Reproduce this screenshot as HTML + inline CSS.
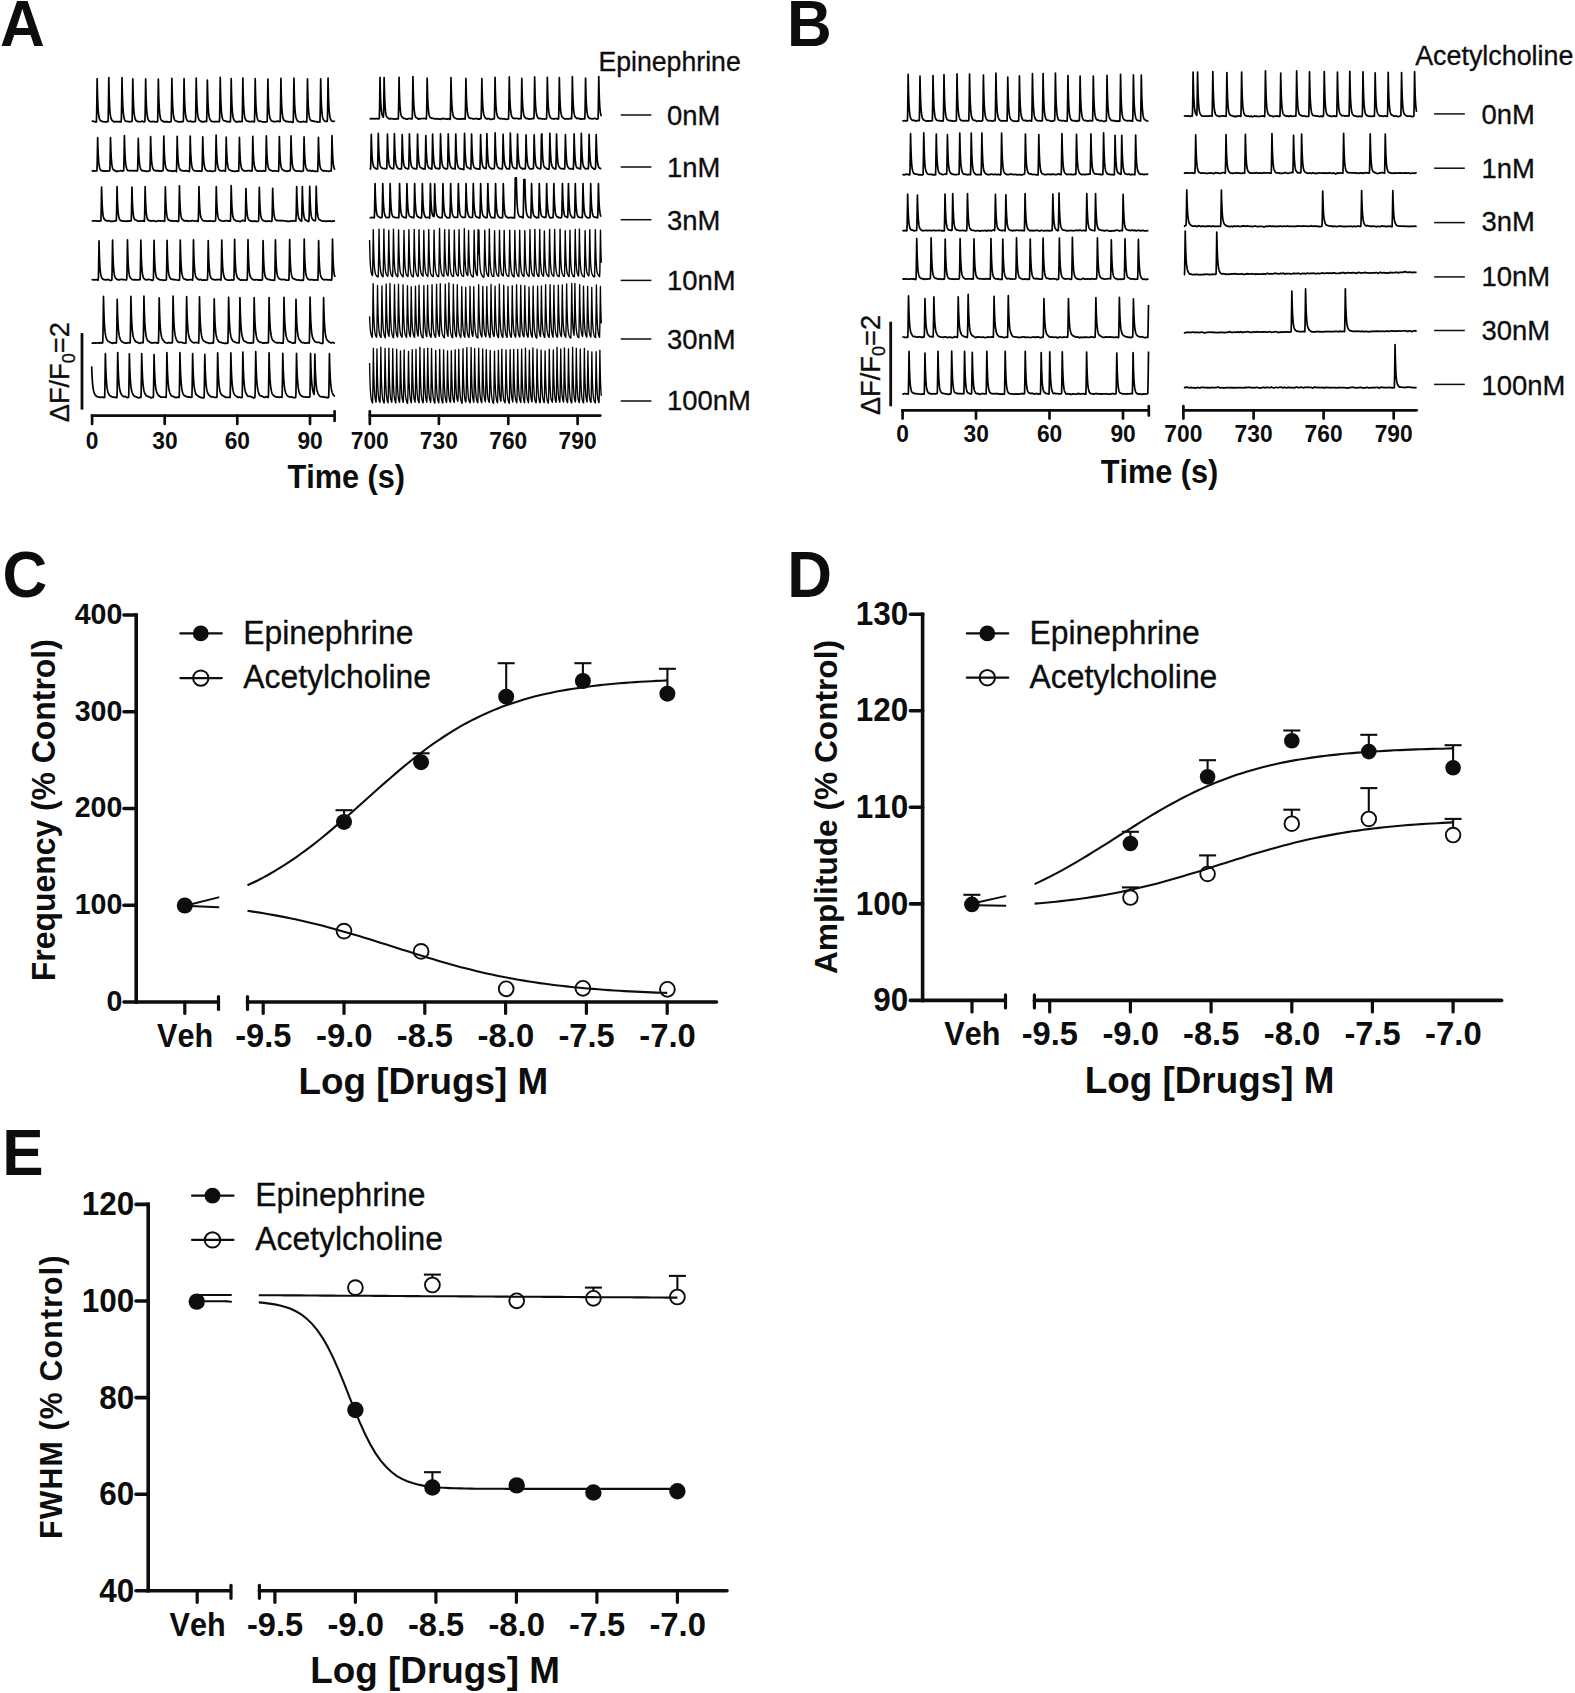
<!DOCTYPE html>
<html lang="en">
<head>
<meta charset="utf-8">
<title>Figure: Epinephrine and acetylcholine effects</title>
<style>
html,body{margin:0;padding:0;background:#fff;}
body{width:1575px;height:1693px;overflow:hidden;}
svg{display:block;}
text{white-space:pre;}
</style>
</head>
<body>
<svg width="1575" height="1693" viewBox="0 0 1575 1693">
<rect width="1575" height="1693" fill="#fff"/>
<g fill="none" stroke="#000" stroke-linejoin="round">
<polyline points="91.66,121.5 91.91,121.3 92.16,121.3 92.41,121.2 92.66,121.2 92.91,121.2 93.16,121.2 93.41,121.3 93.66,121.4 93.91,121.4 94.16,121.5 94.41,121.7 94.66,121.8 94.91,121.8 95.16,121.8 95.41,121.8 95.66,121.8 95.91,121.8 96.16,121.8 96.41,121.9 96.66,112.3 96.91,96.2 97.14,78.7 97.16,79.4 97.41,91.1 97.66,99.4 97.91,105.3 98.16,109.5 98.41,112.5 98.66,114.8 98.91,116.5 99.16,117.8 99.41,118.6 99.66,119.4 99.91,119.9 100.16,120.1 100.41,120.4 100.66,120.6 100.91,120.8 101.16,121.0 101.41,121.1 101.66,121.2 101.91,121.3 102.16,121.4 102.41,121.5 102.66,121.5 102.91,121.5 103.16,121.6 103.41,121.7 103.66,121.8 103.91,121.8 104.16,121.9 104.41,122.0 104.66,121.9 104.91,121.9 105.16,121.9 105.41,121.9 105.66,121.8 105.91,121.8 106.16,121.6 106.41,121.8 106.66,121.8 106.91,121.6 107.16,121.6 107.41,121.6 107.66,121.5 107.91,121.7 108.16,120.0 108.41,106.4 108.66,88.6 108.80,77.5 108.91,83.4 109.16,93.9 109.41,101.3 109.66,106.7 109.91,110.5 110.16,113.3 110.41,115.3 110.66,116.7 110.91,117.8 111.16,118.7 111.41,119.3 111.66,119.7 111.91,120.0 112.16,120.5 112.41,120.7 112.66,120.7 112.91,121.0 113.16,121.1 113.41,121.5 113.66,121.6 113.91,121.6 114.16,121.5 114.41,121.8 114.66,121.9 114.91,121.8 115.16,121.6 115.41,121.7 115.66,121.7 115.91,121.8 116.16,121.7 116.41,121.5 116.66,121.6 116.91,121.7 117.16,121.7 117.41,121.8 117.66,121.8 117.91,121.7 118.16,121.6 118.41,121.5 118.66,121.5 118.91,121.5 119.16,121.5 119.41,121.6 119.66,121.9 119.91,122.1 120.16,122.0 120.41,122.0 120.66,121.9 120.91,121.8 121.16,121.6 121.41,117.6 121.66,103.1 121.91,84.8 122.00,77.6 122.16,85.9 122.41,95.6 122.66,102.6 122.91,107.6 123.16,111.1 123.41,113.7 123.66,115.5 123.91,117.1 124.16,118.3 124.41,119.2 124.66,119.9 124.91,120.2 125.16,120.7 125.41,121.1 125.66,121.2 125.91,121.3 126.16,121.4 126.41,121.3 126.66,121.3 126.91,121.4 127.16,121.3 127.41,121.4 127.66,121.3 127.91,121.4 128.16,121.5 128.41,121.6 128.66,121.7 128.91,121.8 129.16,121.7 129.41,121.8 129.66,121.7 129.91,121.7 130.16,121.6 130.41,121.7 130.66,121.6 130.91,121.7 131.16,121.6 131.41,121.6 131.66,121.6 131.91,121.5 132.16,119.8 132.41,106.9 132.66,89.7 132.80,78.9 132.91,84.6 133.16,94.8 133.41,102.0 133.66,107.1 133.91,110.8 134.16,113.5 134.41,115.4 134.66,116.8 134.91,117.9 135.16,118.7 135.41,119.3 135.66,120.0 135.91,120.2 136.16,120.6 136.41,120.9 136.66,121.1 136.91,121.3 137.16,121.4 137.41,121.5 137.66,121.5 137.91,121.6 138.16,121.5 138.41,121.4 138.66,121.5 138.91,121.6 139.16,121.7 139.41,121.7 139.66,121.8 139.91,121.8 140.16,121.9 140.41,121.8 140.66,121.5 140.91,121.5 141.16,121.4 141.41,121.3 141.66,121.2 141.91,121.1 142.16,121.1 142.41,121.3 142.66,121.4 142.91,121.5 143.16,121.7 143.41,121.8 143.66,121.7 143.91,121.8 144.16,121.8 144.41,121.6 144.66,121.6 144.91,121.6 145.16,113.1 145.41,97.3 145.66,78.9 145.91,90.7 146.16,99.1 146.41,105.1 146.66,109.4 146.91,112.4 147.16,114.8 147.41,116.5 147.66,117.8 147.91,118.8 148.16,119.4 148.41,119.9 148.66,120.5 148.91,120.8 149.16,121.0 149.41,121.2 149.66,121.4 149.91,121.5 150.16,121.5 150.41,121.6 150.66,121.5 150.91,121.6 151.16,121.6 151.41,121.5 151.66,121.6 151.91,121.7 152.16,121.5 152.41,121.6 152.66,121.6 152.91,121.4 153.16,121.5 153.41,121.4 153.66,121.4 153.91,121.6 154.16,121.5 154.41,121.6 154.66,121.7 154.91,121.9 155.16,121.9 155.41,121.9 155.66,121.9 155.91,121.8 156.16,121.7 156.41,121.9 156.66,121.8 156.91,121.8 157.16,121.8 157.41,121.7 157.66,121.4 157.91,109.5 158.16,92.9 158.34,79.2 158.41,82.5 158.66,93.3 158.91,100.9 159.16,106.4 159.41,110.2 159.66,113.0 159.91,115.1 160.16,116.5 160.41,117.9 160.66,118.7 160.91,119.4 161.16,119.9 161.41,120.3 161.66,120.6 161.91,120.7 162.16,120.6 162.41,120.9 162.66,121.1 162.91,121.2 163.16,121.2 163.41,121.7 163.66,121.8 163.91,121.7 164.16,121.7 164.41,121.6 164.66,121.8 164.91,121.8 165.16,121.5 165.41,121.6 165.66,121.9 165.91,122.0 166.16,121.8 166.41,121.7 166.66,121.6 166.91,121.8 167.16,121.7 167.41,121.7 167.66,121.6 167.91,122.0 168.16,122.0 168.41,122.0 168.66,122.0 168.91,122.1 169.16,122.0 169.41,121.9 169.66,122.0 169.91,122.0 170.16,122.0 170.41,121.9 170.66,121.7 170.91,121.6 171.16,121.4 171.41,111.7 171.66,95.4 171.89,78.3 171.91,79.4 172.16,91.1 172.41,99.4 172.66,105.3 172.91,109.5 173.16,112.5 173.41,114.8 173.66,116.5 173.91,117.8 174.16,118.6 174.41,119.3 174.66,119.9 174.91,120.3 175.16,120.5 175.41,120.6 175.66,120.7 175.91,120.9 176.16,121.2 176.41,121.2 176.66,121.3 176.91,121.3 177.16,121.4 177.41,121.5 177.66,121.6 177.91,121.7 178.16,121.8 178.41,121.7 178.66,121.6 178.91,121.8 179.16,121.8 179.41,121.9 179.66,121.9 179.91,121.8 180.16,121.8 180.41,121.8 180.66,121.7 180.91,121.8 181.16,121.6 181.41,121.5 181.66,121.6 181.91,121.7 182.16,121.5 182.41,121.6 182.66,121.5 182.91,121.6 183.16,121.6 183.41,120.2 183.66,107.2 183.91,90.0 184.06,78.7 184.16,83.9 184.41,94.3 184.66,101.7 184.91,106.9 185.16,110.7 185.41,113.4 185.66,115.3 185.91,116.8 186.16,117.9 186.41,118.7 186.66,119.4 186.91,120.0 187.16,120.5 187.41,120.8 187.66,121.0 187.91,121.2 188.16,121.3 188.41,121.4 188.66,121.4 188.91,121.3 189.16,121.3 189.41,121.3 189.66,121.3 189.91,121.3 190.16,121.2 190.41,121.2 190.66,121.3 190.91,121.2 191.16,121.4 191.41,121.6 191.66,121.5 191.91,121.8 192.16,121.7 192.41,121.7 192.66,121.8 192.91,121.7 193.16,121.6 193.41,121.8 193.66,121.5 193.91,121.6 194.16,121.5 194.41,121.5 194.66,121.7 194.91,121.4 195.16,121.4 195.41,121.4 195.66,116.7 195.91,101.9 196.16,83.5 196.23,78.0 196.41,87.1 196.66,96.5 196.91,103.2 197.16,108.0 197.41,111.5 197.66,114.0 197.91,115.9 198.16,117.3 198.41,118.2 198.66,119.0 198.91,119.5 199.16,120.0 199.41,120.3 199.66,120.6 199.91,120.8 200.16,120.9 200.41,121.1 200.66,121.4 200.91,121.3 201.16,121.3 201.41,121.4 201.66,121.4 201.91,121.7 202.16,121.8 202.41,121.7 202.66,121.8 202.91,121.8 203.16,121.6 203.41,121.8 203.66,121.8 203.91,121.6 204.16,121.7 204.41,121.6 204.66,121.4 204.91,121.5 205.16,121.5 205.41,121.4 205.66,121.4 205.91,121.4 206.16,121.4 206.41,121.6 206.66,121.6 206.91,111.4 207.16,95.6 207.37,80.1 207.41,82.0 207.66,92.9 207.91,100.7 208.16,106.2 208.41,110.2 208.66,113.1 208.91,115.1 209.16,116.6 209.41,117.7 209.66,118.5 209.91,119.2 210.16,119.6 210.41,120.0 210.66,120.5 210.91,120.8 211.16,121.1 211.41,121.2 211.66,121.3 211.91,121.5 212.16,121.5 212.41,121.6 212.66,121.5 212.91,121.6 213.16,121.6 213.41,121.6 213.66,121.5 213.91,121.5 214.16,121.6 214.41,121.8 214.66,121.8 214.91,121.7 215.16,121.7 215.41,121.7 215.66,121.6 215.91,121.6 216.16,121.6 216.41,121.5 216.66,121.7 216.91,121.6 217.16,121.6 217.41,121.6 217.66,121.6 217.91,121.6 218.16,121.6 218.41,121.7 218.66,121.6 218.91,121.7 219.16,121.8 219.41,121.6 219.66,116.6 219.91,101.6 220.16,82.9 220.23,77.3 220.41,86.6 220.66,96.2 220.91,103.0 221.16,107.8 221.41,111.4 221.66,114.0 221.91,115.8 222.16,117.1 222.41,118.2 222.66,118.9 222.91,119.6 223.16,120.0 223.41,120.3 223.66,120.5 223.91,120.7 224.16,120.9 224.41,120.9 224.66,120.9 224.91,120.9 225.16,120.8 225.41,121.0 225.66,121.0 225.91,121.1 226.16,121.3 226.41,121.4 226.66,121.7 226.91,121.8 227.16,121.7 227.41,121.8 227.66,121.7 227.91,121.6 228.16,121.6 228.41,121.6 228.66,121.6 228.91,121.5 229.16,121.6 229.41,121.8 229.66,121.7 229.91,121.9 230.16,121.6 230.41,121.6 230.66,115.4 230.91,100.2 231.16,81.8 231.20,78.6 231.41,88.9 231.66,97.8 231.91,104.1 232.16,108.7 232.41,111.9 232.66,114.3 232.91,116.2 233.16,117.6 233.41,118.4 233.66,119.2 233.91,119.7 234.16,120.0 234.41,120.5 234.66,120.9 234.91,120.9 235.16,121.3 235.41,121.4 235.66,121.4 235.91,121.8 236.16,121.7 236.41,121.7 236.66,121.9 236.91,121.9 237.16,122.0 237.41,121.9 237.66,121.7 237.91,121.8 238.16,121.7 238.41,121.6 238.66,121.4 238.91,121.3 239.16,121.4 239.41,121.6 239.66,121.5 239.91,121.5 240.16,121.5 240.41,121.7 240.66,121.6 240.91,121.7 241.16,121.5 241.41,121.7 241.66,121.7 241.91,121.7 242.16,121.6 242.41,110.1 242.66,93.3 242.86,78.1 242.91,80.9 243.16,92.1 243.41,100.1 243.66,105.8 243.91,109.9 244.16,112.8 244.41,115.1 244.66,116.6 244.91,117.7 245.16,118.5 245.41,119.0 245.66,119.7 245.91,120.1 246.16,120.4 246.41,120.7 246.66,120.9 246.91,120.9 247.16,121.2 247.41,121.1 247.66,121.0 247.91,121.1 248.16,121.0 248.41,121.4 248.66,121.7 248.91,121.6 249.16,121.5 249.41,121.7 249.66,121.5 249.91,121.7 250.16,121.6 250.41,121.5 250.66,121.6 250.91,121.7 251.16,121.5 251.41,121.6 251.66,121.4 251.91,121.5 252.16,121.4 252.41,121.4 252.66,121.4 252.91,121.6 253.16,121.6 253.41,121.6 253.66,121.8 253.91,121.9 254.16,121.9 254.41,121.9 254.66,115.4 254.91,100.3 255.16,81.9 255.20,78.7 255.41,88.9 255.66,97.8 255.91,104.1 256.16,108.7 256.41,112.0 256.66,114.5 256.91,116.2 257.16,117.5 257.41,118.6 257.66,119.3 257.91,119.9 258.16,120.4 258.41,120.7 258.66,120.9 258.91,121.2 259.16,121.1 259.41,121.1 259.66,121.3 259.91,121.2 260.16,121.2 260.41,121.3 260.66,121.2 260.91,121.4 261.16,121.4 261.41,121.4 261.66,121.6 261.91,121.6 262.16,121.8 262.41,122.0 262.66,121.9 262.91,121.8 263.16,121.9 263.41,121.8 263.66,121.9 263.91,121.8 264.16,121.8 264.41,122.0 264.66,122.0 264.91,122.1 265.16,122.0 265.41,121.9 265.66,121.9 265.91,121.9 266.16,121.9 266.41,121.8 266.66,121.7 266.91,121.7 267.16,121.7 267.41,112.0 267.66,95.9 267.89,79.0 267.91,80.1 268.16,91.6 268.41,99.7 268.66,105.5 268.91,109.6 269.16,112.6 269.41,114.8 269.66,116.3 269.91,117.5 270.16,118.5 270.41,119.2 270.66,119.7 270.91,120.0 271.16,120.4 271.41,120.7 271.66,120.8 271.91,121.0 272.16,121.1 272.41,121.1 272.66,121.3 272.91,121.4 273.16,121.5 273.41,121.6 273.66,121.4 273.91,121.5 274.16,121.7 274.41,121.5 274.66,121.6 274.91,121.5 275.16,121.5 275.41,121.7 275.66,121.7 275.91,121.7 276.16,121.7 276.41,121.5 276.66,121.4 276.91,121.4 277.16,121.3 277.41,121.1 277.66,121.1 277.91,121.1 278.16,121.0 278.41,121.4 278.66,121.4 278.91,121.4 279.16,121.6 279.41,121.7 279.66,121.7 279.91,121.7 280.16,121.4 280.41,113.4 280.66,97.6 280.91,78.6 280.92,78.4 281.16,90.0 281.41,98.6 281.66,104.7 281.91,109.0 282.16,112.2 282.41,114.6 282.66,116.4 282.91,117.6 283.16,118.6 283.41,119.2 283.66,119.9 283.91,120.1 284.16,120.2 284.41,120.3 284.66,120.5 284.91,120.6 285.16,121.0 285.41,121.1 285.66,121.2 285.91,121.4 286.16,121.5 286.41,121.7 286.66,121.6 286.91,121.3 287.16,121.3 287.41,121.6 287.66,121.6 287.91,121.6 288.16,121.6 288.41,121.7 288.66,122.0 288.91,122.0 289.16,121.8 289.41,121.8 289.66,121.8 289.91,121.6 290.16,121.6 290.41,121.6 290.66,121.7 290.91,121.7 291.16,121.8 291.41,122.0 291.66,122.2 291.91,122.2 292.16,122.3 292.41,122.3 292.66,122.2 292.91,122.3 293.16,122.2 293.41,115.2 293.66,99.4 293.91,80.6 293.94,78.2 294.16,88.6 294.41,97.6 294.66,104.0 294.91,108.5 295.16,111.8 295.41,114.1 295.66,115.8 295.91,117.0 296.16,118.0 296.41,118.7 296.66,119.3 296.91,119.9 297.16,120.4 297.41,120.8 297.66,121.0 297.91,121.1 298.16,121.4 298.41,121.6 298.66,121.6 298.91,121.6 299.16,121.5 299.41,121.6 299.66,121.6 299.91,121.8 300.16,121.7 300.41,121.8 300.66,121.8 300.91,121.8 301.16,121.9 301.41,121.9 301.66,121.9 301.91,121.8 302.16,121.8 302.41,121.7 302.66,121.6 302.91,121.5 303.16,121.4 303.41,121.3 303.66,121.6 303.91,121.6 304.16,121.7 304.41,121.8 304.66,121.8 304.91,121.8 305.16,121.7 305.41,121.6 305.66,121.6 305.91,121.8 306.16,121.6 306.41,121.8 306.66,122.1 306.91,117.6 307.16,102.7 307.41,84.7 307.49,78.8 307.66,87.3 307.91,96.7 308.16,103.4 308.41,108.1 308.66,111.6 308.91,114.0 309.16,115.8 309.41,117.1 309.66,118.2 309.91,119.0 310.16,119.6 310.41,119.9 310.66,120.3 310.91,120.4 311.16,120.7 311.41,120.8 311.66,120.8 311.91,120.7 312.16,121.0 312.41,121.1 312.66,121.1 312.91,120.9 313.16,121.0 313.41,121.1 313.66,121.2 313.91,121.2 314.16,121.2 314.41,121.4 314.66,121.7 314.91,121.7 315.16,121.7 315.41,121.7 315.66,121.7 315.91,121.7 316.16,121.6 316.41,121.5 316.66,121.7 316.91,121.8 317.16,121.9 317.41,122.1 317.66,122.1 317.91,122.0 318.16,122.0 318.41,121.9 318.66,121.8 318.91,121.7 319.16,121.7 319.41,121.7 319.66,122.0 319.91,122.1 320.16,114.8 320.41,99.3 320.66,80.8 320.69,78.8 320.91,89.5 321.16,98.2 321.41,104.4 321.66,108.9 321.91,112.2 322.16,114.5 322.41,116.2 322.66,117.4 322.91,118.3 323.16,119.0 323.41,119.3 323.66,119.9 323.91,120.1 324.16,120.5 324.41,120.8 324.66,121.0 324.91,121.3 325.16,121.4 325.41,121.4 325.66,121.4 325.91,121.5 326.16,121.4 326.41,121.4 326.66,121.2 326.91,121.3 327.16,121.3 327.41,120.1 327.66,107.1 327.91,89.6 328.06,78.0 328.16,83.4 328.41,93.9 328.66,101.4 328.91,106.7 329.16,110.4 329.41,113.1 329.66,115.1 329.91,116.6 330.16,117.7 330.41,118.6 330.66,119.4 330.91,119.8 331.16,120.3 331.41,120.6 331.66,120.8 331.91,121.0 332.16,121.2 332.41,121.1 332.66,121.3 332.91,121.3 333.16,121.3 333.41,121.2 333.66,121.3 333.91,121.4 334.16,121.4 334.41,121.4 334.66,121.4 334.91,121.6" stroke-width="1.7"/>
<polyline points="91.66,171.1 91.91,171.0 92.16,171.0 92.41,171.1 92.66,171.0 92.91,170.7 93.16,170.8 93.41,170.9 93.66,171.0 93.91,171.0 94.16,170.9 94.41,170.9 94.66,171.1 94.91,171.1 95.16,171.0 95.41,171.0 95.66,171.0 95.91,170.9 96.16,170.9 96.41,170.8 96.66,170.9 96.91,170.9 97.16,164.3 97.41,152.0 97.66,137.7 97.91,146.9 98.16,153.4 98.41,158.1 98.66,161.4 98.91,163.7 99.16,165.5 99.41,166.8 99.66,167.8 99.91,168.6 100.16,169.1 100.41,169.7 100.66,170.2 100.91,170.4 101.16,170.6 101.41,170.7 101.66,170.7 101.91,170.7 102.16,170.9 102.41,170.7 102.66,170.7 102.91,170.8 103.16,170.9 103.41,171.2 103.66,171.2 103.91,171.2 104.16,171.2 104.41,171.3 104.66,171.2 104.91,171.1 105.16,170.9 105.41,170.8 105.66,170.8 105.91,170.8 106.16,170.9 106.41,171.0 106.66,171.2 106.91,171.1 107.16,171.1 107.41,171.1 107.66,171.1 107.91,171.0 108.16,170.9 108.41,170.9 108.66,171.0 108.91,171.0 109.16,171.0 109.41,170.9 109.66,170.9 109.91,168.4 110.16,157.5 110.41,143.7 110.51,137.6 110.66,143.1 110.91,150.8 111.16,156.2 111.41,160.0 111.66,162.8 111.91,164.8 112.16,166.2 112.41,167.4 112.66,168.3 112.91,168.9 113.16,169.4 113.41,169.6 113.66,169.9 113.91,170.2 114.16,170.3 114.41,170.5 114.66,170.3 114.91,170.3 115.16,170.5 115.41,170.7 115.66,170.8 115.91,170.9 116.16,171.1 116.41,171.5 116.66,171.6 116.91,171.5 117.16,171.4 117.41,171.5 117.66,171.2 117.91,171.2 118.16,171.1 118.41,171.0 118.66,171.1 118.91,171.0 119.16,171.0 119.41,171.0 119.66,171.0 119.91,170.8 120.16,170.8 120.41,170.7 120.66,170.7 120.91,170.7 121.16,170.7 121.41,170.7 121.66,170.8 121.91,171.0 122.16,171.0 122.41,171.1 122.66,171.0 122.91,170.9 123.16,171.0 123.41,170.9 123.66,170.8 123.91,163.6 124.16,150.5 124.40,135.7 124.41,136.1 124.66,145.8 124.91,152.6 125.16,157.5 125.41,160.9 125.66,163.4 125.91,165.2 126.16,166.5 126.41,167.8 126.66,168.6 126.91,169.2 127.16,169.6 127.41,170.1 127.66,170.4 127.91,170.7 128.16,170.7 128.41,170.7 128.66,170.6 128.91,170.6 129.16,170.6 129.41,170.6 129.66,170.5 129.91,170.6 130.16,170.6 130.41,170.8 130.66,170.9 130.91,170.7 131.16,170.8 131.41,170.7 131.66,170.7 131.91,170.7 132.16,170.7 132.41,170.6 132.66,170.6 132.91,170.6 133.16,170.6 133.41,170.8 133.66,170.8 133.91,170.8 134.16,170.9 134.41,170.9 134.66,170.7 134.91,170.8 135.16,170.6 135.41,170.5 135.66,170.5 135.91,170.5 136.16,170.6 136.41,170.8 136.66,170.9 136.91,170.9 137.16,170.9 137.41,171.0 137.66,169.3 137.91,159.0 138.16,145.7 138.29,138.4 138.41,143.1 138.66,150.8 138.91,156.2 139.16,160.0 139.41,162.7 139.66,164.7 139.91,166.2 140.16,167.2 140.41,168.0 140.66,168.8 140.91,169.4 141.16,169.8 141.41,170.0 141.66,170.3 141.91,170.7 142.16,170.8 142.41,170.7 142.66,170.7 142.91,170.8 143.16,170.8 143.41,170.7 143.66,170.7 143.91,170.8 144.16,170.9 144.41,170.9 144.66,170.9 144.91,171.1 145.16,171.0 145.41,171.0 145.66,171.2 145.91,171.3 146.16,171.2 146.41,171.2 146.66,171.3 146.91,171.5 147.16,171.5 147.41,171.5 147.66,171.2 147.91,171.3 148.16,171.2 148.41,171.1 148.66,171.0 148.91,170.9 149.16,170.7 149.41,170.7 149.66,170.6 149.91,170.7 150.16,162.8 150.41,149.9 150.63,136.7 150.66,138.1 150.91,147.2 151.16,153.6 151.41,158.2 151.66,161.5 151.91,163.8 152.16,165.4 152.41,166.6 152.66,167.7 152.91,168.4 153.16,168.9 153.41,169.4 153.66,169.9 153.91,170.1 154.16,170.3 154.41,170.3 154.66,170.4 154.91,170.5 155.16,170.7 155.41,170.5 155.66,170.6 155.91,170.8 156.16,170.9 156.41,170.9 156.66,170.9 156.91,170.6 157.16,170.7 157.41,170.8 157.66,170.6 157.91,170.5 158.16,170.6 158.41,170.7 158.66,171.0 158.91,171.1 159.16,170.9 159.41,171.0 159.66,171.0 159.91,171.1 160.16,171.1 160.41,171.1 160.66,171.1 160.91,171.1 161.16,171.1 161.41,171.2 161.66,170.9 161.91,170.9 162.16,170.8 162.41,170.6 162.66,170.7 162.91,170.7 163.16,170.2 163.41,160.3 163.66,146.5 163.83,136.0 163.91,139.5 164.16,148.2 164.41,154.3 164.66,158.7 164.91,161.8 165.16,164.1 165.41,165.6 165.66,166.8 165.91,167.6 166.16,168.3 166.41,168.8 166.66,169.2 166.91,169.4 167.16,169.9 167.41,170.1 167.66,170.4 167.91,170.6 168.16,170.7 168.41,170.5 168.66,170.7 168.91,170.8 169.16,170.9 169.41,170.8 169.66,170.7 169.91,170.8 170.16,171.0 170.41,170.9 170.66,170.7 170.91,170.8 171.16,170.8 171.41,170.9 171.66,170.9 171.91,170.9 172.16,171.2 172.41,171.2 172.66,171.1 172.91,171.3 173.16,171.1 173.41,171.0 173.66,171.2 173.91,171.1 174.16,171.0 174.41,170.9 174.66,170.7 174.91,170.8 175.16,170.9 175.41,170.9 175.66,171.0 175.91,171.2 176.16,171.4 176.41,171.6 176.66,166.1 176.91,153.8 177.16,139.0 177.20,136.4 177.41,144.7 177.66,151.8 177.91,156.9 178.16,160.5 178.41,163.0 178.66,164.8 178.91,166.2 179.16,167.2 179.41,168.1 179.66,168.7 179.91,169.2 180.16,169.6 180.41,170.0 180.66,170.2 180.91,170.3 181.16,170.5 181.41,170.6 181.66,170.6 181.91,170.6 182.16,170.6 182.41,170.7 182.66,170.7 182.91,170.8 183.16,170.8 183.41,170.9 183.66,170.9 183.91,171.0 184.16,171.0 184.41,170.8 184.66,170.8 184.91,171.0 185.16,170.8 185.41,170.7 185.66,170.6 185.91,170.6 186.16,170.7 186.41,170.7 186.66,170.7 186.91,170.8 187.16,171.1 187.41,171.2 187.66,171.3 187.91,171.2 188.16,171.2 188.41,171.1 188.66,171.3 188.91,171.4 189.16,171.3 189.41,171.5 189.66,167.4 189.91,155.2 190.16,140.5 190.23,136.1 190.41,143.4 190.66,150.9 190.91,156.3 191.16,160.1 191.41,162.8 191.66,164.8 191.91,166.2 192.16,167.3 192.41,168.3 192.66,168.8 192.91,169.4 193.16,169.7 193.41,170.0 193.66,170.3 193.91,170.4 194.16,170.6 194.41,170.8 194.66,170.9 194.91,170.9 195.16,170.9 195.41,170.8 195.66,170.9 195.91,170.8 196.16,170.9 196.41,171.0 196.66,170.9 196.91,171.0 197.16,171.2 197.41,171.2 197.66,171.2 197.91,171.0 198.16,171.1 198.41,171.1 198.66,171.2 198.91,171.0 199.16,170.9 199.41,170.9 199.66,171.0 199.91,171.1 200.16,171.2 200.41,171.1 200.66,171.2 200.91,171.0 201.16,171.1 201.41,171.1 201.66,171.0 201.91,170.9 202.16,167.7 202.41,156.2 202.66,141.8 202.74,136.8 202.91,143.3 203.16,150.9 203.41,156.2 203.66,160.1 203.91,162.7 204.16,164.6 204.41,166.1 204.66,167.1 204.91,168.0 205.16,168.7 205.41,169.2 205.66,169.6 205.91,169.9 206.16,170.0 206.41,170.3 206.66,170.5 206.91,170.6 207.16,170.7 207.41,171.0 207.66,171.0 207.91,171.1 208.16,171.1 208.41,171.0 208.66,171.0 208.91,171.0 209.16,170.8 209.41,170.8 209.66,170.7 209.91,170.8 210.16,170.9 210.41,171.0 210.66,171.1 210.91,171.2 211.16,171.2 211.41,171.2 211.66,171.3 211.91,171.4 212.16,171.4 212.41,171.4 212.66,171.4 212.91,171.4 213.16,171.3 213.41,171.1 213.66,171.1 213.91,171.0 214.16,171.0 214.41,170.9 214.66,170.9 214.91,170.9 215.16,170.8 215.41,170.7 215.66,161.7 215.91,148.1 216.12,135.2 216.16,137.1 216.41,146.4 216.66,153.1 216.91,157.8 217.16,161.1 217.41,163.5 217.66,165.3 217.91,166.6 218.16,167.6 218.41,168.3 218.66,168.9 218.91,169.4 219.16,169.9 219.41,170.1 219.66,170.3 219.91,170.5 220.16,170.6 220.41,170.6 220.66,170.7 220.91,170.7 221.16,170.8 221.41,170.8 221.66,170.8 221.91,170.8 222.16,170.9 222.41,170.7 222.66,170.7 222.91,170.6 223.16,170.6 223.41,170.6 223.66,170.7 223.91,170.6 224.16,170.8 224.41,170.8 224.66,170.9 224.91,170.9 225.16,171.0 225.41,171.1 225.66,167.3 225.91,155.7 226.16,141.4 226.23,137.2 226.41,144.2 226.66,151.5 226.91,156.7 227.16,160.4 227.41,163.1 227.66,165.0 227.91,166.4 228.16,167.4 228.41,168.3 228.66,168.9 228.91,169.3 229.16,169.6 229.41,169.7 229.66,169.9 229.91,170.1 230.16,170.2 230.41,170.3 230.66,170.5 230.91,170.5 231.16,170.7 231.41,170.9 231.66,170.9 231.91,170.9 232.16,170.9 232.41,170.9 232.66,171.0 232.91,171.1 233.16,171.0 233.41,171.1 233.66,171.1 233.91,171.2 234.16,171.4 234.41,171.4 234.66,171.3 234.91,171.4 235.16,171.4 235.41,171.3 235.66,171.4 235.91,171.2 236.16,171.0 236.41,171.1 236.66,171.1 236.91,171.0 237.16,171.0 237.41,170.9 237.66,171.1 237.91,171.2 238.16,171.1 238.41,171.0 238.66,171.1 238.91,165.3 239.16,153.1 239.41,138.6 239.43,137.4 239.66,146.1 239.91,152.8 240.16,157.6 240.41,161.0 240.66,163.5 240.91,165.3 241.16,166.5 241.41,167.7 241.66,168.5 241.91,169.0 242.16,169.3 242.41,169.6 242.66,170.0 242.91,170.2 243.16,170.2 243.41,170.4 243.66,170.6 243.91,170.9 244.16,170.9 244.41,170.8 244.66,170.9 244.91,170.9 245.16,171.0 245.41,170.9 245.66,170.9 245.91,170.9 246.16,170.8 246.41,170.9 246.66,170.8 246.91,170.9 247.16,170.8 247.41,170.6 247.66,170.6 247.91,170.8 248.16,170.7 248.41,170.7 248.66,170.5 248.91,170.5 249.16,170.7 249.41,170.8 249.66,170.6 249.91,170.7 250.16,170.6 250.41,170.8 250.66,170.8 250.91,170.9 251.16,171.0 251.41,171.0 251.66,171.1 251.91,171.1 252.16,169.8 252.41,159.0 252.66,145.1 252.80,136.4 252.91,140.9 253.16,149.2 253.41,155.0 253.66,159.2 253.91,162.1 254.16,164.3 254.41,166.0 254.66,167.1 254.91,167.9 255.16,168.5 255.41,169.1 255.66,169.6 255.91,169.9 256.16,170.1 256.41,170.3 256.66,170.7 256.91,170.9 257.16,170.9 257.41,171.0 257.66,171.1 257.91,171.1 258.16,171.1 258.41,171.0 258.66,170.8 258.91,170.8 259.16,170.8 259.41,170.8 259.66,170.8 259.91,170.8 260.16,170.9 260.41,170.9 260.66,171.0 260.91,171.2 261.16,171.2 261.41,171.2 261.66,171.2 261.91,171.1 262.16,171.2 262.41,171.0 262.66,170.7 262.91,170.9 263.16,170.7 263.41,170.8 263.66,170.9 263.91,170.8 264.16,170.9 264.41,170.9 264.66,170.8 264.91,171.1 265.16,171.0 265.41,171.0 265.66,170.8 265.91,160.9 266.16,147.2 266.34,135.9 266.41,138.5 266.66,147.5 266.91,153.8 267.16,158.3 267.41,161.5 267.66,163.8 267.91,165.6 268.16,166.7 268.41,167.7 268.66,168.4 268.91,169.0 269.16,169.3 269.41,169.5 269.66,169.6 269.91,170.0 270.16,170.1 270.41,170.2 270.66,170.3 270.91,170.4 271.16,170.5 271.41,170.6 271.66,170.7 271.91,170.8 272.16,170.8 272.41,170.8 272.66,171.0 272.91,171.2 273.16,171.1 273.41,171.1 273.66,171.0 273.91,170.9 274.16,171.0 274.41,170.9 274.66,170.8 274.91,170.9 275.16,171.0 275.41,170.9 275.66,171.0 275.91,171.0 276.16,171.0 276.41,170.8 276.66,171.0 276.91,171.0 277.16,171.2 277.41,171.1 277.66,171.0 277.91,171.2 278.16,171.4 278.41,171.2 278.66,171.1 278.91,162.5 279.16,149.5 279.37,136.7 279.41,138.2 279.66,147.3 279.91,153.7 280.16,158.2 280.41,161.5 280.66,163.8 280.91,165.6 281.16,166.7 281.41,167.7 281.66,168.4 281.91,169.0 282.16,169.3 282.41,169.5 282.66,169.6 282.91,169.8 283.16,169.8 283.41,170.1 283.66,170.2 283.91,170.4 284.16,170.8 284.41,171.0 284.66,171.0 284.91,171.0 285.16,170.8 285.41,170.9 285.66,171.0 285.91,171.0 286.16,171.0 286.41,171.1 286.66,171.3 286.91,171.4 287.16,171.3 287.41,171.3 287.66,171.0 287.91,170.9 288.16,170.8 288.41,170.8 288.66,170.8 288.91,170.7 289.16,170.7 289.41,170.9 289.66,170.8 289.91,170.8 290.16,170.7 290.41,168.6 290.66,157.8 290.91,143.5 291.03,135.9 291.16,141.3 291.41,149.5 291.66,155.2 291.91,159.3 292.16,162.3 292.41,164.4 292.66,166.0 292.91,167.2 293.16,168.0 293.41,168.8 293.66,169.3 293.91,169.6 294.16,169.9 294.41,170.2 294.66,170.4 294.91,170.5 295.16,170.6 295.41,170.8 295.66,170.9 295.91,171.0 296.16,171.1 296.41,171.1 296.66,171.2 296.91,171.2 297.16,171.2 297.41,171.2 297.66,171.1 297.91,171.0 298.16,171.0 298.41,171.0 298.66,171.0 298.91,170.9 299.16,170.8 299.41,170.9 299.66,171.0 299.91,171.0 300.16,171.2 300.41,171.2 300.66,171.3 300.91,171.4 301.16,171.5 301.41,171.5 301.66,171.3 301.91,171.1 302.16,171.1 302.41,171.2 302.66,171.0 302.91,171.0 303.16,171.0 303.41,170.0 303.66,159.6 303.91,145.9 304.06,136.9 304.16,141.1 304.41,149.3 304.66,155.1 304.91,159.3 305.16,162.3 305.41,164.4 305.66,166.0 305.91,167.2 306.16,167.9 306.41,168.5 306.66,169.0 306.91,169.5 307.16,169.9 307.41,170.3 307.66,170.4 307.91,170.6 308.16,170.9 308.41,170.8 308.66,170.7 308.91,170.7 309.16,170.5 309.41,170.3 309.66,170.3 309.91,170.3 310.16,170.6 310.41,170.9 310.66,171.0 310.91,171.0 311.16,171.0 311.41,171.1 311.66,171.2 311.91,171.0 312.16,170.7 312.41,170.6 312.66,170.7 312.91,170.9 313.16,170.9 313.41,170.9 313.66,171.1 313.91,171.2 314.16,171.4 314.41,171.3 314.66,171.2 314.91,171.2 315.16,171.3 315.41,171.3 315.66,171.3 315.91,171.1 316.16,171.3 316.41,171.3 316.66,171.3 316.91,171.2 317.16,171.2 317.41,171.3 317.66,171.4 317.91,166.5 318.16,154.6 318.41,140.2 318.46,137.3 318.66,145.0 318.91,152.1 319.16,157.1 319.41,160.7 319.66,163.4 319.91,165.4 320.16,166.8 320.41,167.7 320.66,168.4 320.91,169.0 321.16,169.4 321.41,169.6 321.66,170.0 321.91,170.2 322.16,170.3 322.41,170.5 322.66,170.6 322.91,170.7 323.16,171.0 323.41,170.8 323.66,170.6 323.91,170.7 324.16,170.7 324.41,170.8 324.66,170.8 324.91,170.7 325.16,170.8 325.41,171.0 325.66,171.0 325.91,171.0 326.16,170.9 326.41,171.1 326.66,171.0 326.91,171.0 327.16,171.0 327.41,171.0 327.66,171.0 327.91,171.2 328.16,171.2 328.41,171.3 328.66,171.2 328.91,171.3 329.16,171.3 329.41,171.2 329.66,171.2 329.91,171.1 330.16,171.0 330.41,170.9 330.66,171.0 330.91,171.0 331.16,170.9 331.41,167.7 331.66,156.2 331.91,141.5 332.00,135.7 332.16,142.2 332.41,150.1 332.66,155.7 332.91,159.7 333.16,162.6 333.41,164.7 333.66,166.3 333.91,167.3 334.16,168.2 334.41,168.8 334.66,169.2 334.91,169.6" stroke-width="1.7"/>
<polyline points="91.66,221.1 91.91,221.0 92.16,221.0 92.41,221.0 92.66,221.0 92.91,220.9 93.16,220.9 93.41,220.9 93.66,221.0 93.91,220.9 94.16,220.9 94.41,220.9 94.66,220.9 94.91,220.9 95.16,221.0 95.41,220.9 95.66,220.9 95.91,220.8 96.16,220.9 96.41,220.8 96.66,220.8 96.91,220.9 97.16,220.9 97.41,221.1 97.66,221.1 97.91,221.0 98.16,221.1 98.41,221.2 98.66,221.2 98.91,221.0 99.16,220.9 99.41,220.9 99.66,221.0 99.91,221.1 100.16,220.9 100.41,220.9 100.66,221.0 100.91,220.8 101.16,211.6 101.41,198.5 101.60,187.0 101.66,189.5 101.91,198.2 102.16,204.3 102.41,208.7 102.66,211.8 102.91,214.1 103.16,215.8 103.41,217.0 103.66,217.9 103.91,218.5 104.16,219.0 104.41,219.3 104.66,219.5 104.91,219.8 105.16,220.1 105.41,220.4 105.66,220.4 105.91,220.5 106.16,220.7 106.41,220.8 106.66,220.8 106.91,220.8 107.16,220.7 107.41,221.0 107.66,220.9 107.91,220.8 108.16,220.8 108.41,220.7 108.66,220.7 108.91,220.9 109.16,220.8 109.41,220.9 109.66,220.9 109.91,221.0 110.16,221.1 110.41,221.3 110.66,221.3 110.91,221.3 111.16,221.5 111.41,221.4 111.66,221.3 111.91,221.3 112.16,221.2 112.41,221.3 112.66,221.3 112.91,221.2 113.16,221.3 113.41,221.3 113.66,221.2 113.91,221.2 114.16,221.1 114.41,221.0 114.66,220.9 114.91,220.9 115.16,220.9 115.41,220.9 115.66,220.8 115.91,220.7 116.16,220.8 116.41,218.7 116.66,207.9 116.91,193.8 117.03,186.5 117.16,191.8 117.41,199.8 117.66,205.5 117.91,209.5 118.16,212.4 118.41,214.6 118.66,216.1 118.91,217.3 119.16,218.1 119.41,218.8 119.66,219.4 119.91,219.7 120.16,220.0 120.41,220.4 120.66,220.5 120.91,220.7 121.16,220.9 121.41,220.8 121.66,220.9 121.91,221.0 122.16,220.8 122.41,220.8 122.66,220.9 122.91,220.9 123.16,221.0 123.41,221.1 123.66,221.1 123.91,221.2 124.16,221.2 124.41,221.2 124.66,221.2 124.91,221.0 125.16,221.0 125.41,221.3 125.66,221.1 125.91,221.2 126.16,221.1 126.41,221.0 126.66,221.3 126.91,221.4 127.16,221.1 127.41,221.1 127.66,220.9 127.91,221.1 128.16,221.0 128.41,220.9 128.66,220.8 128.91,220.9 129.16,221.0 129.41,221.2 129.66,221.0 129.91,221.1 130.16,220.9 130.41,221.0 130.66,220.9 130.91,220.8 131.16,220.8 131.41,215.7 131.66,203.6 131.91,189.0 131.94,187.1 132.16,195.3 132.41,202.3 132.66,207.3 132.91,210.8 133.16,213.3 133.41,215.2 133.66,216.7 133.91,217.6 134.16,218.4 134.41,219.0 134.66,219.4 134.91,219.7 135.16,219.9 135.41,220.0 135.66,220.0 135.91,220.0 136.16,220.0 136.41,220.3 136.66,220.4 136.91,220.5 137.16,220.5 137.41,220.8 137.66,221.1 137.91,221.0 138.16,221.1 138.41,221.0 138.66,221.0 138.91,221.2 139.16,221.0 139.41,221.0 139.66,221.0 139.91,220.9 140.16,220.9 140.41,221.0 140.66,221.0 140.91,221.1 141.16,221.1 141.41,221.2 141.66,221.2 141.91,221.0 142.16,220.9 142.41,220.8 142.66,220.8 142.91,220.6 143.16,220.6 143.41,220.7 143.66,221.1 143.91,221.2 144.16,221.2 144.41,221.3 144.66,213.6 144.91,200.6 145.14,186.7 145.16,187.3 145.41,196.6 145.66,203.2 145.91,207.9 146.16,211.3 146.41,213.8 146.66,215.6 146.91,217.0 147.16,218.1 147.41,218.8 147.66,219.6 147.91,219.9 148.16,220.0 148.41,220.2 148.66,220.4 148.91,220.5 149.16,220.7 149.41,220.6 149.66,220.7 149.91,220.8 150.16,220.8 150.41,220.7 150.66,220.9 150.91,220.9 151.16,221.1 151.41,221.0 151.66,220.9 151.91,220.9 152.16,220.8 152.41,220.7 152.66,220.8 152.91,220.6 153.16,220.7 153.41,220.7 153.66,220.8 153.91,220.8 154.16,220.9 154.41,220.9 154.66,221.0 154.91,221.0 155.16,221.2 155.41,221.4 155.66,221.5 155.91,221.4 156.16,221.4 156.41,221.3 156.66,221.3 156.91,221.3 157.16,221.0 157.41,221.0 157.66,220.9 157.91,220.7 158.16,220.9 158.41,220.9 158.66,220.6 158.91,220.6 159.16,220.8 159.41,220.9 159.66,221.0 159.91,220.9 160.16,221.0 160.41,221.1 160.66,221.0 160.91,220.9 161.16,220.9 161.41,221.0 161.66,220.9 161.91,220.9 162.16,220.9 162.41,220.9 162.66,221.0 162.91,220.9 163.16,220.9 163.41,221.0 163.66,221.0 163.91,221.1 164.16,221.4 164.41,221.3 164.66,221.2 164.91,212.6 165.16,199.6 165.37,186.9 165.41,188.4 165.66,197.4 165.91,203.8 166.16,208.3 166.41,211.5 166.66,213.8 166.91,215.4 167.16,216.7 167.41,217.7 167.66,218.4 167.91,218.9 168.16,219.5 168.41,220.0 168.66,220.2 168.91,220.2 169.16,220.2 169.41,220.4 169.66,220.5 169.91,220.6 170.16,220.6 170.41,220.6 170.66,220.8 170.91,220.8 171.16,220.8 171.41,220.8 171.66,220.6 171.91,220.7 172.16,220.7 172.41,220.9 172.66,220.9 172.91,220.9 173.16,221.0 173.41,221.2 173.66,221.1 173.91,221.1 174.16,221.0 174.41,221.1 174.66,221.1 174.91,221.1 175.16,220.9 175.41,220.9 175.66,221.0 175.91,220.9 176.16,221.0 176.41,220.9 176.66,221.1 176.91,221.3 177.16,221.2 177.41,221.1 177.66,221.4 177.91,221.4 178.16,221.5 178.41,221.3 178.66,221.2 178.91,215.1 179.16,202.3 179.41,187.0 179.43,185.8 179.66,194.9 179.91,202.0 180.16,207.0 180.41,210.6 180.66,213.3 180.91,215.2 181.16,216.5 181.41,217.5 181.66,218.3 181.91,218.7 182.16,219.2 182.41,219.3 182.66,219.6 182.91,219.8 183.16,220.1 183.41,220.3 183.66,220.4 183.91,220.6 184.16,221.0 184.41,221.0 184.66,220.9 184.91,220.9 185.16,220.8 185.41,220.9 185.66,220.6 185.91,220.6 186.16,220.7 186.41,220.6 186.66,220.8 186.91,220.8 187.16,220.9 187.41,221.1 187.66,221.0 187.91,221.2 188.16,221.3 188.41,221.2 188.66,221.1 188.91,220.9 189.16,221.0 189.41,221.0 189.66,221.0 189.91,221.0 190.16,221.0 190.41,221.2 190.66,221.2 190.91,221.1 191.16,221.1 191.41,220.7 191.66,220.6 191.91,220.6 192.16,220.5 192.41,220.6 192.66,220.5 192.91,220.5 193.16,220.8 193.41,220.9 193.66,220.8 193.91,221.0 194.16,221.0 194.41,221.1 194.66,221.2 194.91,221.0 195.16,221.0 195.41,221.0 195.66,220.8 195.91,220.8 196.16,220.8 196.41,220.7 196.66,220.9 196.91,220.8 197.16,221.1 197.41,221.3 197.66,221.4 197.91,221.4 198.16,221.4 198.41,217.0 198.66,204.9 198.91,190.3 198.97,186.5 199.16,193.9 199.41,201.3 199.66,206.5 199.91,210.3 200.16,213.0 200.41,214.9 200.66,216.3 200.91,217.3 201.16,217.9 201.41,218.4 201.66,218.8 201.91,219.1 202.16,219.5 202.41,219.8 202.66,220.2 202.91,220.5 203.16,220.7 203.41,220.8 203.66,220.8 203.91,221.0 204.16,220.9 204.41,220.8 204.66,220.9 204.91,220.9 205.16,221.0 205.41,221.0 205.66,220.9 205.91,221.0 206.16,221.2 206.41,221.1 206.66,221.0 206.91,221.1 207.16,221.1 207.41,221.1 207.66,221.1 207.91,221.0 208.16,221.1 208.41,221.2 208.66,221.2 208.91,221.1 209.16,220.9 209.41,220.8 209.66,220.9 209.91,220.9 210.16,221.0 210.41,220.9 210.66,221.0 210.91,221.0 211.16,221.2 211.41,221.0 211.66,221.1 211.91,221.1 212.16,221.1 212.41,221.1 212.66,221.2 212.91,221.1 213.16,221.3 213.41,221.3 213.66,221.2 213.91,221.2 214.16,221.3 214.41,221.2 214.66,221.2 214.91,221.0 215.16,220.6 215.41,220.8 215.66,218.9 215.91,208.3 216.16,194.3 216.29,186.6 216.41,191.6 216.66,199.6 216.91,205.4 217.16,209.4 217.41,212.4 217.66,214.6 217.91,216.2 218.16,217.2 218.41,218.0 218.66,218.6 218.91,219.1 219.16,219.5 219.41,219.8 219.66,220.0 219.91,220.1 220.16,220.4 220.41,220.4 220.66,220.5 220.91,220.6 221.16,220.7 221.41,220.8 221.66,221.0 221.91,221.0 222.16,221.0 222.41,221.0 222.66,221.1 222.91,221.1 223.16,221.0 223.41,221.0 223.66,221.0 223.91,221.2 224.16,221.2 224.41,220.9 224.66,220.9 224.91,220.8 225.16,220.8 225.41,220.8 225.66,220.5 225.91,220.5 226.16,220.5 226.41,220.6 226.66,220.6 226.91,220.8 227.16,220.9 227.41,220.9 227.66,220.9 227.91,221.0 228.16,221.1 228.41,221.0 228.66,220.9 228.91,221.0 229.16,221.1 229.41,221.1 229.66,221.1 229.91,220.9 230.16,221.2 230.41,221.2 230.66,215.8 230.91,203.3 231.16,188.1 231.20,185.5 231.41,193.9 231.66,201.3 231.91,206.5 232.16,210.2 232.41,212.9 232.66,214.8 232.91,216.3 233.16,217.4 233.41,218.2 233.66,218.8 233.91,219.3 234.16,219.5 234.41,219.6 234.66,219.8 234.91,220.1 235.16,220.3 235.41,220.4 235.66,220.6 235.91,220.9 236.16,221.0 236.41,221.1 236.66,221.0 236.91,221.0 237.16,221.1 237.41,221.0 237.66,221.1 237.91,221.2 238.16,221.1 238.41,221.2 238.66,221.1 238.91,221.2 239.16,221.5 239.41,221.4 239.66,221.3 239.91,221.5 240.16,221.6 240.41,221.6 240.66,221.5 240.91,221.2 241.16,221.0 241.41,220.9 241.66,220.8 241.91,220.8 242.16,220.6 242.41,220.4 242.66,220.5 242.91,220.4 243.16,220.6 243.41,220.6 243.66,220.3 243.91,220.6 244.16,220.7 244.41,220.8 244.66,221.1 244.91,221.1 245.16,221.0 245.41,216.1 245.66,204.3 245.91,190.3 245.94,188.5 246.16,196.3 246.41,203.0 246.66,207.8 246.91,211.2 247.16,213.7 247.41,215.5 247.66,216.9 247.91,217.9 248.16,218.6 248.41,219.1 248.66,219.7 248.91,220.0 249.16,220.2 249.41,220.4 249.66,220.5 249.91,220.9 250.16,220.9 250.41,220.9 250.66,220.9 250.91,221.0 251.16,221.1 251.41,221.2 251.66,221.0 251.91,221.2 252.16,221.2 252.41,221.3 252.66,221.3 252.91,221.2 253.16,221.3 253.41,221.3 253.66,221.1 253.91,221.0 254.16,221.1 254.41,221.1 254.66,221.2 254.91,221.2 255.16,221.2 255.41,221.2 255.66,221.4 255.91,221.2 256.16,221.3 256.41,221.5 256.66,221.4 256.91,221.5 257.16,221.3 257.41,221.3 257.66,221.3 257.91,221.4 258.16,221.1 258.41,221.0 258.66,220.1 258.91,210.0 259.16,196.6 259.32,187.4 259.41,191.1 259.66,199.3 259.91,205.1 260.16,209.3 260.41,212.3 260.66,214.4 260.91,216.0 261.16,217.1 261.41,218.1 261.66,218.7 261.91,219.2 262.16,219.5 262.41,219.9 262.66,220.1 262.91,220.4 263.16,220.5 263.41,220.6 263.66,220.7 263.91,220.8 264.16,220.9 264.41,221.0 264.66,221.1 264.91,221.0 265.16,221.1 265.41,221.3 265.66,221.2 265.91,221.1 266.16,221.1 266.41,221.2 266.66,221.3 266.91,221.3 267.16,221.2 267.41,221.3 267.66,221.2 267.91,221.2 268.16,221.1 268.41,221.0 268.66,221.0 268.91,220.9 269.16,221.0 269.41,221.0 269.66,221.1 269.91,221.2 270.16,221.3 270.41,221.3 270.66,221.3 270.91,221.3 271.16,221.3 271.41,221.4 271.66,221.2 271.91,221.2 272.16,215.7 272.41,203.9 272.66,189.8 272.69,188.3 272.91,196.4 273.16,203.1 273.41,207.8 273.66,211.2 273.91,213.7 274.16,215.5 274.41,216.7 274.66,217.6 274.91,218.4 275.16,219.1 275.41,219.5 275.66,219.9 275.91,220.1 276.16,220.2 276.41,220.3 276.66,220.5 276.91,220.3 277.16,220.3 277.41,220.3 277.66,220.3 277.91,220.3 278.16,220.6 278.41,220.5 278.66,220.5 278.91,220.6 279.16,220.7 279.41,220.6 279.66,220.7 279.91,220.7 280.16,220.5 280.41,220.7 280.66,220.7 280.91,220.6 281.16,220.9 281.41,220.8 281.66,220.6 281.91,220.7 282.16,220.5 282.41,220.6 282.66,220.6 282.91,220.5 283.16,220.5 283.41,220.7 283.66,220.7 283.91,220.8 284.16,220.8 284.41,220.8 284.66,221.0 284.91,220.9 285.16,221.0 285.41,221.0 285.66,221.0 285.91,221.1 286.16,221.2 286.41,221.2 286.66,221.2 286.91,221.4 287.16,221.5 287.41,221.4 287.66,221.2 287.91,221.4 288.16,221.4 288.41,221.5 288.66,221.3 288.91,221.4 289.16,221.4 289.41,221.5 289.66,221.3 289.91,221.3 290.16,221.3 290.41,221.1 290.66,221.0 290.91,220.9 291.16,220.9 291.41,221.0 291.66,220.9 291.91,220.9 292.16,221.1 292.41,221.1 292.66,221.2 292.91,221.1 293.16,221.0 293.41,220.8 293.66,220.6 293.91,220.7 294.16,220.7 294.41,220.7 294.66,220.8 294.91,220.8 295.16,221.1 295.41,221.2 295.66,221.0 295.91,220.9 296.16,215.4 296.41,203.1 296.66,188.2 296.69,186.6 296.91,195.2 297.16,202.2 297.41,207.2 297.66,210.7 297.91,213.3 298.16,215.1 298.41,216.4 298.66,217.5 298.91,218.2 299.16,218.8 299.41,219.4 299.66,219.7 299.91,219.9 300.16,220.2 300.41,220.5 300.66,220.7 300.91,220.9 301.16,221.0 301.41,220.9 301.66,221.1 301.91,211.2 302.16,197.6 302.34,186.5 302.41,189.1 302.66,197.9 302.91,204.1 303.16,208.5 303.41,211.8 303.66,214.1 303.91,215.8 304.16,217.0 304.41,217.9 304.66,218.6 304.91,219.1 305.16,219.5 305.41,220.0 305.66,220.0 305.91,220.2 306.16,220.4 306.41,220.4 306.66,220.4 306.91,220.6 307.16,220.8 307.41,221.1 307.66,221.2 307.91,221.1 308.16,221.3 308.41,221.5 308.66,221.3 308.91,221.1 309.16,216.5 309.41,204.4 309.66,189.6 309.72,186.3 309.91,193.9 310.16,201.3 310.41,206.5 310.66,210.3 310.91,213.0 311.16,214.9 311.41,216.4 311.66,217.4 311.91,218.2 312.16,218.7 312.41,219.1 312.66,219.5 312.91,219.9 313.16,219.9 313.41,220.2 313.66,220.3 313.91,220.5 314.16,220.6 314.41,220.7 314.66,220.7 314.91,220.7 315.16,220.7 315.41,220.8 315.66,217.0 315.91,205.3 316.16,190.7 316.23,186.3 316.41,193.6 316.66,201.0 316.91,206.4 317.16,210.2 317.41,213.0 317.66,215.0 317.91,216.5 318.16,217.6 318.41,218.3 318.66,218.8 318.91,219.2 319.16,219.3 319.41,219.5 319.66,219.7 319.91,219.8 320.16,220.0 320.41,220.3 320.66,220.4 320.91,220.5 321.16,220.6 321.41,220.6 321.66,220.8 321.91,220.9 322.16,221.0 322.41,221.0 322.66,221.1 322.91,221.1 323.16,221.1 323.41,221.1 323.66,221.1 323.91,221.1 324.16,221.1 324.41,221.1 324.66,221.1 324.91,221.1 325.16,221.1 325.41,221.2 325.66,221.2 325.91,221.2 326.16,221.4 326.41,221.5 326.66,221.4 326.91,221.2 327.16,221.2 327.41,221.1 327.66,221.1 327.91,220.9 328.16,220.9 328.41,221.1 328.66,221.1 328.91,221.1 329.16,221.1 329.41,221.0 329.66,221.1 329.91,220.9 330.16,220.9 330.41,221.2 330.66,221.3 330.91,221.4 331.16,221.4 331.41,221.3 331.66,221.4 331.91,221.4 332.16,221.2 332.41,221.0 332.66,220.9 332.91,221.2 333.16,221.2 333.41,221.1 333.66,221.1 333.91,221.2 334.16,221.1 334.41,221.1 334.66,220.9 334.91,220.9" stroke-width="1.7"/>
<polyline points="91.66,279.9 91.91,279.8 92.16,279.8 92.41,279.8 92.66,279.8 92.91,279.7 93.16,279.6 93.41,279.7 93.66,279.8 93.91,279.8 94.16,279.7 94.41,279.8 94.66,279.9 94.91,279.8 95.16,279.8 95.41,279.7 95.66,279.7 95.91,279.8 96.16,279.7 96.41,279.7 96.66,279.7 96.91,279.8 97.16,279.9 97.41,279.9 97.66,280.1 97.91,280.1 98.16,280.1 98.41,277.7 98.66,265.1 98.91,249.2 99.03,240.9 99.16,246.9 99.41,255.7 99.66,262.1 99.91,266.6 100.16,269.8 100.41,272.1 100.66,273.9 100.91,275.2 101.16,276.1 101.41,277.0 101.66,277.7 101.91,278.1 102.16,278.4 102.41,278.6 102.66,278.9 102.91,279.2 103.16,279.4 103.41,279.4 103.66,279.5 103.91,279.7 104.16,279.8 104.41,279.8 104.66,279.7 104.91,279.6 105.16,279.7 105.41,279.8 105.66,279.8 105.91,279.8 106.16,279.9 106.41,279.9 106.66,279.7 106.91,279.8 107.16,279.7 107.41,279.6 107.66,279.5 107.91,279.4 108.16,279.5 108.41,279.7 108.66,279.6 108.91,279.8 109.16,279.9 109.41,279.9 109.66,280.1 109.91,280.3 110.16,280.3 110.41,280.5 110.66,280.4 110.91,280.5 111.16,280.4 111.41,280.2 111.66,280.2 111.91,279.2 112.16,267.3 112.41,251.5 112.57,240.0 112.66,244.2 112.91,253.9 113.16,260.7 113.41,265.6 113.66,269.2 113.91,271.8 114.16,273.7 114.41,275.1 114.66,276.1 114.91,276.8 115.16,277.4 115.41,277.8 115.66,278.2 115.91,278.5 116.16,278.7 116.41,278.9 116.66,279.2 116.91,279.3 117.16,279.5 117.41,279.6 117.66,279.6 117.91,279.6 118.16,279.6 118.41,279.6 118.66,279.8 118.91,279.7 119.16,279.6 119.41,279.8 119.66,279.8 119.91,279.6 120.16,279.7 120.41,279.5 120.66,279.5 120.91,279.4 121.16,279.3 121.41,279.3 121.66,279.5 121.91,279.4 122.16,279.5 122.41,279.4 122.66,279.6 122.91,279.6 123.16,279.5 123.41,279.6 123.66,279.6 123.91,279.7 124.16,279.7 124.41,279.7 124.66,279.7 124.91,279.8 125.16,279.8 125.41,279.9 125.66,279.9 125.91,280.0 126.16,279.9 126.41,279.9 126.66,279.7 126.91,275.4 127.16,262.1 127.41,245.2 127.49,239.9 127.66,247.7 127.91,256.3 128.16,262.4 128.41,266.8 128.66,270.1 128.91,272.5 129.16,274.2 129.41,275.4 129.66,276.3 129.91,277.0 130.16,277.4 130.41,277.8 130.66,278.1 130.91,278.3 131.16,278.6 131.41,278.8 131.66,279.0 131.91,279.4 132.16,279.5 132.41,279.6 132.66,279.6 132.91,279.8 133.16,279.9 133.41,279.8 133.66,279.7 133.91,279.6 134.16,279.7 134.41,279.8 134.66,279.6 134.91,279.5 135.16,279.8 135.41,279.7 135.66,279.9 135.91,279.9 136.16,279.8 136.41,279.8 136.66,279.9 136.91,279.8 137.16,279.8 137.41,279.8 137.66,279.8 137.91,279.9 138.16,279.8 138.41,279.8 138.66,279.7 138.91,279.7 139.16,279.4 139.41,279.4 139.66,279.4 139.91,279.8 140.16,279.6 140.41,269.3 140.66,254.0 140.86,240.2 140.91,242.7 141.16,252.8 141.41,259.9 141.66,265.0 141.91,268.7 142.16,271.4 142.41,273.4 142.66,275.0 142.91,276.1 143.16,277.0 143.41,277.6 143.66,278.2 143.91,278.5 144.16,278.8 144.41,279.0 144.66,279.2 144.91,279.4 145.16,279.6 145.41,279.5 145.66,279.5 145.91,279.6 146.16,279.8 146.41,279.8 146.66,279.8 146.91,279.8 147.16,279.7 147.41,279.7 147.66,279.5 147.91,279.4 148.16,279.3 148.41,279.4 148.66,279.5 148.91,279.7 149.16,279.7 149.41,279.7 149.66,279.7 149.91,279.7 150.16,279.5 150.41,279.6 150.66,279.6 150.91,279.8 151.16,279.9 151.41,280.0 151.66,280.1 151.91,280.3 152.16,280.3 152.41,280.3 152.66,280.4 152.91,280.2 153.16,280.2 153.41,278.5 153.66,266.6 153.91,250.7 154.06,240.4 154.16,245.1 154.41,254.5 154.66,261.2 154.91,265.9 155.16,269.3 155.41,271.8 155.66,273.7 155.91,275.1 156.16,276.0 156.41,276.8 156.66,277.4 156.91,277.8 157.16,278.1 157.41,278.5 157.66,278.7 157.91,278.9 158.16,278.8 158.41,278.9 158.66,279.2 158.91,279.3 159.16,279.4 159.41,279.5 159.66,279.6 159.91,279.9 160.16,279.9 160.41,279.9 160.66,279.9 160.91,279.8 161.16,279.8 161.41,279.8 161.66,279.9 161.91,279.9 162.16,280.0 162.41,280.0 162.66,280.0 162.91,280.1 163.16,280.3 163.41,280.2 163.66,280.3 163.91,280.2 164.16,280.2 164.41,280.2 164.66,280.3 164.91,280.2 165.16,280.1 165.41,280.1 165.66,280.1 165.91,280.0 166.16,280.0 166.41,279.4 166.66,268.2 166.91,252.7 167.09,240.4 167.16,243.8 167.41,253.6 167.66,260.5 167.91,265.4 168.16,268.9 168.41,271.5 168.66,273.4 168.91,274.6 169.16,275.6 169.41,276.4 169.66,277.1 169.91,277.5 170.16,277.9 170.41,278.4 170.66,278.8 170.91,279.0 171.16,279.1 171.41,279.1 171.66,279.2 171.91,279.3 172.16,279.2 172.41,279.3 172.66,279.4 172.91,279.5 173.16,279.4 173.41,279.6 173.66,279.7 173.91,279.8 174.16,279.7 174.41,279.7 174.66,279.5 174.91,279.7 175.16,279.6 175.41,279.7 175.66,279.8 175.91,279.8 176.16,279.9 176.41,280.0 176.66,280.0 176.91,280.0 177.16,280.0 177.41,280.0 177.66,280.0 177.91,280.2 178.16,280.1 178.41,280.2 178.66,280.3 178.91,280.2 179.16,280.2 179.41,280.2 179.66,277.9 179.91,265.2 180.16,248.9 180.29,240.0 180.41,245.7 180.66,254.9 180.91,261.4 181.16,266.1 181.41,269.4 181.66,271.8 181.91,273.6 182.16,274.9 182.41,275.7 182.66,276.5 182.91,277.3 183.16,277.9 183.41,278.2 183.66,278.6 183.91,278.8 184.16,279.0 184.41,279.0 184.66,279.0 184.91,279.1 185.16,279.3 185.41,279.2 185.66,279.2 185.91,279.6 186.16,279.7 186.41,279.8 186.66,279.8 186.91,279.7 187.16,279.8 187.41,280.0 187.66,279.8 187.91,279.8 188.16,279.9 188.41,279.9 188.66,280.0 188.91,279.9 189.16,279.7 189.41,279.7 189.66,279.6 189.91,279.6 190.16,279.5 190.41,279.5 190.66,279.5 190.91,279.7 191.16,279.7 191.41,279.6 191.66,279.7 191.91,279.9 192.16,280.0 192.41,280.2 192.66,280.2 192.91,276.0 193.16,262.1 193.41,245.2 193.49,239.8 193.66,247.6 193.91,256.3 194.16,262.4 194.41,266.8 194.66,269.9 194.91,272.2 195.16,274.0 195.41,275.2 195.66,276.0 195.91,276.9 196.16,277.5 196.41,277.8 196.66,278.1 196.91,278.2 197.16,278.4 197.41,278.9 197.66,279.0 197.91,279.1 198.16,279.3 198.41,279.4 198.66,279.6 198.91,279.8 199.16,279.6 199.41,279.6 199.66,279.6 199.91,279.5 200.16,279.5 200.41,279.5 200.66,279.4 200.91,279.5 201.16,279.6 201.41,279.8 201.66,280.1 201.91,280.1 202.16,280.0 202.41,280.1 202.66,280.2 202.91,280.2 203.16,280.1 203.41,279.9 203.66,279.9 203.91,279.9 204.16,280.0 204.41,280.1 204.66,280.0 204.91,280.0 205.16,280.1 205.41,280.1 205.66,280.1 205.91,279.8 206.16,279.8 206.41,279.8 206.66,279.9 206.91,279.8 207.16,280.0 207.41,280.0 207.66,275.7 207.91,262.1 208.16,245.7 208.23,240.7 208.41,248.8 208.66,257.1 208.91,263.0 209.16,267.2 209.41,270.2 209.66,272.5 209.91,274.2 210.16,275.5 210.41,276.4 210.66,277.1 210.91,277.6 211.16,278.1 211.41,278.5 211.66,278.7 211.91,278.8 212.16,279.0 212.41,279.1 212.66,279.4 212.91,279.4 213.16,279.4 213.41,279.5 213.66,279.6 213.91,279.6 214.16,279.7 214.41,279.6 214.66,279.8 214.91,279.9 215.16,279.8 215.41,279.8 215.66,279.7 215.91,279.8 216.16,279.9 216.41,279.7 216.66,279.7 216.91,279.7 217.16,279.7 217.41,279.6 217.66,279.6 217.91,279.5 218.16,279.6 218.41,279.5 218.66,279.6 218.91,279.5 219.16,279.5 219.41,279.4 219.66,279.5 219.91,279.7 220.16,279.9 220.41,279.9 220.66,280.0 220.91,280.2 221.16,277.5 221.41,264.4 221.66,248.0 221.77,240.1 221.91,246.4 222.16,255.4 222.41,261.8 222.66,266.4 222.91,269.6 223.16,271.9 223.41,273.6 223.66,275.0 223.91,276.1 224.16,276.9 224.41,277.5 224.66,278.0 224.91,278.5 225.16,279.0 225.41,279.1 225.66,279.3 225.91,279.5 226.16,279.5 226.41,279.7 226.66,279.7 226.91,279.7 227.16,279.8 227.41,280.0 227.66,280.1 227.91,280.2 228.16,280.1 228.41,280.1 228.66,280.1 228.91,280.0 229.16,280.1 229.41,280.0 229.66,280.2 229.91,280.1 230.16,280.1 230.41,280.1 230.66,280.1 230.91,279.9 231.16,279.9 231.41,279.7 231.66,279.9 231.91,279.9 232.16,279.9 232.41,279.9 232.66,280.0 232.91,280.1 233.16,280.0 233.41,280.0 233.66,279.8 233.91,279.8 234.16,270.3 234.41,255.0 234.63,239.3 234.66,240.8 234.91,251.5 235.16,259.0 235.41,264.3 235.66,268.1 235.91,270.9 236.16,272.9 236.41,274.3 236.66,275.4 236.91,276.2 237.16,277.0 237.41,277.5 237.66,277.9 237.91,278.2 238.16,278.5 238.41,278.6 238.66,278.7 238.91,278.8 239.16,279.1 239.41,279.4 239.66,279.6 239.91,279.8 240.16,280.0 240.41,280.2 240.66,280.2 240.91,280.1 241.16,279.9 241.41,279.9 241.66,279.7 241.91,279.7 242.16,279.9 242.41,279.9 242.66,280.1 242.91,280.2 243.16,280.2 243.41,280.2 243.66,280.0 243.91,280.0 244.16,280.0 244.41,279.8 244.66,279.8 244.91,279.8 245.16,280.0 245.41,280.2 245.66,280.1 245.91,280.1 246.16,280.2 246.41,280.0 246.66,279.9 246.91,279.9 247.16,279.9 247.41,276.3 247.66,263.0 247.91,246.3 248.00,239.7 248.16,247.0 248.41,255.8 248.66,262.1 248.91,266.6 249.16,269.8 249.41,272.2 249.66,273.9 249.91,275.1 250.16,276.1 250.41,276.7 250.66,277.3 250.91,277.7 251.16,277.9 251.41,278.3 251.66,278.6 251.91,278.7 252.16,278.9 252.41,279.1 252.66,279.4 252.91,279.5 253.16,279.7 253.41,279.7 253.66,279.9 253.91,280.0 254.16,280.0 254.41,279.9 254.66,280.0 254.91,280.0 255.16,279.9 255.41,279.8 255.66,279.7 255.91,279.9 256.16,279.8 256.41,279.7 256.66,279.7 256.91,279.7 257.16,279.8 257.41,279.8 257.66,279.8 257.91,279.7 258.16,279.8 258.41,279.9 258.66,280.1 258.91,280.1 259.16,279.9 259.41,280.0 259.66,280.3 259.91,280.3 260.16,280.2 260.41,280.0 260.66,279.9 260.91,280.2 261.16,280.1 261.41,280.1 261.66,279.9 261.91,279.9 262.16,280.0 262.41,279.5 262.66,268.3 262.91,252.9 263.09,240.7 263.16,244.1 263.41,253.8 263.66,260.6 263.91,265.5 264.16,269.1 264.41,271.7 264.66,273.6 264.91,275.1 265.16,276.1 265.41,276.8 265.66,277.4 265.91,277.7 266.16,278.1 266.41,278.4 266.66,278.6 266.91,278.8 267.16,279.0 267.41,279.0 267.66,279.2 267.91,279.3 268.16,279.4 268.41,279.5 268.66,279.6 268.91,279.5 269.16,279.7 269.41,279.7 269.66,279.7 269.91,279.6 270.16,279.6 270.41,279.7 270.66,279.9 270.91,280.0 271.16,280.0 271.41,280.0 271.66,280.2 271.91,280.1 272.16,280.2 272.41,280.0 272.66,280.0 272.91,280.1 273.16,280.3 273.41,280.2 273.66,280.1 273.91,280.2 274.16,280.2 274.41,280.3 274.66,280.3 274.91,273.2 275.16,258.6 275.41,241.2 275.43,239.8 275.66,250.0 275.91,257.9 276.16,263.6 276.41,267.7 276.66,270.7 276.91,272.8 277.16,274.3 277.41,275.4 277.66,276.2 277.91,276.9 278.16,277.3 278.41,277.7 278.66,278.1 278.91,278.3 279.16,278.6 279.41,278.7 279.66,279.0 279.91,279.2 280.16,279.2 280.41,279.3 280.66,279.4 280.91,279.5 281.16,279.6 281.41,279.6 281.66,279.6 281.91,279.6 282.16,279.6 282.41,279.6 282.66,279.5 282.91,279.5 283.16,279.5 283.41,279.4 283.66,279.5 283.91,279.7 284.16,279.5 284.41,279.5 284.66,279.5 284.91,279.6 285.16,279.8 285.41,279.9 285.66,280.0 285.91,280.1 286.16,280.2 286.41,280.2 286.66,280.1 286.91,280.1 287.16,280.1 287.41,280.0 287.66,280.1 287.91,280.1 288.16,280.2 288.41,280.2 288.66,280.1 288.91,280.0 289.16,271.9 289.41,257.1 289.66,239.6 289.91,250.6 290.16,258.4 290.41,263.9 290.66,267.9 290.91,270.7 291.16,272.7 291.41,274.2 291.66,275.3 291.91,276.2 292.16,276.9 292.41,277.6 292.66,278.0 292.91,278.5 293.16,278.5 293.41,278.7 293.66,278.8 293.91,278.8 294.16,278.9 294.41,278.9 294.66,279.0 294.91,279.3 295.16,279.4 295.41,279.4 295.66,279.4 295.91,279.6 296.16,279.8 296.41,279.7 296.66,279.8 296.91,279.9 297.16,280.0 297.41,280.1 297.66,280.0 297.91,280.0 298.16,280.0 298.41,279.8 298.66,279.8 298.91,279.9 299.16,279.9 299.41,280.1 299.66,280.1 299.91,280.1 300.16,280.3 300.41,280.5 300.66,280.4 300.91,280.3 301.16,280.2 301.41,280.1 301.66,280.3 301.91,280.1 302.16,280.0 302.41,280.0 302.66,280.1 302.91,280.3 303.16,280.3 303.41,280.3 303.66,275.7 303.91,261.4 304.16,244.2 304.23,239.0 304.41,247.4 304.66,256.1 304.91,262.3 305.16,266.7 305.41,269.9 305.66,272.2 305.91,273.8 306.16,275.1 306.41,276.0 306.66,276.8 306.91,277.4 307.16,277.9 307.41,278.3 307.66,278.7 307.91,279.0 308.16,279.1 308.41,279.3 308.66,279.4 308.91,279.6 309.16,279.7 309.41,279.7 309.66,279.8 309.91,279.9 310.16,280.0 310.41,279.9 310.66,279.7 310.91,279.6 311.16,279.7 311.41,279.7 311.66,279.6 311.91,279.3 312.16,279.5 312.41,279.7 312.66,279.9 312.91,279.8 313.16,279.9 313.41,279.9 313.66,280.0 313.91,280.1 314.16,280.0 314.41,279.9 314.66,279.9 314.91,279.9 315.16,280.0 315.41,280.1 315.66,280.0 315.91,280.0 316.16,280.0 316.41,279.9 316.66,279.9 316.91,279.9 317.16,279.8 317.41,279.9 317.66,280.0 317.91,280.1 318.16,270.8 318.41,255.9 318.63,240.7 318.66,242.2 318.91,252.4 319.16,259.7 319.41,264.9 319.66,268.6 319.91,271.3 320.16,273.2 320.41,274.7 320.66,275.7 320.91,276.5 321.16,277.0 321.41,277.6 321.66,277.9 321.91,278.4 322.16,278.6 322.41,278.9 322.66,279.2 322.91,279.3 323.16,279.5 323.41,279.6 323.66,279.6 323.91,279.7 324.16,279.8 324.41,279.6 324.66,279.6 324.91,279.5 325.16,279.6 325.41,279.6 325.66,279.6 325.91,279.5 326.16,279.6 326.41,279.6 326.66,279.7 326.91,279.7 327.16,279.8 327.41,279.7 327.66,279.9 327.91,279.8 328.16,280.0 328.41,279.9 328.66,279.9 328.91,279.8 329.16,279.7 329.41,279.6 329.66,279.8 329.91,279.7 330.16,279.8 330.41,279.8 330.66,279.9 330.91,280.0 331.16,280.1 331.41,279.9 331.66,280.0 331.91,276.9 332.16,263.7 332.41,246.9 332.52,239.2 332.66,245.9 332.91,255.1 333.16,261.5 333.41,266.2 333.66,269.5 333.91,271.9 334.16,273.8 334.41,275.1 334.66,276.1 334.91,276.9" stroke-width="1.7"/>
<polyline points="91.66,343.0 91.91,343.1 92.16,343.1 92.41,343.2 92.66,343.2 92.91,343.1 93.16,343.0 93.41,343.1 93.66,342.8 93.91,343.0 94.16,342.8 94.41,342.8 94.66,342.8 94.91,343.0 95.16,342.9 95.41,343.1 95.66,343.0 95.91,343.0 96.16,343.1 96.41,343.0 96.66,343.0 96.91,343.0 97.16,342.9 97.41,342.8 97.66,342.8 97.91,342.6 98.16,342.8 98.41,342.9 98.66,342.8 98.91,342.8 99.16,343.1 99.41,343.1 99.66,343.2 99.91,342.9 100.16,342.7 100.41,342.9 100.66,342.9 100.91,342.7 101.16,342.7 101.41,342.7 101.66,342.9 101.91,342.9 102.16,342.8 102.41,342.9 102.66,343.0 102.91,338.0 103.16,322.3 103.41,302.7 103.49,296.4 103.66,304.0 103.91,312.7 104.16,319.1 104.41,324.0 104.66,327.7 104.91,330.5 105.16,332.7 105.41,334.3 105.66,335.7 105.91,336.9 106.16,337.7 106.41,338.5 106.66,339.1 106.91,339.7 107.16,340.1 107.41,340.5 107.66,340.8 107.91,341.1 108.16,341.2 108.41,341.4 108.66,341.5 108.91,341.7 109.16,341.8 109.41,342.0 109.66,342.0 109.91,342.1 110.16,342.2 110.41,342.5 110.66,342.6 110.91,342.7 111.16,342.8 111.41,342.9 111.66,343.0 111.91,343.3 112.16,343.2 112.41,343.3 112.66,343.3 112.91,343.0 113.16,343.0 113.41,343.1 113.66,342.7 113.91,342.8 114.16,342.8 114.41,342.8 114.66,342.9 114.91,342.9 115.16,342.8 115.41,342.9 115.66,342.9 115.91,342.8 116.16,342.9 116.41,343.0 116.66,336.7 116.91,321.2 117.16,302.6 117.20,299.3 117.41,307.9 117.66,315.7 117.91,321.5 118.16,325.8 118.41,329.1 118.66,331.7 118.91,333.6 119.16,335.2 119.41,336.5 119.66,337.6 119.91,338.4 120.16,339.0 120.41,339.6 120.66,340.1 120.91,340.6 121.16,340.9 121.41,341.1 121.66,341.3 121.91,341.7 122.16,341.8 122.41,341.9 122.66,342.0 122.91,342.2 123.16,342.5 123.41,342.6 123.66,342.6 123.91,342.8 124.16,342.9 124.41,343.0 124.66,342.9 124.91,342.8 125.16,343.0 125.41,343.1 125.66,342.9 125.91,343.0 126.16,343.0 126.41,343.2 126.66,343.1 126.91,343.1 127.16,342.9 127.41,342.9 127.66,342.7 127.91,342.7 128.16,342.7 128.41,342.7 128.66,342.8 128.91,342.8 129.16,342.9 129.41,343.0 129.66,343.0 129.91,342.9 130.16,342.8 130.41,333.8 130.66,316.8 130.91,296.3 131.16,306.5 131.41,314.6 131.66,320.5 131.91,325.0 132.16,328.5 132.41,331.1 132.66,333.1 132.91,334.7 133.16,336.1 133.41,337.2 133.66,338.0 133.91,338.6 134.16,339.2 134.41,339.7 134.66,340.2 134.91,340.6 135.16,340.7 135.41,341.3 135.66,341.7 135.91,341.7 136.16,342.0 136.41,342.1 136.66,342.2 136.91,342.2 137.16,342.1 137.41,342.2 137.66,342.4 137.91,342.5 138.16,342.6 138.41,342.8 138.66,343.0 138.91,343.1 139.16,343.2 139.41,343.3 139.66,343.4 139.91,343.3 140.16,343.0 140.41,342.8 140.66,342.8 140.91,342.6 141.16,342.6 141.41,342.6 141.66,342.5 141.91,342.5 142.16,342.7 142.41,342.8 142.66,342.8 142.91,342.8 143.16,342.6 143.41,335.6 143.66,319.0 143.91,298.8 143.94,296.2 144.16,305.5 144.41,313.8 144.66,320.0 144.91,324.6 145.16,328.1 145.41,330.9 145.66,333.0 145.91,334.8 146.16,336.1 146.41,337.2 146.66,338.1 146.91,338.8 147.16,339.5 147.41,340.1 147.66,340.4 147.91,340.8 148.16,341.0 148.41,341.3 148.66,341.3 148.91,341.5 149.16,341.5 149.41,341.7 149.66,341.9 149.91,342.2 150.16,342.4 150.41,342.7 150.66,342.7 150.91,342.7 151.16,342.9 151.41,343.0 151.66,342.9 151.91,342.7 152.16,342.8 152.41,342.7 152.66,342.8 152.91,342.8 153.16,342.8 153.41,342.9 153.66,343.0 153.91,342.9 154.16,342.9 154.41,342.8 154.66,342.7 154.91,342.7 155.16,342.6 155.41,342.5 155.66,342.6 155.91,342.6 156.16,342.7 156.41,342.8 156.66,342.8 156.91,342.9 157.16,343.1 157.41,343.0 157.66,343.1 157.91,343.1 158.16,343.0 158.41,343.0 158.66,336.4 158.91,320.5 159.16,301.2 159.20,297.9 159.41,306.7 159.66,314.8 159.91,320.7 160.16,325.2 160.41,328.6 160.66,331.2 160.91,333.2 161.16,334.8 161.41,336.0 161.66,337.2 161.91,338.0 162.16,338.6 162.41,339.1 162.66,339.4 162.91,339.9 163.16,340.3 163.41,340.4 163.66,340.8 163.91,341.1 164.16,341.4 164.41,341.8 164.66,342.1 164.91,342.1 165.16,342.4 165.41,342.5 165.66,342.7 165.91,342.8 166.16,342.8 166.41,342.8 166.66,343.0 166.91,343.0 167.16,343.0 167.41,343.1 167.66,342.9 167.91,343.0 168.16,342.9 168.41,342.7 168.66,342.5 168.91,342.7 169.16,342.7 169.41,342.8 169.66,343.0 169.91,343.0 170.16,342.9 170.41,342.9 170.66,342.9 170.91,342.9 171.16,342.8 171.41,342.6 171.66,342.7 171.91,342.7 172.16,342.8 172.41,342.2 172.66,329.1 172.91,310.8 173.09,296.2 173.16,299.6 173.41,309.4 173.66,316.7 173.91,322.1 174.16,326.2 174.41,329.4 174.66,331.8 174.91,333.7 175.16,335.2 175.41,336.3 175.66,337.2 175.91,338.1 176.16,338.8 176.41,339.6 176.66,340.1 176.91,340.5 177.16,341.0 177.41,341.3 177.66,341.5 177.91,341.8 178.16,341.9 178.41,342.2 178.66,342.4 178.91,342.4 179.16,342.5 179.41,342.5 179.66,342.3 179.91,342.4 180.16,342.3 180.41,342.3 180.66,342.2 180.91,342.1 181.16,342.2 181.41,342.3 181.66,342.5 181.91,342.5 182.16,342.5 182.41,342.6 182.66,342.8 182.91,342.7 183.16,342.8 183.41,342.9 183.66,343.0 183.91,342.9 184.16,343.0 184.41,343.1 184.66,343.0 184.91,343.0 185.16,343.0 185.41,342.9 185.66,343.1 185.91,343.3 186.16,332.1 186.41,314.6 186.63,296.7 186.66,298.2 186.91,308.4 187.16,316.0 187.41,321.6 187.66,325.9 187.91,329.1 188.16,331.7 188.41,333.7 188.66,335.1 188.91,336.3 189.16,337.2 189.41,337.9 189.66,338.7 189.91,339.2 190.16,339.6 190.41,340.0 190.66,340.4 190.91,340.8 191.16,341.1 191.41,341.3 191.66,341.6 191.91,341.8 192.16,342.0 192.41,342.2 192.66,342.4 192.91,342.5 193.16,342.5 193.41,342.7 193.66,342.7 193.91,342.9 194.16,342.9 194.41,342.8 194.66,342.8 194.91,342.7 195.16,342.5 195.41,342.5 195.66,342.4 195.91,342.5 196.16,342.5 196.41,342.6 196.66,342.6 196.91,342.6 197.16,342.6 197.41,342.7 197.66,342.7 197.91,342.7 198.16,342.8 198.41,343.0 198.66,343.1 198.91,338.3 199.16,322.5 199.41,303.1 199.49,296.8 199.66,304.4 199.91,313.0 200.16,319.4 200.41,324.2 200.66,327.8 200.91,330.7 201.16,332.9 201.41,334.5 201.66,336.0 201.91,337.2 202.16,338.0 202.41,338.8 202.66,339.3 202.91,339.8 203.16,340.3 203.41,340.5 203.66,340.8 203.91,341.0 204.16,341.1 204.41,341.2 204.66,341.4 204.91,341.5 205.16,341.8 205.41,342.0 205.66,342.2 205.91,342.4 206.16,342.4 206.41,342.5 206.66,342.5 206.91,342.6 207.16,342.6 207.41,342.5 207.66,342.6 207.91,342.9 208.16,342.9 208.41,342.9 208.66,343.0 208.91,343.1 209.16,343.3 209.41,343.3 209.66,343.3 209.91,343.3 210.16,343.4 210.41,343.3 210.66,343.2 210.91,343.1 211.16,343.0 211.41,343.0 211.66,342.9 211.91,342.9 212.16,342.7 212.41,342.7 212.66,342.9 212.91,343.1 213.16,343.0 213.41,342.9 213.66,338.0 213.91,323.0 214.16,304.5 214.23,298.9 214.41,306.5 214.66,314.6 214.91,320.6 215.16,325.2 215.41,328.6 215.66,331.3 215.91,333.4 216.16,335.0 216.41,336.3 216.66,337.3 216.91,338.2 217.16,338.9 217.41,339.5 217.66,339.9 217.91,340.3 218.16,340.7 218.41,341.1 218.66,341.4 218.91,341.7 219.16,341.8 219.41,342.0 219.66,342.1 219.91,342.0 220.16,342.1 220.41,342.3 220.66,342.3 220.91,342.3 221.16,342.4 221.41,342.4 221.66,342.7 221.91,342.8 222.16,342.8 222.41,343.0 222.66,342.9 222.91,342.9 223.16,343.0 223.41,343.0 223.66,343.1 223.91,343.1 224.16,343.0 224.41,343.4 224.66,343.4 224.91,343.3 225.16,343.3 225.41,343.1 225.66,343.2 225.91,343.3 226.16,343.2 226.41,343.3 226.66,343.4 226.91,343.2 227.16,343.3 227.41,343.2 227.66,343.1 227.91,343.0 228.16,332.2 228.41,315.0 228.63,297.4 228.66,298.8 228.91,308.9 229.16,316.4 229.41,321.9 229.66,326.1 229.91,329.3 230.16,331.7 230.41,333.6 230.66,335.1 230.91,336.4 231.16,337.5 231.41,338.2 231.66,338.8 231.91,339.5 232.16,339.9 232.41,340.2 232.66,340.7 232.91,340.9 233.16,341.1 233.41,341.4 233.66,341.5 233.91,341.8 234.16,341.8 234.41,341.7 234.66,341.9 234.91,342.0 235.16,342.1 235.41,342.2 235.66,342.3 235.91,342.5 236.16,342.7 236.41,342.7 236.66,342.8 236.91,342.8 237.16,342.8 237.41,342.8 237.66,342.8 237.91,342.7 238.16,342.7 238.41,342.7 238.66,342.8 238.91,343.0 239.16,343.0 239.41,336.0 239.66,319.7 239.91,300.0 239.94,297.5 240.16,306.4 240.41,314.5 240.66,320.5 240.91,325.1 241.16,328.5 241.41,331.2 241.66,333.2 241.91,334.8 242.16,336.1 242.41,337.3 242.66,338.1 242.91,338.9 243.16,339.5 243.41,340.0 243.66,340.4 243.91,340.9 244.16,341.1 244.41,341.3 244.66,341.4 244.91,341.4 245.16,341.5 245.41,341.5 245.66,341.6 245.91,341.9 246.16,342.0 246.41,342.3 246.66,342.4 246.91,342.6 247.16,342.7 247.41,342.7 247.66,342.8 247.91,342.9 248.16,342.8 248.41,342.8 248.66,342.8 248.91,343.0 249.16,343.0 249.41,343.0 249.66,342.9 249.91,343.0 250.16,343.0 250.41,343.2 250.66,343.0 250.91,343.1 251.16,343.0 251.41,343.0 251.66,342.9 251.91,342.8 252.16,342.8 252.41,342.7 252.66,342.7 252.91,342.8 253.16,342.9 253.41,342.9 253.66,334.6 253.91,318.2 254.16,298.4 254.17,297.5 254.41,307.4 254.66,315.2 254.91,321.1 255.16,325.4 255.41,328.8 255.66,331.4 255.91,333.5 256.16,335.1 256.41,336.4 256.66,337.5 256.91,338.3 257.16,339.1 257.41,339.8 257.66,340.2 257.91,340.5 258.16,340.9 258.41,341.2 258.66,341.4 258.91,341.6 259.16,341.7 259.41,341.9 259.66,342.1 259.91,342.1 260.16,342.3 260.41,342.2 260.66,342.5 260.91,342.4 261.16,342.4 261.41,342.4 261.66,342.5 261.91,342.5 262.16,342.9 262.41,342.8 262.66,342.8 262.91,343.0 263.16,343.1 263.41,342.9 263.66,343.1 263.91,343.0 264.16,343.1 264.41,343.1 264.66,342.9 264.91,342.9 265.16,343.0 265.41,342.8 265.66,342.7 265.91,342.6 266.16,342.7 266.41,342.9 266.66,342.8 266.91,342.8 267.16,342.9 267.41,342.8 267.66,342.8 267.91,342.9 268.16,342.8 268.41,342.4 268.66,329.5 268.91,311.7 269.09,297.5 269.16,300.7 269.41,310.3 269.66,317.4 269.91,322.7 270.16,326.7 270.41,329.7 270.66,332.1 270.91,334.0 271.16,335.5 271.41,336.8 271.66,337.7 271.91,338.5 272.16,339.2 272.41,339.7 272.66,340.1 272.91,340.4 273.16,340.6 273.41,340.9 273.66,341.1 273.91,341.3 274.16,341.5 274.41,341.6 274.66,341.9 274.91,342.0 275.16,342.3 275.41,342.3 275.66,342.5 275.91,342.5 276.16,342.8 276.41,342.8 276.66,342.7 276.91,342.7 277.16,342.7 277.41,342.9 277.66,342.9 277.91,342.7 278.16,342.7 278.41,342.9 278.66,342.7 278.91,342.8 279.16,342.8 279.41,342.7 279.66,342.7 279.91,342.8 280.16,342.8 280.41,342.9 280.66,343.0 280.91,343.0 281.16,343.2 281.41,343.1 281.66,342.9 281.91,343.0 282.16,343.0 282.41,343.1 282.66,343.0 282.91,342.8 283.16,343.1 283.41,339.2 283.66,323.8 283.91,304.8 284.00,297.3 284.16,304.3 284.41,312.9 284.66,319.3 284.91,324.2 285.16,327.8 285.41,330.6 285.66,332.8 285.91,334.5 286.16,335.9 286.41,337.0 286.66,337.8 286.91,338.6 287.16,339.1 287.41,339.6 287.66,340.1 287.91,340.5 288.16,341.0 288.41,341.3 288.66,341.3 288.91,341.5 289.16,341.8 289.41,341.9 289.66,341.9 289.91,341.7 290.16,341.9 290.41,342.2 290.66,342.3 290.91,342.4 291.16,342.5 291.41,342.6 291.66,342.7 291.91,342.8 292.16,342.8 292.41,343.0 292.66,343.1 292.91,343.0 293.16,342.9 293.41,343.0 293.66,343.1 293.91,342.9 294.16,342.6 294.41,342.7 294.66,342.8 294.91,342.8 295.16,342.9 295.41,339.0 295.66,324.7 295.91,306.6 296.00,299.4 296.16,306.0 296.41,314.3 296.66,320.4 296.91,325.0 297.16,328.5 297.41,331.1 297.66,333.3 297.91,334.9 298.16,336.3 298.41,337.5 298.66,338.2 298.91,338.9 299.16,339.5 299.41,339.7 299.66,340.1 299.91,340.4 300.16,340.7 300.41,341.1 300.66,341.5 300.91,341.7 301.16,342.1 301.41,342.3 301.66,342.4 301.91,342.5 302.16,342.7 302.41,342.6 302.66,342.7 302.91,342.8 303.16,342.7 303.41,342.7 303.66,342.7 303.91,342.6 304.16,342.8 304.41,342.8 304.66,342.9 304.91,343.1 305.16,343.2 305.41,343.3 305.66,343.2 305.91,343.2 306.16,343.2 306.41,343.1 306.66,342.9 306.91,342.9 307.16,342.7 307.41,342.8 307.66,342.8 307.91,342.7 308.16,342.7 308.41,342.7 308.66,342.7 308.91,343.1 309.16,343.2 309.41,341.7 309.66,327.7 309.91,309.4 310.06,297.2 310.16,301.8 310.41,311.1 310.66,318.0 310.91,323.1 311.16,327.0 311.41,330.0 311.66,332.4 311.91,334.3 312.16,335.6 312.41,336.8 312.66,337.7 312.91,338.3 313.16,338.9 313.41,339.2 313.66,339.6 313.91,340.2 314.16,340.5 314.41,340.9 314.66,341.2 314.91,341.4 315.16,341.7 315.41,341.9 315.66,342.0 315.91,342.1 316.16,342.1 316.41,342.2 316.66,342.3 316.91,342.5 317.16,342.4 317.41,342.3 317.66,342.5 317.91,342.5 318.16,342.3 318.41,342.3 318.66,342.3 318.91,342.3 319.16,342.4 319.41,342.4 319.66,342.7 319.91,342.8 320.16,343.0 320.41,343.1 320.66,343.2 320.91,343.3 321.16,343.4 321.41,343.4 321.66,343.5 321.91,343.4 322.16,343.4 322.41,343.4 322.66,343.4 322.91,343.2 323.16,330.6 323.41,313.0 323.60,297.7 323.66,300.3 323.91,310.0 324.16,317.2 324.41,322.5 324.66,326.6 324.91,329.7 325.16,332.1 325.41,334.1 325.66,335.6 325.91,336.7 326.16,337.7 326.41,338.5 326.66,339.2 326.91,339.6 327.16,340.0 327.41,340.3 327.66,340.6 327.91,340.8 328.16,341.1 328.41,341.4 328.66,341.6 328.91,341.7 329.16,342.0 329.41,342.2 329.66,342.4 329.91,342.5 330.16,342.5 330.41,342.6 330.66,342.8 330.91,342.9 331.16,342.8 331.41,342.8 331.66,342.6 331.91,342.6 332.16,342.6 332.41,342.5 332.66,342.5 332.91,342.4 333.16,342.5 333.41,342.6 333.66,342.8 333.91,342.8 334.16,343.0 334.41,343.0 334.66,343.1 334.91,343.2" stroke-width="1.7"/>
<polyline points="91.66,366.4 91.91,373.0 92.16,377.9 92.41,381.6 92.66,384.5 92.91,386.8 93.16,388.6 93.41,390.0 93.66,391.1 93.91,392.0 94.16,392.7 94.41,393.4 94.66,393.8 94.91,394.4 95.16,394.8 95.41,395.1 95.66,395.5 95.91,395.6 96.16,395.8 96.41,396.2 96.66,396.3 96.91,396.5 97.16,396.7 97.41,396.7 97.66,396.8 97.91,396.9 98.16,396.8 98.41,396.8 98.66,396.8 98.91,396.9 99.16,397.0 99.41,397.0 99.66,397.3 99.91,397.3 100.16,397.5 100.41,397.4 100.66,397.3 100.91,397.4 101.16,397.4 101.41,397.1 101.66,397.1 101.91,397.0 102.16,397.0 102.41,397.1 102.66,397.1 102.91,397.2 103.16,397.3 103.41,397.4 103.66,397.6 103.91,397.6 104.16,397.5 104.41,397.3 104.66,397.4 104.91,386.5 105.16,369.9 105.37,353.7 105.41,355.3 105.66,364.7 105.91,371.7 106.16,377.0 106.41,380.9 106.66,384.0 106.91,386.4 107.16,388.2 107.41,389.7 107.66,390.9 107.91,391.9 108.16,392.7 108.41,393.1 108.66,393.7 108.91,394.3 109.16,394.7 109.41,394.9 109.66,395.3 109.91,395.6 110.16,395.8 110.41,396.0 110.66,396.0 110.91,396.1 111.16,396.4 111.41,396.5 111.66,396.7 111.91,396.8 112.16,396.9 112.41,396.9 112.66,397.1 112.91,397.0 113.16,397.1 113.41,397.1 113.66,397.2 113.91,397.2 114.16,397.3 114.41,397.3 114.66,397.3 114.91,397.2 115.16,397.4 115.41,397.4 115.66,397.5 115.91,397.3 116.16,397.4 116.41,397.6 116.66,397.7 116.91,397.5 117.16,391.7 117.41,375.8 117.66,356.6 117.71,352.5 117.91,360.3 118.16,368.4 118.41,374.4 118.66,379.0 118.91,382.4 119.16,385.1 119.41,387.2 119.66,388.9 119.91,390.1 120.16,391.1 120.41,392.0 120.66,392.9 120.91,393.5 121.16,394.0 121.41,394.4 121.66,394.8 121.91,395.1 122.16,395.4 122.41,395.6 122.66,395.8 122.91,396.0 123.16,396.3 123.41,396.5 123.66,396.7 123.91,396.7 124.16,396.6 124.41,396.7 124.66,396.7 124.91,396.7 125.16,396.6 125.41,396.4 125.66,396.6 125.91,396.8 126.16,396.8 126.41,397.0 126.66,397.1 126.91,397.1 127.16,397.5 127.41,397.6 127.66,397.5 127.91,397.5 128.16,397.4 128.41,397.4 128.66,397.3 128.91,386.5 129.16,370.0 129.37,353.8 129.41,355.4 129.66,364.8 129.91,371.8 130.16,377.0 130.41,381.0 130.66,384.0 130.91,386.3 131.16,388.1 131.41,389.5 131.66,390.8 131.91,391.7 132.16,392.5 132.41,393.1 132.66,393.7 132.91,394.3 133.16,394.7 133.41,395.0 133.66,395.3 133.91,395.6 134.16,396.0 134.41,396.1 134.66,396.4 134.91,396.5 135.16,396.5 135.41,396.6 135.66,396.7 135.91,396.8 136.16,396.9 136.41,396.9 136.66,397.0 136.91,397.2 137.16,397.3 137.41,397.5 137.66,397.5 137.91,397.6 138.16,397.7 138.41,397.8 138.66,397.8 138.91,397.8 139.16,397.7 139.41,397.6 139.66,397.6 139.91,397.3 140.16,397.2 140.41,397.1 140.66,397.3 140.91,397.4 141.16,391.7 141.41,376.3 141.66,357.5 141.71,353.5 141.91,361.2 142.16,369.0 142.41,374.9 142.66,379.4 142.91,382.8 143.16,385.4 143.41,387.5 143.66,389.1 143.91,390.4 144.16,391.4 144.41,392.2 144.66,392.9 144.91,393.6 145.16,394.1 145.41,394.4 145.66,394.8 145.91,395.3 146.16,395.6 146.41,395.7 146.66,395.8 146.91,396.0 147.16,396.2 147.41,396.4 147.66,396.3 147.91,396.4 148.16,396.5 148.41,396.6 148.66,396.6 148.91,396.7 149.16,396.8 149.41,397.0 149.66,397.2 149.91,397.4 150.16,397.4 150.41,397.5 150.66,397.8 150.91,397.8 151.16,397.8 151.41,397.6 151.66,397.6 151.91,397.6 152.16,397.6 152.41,397.3 152.66,397.3 152.91,397.4 153.16,397.4 153.41,396.1 153.66,382.9 153.91,365.7 154.06,354.5 154.16,358.7 154.41,367.3 154.66,373.6 154.91,378.4 155.16,382.1 155.41,384.9 155.66,387.1 155.91,388.8 156.16,390.2 156.41,391.1 156.66,391.9 156.91,392.7 157.16,393.2 157.41,393.7 157.66,394.1 157.91,394.5 158.16,395.0 158.41,395.3 158.66,395.5 158.91,395.9 159.16,396.2 159.41,396.3 159.66,396.1 159.91,396.5 160.16,396.7 160.41,396.8 160.66,397.1 160.91,397.0 161.16,397.0 161.41,397.2 161.66,397.1 161.91,397.0 162.16,397.1 162.41,397.0 162.66,397.2 162.91,397.3 163.16,397.2 163.41,397.2 163.66,397.2 163.91,397.1 164.16,397.1 164.41,397.2 164.66,397.2 164.91,397.2 165.16,397.2 165.41,397.2 165.66,397.4 165.91,397.4 166.16,397.4 166.41,388.7 166.66,372.2 166.91,352.5 167.16,362.1 167.41,369.7 167.66,375.4 167.91,379.7 168.16,383.0 168.41,385.4 168.66,387.4 168.91,389.0 169.16,390.3 169.41,391.3 169.66,392.2 169.91,393.0 170.16,393.7 170.41,394.2 170.66,394.7 170.91,395.2 171.16,395.6 171.41,395.7 171.66,396.0 171.91,396.2 172.16,396.1 172.41,396.2 172.66,396.3 172.91,396.3 173.16,396.4 173.41,396.5 173.66,396.6 173.91,396.8 174.16,396.8 174.41,396.9 174.66,397.0 174.91,397.2 175.16,397.5 175.41,397.5 175.66,397.6 175.91,397.7 176.16,397.6 176.41,397.5 176.66,397.6 176.91,397.2 177.16,397.1 177.41,397.2 177.66,397.2 177.91,397.3 178.16,397.4 178.41,397.3 178.66,397.4 178.91,397.5 179.16,397.3 179.41,390.4 179.66,374.4 179.91,355.2 179.94,352.7 180.16,361.4 180.41,369.2 180.66,375.0 180.91,379.4 181.16,382.8 181.41,385.4 181.66,387.5 181.91,389.2 182.16,390.6 182.41,391.7 182.66,392.5 182.91,393.3 183.16,394.0 183.41,394.5 183.66,394.8 183.91,395.1 184.16,395.4 184.41,395.8 184.66,395.7 184.91,395.7 185.16,395.9 185.41,396.0 185.66,396.1 185.91,396.2 186.16,396.3 186.41,396.6 186.66,396.7 186.91,396.8 187.16,396.9 187.41,396.8 187.66,396.7 187.91,396.9 188.16,397.0 188.41,397.1 188.66,396.9 188.91,396.9 189.16,397.0 189.41,397.2 189.66,397.0 189.91,397.0 190.16,397.0 190.41,397.3 190.66,397.4 190.91,397.4 191.16,397.2 191.41,397.1 191.66,397.0 191.91,397.1 192.16,386.9 192.41,370.5 192.63,353.6 192.66,355.0 192.91,364.5 193.16,371.5 193.41,376.8 193.66,380.8 193.91,383.9 194.16,386.3 194.41,388.1 194.66,389.5 194.91,390.7 195.16,391.8 195.41,392.6 195.66,393.4 195.91,394.1 196.16,394.4 196.41,394.9 196.66,395.2 196.91,395.2 197.16,395.3 197.41,395.4 197.66,395.6 197.91,395.9 198.16,396.0 198.41,396.2 198.66,396.7 198.91,396.8 199.16,396.7 199.41,396.9 199.66,397.0 199.91,397.2 200.16,397.1 200.41,397.1 200.66,397.3 200.91,397.6 201.16,397.6 201.41,397.6 201.66,397.6 201.91,397.7 202.16,397.7 202.41,397.7 202.66,397.7 202.91,397.8 203.16,398.0 203.41,398.0 203.66,397.8 203.91,397.8 204.16,396.1 204.41,382.5 204.66,365.2 204.80,354.4 204.91,359.0 205.16,367.5 205.41,373.8 205.66,378.5 205.91,382.1 206.16,384.9 206.41,387.1 206.66,388.9 206.91,390.2 207.16,391.3 207.41,392.1 207.66,392.9 207.91,393.5 208.16,394.0 208.41,394.3 208.66,394.6 208.91,394.9 209.16,395.3 209.41,395.5 209.66,395.8 209.91,396.0 210.16,396.2 210.41,396.4 210.66,396.5 210.91,396.7 211.16,396.8 211.41,396.8 211.66,396.8 211.91,396.8 212.16,396.7 212.41,396.8 212.66,396.8 212.91,396.8 213.16,396.9 213.41,397.0 213.66,397.0 213.91,397.3 214.16,397.3 214.41,397.4 214.66,397.3 214.91,397.3 215.16,397.4 215.41,397.5 215.66,397.3 215.91,397.3 216.16,397.2 216.41,397.5 216.66,397.4 216.91,397.3 217.16,388.4 217.41,372.1 217.66,352.9 217.91,362.9 218.16,370.3 218.41,375.9 218.66,380.1 218.91,383.3 219.16,385.8 219.41,387.8 219.66,389.4 219.91,390.6 220.16,391.7 220.41,392.5 220.66,393.2 220.91,393.8 221.16,394.2 221.41,394.4 221.66,394.9 221.91,395.1 222.16,395.4 222.41,395.4 222.66,395.5 222.91,395.7 223.16,395.9 223.41,396.0 223.66,396.1 223.91,396.1 224.16,396.4 224.41,396.4 224.66,396.7 224.91,396.8 225.16,397.1 225.41,397.3 225.66,397.3 225.91,397.2 226.16,397.5 226.41,397.5 226.66,397.5 226.91,397.4 227.16,397.4 227.41,397.5 227.66,397.4 227.91,397.4 228.16,397.3 228.41,397.2 228.66,397.3 228.91,397.4 229.16,397.4 229.41,397.5 229.66,397.4 229.91,397.5 230.16,397.5 230.41,385.5 230.66,368.4 230.86,352.9 230.91,355.1 231.16,364.6 231.41,371.6 231.66,376.8 231.91,380.8 232.16,383.9 232.41,386.3 232.66,388.2 232.91,389.7 233.16,390.9 233.41,392.0 233.66,392.8 233.91,393.5 234.16,393.9 234.41,394.4 234.66,394.8 234.91,395.1 235.16,395.4 235.41,395.6 235.66,395.8 235.91,396.0 236.16,396.1 236.41,396.3 236.66,396.5 236.91,396.8 237.16,396.9 237.41,397.1 237.66,397.3 237.91,397.4 238.16,397.4 238.41,397.1 238.66,397.0 238.91,397.0 239.16,397.0 239.41,397.0 239.66,397.1 239.91,397.2 240.16,397.5 240.41,397.4 240.66,397.5 240.91,397.5 241.16,397.7 241.41,397.6 241.66,397.5 241.91,397.5 242.16,397.5 242.41,385.4 242.66,367.9 242.86,352.1 242.91,354.4 243.16,364.0 243.41,371.2 243.66,376.5 243.91,380.5 244.16,383.6 244.41,386.0 244.66,387.9 244.91,389.4 245.16,390.6 245.41,391.7 245.66,392.4 245.91,393.0 246.16,393.5 246.41,393.9 246.66,394.4 246.91,394.9 247.16,395.2 247.41,395.6 247.66,395.9 247.91,396.1 248.16,396.3 248.41,396.2 248.66,396.4 248.91,396.4 249.16,396.3 249.41,396.3 249.66,396.3 249.91,396.4 250.16,396.5 250.41,396.4 250.66,396.6 250.91,396.6 251.16,396.7 251.41,396.9 251.66,397.0 251.91,397.1 252.16,397.1 252.41,397.1 252.66,397.4 252.91,397.6 253.16,397.8 253.41,397.7 253.66,397.8 253.91,397.9 254.16,397.7 254.41,397.7 254.66,397.7 254.91,397.3 255.16,391.5 255.41,375.5 255.66,356.1 255.72,351.7 255.91,359.8 256.16,368.0 256.41,374.1 256.66,378.7 256.91,382.2 257.16,385.0 257.41,387.1 257.66,388.8 257.91,390.1 258.16,391.2 258.41,392.1 258.66,392.9 258.91,393.7 259.16,394.3 259.41,394.7 259.66,395.1 259.91,395.3 260.16,395.6 260.41,395.7 260.66,395.8 260.91,395.8 261.16,395.9 261.41,396.1 261.66,396.3 261.91,396.3 262.16,396.5 262.41,396.4 262.66,396.5 262.91,396.7 263.16,396.8 263.41,396.9 263.66,397.1 263.91,397.1 264.16,397.3 264.41,397.3 264.66,397.3 264.91,397.4 265.16,397.1 265.41,397.1 265.66,396.9 265.91,396.8 266.16,396.7 266.41,396.7 266.66,396.6 266.91,396.8 267.16,397.0 267.41,397.1 267.66,397.1 267.91,397.3 268.16,397.3 268.41,396.8 268.66,384.2 268.91,366.8 269.09,352.9 269.16,356.1 269.41,365.3 269.66,372.1 269.91,377.2 270.16,381.1 270.41,384.0 270.66,386.3 270.91,388.1 271.16,389.6 271.41,390.9 271.66,391.9 271.91,392.7 272.16,393.5 272.41,394.1 272.66,394.6 272.91,394.8 273.16,395.0 273.41,395.3 273.66,395.6 273.91,395.7 274.16,395.8 274.41,396.0 274.66,396.3 274.91,396.5 275.16,396.6 275.41,396.7 275.66,396.8 275.91,397.0 276.16,396.9 276.41,396.8 276.66,397.0 276.91,397.2 277.16,397.2 277.41,397.1 277.66,396.9 277.91,397.0 278.16,397.1 278.41,397.1 278.66,397.1 278.91,397.1 279.16,397.2 279.41,397.3 279.66,397.3 279.91,397.3 280.16,397.2 280.41,397.1 280.66,397.1 280.91,397.2 281.16,397.2 281.41,397.3 281.66,397.2 281.91,397.4 282.16,395.6 282.41,382.1 282.66,364.4 282.80,353.3 282.91,357.9 283.16,366.6 283.41,373.1 283.66,378.0 283.91,381.7 284.16,384.5 284.41,386.7 284.66,388.4 284.91,389.9 285.16,390.8 285.41,391.8 285.66,392.5 285.91,393.1 286.16,393.6 286.41,394.2 286.66,394.6 286.91,395.1 287.16,395.5 287.41,395.7 287.66,395.9 287.91,396.1 288.16,396.4 288.41,396.4 288.66,396.6 288.91,396.7 289.16,396.8 289.41,396.9 289.66,397.0 289.91,397.0 290.16,397.1 290.41,397.0 290.66,397.0 290.91,396.9 291.16,396.9 291.41,396.9 291.66,396.9 291.91,396.8 292.16,397.1 292.41,397.2 292.66,397.5 292.91,397.5 293.16,397.5 293.41,397.5 293.66,397.6 293.91,397.6 294.16,397.5 294.41,397.5 294.66,397.6 294.91,397.6 295.16,397.6 295.41,397.4 295.66,397.4 295.91,394.0 296.16,379.7 296.41,361.6 296.52,353.4 296.66,359.3 296.91,367.7 297.16,373.9 297.41,378.6 297.66,382.2 297.91,384.9 298.16,387.0 298.41,388.7 298.66,390.0 298.91,391.2 299.16,392.2 299.41,393.0 299.66,393.5 299.91,394.1 300.16,394.5 300.41,394.9 300.66,395.3 300.91,395.4 301.16,395.6 301.41,395.8 301.66,396.1 301.91,396.1 302.16,396.2 302.41,396.3 302.66,396.6 302.91,396.7 303.16,396.7 303.41,396.8 303.66,397.0 303.91,397.0 304.16,396.9 304.41,397.0 304.66,397.0 304.91,397.0 305.16,397.0 305.41,396.8 305.66,397.1 305.91,397.2 306.16,397.0 306.41,397.1 306.66,397.0 306.91,397.1 307.16,397.2 307.41,397.0 307.66,397.0 307.91,397.1 308.16,397.2 308.41,397.2 308.66,397.2 308.91,397.0 309.16,397.2 309.41,397.1 309.66,397.1 309.91,396.1 310.16,383.4 310.41,366.1 310.57,353.4 310.66,357.0 310.91,366.0 311.16,372.7 311.41,377.7 311.66,381.4 311.91,384.4 312.16,386.7 312.41,388.5 312.66,389.9 312.91,391.0 313.16,392.0 313.41,392.8 313.66,393.4 313.91,393.9 314.16,394.4 314.41,385.9 314.66,369.3 314.86,354.2 314.91,356.3 315.16,365.5 315.41,372.3 315.66,377.4 315.91,381.3 316.16,384.3 316.41,386.6 316.66,388.4 316.91,389.9 317.16,391.0 317.41,391.9 317.66,392.5 317.91,393.3 318.16,393.9 318.41,394.2 318.66,394.6 318.91,395.0 319.16,395.3 319.41,395.7 319.66,396.0 319.91,396.2 320.16,396.4 320.41,396.6 320.66,396.5 320.91,396.6 321.16,396.8 321.41,396.9 321.66,396.8 321.91,396.9 322.16,396.7 322.41,396.8 322.66,396.8 322.91,396.8 323.16,396.7 323.41,396.9 323.66,396.9 323.91,397.0 324.16,397.1 324.41,397.2 324.66,397.2 324.91,397.4 325.16,397.2 325.41,397.4 325.66,397.3 325.91,397.3 326.16,397.4 326.41,397.4 326.66,397.3 326.91,397.6 327.16,397.4 327.41,397.7 327.66,397.8 327.91,397.7 328.16,397.7 328.41,397.6 328.66,397.5 328.91,390.0 329.16,374.2 329.41,355.3 329.43,353.7 329.66,362.9 329.91,370.3 330.16,375.9 330.41,380.1 330.66,383.3 330.91,385.8 331.16,387.7 331.41,389.3 331.66,390.5 331.91,391.4 332.16,392.3 332.41,393.1 332.66,393.7 332.91,394.2 333.16,394.6 333.41,394.9 333.66,395.4 333.91,395.7 334.16,395.9 334.41,396.1 334.66,396.3 334.91,396.5" stroke-width="1.7"/>
<polyline points="369.57,118.8 369.82,118.8 370.07,118.7 370.32,118.6 370.57,118.7 370.82,118.7 371.07,118.9 371.32,118.8 371.57,118.7 371.82,118.7 372.07,118.8 372.32,118.6 372.57,118.5 372.82,118.5 373.07,118.5 373.32,118.6 373.57,118.6 373.82,118.7 374.07,118.9 374.32,119.0 374.57,118.9 374.82,118.8 375.07,118.8 375.32,118.7 375.57,118.7 375.82,118.6 376.07,118.4 376.32,118.4 376.57,118.6 376.82,118.7 377.07,118.8 377.32,118.8 377.57,118.8 377.82,118.9 378.07,118.9 378.32,118.7 378.57,118.7 378.82,118.7 379.07,118.6 379.32,118.6 379.57,108.4 379.82,92.6 380.03,77.4 380.07,79.5 380.32,90.4 380.57,98.0 380.82,103.5 381.07,107.4 381.32,110.3 381.57,112.2 381.82,113.7 382.07,114.6 382.32,115.4 382.57,116.1 382.82,116.5 383.07,116.8 383.32,117.2 383.57,114.0 383.82,100.3 384.07,82.9 384.14,77.6 384.32,85.9 384.57,94.9 384.82,101.2 385.07,105.8 385.32,109.2 385.57,111.7 385.82,113.6 386.07,114.9 386.32,115.8 386.57,116.4 386.82,116.8 387.07,117.2 387.32,117.4 387.57,117.4 387.82,117.8 388.07,118.1 388.32,118.5 388.57,118.5 388.82,118.6 389.07,118.6 389.32,118.8 389.57,118.8 389.82,118.8 390.07,118.6 390.32,118.8 390.57,118.6 390.82,118.7 391.07,118.6 391.32,118.6 391.57,118.5 391.82,118.6 392.07,118.6 392.32,118.7 392.57,118.8 392.82,119.0 393.07,118.9 393.32,118.8 393.57,118.8 393.82,118.9 394.07,118.9 394.32,118.9 394.57,119.0 394.82,119.1 395.07,119.2 395.32,119.2 395.57,119.1 395.82,118.9 396.07,118.9 396.32,118.7 396.57,118.8 396.82,118.8 397.07,118.9 397.32,118.9 397.57,119.0 397.82,118.9 398.07,119.0 398.32,118.9 398.57,110.0 398.82,94.5 399.06,77.3 399.07,77.8 399.32,89.2 399.57,97.2 399.82,102.9 400.07,107.0 400.32,110.0 400.57,112.2 400.82,113.7 401.07,115.0 401.32,115.8 401.57,116.3 401.82,116.5 402.07,117.0 402.32,117.4 402.57,117.7 402.82,117.7 403.07,117.8 403.32,118.0 403.57,118.3 403.82,118.4 404.07,118.4 404.32,118.3 404.57,118.5 404.82,118.6 405.07,118.7 405.32,118.8 405.57,118.8 405.82,118.7 406.07,119.0 406.32,119.1 406.57,119.2 406.82,119.1 407.07,119.0 407.32,119.0 407.57,119.1 407.82,118.8 408.07,118.7 408.32,118.7 408.57,118.7 408.82,118.7 409.07,118.7 409.32,118.5 409.57,118.6 409.82,118.6 410.07,118.6 410.32,118.6 410.57,118.7 410.82,118.6 411.07,118.8 411.32,118.7 411.57,118.9 411.82,118.9 412.07,118.9 412.32,116.3 412.57,103.0 412.82,85.7 412.94,76.5 413.07,82.7 413.32,92.6 413.57,99.6 413.82,104.6 414.07,108.2 414.32,110.9 414.57,112.8 414.82,114.2 415.07,115.3 415.32,116.2 415.57,116.8 415.82,117.3 416.07,117.5 416.32,117.7 416.57,117.8 416.82,117.8 417.07,118.0 417.32,118.2 417.57,118.3 417.82,118.6 418.07,118.8 418.32,118.8 418.57,119.1 418.82,118.8 419.07,118.7 419.32,118.7 419.57,118.7 419.82,118.6 420.07,118.9 420.32,118.7 420.57,118.8 420.82,118.8 421.07,118.8 421.32,118.7 421.57,118.5 421.82,118.5 422.07,118.5 422.32,118.5 422.57,118.5 422.82,118.5 423.07,118.5 423.32,118.6 423.57,118.4 423.82,118.5 424.07,118.4 424.32,118.3 424.57,118.5 424.82,118.5 425.07,118.5 425.32,118.7 425.57,118.9 425.82,118.9 426.07,119.0 426.32,118.9 426.57,115.7 426.82,102.4 427.07,85.6 427.17,78.2 427.32,85.3 427.57,94.4 427.82,100.9 428.07,105.6 428.32,108.9 428.57,111.3 428.82,113.1 429.07,114.5 429.32,115.4 429.57,116.3 429.82,116.8 430.07,117.3 430.32,117.6 430.57,117.7 430.82,117.9 431.07,118.0 431.32,118.1 431.57,118.1 431.82,118.2 432.07,118.4 432.32,118.4 432.57,118.2 432.82,118.4 433.07,118.4 433.32,118.5 433.57,118.6 433.82,118.5 434.07,118.5 434.32,118.7 434.57,118.7 434.82,118.9 435.07,119.0 435.32,118.7 435.57,118.7 435.82,118.9 436.07,118.8 436.32,118.8 436.57,118.8 436.82,118.8 437.07,118.9 437.32,118.8 437.57,118.7 437.82,118.9 438.07,118.9 438.32,118.9 438.57,118.9 438.82,119.0 439.07,119.1 439.32,119.2 439.57,119.1 439.82,119.2 440.07,119.2 440.32,119.3 440.57,119.1 440.82,119.1 441.07,118.8 441.32,118.8 441.57,118.6 441.82,118.5 442.07,118.4 442.32,118.6 442.57,118.7 442.82,118.9 443.07,118.8 443.32,118.6 443.57,118.7 443.82,118.7 444.07,118.8 444.32,118.6 444.57,118.6 444.82,118.7 445.07,118.8 445.32,118.9 445.57,118.8 445.82,118.8 446.07,118.9 446.32,119.0 446.57,119.1 446.82,119.2 447.07,119.2 447.32,119.1 447.57,119.0 447.82,118.7 448.07,118.8 448.32,118.8 448.57,118.7 448.82,118.7 449.07,118.9 449.32,118.9 449.57,119.2 449.82,119.4 450.07,119.4 450.32,119.0 450.57,106.9 450.82,90.8 451.00,77.6 451.07,81.1 451.32,91.5 451.57,98.8 451.82,104.1 452.07,107.8 452.32,110.6 452.57,112.5 452.82,114.1 453.07,115.3 453.32,116.0 453.57,116.5 453.82,117.0 454.07,117.3 454.32,117.7 454.57,117.8 454.82,117.8 455.07,118.0 455.32,118.3 455.57,118.3 455.82,118.5 456.07,118.5 456.32,118.5 456.57,118.8 456.82,118.7 457.07,118.8 457.32,118.7 457.57,118.8 457.82,118.8 458.07,118.9 458.32,118.9 458.57,119.0 458.82,119.1 459.07,119.1 459.32,119.1 459.57,119.1 459.82,119.2 460.07,119.1 460.32,119.1 460.57,118.9 460.82,118.8 461.07,118.8 461.32,118.8 461.57,118.8 461.82,118.8 462.07,118.7 462.32,118.9 462.57,119.0 462.82,119.1 463.07,119.0 463.32,118.8 463.57,118.7 463.82,118.7 464.07,118.7 464.32,118.7 464.57,118.8 464.82,119.0 465.07,119.2 465.32,115.6 465.57,101.9 465.82,85.1 465.91,78.4 466.07,85.5 466.32,94.6 466.57,101.1 466.82,105.7 467.07,108.9 467.32,111.2 467.57,113.1 467.82,114.4 468.07,115.5 468.32,116.1 468.57,116.7 468.82,117.3 469.07,117.6 469.32,117.8 469.57,118.1 469.82,118.1 470.07,118.3 470.32,118.4 470.57,118.3 470.82,118.4 471.07,118.4 471.32,118.4 471.57,118.5 471.82,118.4 472.07,118.5 472.32,118.7 472.57,118.7 472.82,118.9 473.07,119.0 473.32,119.0 473.57,119.0 473.82,118.9 474.07,118.9 474.32,118.9 474.57,118.9 474.82,118.9 475.07,118.7 475.32,118.7 475.57,118.7 475.82,118.6 476.07,118.5 476.32,118.5 476.57,118.3 476.82,118.5 477.07,118.6 477.32,118.8 477.57,118.7 477.82,119.1 478.07,118.9 478.32,119.1 478.57,119.2 478.82,119.1 479.07,118.9 479.32,119.1 479.57,119.1 479.82,119.0 480.07,118.7 480.32,118.5 480.57,118.4 480.82,118.6 481.07,118.5 481.32,112.6 481.57,98.5 481.82,81.2 481.86,78.5 482.07,88.2 482.32,96.5 482.57,102.4 482.82,106.6 483.07,109.5 483.32,111.6 483.57,113.2 483.82,114.5 484.07,115.4 484.32,116.0 484.57,116.5 484.82,117.1 485.07,117.5 485.32,118.0 485.57,118.0 485.82,118.3 486.07,118.6 486.32,118.7 486.57,118.8 486.82,118.8 487.07,118.6 487.32,118.7 487.57,118.9 487.82,118.7 488.07,118.6 488.32,118.5 488.57,118.6 488.82,118.7 489.07,118.7 489.32,118.8 489.57,118.9 489.82,119.1 490.07,119.3 490.32,119.3 490.57,119.3 490.82,119.3 491.07,119.3 491.32,119.4 491.57,119.2 491.82,119.2 492.07,119.2 492.32,119.2 492.57,119.1 492.82,119.1 493.07,119.0 493.32,118.9 493.57,118.7 493.82,118.6 494.07,118.5 494.32,118.7 494.57,109.9 494.82,94.6 495.06,77.4 495.07,77.9 495.32,89.2 495.57,97.2 495.82,102.9 496.07,107.0 496.32,110.0 496.57,112.2 496.82,114.0 497.07,115.0 497.32,115.9 497.57,116.4 497.82,117.0 498.07,117.2 498.32,117.6 498.57,117.7 498.82,117.9 499.07,118.1 499.32,118.4 499.57,118.4 499.82,118.6 500.07,118.6 500.32,118.7 500.57,118.8 500.82,118.8 501.07,118.7 501.32,118.7 501.57,118.5 501.82,118.5 502.07,118.6 502.32,118.8 502.57,118.8 502.82,118.8 503.07,118.7 503.32,118.8 503.57,118.8 503.82,118.9 504.07,118.6 504.32,118.7 504.57,118.9 504.82,118.9 505.07,119.1 505.32,119.2 505.57,119.1 505.82,119.2 506.07,119.3 506.32,119.2 506.57,119.3 506.82,119.3 507.07,119.2 507.32,119.0 507.57,119.1 507.82,119.1 508.07,119.0 508.32,119.0 508.57,118.8 508.82,108.7 509.07,92.8 509.29,76.9 509.32,78.5 509.57,89.6 509.82,97.5 510.07,103.1 510.32,107.1 510.57,109.9 510.82,112.0 511.07,113.5 511.32,114.7 511.57,115.7 511.82,116.4 512.07,116.8 512.32,117.3 512.57,117.8 512.82,118.0 513.07,118.0 513.32,118.2 513.57,118.2 513.82,118.3 514.07,118.4 514.32,118.4 514.57,118.4 514.82,118.7 515.07,118.6 515.32,118.4 515.57,118.5 515.82,118.4 516.07,118.5 516.32,118.5 516.57,118.3 516.82,118.3 517.07,118.3 517.32,118.4 517.57,118.5 517.82,118.5 518.07,118.6 518.32,118.8 518.57,118.8 518.82,119.0 519.07,118.9 519.32,118.8 519.57,118.6 519.82,118.6 520.07,118.6 520.32,118.7 520.57,118.4 520.82,118.5 521.07,118.6 521.32,109.9 521.57,94.7 521.80,78.4 521.82,79.3 522.07,90.2 522.32,98.0 522.57,103.5 522.82,107.4 523.07,110.2 523.32,112.3 523.57,113.7 523.82,115.0 524.07,115.9 524.32,116.5 524.57,117.0 524.82,117.3 525.07,117.5 525.32,117.9 525.57,118.1 525.82,118.2 526.07,118.4 526.32,118.4 526.57,118.6 526.82,118.6 527.07,118.5 527.32,118.4 527.57,118.6 527.82,118.7 528.07,118.8 528.32,118.8 528.57,118.9 528.82,119.0 529.07,119.1 529.32,119.0 529.57,118.8 529.82,118.8 530.07,118.9 530.32,118.9 530.57,118.9 530.82,118.9 531.07,118.9 531.32,119.0 531.57,118.8 531.82,118.7 532.07,118.6 532.32,118.7 532.57,118.6 532.82,118.5 533.07,118.4 533.32,118.5 533.57,118.5 533.82,118.7 534.07,114.8 534.32,101.0 534.57,83.5 534.66,76.9 534.82,84.8 535.07,94.1 535.32,100.7 535.57,105.4 535.82,108.7 536.07,111.2 536.32,112.9 536.57,114.3 536.82,115.2 537.07,116.0 537.32,116.5 537.57,117.1 537.82,117.5 538.07,118.0 538.32,118.2 538.57,118.5 538.82,118.5 539.07,118.7 539.32,118.6 539.57,118.5 539.82,118.4 540.07,118.4 540.32,118.5 540.57,118.6 540.82,118.6 541.07,118.7 541.32,118.8 541.57,118.9 541.82,119.0 542.07,118.9 542.32,119.0 542.57,119.0 542.82,119.0 543.07,119.0 543.32,119.0 543.57,119.0 543.82,118.9 544.07,118.9 544.32,119.0 544.57,119.1 544.82,119.0 545.07,119.0 545.32,119.0 545.57,119.0 545.82,118.8 546.07,118.7 546.32,118.7 546.57,118.8 546.82,111.7 547.07,96.9 547.32,78.9 547.34,77.3 547.57,87.6 547.82,96.1 548.07,102.1 548.32,106.4 548.57,109.5 548.82,111.7 549.07,113.4 549.32,114.7 549.57,115.7 549.82,116.3 550.07,116.9 550.32,117.5 550.57,117.8 550.82,118.0 551.07,118.2 551.32,118.4 551.57,118.6 551.82,118.7 552.07,118.6 552.32,118.7 552.57,118.7 552.82,118.8 553.07,118.8 553.32,118.9 553.57,118.9 553.82,118.9 554.07,119.0 554.32,119.0 554.57,118.8 554.82,118.7 555.07,118.6 555.32,118.6 555.57,118.7 555.82,118.6 556.07,118.6 556.32,118.6 556.57,118.7 556.82,118.6 557.07,118.7 557.32,118.7 557.57,119.0 557.82,118.8 558.07,118.7 558.32,118.7 558.57,118.9 558.82,111.8 559.07,97.0 559.32,79.0 559.34,77.5 559.57,87.8 559.82,96.2 560.07,102.2 560.32,106.5 560.57,109.6 560.82,111.9 561.07,113.4 561.32,114.6 561.57,115.6 561.82,116.4 562.07,116.8 562.32,117.1 562.57,117.3 562.82,117.6 563.07,117.8 563.32,118.0 563.57,118.3 563.82,118.5 564.07,118.7 564.32,118.6 564.57,118.7 564.82,118.9 565.07,118.9 565.32,118.9 565.57,118.8 565.82,118.8 566.07,118.9 566.32,118.8 566.57,118.7 566.82,118.9 567.07,118.7 567.32,118.9 567.57,118.9 567.82,118.9 568.07,118.9 568.32,118.9 568.57,118.9 568.82,119.0 569.07,118.8 569.32,118.8 569.57,118.7 569.82,118.7 570.07,118.7 570.32,118.5 570.57,118.4 570.82,118.6 571.07,118.6 571.32,118.7 571.57,118.8 571.82,113.2 572.07,98.5 572.32,80.6 572.37,76.7 572.57,86.1 572.82,95.0 573.07,101.3 573.32,105.8 573.57,109.1 573.82,111.3 574.07,113.1 574.32,114.4 574.57,115.3 574.82,116.0 575.07,116.7 575.32,117.1 575.57,117.4 575.82,117.6 576.07,117.8 576.32,118.1 576.57,118.3 576.82,118.1 577.07,118.2 577.32,118.4 577.57,118.5 577.82,118.6 578.07,118.4 578.32,118.4 578.57,118.5 578.82,118.5 579.07,118.6 579.32,118.6 579.57,118.5 579.82,118.6 580.07,118.9 580.32,118.9 580.57,119.1 580.82,119.0 581.07,119.1 581.32,119.1 581.57,119.1 581.82,118.9 582.07,118.9 582.32,119.0 582.57,119.0 582.82,118.8 583.07,118.8 583.32,118.7 583.57,118.9 583.82,118.9 584.07,118.8 584.32,118.8 584.57,119.0 584.82,119.0 585.07,111.0 585.32,96.0 585.57,78.2 585.82,89.2 586.07,97.2 586.32,102.9 586.57,107.0 586.82,109.9 587.07,112.0 587.32,113.7 587.57,114.9 587.82,115.9 588.07,116.7 588.32,117.2 588.57,117.6 588.82,117.9 589.07,118.0 589.32,118.2 589.57,118.4 589.82,118.5 590.07,118.5 590.32,118.6 590.57,118.7 590.82,118.6 591.07,118.6 591.32,118.6 591.57,118.7 591.82,118.8 592.07,118.8 592.32,118.8 592.57,118.8 592.82,118.7 593.07,118.7 593.32,118.7 593.57,118.7 593.82,118.7 594.07,118.5 594.32,118.4 594.57,118.4 594.82,118.4 595.07,118.5 595.32,118.5 595.57,118.6 595.82,118.7 596.07,118.9 596.32,118.9 596.57,119.1 596.82,119.0 597.07,118.8 597.32,118.8 597.57,118.9 597.82,118.8 598.07,118.8 598.32,107.8 598.57,91.6 598.77,76.5 598.82,78.9 599.07,89.9 599.32,97.7 599.57,103.2 599.82,107.2 600.07,110.1 600.32,112.1 600.57,113.6 600.82,114.8 601.07,115.6 601.32,116.3" stroke-width="1.7"/>
<polyline points="369.57,169.0 369.82,168.9 370.07,168.9 370.32,168.8 370.57,169.0 370.82,161.3 371.07,148.2 371.30,134.3 371.32,135.2 371.57,144.5 371.82,151.2 372.07,155.9 372.32,159.2 372.57,161.5 372.82,163.3 373.07,164.6 373.32,165.6 373.57,166.4 373.82,166.9 374.07,167.3 374.32,167.6 374.57,167.8 374.82,167.9 375.07,168.1 375.32,168.2 375.57,168.4 375.82,168.6 376.07,168.8 376.32,168.7 376.57,168.8 376.82,169.0 377.07,169.0 377.32,168.8 377.57,168.9 377.82,161.1 378.07,147.8 378.30,133.4 378.32,134.1 378.57,143.8 378.82,150.6 379.07,155.5 379.32,159.0 379.57,161.5 379.82,163.3 380.07,164.7 380.32,165.6 380.57,166.3 380.82,166.9 381.07,167.3 381.32,167.6 381.57,167.7 381.82,167.9 382.07,168.0 382.32,168.2 382.57,168.3 382.82,168.3 383.07,168.5 383.32,168.5 383.57,168.5 383.82,168.5 384.07,168.5 384.32,168.5 384.57,168.6 384.82,168.7 385.07,168.8 385.32,168.7 385.57,168.7 385.82,168.8 386.07,168.7 386.32,168.6 386.57,168.6 386.82,167.8 387.07,157.8 387.32,144.1 387.48,134.2 387.57,138.1 387.82,146.6 388.07,152.6 388.32,156.9 388.57,159.9 388.82,162.1 389.07,163.7 389.32,164.9 389.57,165.8 389.82,166.5 390.07,166.9 390.32,167.4 390.57,167.6 390.82,167.9 391.07,168.0 391.32,168.2 391.57,168.4 391.82,168.5 392.07,168.6 392.32,168.7 392.57,168.5 392.82,168.6 393.07,168.7 393.32,168.7 393.57,168.8 393.82,165.3 394.07,153.5 394.32,138.8 394.40,133.6 394.57,140.6 394.82,148.4 395.07,153.9 395.32,157.8 395.57,160.7 395.82,162.7 396.07,164.1 396.32,165.1 396.57,165.9 396.82,166.7 397.07,167.2 397.32,167.5 397.57,167.7 397.82,168.2 398.07,168.4 398.32,168.6 398.57,168.7 398.82,168.8 399.07,168.9 399.32,168.9 399.57,168.8 399.82,168.9 400.07,168.9 400.32,168.8 400.57,168.7 400.82,168.7 401.07,168.9 401.32,169.0 401.57,167.8 401.82,157.5 402.07,143.8 402.22,134.6 402.32,138.9 402.57,147.1 402.82,153.0 403.07,157.2 403.32,160.3 403.57,162.4 403.82,164.0 404.07,165.2 404.32,166.1 404.57,166.7 404.82,167.1 405.07,167.5 405.32,167.7 405.57,168.0 405.82,168.1 406.07,168.2 406.32,168.3 406.57,168.3 406.82,168.5 407.07,168.8 407.32,168.9 407.57,168.9 407.82,168.7 408.07,168.8 408.32,168.8 408.57,168.7 408.82,165.9 409.07,154.7 409.32,140.3 409.42,133.9 409.57,139.9 409.82,147.9 410.07,153.5 410.32,157.6 410.57,160.6 410.82,162.8 411.07,164.3 411.32,165.4 411.57,166.2 411.82,166.6 412.07,167.2 412.32,167.5 412.57,167.7 412.82,167.9 413.07,168.1 413.32,168.4 413.57,168.6 413.82,168.6 414.07,168.5 414.32,168.5 414.57,168.6 414.82,168.6 415.07,168.6 415.32,168.6 415.57,168.7 415.82,168.9 416.07,168.8 416.32,168.9 416.57,168.9 416.82,168.9 417.07,161.5 417.32,148.5 417.56,134.0 417.57,134.4 417.82,144.0 418.07,150.8 418.32,155.6 418.57,159.1 418.82,161.6 419.07,163.5 419.32,164.9 419.57,165.7 419.82,166.6 420.07,167.0 420.32,167.3 420.57,167.5 420.82,167.7 421.07,167.7 421.32,168.0 421.57,167.9 421.82,168.3 422.07,168.4 422.32,168.6 422.57,168.5 422.82,168.6 423.07,168.7 423.32,168.9 423.57,168.7 423.82,168.7 424.07,168.7 424.32,168.9 424.57,169.0 424.82,168.9 425.07,169.0 425.32,162.6 425.57,150.2 425.82,135.5 426.07,144.6 426.32,151.2 426.57,155.9 426.82,159.3 427.07,161.7 427.32,163.4 427.57,164.7 427.82,165.7 428.07,166.4 428.32,167.0 428.57,167.4 428.82,167.8 429.07,168.0 429.32,168.2 429.57,168.3 429.82,168.3 430.07,168.2 430.32,168.5 430.57,168.6 430.82,168.7 431.07,168.9 431.32,168.8 431.57,169.0 431.82,169.2 432.07,164.5 432.32,152.2 432.57,137.4 432.62,134.2 432.82,142.0 433.07,149.4 433.32,154.6 433.57,158.3 433.82,161.0 434.07,163.0 434.32,164.5 434.57,165.6 434.82,166.5 435.07,167.0 435.32,167.8 435.57,168.0 435.82,168.4 436.07,168.5 436.32,168.4 436.57,168.3 436.82,168.3 437.07,168.2 437.32,168.3 437.57,168.3 437.82,168.4 438.07,168.7 438.32,168.8 438.57,169.0 438.82,168.9 439.07,168.9 439.32,168.7 439.57,168.6 439.82,168.5 440.07,161.2 440.32,148.2 440.56,133.9 440.57,134.3 440.82,143.9 441.07,150.7 441.32,155.6 441.57,159.0 441.82,161.5 442.07,163.4 442.32,164.5 442.57,165.5 442.82,166.3 443.07,166.8 443.32,167.5 443.57,167.8 443.82,167.9 444.07,168.1 444.32,168.2 444.57,168.4 444.82,168.6 445.07,168.3 445.32,168.6 445.57,168.7 445.82,168.7 446.07,168.9 446.32,168.9 446.57,168.8 446.82,168.8 447.07,168.6 447.32,168.6 447.57,168.6 447.82,159.0 448.07,145.4 448.26,133.8 448.32,136.4 448.57,145.4 448.82,151.8 449.07,156.3 449.32,159.5 449.57,161.9 449.82,163.6 450.07,164.9 450.32,165.7 450.57,166.4 450.82,167.0 451.07,167.5 451.32,167.7 451.57,168.1 451.82,168.2 452.07,168.6 452.32,168.6 452.57,168.5 452.82,168.5 453.07,168.6 453.32,168.5 453.57,168.7 453.82,168.6 454.07,168.7 454.32,168.6 454.57,168.7 454.82,168.9 455.07,169.0 455.32,160.3 455.57,147.0 455.78,134.0 455.82,135.4 456.07,144.7 456.32,151.3 456.57,155.9 456.82,159.3 457.07,161.7 457.32,163.6 457.57,165.0 457.82,165.9 458.07,166.5 458.32,167.3 458.57,167.7 458.82,168.0 459.07,168.2 459.32,168.3 459.57,168.5 459.82,168.8 460.07,168.5 460.32,168.6 460.57,168.8 460.82,168.9 461.07,168.9 461.32,168.9 461.57,168.8 461.82,169.1 462.07,169.0 462.32,169.0 462.57,169.0 462.82,169.2 463.07,169.2 463.32,169.2 463.57,169.3 463.82,169.6 464.07,161.3 464.32,147.8 464.55,133.4 464.57,134.0 464.82,143.7 465.07,150.5 465.32,155.4 465.57,158.9 465.82,161.5 466.07,163.4 466.32,164.8 466.57,166.0 466.82,166.7 467.07,167.0 467.32,167.4 467.57,167.5 467.82,167.6 468.07,167.8 468.32,167.8 468.57,168.0 468.82,168.2 469.07,168.2 469.32,168.4 469.57,168.5 469.82,168.6 470.07,168.8 470.32,168.8 470.57,168.9 470.82,169.1 471.07,163.0 471.32,150.4 471.57,135.3 471.59,134.1 471.82,143.1 472.07,150.1 472.32,155.1 472.57,158.7 472.82,161.4 473.07,163.4 473.32,164.8 473.57,165.8 473.82,166.6 474.07,167.1 474.32,167.5 474.57,167.8 474.82,167.8 475.07,168.1 475.32,168.2 475.57,168.3 475.82,168.4 476.07,168.7 476.32,168.7 476.57,168.7 476.82,168.9 477.07,169.0 477.32,168.9 477.57,169.0 477.82,168.8 478.07,168.9 478.32,169.0 478.57,169.0 478.82,168.9 479.07,169.0 479.32,169.1 479.57,169.1 479.82,169.2 480.07,164.6 480.32,152.4 480.57,137.8 480.62,134.7 480.82,142.3 481.07,149.6 481.32,154.7 481.57,158.4 481.82,161.1 482.07,163.1 482.32,164.4 482.57,165.4 482.82,166.3 483.07,166.7 483.32,167.2 483.57,167.6 483.82,167.8 484.07,168.1 484.32,168.2 484.57,168.2 484.82,168.4 485.07,168.3 485.32,168.3 485.57,168.4 485.82,168.5 486.07,168.6 486.32,165.5 486.57,153.7 486.82,138.9 486.90,133.7 487.07,140.3 487.32,148.2 487.57,153.7 487.82,157.7 488.07,160.6 488.32,162.7 488.57,164.2 488.82,165.3 489.07,166.2 489.32,166.9 489.57,167.2 489.82,167.7 490.07,167.7 490.32,167.9 490.57,168.2 490.82,168.2 491.07,168.4 491.32,168.7 491.57,168.6 491.82,168.6 492.07,168.8 492.32,168.7 492.57,168.8 492.82,168.7 493.07,168.8 493.32,168.8 493.57,168.7 493.82,168.6 494.07,168.5 494.32,168.5 494.57,164.9 494.82,152.8 495.07,137.7 495.15,132.9 495.32,140.0 495.57,148.0 495.82,153.6 496.07,157.6 496.32,160.5 496.57,162.7 496.82,164.3 497.07,165.2 497.32,166.0 497.57,166.6 497.82,167.1 498.07,167.5 498.32,167.6 498.57,167.8 498.82,168.2 499.07,168.4 499.32,168.6 499.57,168.6 499.82,168.7 500.07,168.8 500.32,168.7 500.57,168.5 500.82,168.6 501.07,168.7 501.32,168.8 501.57,168.7 501.82,168.8 502.07,168.9 502.32,168.9 502.57,164.2 502.82,152.1 503.07,137.3 503.12,134.3 503.32,142.2 503.57,149.5 503.82,154.7 504.07,158.4 504.32,161.1 504.57,163.0 504.82,164.2 505.07,165.3 505.32,166.0 505.57,166.5 505.82,167.0 506.07,167.5 506.32,168.0 506.57,168.4 506.82,168.5 507.07,168.6 507.32,168.9 507.57,169.0 507.82,168.9 508.07,168.7 508.32,168.6 508.57,168.7 508.82,168.7 509.07,168.7 509.32,168.8 509.57,169.0 509.82,163.6 510.07,150.9 510.32,135.5 510.36,133.2 510.57,141.7 510.82,149.1 511.07,154.4 511.32,158.2 511.57,160.9 511.82,162.9 512.07,164.2 512.32,165.4 512.57,166.2 512.82,166.9 513.07,167.3 513.32,167.5 513.57,167.6 513.82,167.8 514.07,168.0 514.32,168.1 514.57,168.2 514.82,168.3 515.07,168.4 515.32,168.5 515.57,168.6 515.82,168.5 516.07,168.5 516.32,168.4 516.57,168.5 516.82,168.6 517.07,160.7 517.32,147.7 517.54,134.2 517.57,135.4 517.82,144.7 518.07,151.3 518.32,156.0 518.57,159.3 518.82,161.8 519.07,163.4 519.32,164.7 519.57,165.6 519.82,166.3 520.07,166.8 520.32,167.3 520.57,167.4 520.82,167.8 521.07,168.1 521.32,168.2 521.57,168.2 521.82,168.5 522.07,168.7 522.32,168.8 522.57,168.6 522.82,168.4 523.07,168.6 523.32,168.9 523.57,168.9 523.82,168.6 524.07,168.7 524.32,168.8 524.57,168.9 524.82,168.7 525.07,168.5 525.32,168.6 525.57,162.5 525.82,150.3 526.07,135.5 526.08,134.9 526.32,144.1 526.57,150.8 526.82,155.7 527.07,159.1 527.32,161.6 527.57,163.4 527.82,164.7 528.07,165.6 528.32,166.3 528.57,167.0 528.82,167.5 529.07,167.9 529.32,168.1 529.57,168.4 529.82,168.5 530.07,168.8 530.32,168.8 530.57,168.7 530.82,168.9 531.07,168.8 531.32,168.9 531.57,168.8 531.82,168.9 532.07,168.8 532.32,168.7 532.57,168.5 532.82,168.5 533.07,168.5 533.32,168.6 533.57,166.0 533.82,155.2 534.07,141.1 534.18,134.8 534.32,140.5 534.57,148.3 534.82,153.8 535.07,157.8 535.32,160.6 535.57,162.7 535.82,164.2 536.07,165.2 536.32,166.1 536.57,166.7 536.82,167.1 537.07,167.4 537.32,167.6 537.57,167.9 537.82,168.2 538.07,168.2 538.32,168.3 538.57,168.4 538.82,168.5 539.07,168.6 539.32,168.7 539.57,168.6 539.82,168.8 540.07,168.8 540.32,168.9 540.57,168.8 540.82,167.8 541.07,157.6 541.32,143.9 541.47,134.7 541.57,138.7 541.82,136.2 541.86,133.9 542.07,142.3 542.32,149.5 542.57,154.7 542.82,158.4 543.07,161.1 543.32,163.2 543.57,164.7 543.82,165.8 544.07,166.3 544.32,167.0 544.57,167.4 544.82,167.6 545.07,167.7 545.32,167.6 545.57,167.7 545.82,168.1 546.07,168.2 546.32,168.4 546.57,168.7 546.82,168.8 547.07,168.9 547.32,169.1 547.57,169.1 547.82,169.0 548.07,169.0 548.32,168.9 548.57,169.1 548.82,169.0 549.07,168.8 549.32,164.1 549.57,151.7 549.82,136.6 549.87,133.3 550.07,141.4 550.32,148.9 550.57,154.3 550.82,158.1 551.07,160.9 551.32,162.9 551.57,164.3 551.82,165.4 552.07,166.1 552.32,166.7 552.57,167.3 552.82,167.7 553.07,167.9 553.32,168.0 553.57,168.2 553.82,168.5 554.07,168.6 554.32,168.7 554.57,168.6 554.82,168.7 555.07,169.0 555.32,169.0 555.57,169.0 555.82,168.8 556.07,161.2 556.32,148.2 556.55,134.0 556.57,134.8 556.82,144.2 557.07,150.9 557.32,155.7 557.57,159.2 557.82,161.7 558.07,163.5 558.32,164.7 558.57,165.7 558.82,166.2 559.07,166.7 559.32,167.0 559.57,167.4 559.82,167.7 560.07,168.1 560.32,168.3 560.57,168.4 560.82,168.4 561.07,168.6 561.32,168.6 561.57,168.7 561.82,168.7 562.07,168.7 562.32,168.6 562.57,168.8 562.82,168.9 563.07,168.9 563.32,168.8 563.57,168.7 563.82,168.8 564.07,169.0 564.32,168.9 564.57,168.9 564.82,166.7 565.07,155.6 565.32,141.5 565.43,134.6 565.57,140.0 565.82,147.9 566.07,153.6 566.32,157.6 566.57,160.5 566.82,162.7 567.07,164.3 567.32,165.5 567.57,166.2 567.82,166.8 568.07,167.1 568.32,167.5 568.57,167.9 568.82,168.2 569.07,168.5 569.32,168.7 569.57,168.8 569.82,169.0 570.07,169.0 570.32,168.9 570.57,168.9 570.82,168.7 571.07,168.7 571.32,168.7 571.57,168.7 571.82,168.6 572.07,168.8 572.32,168.8 572.57,168.9 572.82,169.0 573.07,169.1 573.32,169.2 573.57,164.9 573.82,152.5 574.07,137.7 574.13,133.9 574.32,141.6 574.57,149.1 574.82,154.4 575.07,158.2 575.32,161.1 575.57,163.1 575.82,164.6 576.07,165.7 576.32,166.6 576.57,167.1 576.82,167.3 577.07,167.7 577.32,168.0 577.57,168.1 577.82,168.2 578.07,168.2 578.32,168.3 578.57,168.4 578.82,168.4 579.07,168.4 579.32,168.4 579.57,168.6 579.82,168.8 580.07,168.9 580.32,169.0 580.57,168.9 580.82,162.0 581.07,148.9 581.32,133.3 581.57,143.0 581.82,150.0 582.07,155.1 582.32,158.6 582.57,161.2 582.82,163.2 583.07,164.6 583.32,165.6 583.57,166.5 583.82,167.0 584.07,167.3 584.32,167.7 584.57,168.0 584.82,168.1 585.07,168.4 585.32,168.5 585.57,168.6 585.82,168.8 586.07,168.8 586.32,168.8 586.57,168.7 586.82,168.6 587.07,168.5 587.32,168.5 587.57,168.5 587.82,168.7 588.07,168.6 588.32,168.8 588.57,163.8 588.82,151.7 589.07,136.9 589.11,134.3 589.32,142.3 589.57,149.6 589.82,154.7 590.07,158.4 590.32,161.2 590.57,163.1 590.82,164.5 591.07,165.5 591.32,166.3 591.57,166.8 591.82,167.1 592.07,167.5 592.32,167.7 592.57,167.8 592.82,168.1 593.07,168.3 593.32,168.6 593.57,168.7 593.82,168.8 594.07,169.0 594.32,169.1 594.57,169.1 594.82,169.0 595.07,169.0 595.32,169.0 595.57,167.1 595.82,156.0 596.07,142.0 596.19,134.6 596.32,139.8 596.57,147.8 596.82,153.5 597.07,157.5 597.32,160.4 597.57,162.6 597.82,164.1 598.07,165.3 598.32,166.1 598.57,166.9 598.82,167.2 599.07,167.7 599.32,167.9 599.57,168.2 599.82,168.3 600.07,168.4 600.32,168.4 600.57,168.5 600.82,168.6 601.07,168.6 601.32,168.6" stroke-width="1.7"/>
<polyline points="369.57,217.8 369.82,217.8 370.07,217.7 370.32,217.7 370.57,217.5 370.82,217.5 371.07,217.5 371.32,217.6 371.57,217.4 371.82,217.6 372.07,217.6 372.32,217.7 372.57,217.5 372.82,217.6 373.07,217.4 373.32,217.6 373.57,217.6 373.82,217.5 374.07,217.6 374.32,217.8 374.57,210.5 374.82,197.7 375.06,183.6 375.07,184.1 375.32,193.5 375.57,200.1 375.82,204.9 376.07,208.3 376.32,210.8 376.57,212.6 376.82,213.9 377.07,214.7 377.32,215.3 377.57,215.8 377.82,216.1 378.07,216.3 378.32,216.5 378.57,216.7 378.82,216.8 379.07,217.0 379.32,217.0 379.57,217.2 379.82,217.4 380.07,217.6 380.32,217.7 380.57,217.9 380.82,217.8 381.07,217.7 381.32,217.6 381.57,217.5 381.82,217.4 382.07,217.3 382.32,208.7 382.57,195.7 382.77,183.6 382.82,185.6 383.07,194.6 383.32,200.9 383.57,205.4 383.82,208.7 384.07,210.9 384.32,212.7 384.57,214.1 384.82,214.9 385.07,215.6 385.32,216.1 385.57,216.7 385.82,217.2 386.07,217.4 386.32,217.4 386.57,217.6 386.82,217.7 387.07,217.6 387.32,217.5 387.57,217.5 387.82,217.5 388.07,217.4 388.32,217.5 388.57,217.5 388.82,217.6 389.07,217.5 389.32,217.5 389.57,213.9 389.82,202.4 390.07,188.1 390.14,183.7 390.32,190.6 390.57,198.1 390.82,203.4 391.07,207.3 391.32,210.1 391.57,212.2 391.82,213.6 392.07,214.6 392.32,215.4 392.57,215.9 392.82,216.4 393.07,216.8 393.32,217.0 393.57,217.1 393.82,217.2 394.07,217.2 394.32,217.3 394.57,217.2 394.82,217.3 395.07,217.4 395.32,217.4 395.57,217.6 395.82,217.7 396.07,217.7 396.32,217.7 396.57,217.7 396.82,217.7 397.07,217.5 397.32,217.6 397.57,217.5 397.82,217.5 398.07,217.7 398.32,217.8 398.57,217.8 398.82,217.8 399.07,211.0 399.32,198.5 399.57,183.6 399.82,193.0 400.07,199.8 400.32,204.6 400.57,208.1 400.82,210.7 401.07,212.6 401.32,213.8 401.57,214.8 401.82,215.4 402.07,216.0 402.32,216.4 402.57,216.5 402.82,216.7 403.07,217.0 403.32,217.2 403.57,217.2 403.82,217.3 404.07,217.4 404.32,217.5 404.57,217.6 404.82,217.7 405.07,217.7 405.32,217.7 405.57,217.7 405.82,217.8 406.07,217.8 406.32,215.9 406.57,205.0 406.82,191.1 406.94,183.7 407.07,188.8 407.32,196.8 407.57,202.5 407.82,206.5 408.07,209.5 408.32,211.7 408.57,213.3 408.82,214.3 409.07,215.1 409.32,215.6 409.57,216.0 409.82,216.3 410.07,216.5 410.32,216.6 410.57,216.7 410.82,216.8 411.07,216.9 411.32,217.2 411.57,217.2 411.82,217.4 412.07,217.2 412.32,217.4 412.57,217.4 412.82,217.6 413.07,217.5 413.32,217.5 413.57,217.5 413.82,217.8 414.07,214.6 414.32,203.2 414.57,188.9 414.66,183.6 414.82,190.1 415.07,197.7 415.32,203.2 415.57,207.0 415.82,209.9 416.07,211.9 416.32,213.4 416.57,214.4 416.82,215.1 417.07,215.8 417.32,216.3 417.57,216.5 417.82,216.7 418.07,217.0 418.32,217.2 418.57,217.4 418.82,217.2 419.07,217.5 419.32,217.4 419.57,217.6 419.82,217.6 420.07,217.5 420.32,217.7 420.57,218.0 420.82,217.9 421.07,218.0 421.32,217.9 421.57,217.8 421.82,213.3 422.07,201.3 422.32,186.8 422.37,183.6 422.57,191.4 422.82,198.6 423.07,203.8 423.32,207.5 423.57,210.2 423.82,212.1 424.07,213.6 424.32,214.5 424.57,215.4 424.82,216.0 425.07,216.5 425.32,217.0 425.57,217.4 425.82,217.5 426.07,217.6 426.32,217.6 426.57,217.6 426.82,217.4 427.07,217.4 427.32,217.4 427.57,217.3 427.82,217.2 428.07,217.5 428.32,217.5 428.57,217.7 428.82,217.8 429.07,217.8 429.32,218.0 429.57,218.1 429.82,215.6 430.07,204.3 430.32,190.3 430.43,183.5 430.57,189.3 430.82,197.2 431.07,202.8 431.32,206.7 431.57,209.5 431.82,211.6 432.07,213.1 432.32,214.1 432.57,215.0 432.82,215.5 433.07,215.9 433.32,216.4 433.57,216.5 433.82,216.7 434.07,216.2 434.32,206.1 434.57,192.4 434.71,183.8 434.82,187.9 435.07,196.2 435.32,202.1 435.57,206.2 435.82,209.2 436.07,211.4 436.32,212.9 436.57,214.1 436.82,214.8 437.07,215.3 437.32,215.9 437.57,216.3 437.82,216.5 438.07,216.8 438.32,216.9 438.57,217.2 438.82,217.4 439.07,217.4 439.32,217.4 439.57,217.5 439.82,217.4 440.07,217.6 440.32,217.7 440.57,217.6 440.82,217.7 441.07,217.7 441.32,217.5 441.57,217.6 441.82,217.5 442.07,217.6 442.32,215.6 442.57,205.0 442.82,191.1 442.94,183.7 443.07,188.8 443.32,196.8 443.57,202.5 443.82,206.5 444.07,209.4 444.32,211.5 444.57,213.1 444.82,214.1 445.07,215.1 445.32,215.5 445.57,216.1 445.82,216.3 446.07,216.5 446.32,216.8 446.57,217.1 446.82,217.3 447.07,217.7 447.32,217.7 447.57,217.8 447.82,217.7 448.07,217.8 448.32,217.8 448.57,217.7 448.82,217.6 449.07,217.6 449.32,217.7 449.57,217.8 449.82,217.6 450.07,214.4 450.32,203.2 450.57,189.0 450.66,183.6 450.82,190.1 451.07,197.7 451.32,203.2 451.57,207.0 451.82,209.8 452.07,211.9 452.32,213.5 452.57,214.5 452.82,215.2 453.07,215.9 453.32,216.3 453.57,216.7 453.82,216.9 454.07,217.1 454.32,217.3 454.57,217.3 454.82,217.3 455.07,217.4 455.32,217.3 455.57,217.4 455.82,217.5 456.07,217.4 456.32,217.3 456.57,217.5 456.82,217.5 457.07,217.4 457.32,217.5 457.57,217.4 457.82,213.0 458.07,201.3 458.32,186.8 458.37,183.6 458.57,191.3 458.82,198.6 459.07,203.8 459.32,207.5 459.57,210.2 459.82,212.2 460.07,213.7 460.32,214.7 460.57,215.4 460.82,215.8 461.07,216.2 461.32,216.5 461.57,216.8 461.82,217.0 462.07,217.0 462.32,217.2 462.57,217.3 462.82,217.4 463.07,217.6 463.32,217.5 463.57,217.4 463.82,217.5 464.07,217.3 464.32,217.4 464.57,217.4 464.82,217.2 465.07,217.3 465.32,217.3 465.57,211.6 465.82,199.3 466.07,184.5 466.09,183.7 466.32,192.5 466.57,199.5 466.82,204.4 467.07,207.9 467.32,210.3 467.57,212.0 467.82,213.3 468.07,214.3 468.32,215.0 468.57,215.7 468.82,216.1 469.07,216.6 469.32,216.9 469.57,217.0 469.82,217.3 470.07,217.3 470.32,217.4 470.57,217.4 470.82,217.5 471.07,217.4 471.32,217.6 471.57,217.5 471.82,217.5 472.07,217.3 472.32,217.5 472.57,217.5 472.82,209.5 473.07,196.6 473.29,183.7 473.32,185.0 473.57,194.1 473.82,200.6 474.07,205.2 474.32,208.4 474.57,210.8 474.82,212.5 475.07,213.9 475.32,214.9 475.57,215.7 475.82,216.2 476.07,216.5 476.32,216.8 476.57,217.0 476.82,217.2 477.07,217.3 477.32,217.2 477.57,217.4 477.82,217.4 478.07,217.5 478.32,217.7 478.57,217.7 478.82,217.8 479.07,217.8 479.32,218.0 479.57,217.9 479.82,218.0 480.07,214.7 480.32,203.2 480.57,189.0 480.66,183.6 480.82,190.1 481.07,197.7 481.32,203.1 481.57,207.0 481.82,209.7 482.07,211.7 482.32,212.9 482.57,214.0 482.82,214.8 483.07,215.5 483.32,216.0 483.57,216.4 483.82,216.7 484.07,216.9 484.32,217.0 484.57,217.1 484.82,217.2 485.07,217.3 485.32,217.3 485.57,217.3 485.82,217.6 486.07,217.6 486.32,217.8 486.57,217.7 486.82,217.6 487.07,217.6 487.32,212.6 487.57,200.5 487.82,185.9 487.86,183.6 488.07,191.8 488.32,199.0 488.57,204.0 488.82,207.6 489.07,210.2 489.32,212.0 489.57,213.3 489.82,214.2 490.07,215.1 490.32,215.8 490.57,216.3 490.82,216.8 491.07,217.0 491.32,217.3 491.57,217.6 491.82,217.5 492.07,217.5 492.32,217.5 492.57,217.5 492.82,217.7 493.07,217.7 493.32,217.5 493.57,217.6 493.82,217.7 494.07,217.8 494.32,217.8 494.57,217.7 494.82,217.8 495.07,211.1 495.32,198.6 495.57,183.6 495.82,193.0 496.07,199.8 496.32,204.6 496.57,208.1 496.82,210.6 497.07,212.4 497.32,213.7 497.57,214.7 497.82,215.4 498.07,215.9 498.32,216.4 498.57,216.7 498.82,216.9 499.07,217.1 499.32,217.2 499.57,217.5 499.82,217.6 500.07,217.5 500.32,217.6 500.57,217.6 500.82,217.8 501.07,217.8 501.32,217.6 501.57,217.6 501.82,217.7 502.07,217.7 502.32,217.7 502.57,217.5 502.82,209.4 503.07,196.6 503.29,183.7 503.32,185.0 503.57,194.1 503.82,200.6 504.07,205.2 504.32,208.5 504.57,211.0 504.82,212.9 505.07,214.2 505.32,215.0 505.57,215.7 505.82,216.3 506.07,216.7 506.32,217.0 506.57,216.9 506.82,217.0 507.07,217.2 507.32,217.4 507.57,217.4 507.82,217.7 508.07,217.5 508.32,217.7 508.57,217.8 508.82,217.9 509.07,217.9 509.32,217.9 509.57,217.7 509.82,217.7 510.07,217.5 510.32,217.5 510.57,217.4 510.82,217.3 511.07,217.4 511.32,217.4 511.57,217.7 511.82,217.8 512.07,217.8 512.32,217.9 512.57,217.7 512.82,217.5 513.07,217.5 513.32,217.5 513.57,217.7 513.82,217.7 514.07,217.8 514.32,217.9 514.57,218.1 514.82,208.2 515.07,193.0 515.29,177.9 515.32,179.4 515.57,190.1 515.80,177.8 515.82,178.7 516.07,189.6 516.32,177.9 516.57,189.1 516.82,196.9 517.07,202.5 517.32,206.5 517.57,209.4 517.82,211.4 518.07,213.0 518.32,214.0 518.57,214.8 518.82,215.4 519.07,215.9 519.32,216.3 519.57,216.5 519.82,216.6 520.07,216.8 520.32,216.7 520.57,216.8 520.82,216.9 521.07,216.8 521.32,216.9 521.57,216.9 521.82,217.0 522.07,217.3 522.32,217.6 522.57,217.5 522.82,217.7 523.07,217.9 523.32,212.1 523.57,198.5 523.82,182.1 523.86,179.5 524.07,188.7 524.32,183.1 524.37,179.6 524.57,188.2 524.82,184.1 524.89,179.6 525.07,187.6 525.32,195.9 525.57,201.8 525.82,206.0 526.07,209.0 526.32,211.2 526.57,212.8 526.82,214.0 527.07,214.7 527.32,215.4 527.57,216.0 527.82,216.3 528.07,216.6 528.32,217.0 528.57,217.0 528.82,217.4 529.07,217.4 529.32,217.5 529.57,217.5 529.82,217.5 530.07,217.5 530.32,217.8 530.57,217.7 530.82,217.8 531.07,211.2 531.32,198.6 531.57,183.7 531.82,193.0 532.07,199.8 532.32,204.6 532.57,208.1 532.82,210.6 533.07,212.3 533.32,213.8 533.57,214.8 533.82,215.4 534.07,215.8 534.32,216.3 534.57,216.5 534.82,216.6 535.07,216.7 535.32,216.8 535.57,217.0 535.82,217.4 536.07,217.5 536.32,217.5 536.57,217.7 536.82,217.9 537.07,217.7 537.32,217.6 537.57,217.4 537.82,217.4 538.07,217.6 538.32,217.5 538.57,217.6 538.82,209.5 539.07,196.6 539.29,183.6 539.32,185.0 539.57,194.1 539.82,200.6 540.07,205.2 540.32,208.6 540.57,211.1 540.82,212.9 541.07,214.2 541.32,215.2 541.57,215.7 541.82,216.0 542.07,216.3 542.32,216.5 542.57,216.8 542.82,216.9 543.07,216.9 543.32,217.1 543.57,217.2 543.82,217.2 544.07,217.4 544.32,217.3 544.57,217.3 544.82,217.2 545.07,217.4 545.32,217.5 545.57,217.4 545.82,217.4 546.07,214.2 546.32,203.2 546.57,189.0 546.66,183.6 546.82,190.1 547.07,197.7 547.32,203.1 547.57,207.0 547.82,209.8 548.07,211.8 548.32,213.3 548.57,214.4 548.82,215.3 549.07,215.9 549.32,216.5 549.57,217.0 549.82,217.4 550.07,217.7 550.32,217.8 550.57,217.9 550.82,217.9 551.07,218.0 551.32,217.9 551.57,217.7 551.82,217.6 552.07,217.7 552.32,217.6 552.57,217.5 552.82,217.3 553.07,217.5 553.32,212.6 553.57,200.5 553.82,185.9 553.86,183.6 554.07,191.8 554.32,199.0 554.57,204.0 554.82,207.7 555.07,210.3 555.32,212.3 555.57,213.6 555.82,214.7 556.07,215.4 556.32,215.8 556.57,216.1 556.82,216.5 557.07,216.7 557.32,217.0 557.57,217.2 557.82,217.3 558.07,217.2 558.32,217.5 558.57,217.3 558.82,217.4 559.07,217.5 559.32,217.5 559.57,217.5 559.82,217.9 560.07,217.8 560.32,217.8 560.57,217.8 560.82,217.6 561.07,217.6 561.32,217.5 561.57,217.3 561.82,214.9 562.07,204.3 562.32,190.3 562.43,183.5 562.57,189.3 562.82,197.2 563.07,202.7 563.32,206.7 563.57,209.6 563.82,211.8 564.07,213.3 564.32,214.4 564.57,215.3 564.82,216.0 565.07,216.3 565.32,216.5 565.57,216.6 565.82,216.7 566.07,216.7 566.32,216.9 566.57,217.0 566.82,217.1 567.07,217.3 567.32,217.5 567.57,217.7 567.82,215.5 568.07,204.3 568.32,190.3 568.43,183.5 568.57,189.3 568.82,197.2 569.07,202.7 569.32,206.7 569.57,209.5 569.82,211.4 570.07,212.9 570.32,214.0 570.57,214.8 570.82,215.4 571.07,215.8 571.32,216.3 571.57,216.7 571.82,217.0 572.07,217.1 572.32,217.5 572.57,217.5 572.82,217.6 573.07,217.5 573.32,217.5 573.57,217.5 573.82,217.6 574.07,217.5 574.32,217.6 574.57,217.6 574.82,209.5 575.07,196.6 575.29,183.6 575.32,185.0 575.57,194.1 575.82,200.6 576.07,205.2 576.32,208.5 576.57,210.8 576.82,212.7 577.07,213.9 577.32,214.9 577.57,215.6 577.82,216.1 578.07,216.6 578.32,216.9 578.57,217.1 578.82,217.3 579.07,217.4 579.32,217.4 579.57,217.5 579.82,217.5 580.07,217.5 580.32,217.5 580.57,217.5 580.82,217.5 581.07,217.4 581.32,217.5 581.57,217.6 581.82,217.7 582.07,217.8 582.32,217.5 582.57,207.9 582.82,194.5 583.00,183.6 583.07,186.5 583.32,195.2 583.57,201.3 583.82,205.7 584.07,208.9 584.32,211.3 584.57,213.0 584.82,214.0 585.07,214.8 585.32,215.5 585.57,216.0 585.82,216.4 586.07,216.5 586.32,216.8 586.57,217.1 586.82,217.3 587.07,217.5 587.32,217.6 587.57,217.7 587.82,217.7 588.07,217.8 588.32,217.8 588.57,217.8 588.82,217.8 589.07,217.8 589.32,217.6 589.57,217.5 589.82,217.5 590.07,216.1 590.32,206.1 590.57,192.4 590.72,183.7 590.82,187.9 591.07,196.2 591.32,202.1 591.57,206.2 591.82,209.2 592.07,211.3 592.32,212.9 592.57,214.1 592.82,214.9 593.07,215.6 593.32,216.2 593.57,216.6 593.82,216.7 594.07,216.9 594.32,217.0 594.57,217.1 594.82,217.1 595.07,217.1 595.32,217.1 595.57,217.3 595.82,217.4 596.07,217.4 596.32,217.5 596.57,217.6 596.82,217.6 597.07,217.7 597.32,217.8 597.57,217.7 597.82,215.4 598.07,204.3 598.32,190.3 598.43,183.5 598.57,189.3 598.82,197.1 599.07,202.7 599.32,206.7 599.57,209.6 599.82,211.6 600.07,213.2 600.32,214.4 600.57,215.3 600.82,215.9 601.07,216.3 601.32,216.6" stroke-width="1.7"/>
<polyline points="369.57,240.0 369.82,251.3 370.07,258.8 370.32,263.8 370.57,267.2 370.82,269.7 371.07,271.4 371.32,272.7 371.57,273.7 371.82,274.4 372.07,275.2 372.32,275.6 372.57,274.9 372.82,262.3 373.07,246.0 373.30,229.6 373.32,231.1 373.57,245.5 373.82,254.9 374.07,261.2 374.32,265.6 374.57,268.5 374.82,270.6 375.07,272.1 375.32,273.3 375.57,274.0 375.82,274.6 376.07,275.1 376.32,275.5 376.57,275.9 376.82,276.1 377.07,276.2 377.32,276.6 377.57,276.7 377.82,276.8 378.07,277.0 378.32,274.1 378.57,260.8 378.82,244.2 379.02,229.3 379.07,232.5 379.32,246.4 379.57,255.5 379.82,261.6 380.07,265.7 380.32,268.6 380.57,270.6 380.82,272.1 381.07,273.3 381.32,274.2 381.57,274.8 381.82,275.4 382.07,275.9 382.32,276.1 382.57,276.5 382.82,276.6 383.07,276.7 383.32,267.7 383.57,252.4 383.82,234.5 383.89,229.1 384.07,240.1 384.32,251.3 384.57,258.8 384.82,263.8 385.07,267.2 385.32,269.7 385.57,271.4 385.82,272.8 386.07,273.7 386.32,274.5 386.57,275.0 386.82,275.5 387.07,275.7 387.32,275.8 387.57,275.9 387.82,276.2 388.07,274.1 388.32,261.4 388.57,245.3 388.78,230.2 388.82,233.0 389.07,246.7 389.32,255.8 389.57,261.8 389.82,266.0 390.07,268.8 390.32,270.9 390.57,272.3 390.82,273.5 391.07,274.4 391.32,275.2 391.57,275.6 391.82,276.0 392.07,276.2 392.32,276.4 392.57,276.6 392.82,271.9 393.07,257.7 393.32,240.5 393.47,229.2 393.57,235.5 393.82,248.3 394.07,256.8 394.32,262.5 394.57,266.4 394.82,269.1 395.07,271.1 395.32,272.6 395.57,273.6 395.82,274.3 396.07,274.9 396.32,275.3 396.57,275.6 396.82,275.9 397.07,276.1 397.32,276.4 397.57,276.7 397.82,276.5 398.07,265.1 398.32,249.5 398.57,231.5 398.59,230.0 398.82,243.8 399.07,253.8 399.32,260.5 399.57,265.0 399.82,268.1 400.07,270.4 400.32,271.9 400.57,273.0 400.82,273.7 401.07,274.2 401.32,274.6 401.57,274.9 401.82,275.4 402.07,275.7 402.32,276.0 402.57,276.2 402.82,276.4 403.07,276.9 403.32,273.6 403.57,260.6 403.82,244.3 404.01,230.5 404.07,234.6 404.32,247.8 404.57,256.5 404.82,262.3 405.07,266.2 405.32,269.0 405.57,270.9 405.82,272.4 406.07,273.4 406.32,274.2 406.57,274.9 406.82,275.4 407.07,275.8 407.32,276.0 407.57,276.3 407.82,276.3 408.07,276.3 408.32,268.8 408.57,254.2 408.82,236.6 408.91,229.8 409.07,239.4 409.32,250.9 409.57,258.5 409.82,263.7 410.07,267.1 410.32,269.6 410.57,271.3 410.82,272.6 411.07,273.7 411.32,274.6 411.57,275.1 411.82,275.6 412.07,276.0 412.32,276.4 412.57,276.5 412.82,276.6 413.07,276.7 413.32,276.8 413.57,272.3 413.82,258.3 414.07,241.4 414.23,229.4 414.32,235.4 414.57,248.3 414.82,256.8 415.07,262.5 415.32,266.3 415.57,269.0 415.82,271.0 416.07,272.4 416.32,273.3 416.57,274.2 416.82,274.9 417.07,275.3 417.32,275.8 417.57,276.1 417.82,276.5 418.07,276.6 418.32,274.5 418.57,261.4 418.82,245.0 419.03,229.6 419.07,232.5 419.32,246.4 419.57,255.5 419.82,261.6 420.07,265.7 420.32,268.6 420.57,270.6 420.82,272.0 421.07,273.1 421.32,273.9 421.57,274.4 421.82,274.9 422.07,275.1 422.32,275.4 422.57,275.8 422.82,276.1 423.07,276.2 423.32,264.7 423.57,249.1 423.82,231.1 423.83,230.4 424.07,244.2 424.32,254.1 424.57,260.7 424.82,265.1 425.07,268.2 425.32,270.3 425.57,271.9 425.82,273.2 426.07,274.0 426.32,274.6 426.57,274.9 426.82,275.3 427.07,275.8 427.32,276.0 427.57,276.2 427.82,276.5 428.07,272.8 428.32,259.1 428.57,242.3 428.74,229.6 428.82,234.8 429.07,247.9 429.32,256.5 429.57,262.3 429.82,266.3 430.07,269.1 430.32,271.2 430.57,272.7 430.82,273.7 431.07,274.6 431.32,275.0 431.57,275.5 431.82,275.8 432.07,275.9 432.32,276.1 432.57,276.4 432.82,276.5 433.07,276.5 433.32,276.0 433.57,264.2 433.82,248.5 434.07,230.4 434.08,230.1 434.32,244.4 434.57,254.2 434.82,260.7 435.07,265.1 435.32,268.2 435.57,270.3 435.82,271.9 436.07,273.1 436.32,274.0 436.57,274.6 436.82,275.2 437.07,275.6 437.32,276.0 437.57,276.2 437.82,276.4 438.07,276.5 438.32,276.7 438.57,276.8 438.82,274.3 439.07,261.0 439.32,244.3 439.53,228.4 439.57,231.2 439.82,245.5 440.07,254.9 440.32,261.2 440.57,265.5 440.82,268.4 441.07,270.5 441.32,272.0 441.57,273.1 441.82,274.0 442.07,274.5 442.32,275.1 442.57,275.6 442.82,275.8 443.07,276.0 443.32,276.2 443.57,276.2 443.82,276.3 444.07,268.2 444.32,253.4 444.57,235.8 444.65,229.7 444.82,240.2 445.07,251.4 445.32,258.9 445.57,263.9 445.82,267.4 446.07,269.9 446.32,271.7 446.57,272.9 446.82,273.8 447.07,274.5 447.32,275.0 447.57,275.4 447.82,275.6 448.07,275.8 448.32,272.3 448.57,258.7 448.82,241.9 448.99,229.8 449.07,235.3 449.32,248.2 449.57,256.7 449.82,262.5 450.07,266.4 450.32,269.1 450.57,271.0 450.82,272.3 451.07,273.4 451.32,274.2 451.57,274.9 451.82,275.4 452.07,275.7 452.32,276.0 452.57,276.3 452.82,276.2 453.07,276.3 453.32,276.4 453.57,276.2 453.82,265.0 454.07,249.5 454.32,231.5 454.34,230.1 454.57,243.9 454.82,253.9 455.07,260.5 455.32,265.1 455.57,268.2 455.82,270.4 456.07,272.1 456.32,273.0 456.57,273.9 456.82,274.6 457.07,275.1 457.32,275.4 457.57,275.7 457.82,275.8 458.07,276.1 458.32,275.1 458.57,262.8 458.82,246.7 459.05,229.7 459.07,230.6 459.32,245.1 459.57,254.7 459.82,261.1 460.07,265.4 460.32,268.4 460.57,270.5 460.82,272.1 461.07,273.2 461.32,274.1 461.57,274.8 461.82,275.2 462.07,275.5 462.32,275.7 462.57,275.9 462.82,276.2 463.07,276.3 463.32,276.3 463.57,276.2 463.82,264.7 464.07,248.7 464.32,230.3 464.34,228.8 464.57,243.0 464.82,253.2 465.07,260.1 465.32,264.7 465.57,267.8 465.82,270.1 466.07,271.7 466.32,272.8 466.57,273.7 466.82,274.4 467.07,274.9 467.32,275.2 467.57,275.5 467.82,275.4 468.07,264.2 468.32,248.7 468.57,230.7 468.58,230.4 468.82,244.5 469.07,254.3 469.32,260.8 469.57,265.3 469.82,268.3 470.07,270.4 470.32,272.0 470.57,273.2 470.82,274.0 471.07,274.7 471.32,275.3 471.57,275.6 471.82,276.0 472.07,276.1 472.32,276.2 472.57,276.6 472.82,276.7 473.07,276.7 473.32,276.8 473.57,269.5 473.82,255.0 474.07,237.7 474.17,230.3 474.32,239.3 474.57,250.9 474.82,258.5 475.07,263.6 475.32,267.2 475.57,269.8 475.82,271.6 476.07,272.9 476.32,273.9 476.57,274.6 476.82,275.0 477.07,275.3 477.32,275.5 477.57,264.6 477.82,249.0 478.07,230.8 478.09,229.8 478.32,243.7 478.57,253.7 478.82,237.0 478.90,231.1 478.94,230.3 479.07,238.3 479.32,250.2 479.57,258.1 479.82,263.4 480.07,266.9 480.32,269.4 480.57,271.2 480.82,272.4 481.07,273.2 481.32,274.1 481.57,274.6 481.82,275.2 482.07,275.6 482.32,276.0 482.57,276.4 482.82,276.7 483.07,276.8 483.32,276.9 483.57,277.1 483.82,277.1 484.07,274.3 484.32,261.2 484.57,244.9 484.77,230.2 484.82,233.0 485.07,246.7 485.32,255.7 485.57,261.8 485.82,265.9 486.07,268.7 486.32,270.8 486.57,272.2 486.82,273.3 487.07,274.2 487.32,274.7 487.57,275.2 487.82,275.7 488.07,276.0 488.32,276.2 488.57,276.2 488.82,264.3 489.07,248.3 489.32,229.9 489.33,229.1 489.57,243.3 489.82,253.5 490.07,260.2 490.32,264.8 490.57,267.9 490.82,270.0 491.07,271.7 491.32,273.0 491.57,274.0 491.82,274.8 492.07,275.5 492.32,275.9 492.57,276.3 492.82,276.2 493.07,276.3 493.32,276.4 493.57,276.3 493.82,275.8 494.07,264.7 494.32,249.4 494.57,231.5 494.58,230.8 494.82,244.4 495.07,254.2 495.32,260.8 495.57,265.0 495.82,268.1 496.07,270.2 496.32,271.9 496.57,273.1 496.82,274.0 497.07,274.8 497.32,275.2 497.57,275.6 497.82,276.0 498.07,276.1 498.32,276.2 498.57,276.2 498.82,273.1 499.07,260.1 499.32,243.7 499.51,230.3 499.57,234.4 499.82,247.6 500.07,256.3 500.32,262.2 500.57,266.3 500.82,269.1 501.07,271.1 501.32,272.5 501.57,273.6 501.82,274.4 502.07,274.9 502.32,275.4 502.57,275.5 502.82,275.7 503.07,275.8 503.32,275.9 503.57,269.8 503.82,255.9 504.07,238.9 504.19,230.4 504.32,238.8 504.57,250.5 504.82,258.3 505.07,263.5 505.32,267.1 505.57,269.7 505.82,271.6 506.07,272.9 506.32,273.8 506.57,274.5 506.82,274.9 507.07,275.4 507.32,275.6 507.57,275.8 507.82,275.9 508.07,276.0 508.32,276.3 508.57,276.4 508.82,276.3 509.07,271.6 509.32,258.0 509.57,241.2 509.72,230.1 509.82,236.5 510.07,249.0 510.32,257.3 510.57,262.8 510.82,266.7 511.07,269.3 511.32,271.2 511.57,272.6 511.82,273.7 512.07,274.4 512.32,274.8 512.57,275.5 512.82,275.8 513.07,276.1 513.32,276.4 513.57,276.5 513.82,276.7 514.07,276.9 514.32,267.0 514.57,251.8 514.82,234.2 514.87,230.5 515.07,242.3 515.32,252.8 515.57,259.8 515.82,264.6 516.07,267.8 516.32,269.9 516.57,271.7 516.82,272.9 517.07,273.8 517.32,274.5 517.57,275.1 517.82,275.7 518.07,276.0 518.32,276.2 518.57,276.4 518.82,276.5 519.07,270.1 519.32,255.7 519.57,238.6 519.69,230.3 519.82,238.7 520.07,250.5 520.32,258.2 520.57,263.5 520.82,267.1 521.07,269.5 521.32,271.3 521.57,272.5 521.82,273.4 522.07,274.1 522.32,274.6 522.57,275.1 522.82,275.6 523.07,276.0 523.32,276.2 523.57,276.4 523.82,276.5 524.07,275.2 524.32,263.0 524.57,247.2 524.80,230.6 524.82,231.7 525.07,245.9 525.32,255.2 525.57,261.4 525.82,265.6 526.07,268.5 526.32,270.6 526.57,272.0 526.82,273.1 527.07,273.8 527.32,274.4 527.57,275.0 527.82,275.3 528.07,275.6 528.32,275.8 528.57,275.9 528.82,276.2 529.07,276.5 529.32,272.0 529.57,258.3 529.82,241.5 529.98,229.8 530.07,235.9 530.32,248.6 530.57,257.0 530.82,262.6 531.07,266.5 531.32,269.1 531.57,271.0 531.82,272.4 532.07,273.5 532.32,274.3 532.57,274.9 532.82,275.3 533.07,275.6 533.32,275.7 533.57,275.9 533.82,276.1 534.07,276.3 534.32,266.6 534.57,251.2 534.82,233.3 534.87,229.4 535.07,241.6 535.32,252.3 535.57,259.5 535.82,264.3 536.07,267.6 536.32,270.0 536.57,271.6 536.82,272.9 537.07,274.0 537.32,274.6 537.57,275.2 537.82,275.7 538.07,276.0 538.32,276.3 538.57,276.5 538.82,276.6 539.07,272.3 539.32,258.1 539.57,241.1 539.73,229.5 539.82,235.7 540.07,248.4 540.32,256.9 540.57,262.6 540.82,266.5 541.07,269.2 541.32,271.1 541.57,272.5 541.82,273.5 542.07,274.4 542.32,274.8 542.57,275.3 542.82,275.6 543.07,275.9 543.32,276.0 543.57,276.3 543.82,266.8 544.07,252.0 544.32,234.6 544.37,230.9 544.57,242.8 544.82,253.2 545.07,260.1 545.32,264.7 545.57,267.9 545.82,270.1 546.07,271.6 546.32,272.9 546.57,273.8 546.82,274.4 547.07,274.8 547.32,275.3 547.57,275.5 547.82,275.9 548.07,276.0 548.32,276.3 548.57,276.4 548.82,276.6 549.07,265.6 549.32,249.9 549.57,231.7 549.60,229.4 549.82,242.4 550.07,252.8 550.32,259.8 550.57,264.6 550.82,267.9 551.07,270.2 551.32,271.9 551.57,273.0 551.82,273.9 552.07,274.6 552.32,275.0 552.57,275.2 552.82,275.6 553.07,275.8 553.32,276.0 553.57,276.1 553.82,276.3 554.07,268.6 554.32,253.8 554.57,236.2 554.66,229.4 554.82,239.7 555.07,251.1 555.32,258.7 555.57,263.7 555.82,267.2 556.07,269.7 556.32,271.4 556.57,272.7 556.82,273.7 557.07,274.5 557.32,275.1 557.57,275.6 557.82,275.9 558.07,276.1 558.32,276.3 558.57,276.5 558.82,276.5 559.07,276.4 559.32,275.7 559.57,264.3 559.82,248.5 560.07,230.1 560.08,229.3 560.32,243.6 560.57,253.6 560.82,260.3 561.07,264.9 561.32,268.1 561.57,270.3 561.82,271.8 562.07,273.0 562.32,273.8 562.57,274.5 562.82,274.9 563.07,275.3 563.32,275.8 563.57,276.2 563.82,276.2 564.07,276.4 564.32,276.4 564.57,273.8 564.82,260.8 565.07,244.5 565.27,230.6 565.32,234.0 565.57,247.4 565.82,256.2 566.07,262.1 566.32,266.1 566.57,268.7 566.82,270.7 567.07,272.1 567.32,273.3 567.57,274.2 567.82,274.8 568.07,275.2 568.32,275.7 568.57,276.0 568.82,276.3 569.07,276.6 569.32,271.3 569.57,257.3 569.82,240.5 569.96,230.1 570.07,237.4 570.32,249.6 570.57,257.7 570.82,263.1 571.07,266.8 571.32,269.5 571.57,271.3 571.82,272.6 572.07,273.6 572.32,274.5 572.57,275.1 572.82,275.7 573.07,275.9 573.32,276.3 573.57,276.6 573.82,276.6 574.07,276.6 574.32,276.7 574.57,272.7 574.82,259.0 575.07,242.2 575.24,229.5 575.32,234.8 575.57,247.9 575.82,256.5 576.07,262.3 576.32,266.2 576.57,268.9 576.82,270.9 577.07,272.3 577.32,273.3 577.57,274.0 577.82,274.7 578.07,275.3 578.32,275.7 578.57,276.1 578.82,268.3 579.07,253.1 579.32,235.3 579.40,229.1 579.57,239.5 579.82,251.0 580.07,258.6 580.32,263.7 580.57,267.2 580.82,269.5 581.07,271.2 581.32,272.5 581.57,273.5 581.82,274.3 582.07,274.9 582.32,275.3 582.57,275.7 582.82,276.0 583.07,276.2 583.32,276.2 583.57,276.4 583.82,276.6 584.07,276.7 584.32,276.9 584.57,267.0 584.82,251.9 585.07,234.3 585.12,230.6 585.32,242.3 585.57,252.9 585.82,259.8 586.07,264.6 586.32,267.9 586.57,270.1 586.82,271.7 587.07,272.8 587.32,273.7 587.57,274.3 587.82,274.7 588.07,275.1 588.32,275.5 588.57,275.8 588.82,275.9 589.07,274.0 589.32,261.5 589.57,245.2 589.78,229.7 589.82,232.4 590.07,246.3 590.32,255.5 590.57,261.6 590.82,265.7 591.07,268.6 591.32,270.6 591.57,272.1 591.82,273.1 592.07,273.9 592.32,274.5 592.57,275.2 592.82,275.6 593.07,276.0 593.32,276.3 593.57,276.4 593.82,276.6 594.07,276.8 594.32,276.6 594.57,276.7 594.82,265.9 595.07,250.5 595.32,232.5 595.36,229.6 595.57,242.5 595.82,252.9 596.07,259.9 596.32,264.6 596.57,267.9 596.82,270.2 597.07,271.8 597.32,273.0 597.57,273.7 597.82,274.4 598.07,274.8 598.32,275.3 598.57,275.5 598.82,275.7 599.07,276.0 599.32,276.3 599.57,276.6 599.82,271.9 600.07,258.2 600.32,241.4 600.47,230.3 600.57,236.4 600.82,248.9 601.07,257.2 601.32,262.8" stroke-width="1.4"/>
<polyline points="369.57,316.4 369.82,322.4 370.07,326.6 370.32,329.5 370.57,331.8 370.82,333.3 371.07,334.4 371.32,335.3 371.57,335.9 371.82,336.6 372.07,337.2 372.32,337.2 372.57,326.4 372.82,309.8 373.07,290.3 373.16,283.6 373.32,295.1 373.57,308.0 373.82,316.6 374.07,322.5 374.32,326.6 374.57,329.5 374.82,331.7 375.07,333.3 375.32,334.6 375.57,335.5 375.82,336.0 376.07,336.5 376.32,337.0 376.57,337.3 376.82,333.5 377.07,319.2 377.32,301.6 377.53,285.4 377.57,288.5 377.82,303.7 378.07,313.8 378.32,320.6 378.57,325.4 378.82,328.8 379.07,331.2 379.32,333.1 379.57,334.4 379.82,335.4 380.07,336.0 380.32,336.6 380.57,337.0 380.82,337.4 381.07,337.4 381.32,329.3 381.57,314.0 381.82,295.8 381.95,285.9 382.07,294.4 382.32,307.6 382.57,316.4 382.82,322.4 383.07,326.6 383.32,329.5 383.57,331.6 383.82,333.2 384.07,334.5 384.32,335.7 384.57,336.3 384.82,336.8 385.07,337.6 385.32,337.9 385.57,329.6 385.82,313.5 386.07,294.7 386.20,284.1 386.32,292.5 386.57,306.3 386.82,315.5 387.07,321.8 387.32,326.2 387.57,329.3 387.82,331.5 388.07,333.2 388.32,334.3 388.57,335.2 388.82,335.9 389.07,336.5 389.32,329.9 389.57,314.0 389.82,295.1 389.97,283.4 390.07,291.0 390.32,305.2 390.57,314.7 390.82,321.2 391.07,325.7 391.32,328.9 391.57,331.2 391.82,332.9 392.07,334.3 392.32,335.4 392.57,336.2 392.82,336.8 393.07,337.2 393.32,337.5 393.57,337.8 393.82,331.3 394.07,316.0 394.32,297.7 394.49,284.6 394.57,290.7 394.82,305.1 395.07,314.7 395.32,321.2 395.57,325.7 395.82,329.0 396.07,331.4 396.32,333.1 396.57,334.3 396.82,335.3 397.07,336.1 397.32,336.7 397.57,337.0 397.82,330.5 398.07,314.9 398.32,296.3 398.47,284.1 398.57,291.1 398.82,305.3 399.07,314.8 399.32,321.3 399.57,325.8 399.82,329.1 400.07,331.3 400.32,333.0 400.57,334.3 400.82,335.2 401.07,335.7 401.32,336.1 401.57,336.5 401.82,336.9 402.07,337.3 402.32,333.9 402.57,320.0 402.82,302.3 403.04,284.8 403.07,286.4 403.32,302.3 403.57,312.8 403.82,319.9 404.07,324.9 404.32,328.3 404.57,330.8 404.82,332.5 405.07,334.0 405.32,334.9 405.57,335.6 405.82,336.2 406.07,336.6 406.32,337.0 406.57,337.5 406.82,329.9 407.07,314.5 407.32,296.3 407.46,285.7 407.57,293.6 407.82,307.1 408.07,316.0 408.32,322.2 408.57,326.5 408.82,329.6 409.07,331.8 409.32,333.6 409.57,334.8 409.82,335.6 410.07,336.1 410.32,336.7 410.57,332.2 410.82,317.7 411.07,300.3 411.25,286.8 411.32,291.9 411.57,305.9 411.82,315.3 412.07,321.7 412.32,326.1 412.57,329.2 412.82,331.5 413.07,333.0 413.32,334.2 413.57,335.2 413.82,336.0 414.07,336.7 414.32,337.1 414.57,337.4 414.82,330.6 415.07,315.5 415.32,297.6 415.47,286.1 415.57,293.3 415.82,306.8 416.07,315.9 416.32,322.1 416.57,326.3 416.82,329.4 417.07,331.6 417.32,333.2 417.57,334.4 417.82,335.5 418.07,336.2 418.32,333.4 418.57,319.1 418.82,301.5 419.03,285.1 419.07,288.2 419.32,303.5 419.57,313.6 419.82,320.5 420.07,325.3 420.32,328.7 420.57,331.2 420.82,333.0 421.07,334.2 421.32,335.1 421.57,335.8 421.82,336.5 422.07,336.9 422.32,337.2 422.57,337.4 422.82,337.8 423.07,337.8 423.32,325.3 423.57,308.7 423.82,289.7 423.88,285.6 424.07,298.5 424.32,310.3 424.57,318.2 424.82,323.6 425.07,327.4 425.32,330.0 425.57,332.1 425.82,333.4 426.07,334.6 426.32,335.5 426.57,336.2 426.82,336.7 427.07,324.8 427.32,308.3 427.57,289.2 427.62,285.3 427.82,298.8 428.07,310.5 428.32,318.4 428.57,323.8 428.82,327.5 429.07,330.2 429.32,332.3 429.57,333.6 429.82,334.8 430.07,335.5 430.32,336.2 430.57,336.8 430.82,337.1 431.07,337.3 431.32,334.4 431.57,320.5 431.82,303.0 432.05,284.7 432.07,285.7 432.32,301.8 432.57,312.5 432.82,319.7 433.07,324.7 433.32,328.2 433.57,330.7 433.82,332.4 434.07,333.8 434.32,334.8 434.57,335.5 434.82,336.2 435.07,336.7 435.32,337.1 435.57,337.4 435.82,334.7 436.07,320.9 436.32,303.4 436.56,284.3 436.57,285.1 436.82,301.4 437.07,312.2 437.32,319.5 437.57,324.6 437.82,328.1 438.07,330.7 438.32,332.5 438.57,333.8 438.82,334.8 439.07,335.7 439.32,336.4 439.57,332.7 439.82,317.7 440.07,299.4 440.27,283.6 440.32,287.5 440.57,303.0 440.82,313.2 441.07,320.2 441.32,325.0 441.57,328.3 441.82,330.7 442.07,332.5 442.32,333.9 442.57,334.9 442.82,335.5 443.07,336.0 443.32,336.5 443.57,337.0 443.82,337.3 444.07,337.6 444.32,337.8 444.57,333.3 444.82,318.8 445.07,300.9 445.28,284.2 445.32,287.3 445.57,302.8 445.82,313.2 446.07,320.2 446.32,325.0 446.57,328.4 446.82,330.8 447.07,332.7 447.32,334.0 447.57,335.1 447.82,335.9 448.07,336.4 448.32,325.8 448.57,308.8 448.82,289.1 448.90,283.0 449.07,295.3 449.32,308.1 449.57,316.7 449.82,322.6 450.07,326.7 450.32,329.7 450.57,331.8 450.82,333.3 451.07,334.5 451.32,335.3 451.57,336.0 451.82,336.7 452.07,337.0 452.32,337.5 452.57,337.7 452.82,324.8 453.07,307.9 453.32,288.4 453.37,284.3 453.57,297.6 453.82,309.6 454.07,317.8 454.32,323.4 454.57,327.3 454.82,330.0 455.07,332.1 455.32,333.6 455.57,334.9 455.82,335.7 456.07,336.3 456.32,336.9 456.57,335.2 456.82,321.1 457.07,303.6 457.31,284.6 457.32,285.2 457.57,301.5 457.82,312.3 458.07,319.6 458.32,324.6 458.57,328.2 458.82,330.7 459.07,332.6 459.32,333.9 459.57,334.8 459.82,335.6 460.07,336.1 460.32,336.6 460.57,337.1 460.82,337.5 461.07,333.3 461.32,319.2 461.57,302.0 461.77,286.6 461.82,290.2 462.07,304.8 462.32,314.6 462.57,321.2 462.82,325.8 463.07,329.0 463.32,331.4 463.57,332.9 463.82,334.4 464.07,335.5 464.32,336.3 464.57,336.8 464.82,337.3 465.07,330.9 465.32,316.1 465.57,298.7 465.72,287.4 465.82,294.4 466.07,307.6 466.32,316.5 466.57,322.5 466.82,326.8 467.07,329.8 467.32,332.0 467.57,333.6 467.82,334.7 468.07,335.6 468.32,336.4 468.57,336.8 468.82,337.1 469.07,337.3 469.32,333.8 469.57,319.8 469.82,302.6 470.03,286.3 470.07,288.8 470.32,303.9 470.57,313.9 470.82,320.7 471.07,325.4 471.32,328.8 471.57,331.2 471.82,333.0 472.07,334.3 472.32,335.2 472.57,336.0 472.82,336.5 473.07,333.5 473.32,319.6 473.57,302.4 473.78,286.6 473.82,289.6 474.07,304.4 474.32,314.3 474.57,321.0 474.82,325.6 475.07,328.8 475.32,331.0 475.57,332.8 475.82,334.1 476.07,335.1 476.32,335.9 476.57,336.5 476.82,336.9 477.07,337.3 477.32,337.7 477.57,337.8 477.82,337.9 478.07,326.9 478.32,310.6 478.57,291.6 478.66,284.7 478.82,296.0 479.07,308.6 479.32,317.1 479.57,322.8 479.82,326.8 480.07,329.6 480.32,331.8 480.57,333.4 480.82,334.6 481.07,335.3 481.32,336.0 481.57,336.6 481.82,337.1 482.07,335.0 482.32,321.5 482.57,304.6 482.81,286.4 482.82,287.2 483.07,302.9 483.32,313.2 483.57,320.3 483.82,325.1 484.07,328.5 484.32,330.9 484.57,332.8 484.82,334.1 485.07,335.2 485.32,335.9 485.57,336.4 485.82,336.7 486.07,334.7 486.32,321.2 486.57,304.2 486.81,286.5 486.82,287.3 487.07,302.9 487.32,313.3 487.57,320.3 487.82,325.1 488.07,328.5 488.32,330.9 488.57,332.8 488.82,334.0 489.07,334.9 489.32,335.9 489.57,336.7 489.82,337.2 490.07,337.6 490.32,333.2 490.57,318.3 490.82,300.4 491.02,284.4 491.07,288.1 491.32,303.4 491.57,313.5 491.82,320.4 492.07,325.2 492.32,328.6 492.57,330.9 492.82,332.8 493.07,334.0 493.32,334.9 493.57,335.7 493.82,336.2 494.07,336.6 494.32,335.1 494.57,322.0 494.82,305.2 495.07,286.2 495.32,302.2 495.57,312.8 495.82,320.0 496.07,324.8 496.32,328.2 496.57,330.6 496.82,332.6 497.07,334.1 497.32,335.2 497.57,336.1 497.82,336.7 498.07,337.3 498.32,337.7 498.57,336.6 498.82,323.3 499.07,306.1 499.32,286.5 499.35,284.2 499.57,299.1 499.82,310.7 500.07,318.5 500.32,323.7 500.57,327.5 500.82,330.2 501.07,332.1 501.32,333.7 501.57,334.8 501.82,335.6 502.07,336.3 502.32,336.8 502.57,337.1 502.82,337.5 503.07,332.3 503.32,317.6 503.57,299.7 503.76,285.3 503.82,289.9 504.07,304.5 504.32,314.3 504.57,321.0 504.82,325.5 505.07,328.7 505.32,331.1 505.57,332.9 505.82,334.2 506.07,335.3 506.32,336.0 506.57,336.5 506.82,336.9 507.07,337.4 507.32,331.0 507.57,316.2 507.82,298.4 507.98,286.4 508.07,292.9 508.32,306.6 508.57,315.8 508.82,322.0 509.07,326.3 509.32,329.5 509.57,331.6 509.82,333.3 510.07,334.6 510.32,335.6 510.57,336.3 510.82,336.8 511.07,337.0 511.32,337.3 511.57,333.2 511.82,319.0 512.07,301.4 512.27,285.8 512.32,289.2 512.57,304.1 512.82,314.1 513.07,320.8 513.32,325.4 513.57,328.5 513.82,330.9 514.07,332.7 514.32,334.0 514.57,335.0 514.82,335.8 515.07,336.5 515.32,336.9 515.57,337.3 515.82,335.1 516.07,321.5 516.32,304.1 516.57,284.8 516.82,301.2 517.07,312.1 517.32,319.5 517.57,324.5 517.82,328.0 518.07,330.5 518.32,332.4 518.57,333.9 518.82,334.9 519.07,335.6 519.32,336.3 519.57,336.9 519.82,337.0 520.07,331.6 520.32,316.7 520.57,298.6 520.74,285.1 520.82,290.8 521.07,305.2 521.32,314.8 521.57,321.3 521.82,325.9 522.07,329.1 522.32,331.3 522.57,332.9 522.82,334.3 523.07,335.2 523.32,335.8 523.57,336.4 523.82,336.8 524.07,335.8 524.32,322.5 524.57,305.7 524.82,286.4 524.83,285.6 525.07,301.3 525.32,312.2 525.57,319.5 525.82,324.5 526.07,328.1 526.32,330.7 526.57,332.5 526.82,334.0 527.07,335.2 527.32,335.9 527.57,336.5 527.82,336.9 528.07,337.3 528.32,333.7 528.57,319.4 528.82,302.2 529.02,286.9 529.07,289.9 529.32,304.6 529.57,314.4 529.82,321.1 530.07,325.6 530.32,328.8 530.57,331.1 530.82,332.8 531.07,334.2 531.32,335.2 531.57,336.0 531.82,336.5 532.07,337.0 532.32,337.2 532.57,325.1 532.82,308.9 533.07,290.1 533.12,286.1 533.32,299.3 533.57,310.8 533.82,318.6 534.07,324.0 534.32,327.8 534.57,330.6 534.82,332.5 535.07,334.0 535.32,335.2 535.57,336.3 535.82,337.0 536.07,337.4 536.32,337.7 536.57,338.0 536.82,337.9 537.07,325.3 537.32,308.9 537.57,290.1 537.62,286.1 537.82,299.1 538.07,310.7 538.32,318.5 538.57,323.9 538.82,327.6 539.07,330.3 539.32,332.2 539.57,333.6 539.82,334.7 540.07,335.4 540.32,336.1 540.57,336.6 540.82,328.4 541.07,312.8 541.32,294.5 541.43,286.0 541.57,295.8 541.82,308.5 542.07,317.0 542.32,322.9 542.57,326.9 542.82,329.9 543.07,332.0 543.32,333.5 543.57,334.7 543.82,335.6 544.07,336.2 544.32,336.9 544.57,337.1 544.82,337.5 545.07,324.9 545.32,308.1 545.57,288.8 545.62,284.7 545.82,297.8 546.07,309.8 546.32,317.9 546.57,323.4 546.82,327.3 547.07,330.1 547.32,332.0 547.57,333.4 547.82,334.6 548.07,335.4 548.32,336.1 548.57,336.6 548.82,337.0 549.07,337.4 549.32,335.3 549.57,321.2 549.82,303.7 550.06,284.7 550.07,284.9 550.32,301.3 550.57,312.1 550.82,319.5 551.07,324.5 551.32,328.1 551.57,330.6 551.82,332.5 552.07,334.0 552.32,335.0 552.57,336.0 552.82,336.7 553.07,337.3 553.32,327.4 553.57,311.2 553.82,292.6 553.91,285.5 554.07,296.6 554.32,309.1 554.57,317.4 554.82,323.1 555.07,327.1 555.32,329.9 555.57,331.9 555.82,333.5 556.07,334.6 556.32,335.5 556.57,336.1 556.82,336.5 557.07,336.9 557.32,337.3 557.57,336.3 557.82,323.2 558.07,306.3 558.32,286.9 558.34,285.2 558.57,299.9 558.82,311.2 559.07,318.9 559.32,324.2 559.57,327.9 559.82,330.6 560.07,332.4 560.32,333.7 560.57,334.8 560.82,335.5 561.07,336.1 561.32,336.7 561.57,334.7 561.82,320.9 562.07,303.5 562.31,285.0 562.32,285.8 562.57,301.9 562.82,312.5 563.07,319.8 563.32,324.7 563.57,328.2 563.82,330.7 564.07,332.4 564.32,333.8 564.57,334.8 564.82,335.6 565.07,336.3 565.32,336.8 565.57,337.0 565.82,337.4 566.07,326.2 566.32,309.7 566.57,290.4 566.65,283.9 566.82,295.9 567.07,308.5 567.32,317.0 567.57,322.8 567.82,326.8 568.07,329.7 568.32,331.7 568.57,333.3 568.82,334.6 569.07,335.4 569.32,336.0 569.57,336.6 569.82,337.0 570.07,337.5 570.32,337.7 570.57,337.9 570.82,338.1 571.07,331.8 571.32,316.4 571.57,297.8 571.75,283.4 571.82,288.9 572.07,303.8 572.32,313.8 572.57,320.6 572.82,325.3 573.07,328.7 573.32,331.1 573.57,332.9 573.82,334.3 574.07,335.2 574.32,326.5 574.57,309.7 574.82,290.2 574.91,283.5 575.07,295.0 575.32,307.9 575.57,316.6 575.82,322.5 576.07,326.7 576.32,329.6 576.57,331.9 576.82,333.5 577.07,334.7 577.32,335.6 577.57,336.4 577.82,336.9 578.07,337.1 578.32,337.2 578.57,337.4 578.82,337.6 579.07,326.4 579.32,310.2 579.57,291.2 579.65,284.7 579.82,296.5 580.07,309.0 580.32,317.3 580.57,323.0 580.82,326.9 581.07,329.8 581.32,331.7 581.57,333.2 581.82,334.4 582.07,335.2 582.32,336.0 582.57,336.5 582.82,333.8 583.07,319.7 583.32,302.4 583.53,286.1 583.57,288.4 583.82,303.6 584.07,313.7 584.32,320.6 584.57,325.4 584.82,328.7 585.07,331.1 585.32,332.8 585.57,334.1 585.82,334.9 586.07,335.8 586.32,336.4 586.57,336.9 586.82,337.1 587.07,325.8 587.32,309.7 587.57,291.2 587.63,286.5 587.82,299.2 588.07,310.8 588.32,318.6 588.57,323.9 588.82,327.7 589.07,330.3 589.32,332.2 589.57,333.4 589.82,334.5 590.07,335.5 590.32,336.0 590.57,336.5 590.82,337.1 591.07,333.2 591.32,319.2 591.57,302.2 591.77,287.5 591.82,291.2 592.07,305.5 592.32,315.0 592.57,321.5 592.82,326.0 593.07,329.0 593.32,331.2 593.57,332.9 593.82,334.1 594.07,335.2 594.32,336.0 594.57,336.4 594.82,336.9 595.07,337.2 595.32,337.5 595.57,337.6 595.82,326.6 596.07,310.4 596.32,291.5 596.40,285.0 596.57,296.4 596.82,308.9 597.07,317.3 597.32,323.0 597.57,327.0 597.82,329.7 598.07,331.7 598.32,333.3 598.57,334.5 598.82,335.4 599.07,336.2 599.32,336.7 599.57,337.3 599.82,327.5 600.07,311.7 600.32,293.3 600.41,286.4 600.57,297.3 600.82,309.5 601.07,317.7 601.32,323.4" stroke-width="1.35"/>
<polyline points="369.57,363.1 369.82,375.4 370.07,383.6 370.32,389.2 370.57,393.1 370.82,396.0 371.07,398.0 371.32,399.5 371.57,400.6 371.82,401.4 372.07,402.1 372.32,402.7 372.57,403.0 372.82,390.5 373.07,373.2 373.32,353.3 373.38,348.3 373.57,362.0 373.82,374.6 374.07,383.1 374.32,388.9 374.57,392.9 374.82,395.8 375.07,397.9 375.32,399.5 375.57,400.7 375.82,401.5 376.07,402.2 376.32,396.1 376.57,380.1 376.82,361.3 376.97,349.0 377.07,356.5 377.32,371.0 377.57,380.7 377.82,387.2 378.07,391.7 378.32,394.8 378.57,397.2 378.82,398.9 379.07,400.2 379.32,401.2 379.57,401.8 379.82,402.3 380.07,401.9 380.32,387.9 380.57,369.9 380.82,349.2 380.85,347.1 381.07,362.9 381.32,375.2 381.57,383.4 381.82,389.1 382.07,393.1 382.32,395.9 382.57,397.9 382.82,399.4 383.07,400.5 383.32,401.4 383.57,402.0 383.82,402.7 384.07,403.0 384.32,401.0 384.57,386.7 384.82,368.8 385.07,348.4 385.32,365.6 385.57,377.0 385.82,384.7 386.07,390.0 386.32,393.7 386.57,396.3 386.82,398.2 387.07,399.7 387.32,400.9 387.57,401.8 387.82,402.3 388.07,402.8 388.32,391.1 388.57,373.9 388.82,354.0 388.89,348.1 389.07,361.2 389.32,374.1 389.57,382.7 389.82,388.6 390.07,392.8 390.32,395.8 390.57,397.9 390.82,399.3 391.07,400.4 391.32,401.2 391.57,401.8 391.82,402.2 392.07,397.8 392.32,382.8 392.57,364.3 392.76,348.6 392.82,353.3 393.07,368.8 393.32,379.2 393.57,386.2 393.82,391.1 394.07,394.4 394.32,396.8 394.57,398.5 394.82,399.8 395.07,400.8 395.32,401.7 395.57,402.2 395.82,402.9 396.07,393.9 396.32,377.5 396.57,358.4 396.68,349.3 396.82,359.5 397.07,372.9 397.32,382.0 397.57,388.1 397.82,392.3 398.07,395.4 398.32,397.5 398.57,399.1 398.82,400.3 399.07,401.3 399.32,402.0 399.57,402.4 399.82,396.5 400.07,381.6 400.32,363.6 400.48,350.9 400.57,357.7 400.82,371.8 401.07,381.2 401.32,387.7 401.57,392.2 401.82,395.3 402.07,397.6 402.32,399.2 402.57,400.3 402.82,401.3 403.07,402.0 403.32,402.4 403.57,389.4 403.82,372.4 404.07,352.8 404.11,349.9 404.32,364.4 404.57,376.3 404.82,384.2 405.07,389.7 405.32,393.4 405.57,396.1 405.82,398.0 406.07,399.5 406.32,400.6 406.57,401.4 406.82,402.0 407.07,402.8 407.32,403.2 407.57,403.3 407.82,397.6 408.07,382.7 408.32,364.9 408.50,351.4 408.57,356.6 408.82,371.1 409.07,380.8 409.32,387.3 409.57,391.8 409.82,395.0 410.07,397.2 410.32,398.9 410.57,400.2 410.82,401.2 411.07,401.9 411.32,402.7 411.57,397.8 411.82,382.5 412.07,364.2 412.25,349.6 412.32,354.5 412.57,369.6 412.82,379.7 413.07,386.6 413.32,391.3 413.57,394.6 413.82,397.0 414.07,398.8 414.32,400.0 414.57,400.9 414.82,401.5 415.07,402.2 415.32,397.1 415.57,381.8 415.82,363.3 415.99,349.5 416.07,355.4 416.32,370.2 416.57,380.1 416.82,386.9 417.07,391.5 417.32,394.7 417.57,397.0 417.82,398.9 418.07,400.2 418.32,401.0 418.57,401.7 418.82,402.3 419.07,402.8 419.32,394.0 419.57,377.3 419.82,357.6 419.94,347.3 420.07,357.1 420.32,371.3 420.57,380.8 420.82,387.3 421.07,391.7 421.32,394.9 421.57,397.3 421.82,398.9 422.07,400.1 422.32,401.1 422.57,401.8 422.82,402.4 423.07,402.7 423.32,401.1 423.57,387.5 423.82,369.7 424.07,349.5 424.08,348.7 424.32,365.0 424.57,376.6 424.82,384.5 425.07,389.9 425.32,393.7 425.57,396.3 425.82,398.1 426.07,399.6 426.32,400.7 426.57,401.5 426.82,402.2 427.07,396.3 427.32,380.3 427.57,361.3 427.73,348.1 427.82,355.2 428.07,370.1 428.32,380.0 428.57,386.8 428.82,391.4 429.07,394.6 429.32,397.0 429.57,398.6 429.82,399.8 430.07,400.7 430.32,401.7 430.57,402.4 430.82,400.4 431.07,385.7 431.32,367.6 431.56,348.5 431.57,349.4 431.82,366.2 432.07,377.4 432.32,385.0 432.57,390.2 432.82,393.8 433.07,396.3 433.32,398.2 433.57,399.6 433.82,400.7 434.07,401.5 434.32,402.1 434.57,402.8 434.82,403.2 435.07,396.4 435.32,380.9 435.57,362.6 435.73,350.5 435.82,357.3 436.07,371.5 436.32,381.0 436.57,387.5 436.82,391.8 437.07,394.8 437.32,397.1 437.57,398.9 437.82,400.1 438.07,401.1 438.32,401.9 438.57,402.3 438.82,402.8 439.07,395.5 439.32,379.7 439.57,360.9 439.71,349.5 439.82,357.4 440.07,371.6 440.32,381.1 440.57,387.5 440.82,392.0 441.07,395.2 441.32,397.5 441.57,399.3 441.82,400.5 442.07,401.4 442.32,402.2 442.57,402.8 442.82,403.1 443.07,391.2 443.32,374.3 443.57,355.0 443.63,350.0 443.82,362.8 444.07,375.2 444.32,383.5 444.57,389.2 444.82,393.2 445.07,395.9 445.32,398.0 445.57,399.4 445.82,400.4 446.07,401.2 446.32,401.9 446.57,402.4 446.82,399.1 447.07,384.6 447.32,367.0 447.53,350.9 447.57,354.0 447.82,369.4 448.07,379.6 448.32,386.5 448.57,391.3 448.82,394.6 449.07,397.1 449.32,398.8 449.57,400.0 449.82,401.0 450.07,401.8 450.32,402.2 450.57,401.9 450.82,388.7 451.07,371.7 451.32,352.2 451.34,350.6 451.57,365.6 451.82,377.1 452.07,384.8 452.32,390.2 452.57,393.9 452.82,396.6 453.07,398.5 453.32,399.8 453.57,400.7 453.82,401.5 454.07,401.9 454.32,402.5 454.57,393.1 454.82,376.8 455.07,357.8 455.17,349.8 455.32,360.7 455.57,373.8 455.82,382.6 456.07,388.5 456.32,392.7 456.57,395.6 456.82,397.7 457.07,399.2 457.32,400.3 457.57,400.9 457.82,401.5 458.07,398.6 458.32,384.4 458.57,366.3 458.78,349.3 458.82,352.3 459.07,368.2 459.32,378.8 459.57,385.9 459.82,390.8 460.07,394.2 460.32,396.6 460.57,398.3 460.82,399.7 461.07,400.8 461.32,401.6 461.57,402.5 461.82,402.9 462.07,403.3 462.32,397.1 462.57,381.4 462.82,362.7 462.99,348.6 463.07,354.7 463.32,369.8 463.57,379.8 463.82,386.6 464.07,391.4 464.32,394.8 464.57,397.2 464.82,399.0 465.07,400.2 465.32,401.1 465.57,401.8 465.82,402.1 466.07,400.7 466.32,386.4 466.57,368.2 466.82,347.6 467.07,365.0 467.32,376.6 467.57,384.4 467.82,389.8 468.07,393.6 468.32,396.3 468.57,398.3 468.82,399.8 469.07,400.7 469.32,401.5 469.57,402.0 469.82,402.4 470.07,402.7 470.32,402.4 470.57,389.1 470.82,371.4 471.07,351.0 471.11,347.5 471.32,362.1 471.57,374.6 471.82,383.1 472.07,388.9 472.32,393.0 472.57,396.0 472.82,398.1 473.07,399.6 473.32,400.8 473.57,401.6 473.82,402.3 474.07,392.0 474.32,375.0 474.57,355.3 474.65,348.6 474.82,360.4 475.07,373.5 475.32,382.3 475.57,388.4 475.82,392.6 476.07,395.7 476.32,397.8 476.57,399.2 476.82,400.3 477.07,401.2 477.32,401.9 477.57,402.4 477.82,402.8 478.07,394.8 478.32,378.5 478.57,359.1 478.70,348.2 478.82,356.8 479.07,371.1 479.32,380.7 479.57,387.2 479.82,391.7 480.07,394.8 480.32,397.2 480.57,398.9 480.82,400.1 481.07,401.2 481.32,401.8 481.57,402.3 481.82,402.8 482.07,394.3 482.32,378.1 482.57,358.9 482.69,348.9 482.82,358.1 483.07,372.0 483.32,381.3 483.57,387.6 483.82,392.0 484.07,395.0 484.32,397.2 484.57,398.8 484.82,400.0 485.07,401.1 485.32,401.9 485.57,398.6 485.82,383.9 486.07,365.8 486.27,349.7 486.32,353.3 486.57,368.9 486.82,379.2 487.07,386.3 487.32,391.2 487.57,394.6 487.82,397.0 488.07,398.7 488.32,399.8 488.57,400.7 488.82,401.4 489.07,402.1 489.32,402.4 489.57,393.3 489.82,377.3 490.07,358.5 490.17,350.4 490.32,360.7 490.57,373.8 490.82,382.6 491.07,388.5 491.32,392.7 491.57,395.7 491.82,397.7 492.07,399.2 492.32,400.4 492.57,401.4 492.82,402.1 493.07,402.6 493.32,403.0 493.57,403.3 493.82,397.6 494.07,382.8 494.32,365.0 494.50,351.1 494.57,356.4 494.82,370.9 495.07,380.7 495.32,387.2 495.57,391.7 495.82,394.9 496.07,397.2 496.32,398.9 496.57,400.1 496.82,401.2 497.07,401.9 497.32,402.4 497.57,402.8 497.82,391.9 498.07,375.3 498.32,356.2 498.40,350.3 498.57,362.4 498.82,374.9 499.07,383.3 499.32,389.1 499.57,393.1 499.82,395.9 500.07,398.0 500.32,399.4 500.57,400.5 500.82,401.3 501.07,400.5 501.32,386.3 501.57,368.5 501.81,349.2 501.82,349.9 502.07,366.6 502.32,377.7 502.57,385.2 502.82,390.4 503.07,393.9 503.32,396.6 503.57,398.4 503.82,399.9 504.07,400.8 504.32,401.4 504.57,402.0 504.82,402.5 505.07,402.8 505.32,398.3 505.57,383.7 505.82,365.7 506.02,350.0 506.07,354.0 506.32,369.3 506.57,379.5 506.82,386.5 507.07,391.2 507.32,394.5 507.57,396.9 507.82,398.6 508.07,400.0 508.32,401.0 508.57,401.8 508.82,402.4 509.07,402.9 509.32,403.2 509.57,391.6 509.82,374.8 510.07,355.4 510.14,349.6 510.32,362.0 510.57,374.6 510.82,383.1 511.07,388.9 511.32,393.0 511.57,395.7 511.82,397.8 512.07,399.3 512.32,400.4 512.57,401.4 512.82,402.1 513.07,393.9 513.32,377.6 513.57,358.5 513.68,349.4 513.82,359.3 514.07,372.8 514.32,381.9 514.57,388.1 514.82,392.4 515.07,395.5 515.32,397.5 515.57,399.1 515.82,400.2 516.07,401.1 516.32,401.9 516.57,402.3 516.82,402.8 517.07,396.9 517.32,381.2 517.57,362.7 517.74,349.5 517.82,355.7 518.07,370.4 518.32,380.3 518.57,386.9 518.82,391.5 519.07,394.6 519.32,396.8 519.57,398.5 519.82,399.7 520.07,400.6 520.32,401.4 520.57,401.9 520.82,402.5 521.07,392.0 521.32,375.3 521.57,355.8 521.65,349.1 521.82,361.0 522.07,374.0 522.32,382.7 522.57,388.6 522.82,392.6 523.07,395.6 523.32,397.7 523.57,399.2 523.82,400.5 524.07,401.6 524.32,402.1 524.57,402.7 524.82,396.5 525.07,380.6 525.32,361.6 525.48,348.2 525.57,354.9 525.82,369.9 526.07,379.9 526.32,386.7 526.57,391.5 526.82,394.8 527.07,397.2 527.32,399.0 527.57,400.2 527.82,401.0 528.07,401.6 528.32,402.3 528.57,402.7 528.82,389.8 529.07,372.8 529.32,353.4 529.36,350.1 529.57,364.4 529.82,376.2 530.07,384.2 530.32,389.7 530.57,393.5 530.82,396.1 531.07,398.1 531.32,399.6 531.57,400.7 531.82,401.5 532.07,402.0 532.32,391.7 532.57,374.6 532.82,354.8 532.90,348.0 533.07,360.3 533.32,373.5 533.57,382.3 533.82,388.3 534.07,392.4 534.32,395.4 534.57,397.6 534.82,399.2 535.07,400.3 535.32,401.2 535.57,401.8 535.82,402.4 536.07,402.7 536.32,401.0 536.57,386.9 536.82,369.2 537.07,349.1 537.32,366.0 537.57,377.3 537.82,384.9 538.07,390.1 538.32,393.8 538.57,396.5 538.82,398.3 539.07,399.7 539.32,400.9 539.57,401.7 539.82,402.3 540.07,402.6 540.32,402.4 540.57,389.7 540.82,372.8 541.07,353.4 541.11,350.1 541.32,364.4 541.57,376.3 541.82,384.2 542.07,389.7 542.32,393.5 542.57,396.3 542.82,398.0 543.07,399.5 543.32,400.4 543.57,401.3 543.82,402.1 544.07,402.5 544.32,402.6 544.57,390.1 544.82,373.4 545.07,354.2 545.11,351.0 545.32,364.7 545.57,376.5 545.82,384.4 546.07,389.8 546.32,393.6 546.57,396.3 546.82,398.2 547.07,399.6 547.32,400.9 547.57,401.7 547.82,402.2 548.07,402.6 548.32,403.1 548.57,399.7 548.82,385.1 549.07,367.1 549.29,349.3 549.32,351.5 549.57,367.7 549.82,378.4 550.07,385.7 550.32,390.7 550.57,394.2 550.82,396.9 551.07,398.6 551.32,399.8 551.57,400.7 551.82,401.3 552.07,401.8 552.32,402.3 552.57,400.5 552.82,386.9 553.07,369.4 553.32,350.0 553.57,366.7 553.82,377.8 554.07,385.3 554.32,390.3 554.57,393.9 554.82,396.5 555.07,398.5 555.32,399.9 555.57,401.0 555.82,401.7 556.07,402.4 556.32,399.5 556.57,384.3 556.82,365.7 557.04,347.3 557.07,349.8 557.32,366.5 557.57,377.6 557.82,385.1 558.07,390.3 558.32,394.0 558.57,396.6 558.82,398.6 559.07,399.9 559.32,400.9 559.57,401.7 559.82,402.3 560.07,397.2 560.32,381.6 560.57,362.9 560.74,348.9 560.82,354.4 561.07,369.6 561.32,379.7 561.57,386.5 561.82,391.3 562.07,394.6 562.32,396.9 562.57,398.7 562.82,399.9 563.07,400.8 563.32,401.6 563.57,402.1 563.82,393.5 564.07,376.8 564.32,357.2 564.43,347.9 564.57,358.1 564.82,372.0 565.07,381.3 565.32,387.7 565.57,392.1 565.82,395.2 566.07,397.4 566.32,399.1 566.57,400.2 566.82,401.1 567.07,401.6 567.32,402.2 567.57,402.7 567.82,397.1 568.07,381.7 568.32,363.1 568.50,349.0 568.57,354.5 568.82,369.7 569.07,379.7 569.32,386.6 569.57,391.2 569.82,394.5 570.07,397.0 570.32,398.8 570.57,400.1 570.82,401.0 571.07,401.8 571.32,402.4 571.57,402.7 571.82,402.7 572.07,389.6 572.32,372.0 572.57,351.6 572.62,347.3 572.82,361.9 573.07,374.5 573.32,383.0 573.57,388.8 573.82,392.9 574.07,395.8 574.32,397.9 574.57,399.5 574.82,400.6 575.07,401.4 575.32,402.0 575.57,400.8 575.82,386.6 576.07,368.7 576.32,348.3 576.57,365.5 576.82,376.9 577.07,384.6 577.32,389.9 577.57,393.7 577.82,396.2 578.07,398.3 578.32,399.7 578.57,400.8 578.82,401.7 579.07,402.3 579.32,402.5 579.57,399.6 579.82,385.2 580.07,367.2 580.30,349.1 580.32,350.7 580.57,367.2 580.82,378.1 581.07,385.4 581.32,390.5 581.57,394.1 581.82,396.7 582.07,398.7 582.32,400.0 582.57,401.0 582.82,401.7 583.07,402.2 583.32,402.6 583.57,402.9 583.82,390.4 584.07,373.2 584.32,353.3 584.38,348.4 584.57,362.1 584.82,374.7 585.07,383.1 585.32,388.9 585.57,392.8 585.82,395.5 586.07,397.6 586.32,399.2 586.57,400.3 586.82,401.4 587.07,402.0 587.32,393.1 587.57,376.9 587.82,358.2 587.91,350.9 588.07,362.0 588.32,374.7 588.57,383.2 588.82,388.9 589.07,392.9 589.32,395.6 589.57,397.7 589.82,399.2 590.07,400.4 590.32,401.3 590.57,401.9 590.82,402.2 591.07,402.1 591.32,389.9 591.57,373.5 591.82,354.6 591.86,351.9 592.07,365.9 592.32,377.3 592.57,384.9 592.82,390.1 593.07,393.7 593.32,396.3 593.57,398.1 593.82,399.4 594.07,400.4 594.32,401.4 594.57,401.8 594.82,402.3 595.07,402.6 595.32,403.0 595.57,391.8 595.82,375.9 596.07,357.3 596.14,351.7 596.32,363.7 596.57,375.9 596.82,384.0 597.07,389.6 597.32,393.6 597.57,396.4 597.82,398.4 598.07,399.8 598.32,400.8 598.57,401.7 598.82,402.3 599.07,402.6 599.32,391.6 599.57,375.0 599.82,355.8 599.89,350.1 600.07,362.6 600.32,375.1 600.57,383.4 600.82,389.1 601.07,393.1 601.32,395.9" stroke-width="1.35"/>
<polyline points="902.34,121.1 902.59,121.0 902.84,121.0 903.09,120.9 903.34,120.9 903.59,120.9 903.84,120.8 904.09,120.7 904.34,120.6 904.59,120.7 904.84,120.8 905.09,120.8 905.34,120.8 905.59,121.0 905.84,120.9 906.09,121.0 906.34,120.9 906.59,120.8 906.84,120.7 907.09,120.8 907.34,120.7 907.59,116.1 907.84,100.6 908.09,81.2 908.17,74.3 908.34,83.4 908.59,93.7 908.84,100.9 909.09,106.1 909.34,109.8 909.59,112.6 909.84,114.6 910.09,116.0 910.34,117.1 910.59,118.0 910.84,118.7 911.09,119.1 911.34,119.4 911.59,119.7 911.84,119.9 912.09,119.9 912.34,120.2 912.59,120.3 912.84,120.4 913.09,120.5 913.34,120.4 913.59,120.4 913.84,120.5 914.09,120.3 914.34,120.4 914.59,120.5 914.84,120.6 915.09,120.8 915.34,121.0 915.59,121.1 915.84,121.0 916.09,121.0 916.34,120.8 916.59,120.8 916.84,120.8 917.09,120.7 917.34,120.5 917.59,120.7 917.84,120.6 918.09,120.6 918.34,120.7 918.59,120.6 918.84,120.6 919.09,120.8 919.34,119.7 919.59,106.6 919.84,88.9 920.00,76.0 920.09,81.0 920.34,92.0 920.59,99.7 920.84,105.3 921.09,109.2 921.34,112.1 921.59,114.2 921.84,115.8 922.09,116.9 922.34,117.8 922.59,118.7 922.84,119.2 923.09,119.4 923.34,119.8 923.59,120.0 923.84,120.1 924.09,120.2 924.34,120.3 924.59,120.3 924.84,120.4 925.09,120.5 925.34,120.7 925.59,120.9 925.84,120.8 926.09,120.8 926.34,121.0 926.59,121.2 926.84,121.2 927.09,120.9 927.34,120.9 927.59,120.9 927.84,120.9 928.09,120.9 928.34,120.8 928.59,120.8 928.84,121.0 929.09,120.8 929.34,120.8 929.59,120.8 929.84,120.8 930.09,120.9 930.34,120.9 930.59,120.9 930.84,120.9 931.09,120.9 931.34,120.8 931.59,120.8 931.84,120.9 932.09,120.9 932.34,120.7 932.59,108.3 932.84,90.7 933.03,75.5 933.09,78.9 933.34,90.5 933.59,98.7 933.84,104.5 934.09,108.7 934.34,111.7 934.59,114.0 934.84,115.6 935.09,116.9 935.34,117.8 935.59,118.5 935.84,119.0 936.09,119.5 936.34,119.7 936.59,120.0 936.84,120.1 937.09,120.3 937.34,120.5 937.59,120.5 937.84,120.5 938.09,120.6 938.34,120.6 938.59,120.6 938.84,120.6 939.09,120.6 939.34,120.6 939.59,120.7 939.84,120.7 940.09,120.8 940.34,121.0 940.59,121.0 940.84,120.9 941.09,121.0 941.34,121.0 941.59,121.1 941.84,121.0 942.09,120.9 942.34,120.9 942.59,121.1 942.84,121.0 943.09,121.0 943.34,119.7 943.59,106.2 943.84,87.8 944.00,74.6 944.09,79.7 944.34,91.0 944.59,99.0 944.84,104.8 945.09,108.8 945.34,111.8 945.59,114.0 945.84,115.6 946.09,116.9 946.34,117.7 946.59,118.3 946.84,118.8 947.09,119.4 947.34,119.5 947.59,119.9 947.84,120.1 948.09,120.3 948.34,120.4 948.59,120.4 948.84,120.4 949.09,120.5 949.34,120.5 949.59,120.6 949.84,120.5 950.09,120.6 950.34,120.7 950.59,120.7 950.84,120.9 951.09,120.8 951.34,120.6 951.59,120.7 951.84,120.9 952.09,120.9 952.34,120.9 952.59,121.0 952.84,121.2 953.09,121.3 953.34,121.2 953.59,121.1 953.84,121.0 954.09,121.1 954.34,121.1 954.59,120.9 954.84,120.9 955.09,120.9 955.34,121.0 955.59,121.0 955.84,120.9 956.09,120.9 956.34,120.7 956.59,107.8 956.84,89.6 957.03,73.8 957.09,77.4 957.34,89.4 957.59,97.9 957.84,103.9 958.09,108.2 958.34,111.3 958.59,113.4 958.84,115.1 959.09,116.4 959.34,117.3 959.59,118.0 959.84,118.6 960.09,119.1 960.34,119.5 960.59,120.0 960.84,120.2 961.09,120.3 961.34,120.5 961.59,120.6 961.84,120.7 962.09,120.7 962.34,120.7 962.59,120.6 962.84,120.7 963.09,120.7 963.34,120.7 963.59,120.9 963.84,121.0 964.09,120.9 964.34,120.8 964.59,120.8 964.84,120.9 965.09,120.7 965.34,120.5 965.59,120.5 965.84,120.5 966.09,120.6 966.34,120.6 966.59,120.6 966.84,120.8 967.09,120.8 967.34,120.7 967.59,120.9 967.84,120.9 968.09,120.8 968.34,120.8 968.59,120.7 968.84,120.7 969.09,108.7 969.34,90.8 969.54,74.1 969.59,76.6 969.84,88.8 970.09,97.5 970.34,103.6 970.59,108.0 970.84,111.2 971.09,113.5 971.34,115.3 971.59,116.6 971.84,117.6 972.09,118.2 972.34,118.8 972.59,119.2 972.84,119.6 973.09,119.8 973.34,120.1 973.59,120.0 973.84,120.1 974.09,120.2 974.34,120.3 974.59,120.3 974.84,120.3 975.09,120.4 975.34,120.7 975.59,120.7 975.84,120.8 976.09,120.8 976.34,121.1 976.59,121.3 976.84,121.1 977.09,121.1 977.34,121.3 977.59,121.2 977.84,121.2 978.09,121.0 978.34,120.9 978.59,120.9 978.84,120.9 979.09,120.9 979.34,120.8 979.59,120.9 979.84,120.8 980.09,121.0 980.34,121.2 980.59,121.2 980.84,121.2 981.09,121.2 981.34,121.1 981.59,121.0 981.84,120.7 982.09,120.6 982.34,120.7 982.59,120.7 982.84,116.7 983.09,101.5 983.34,82.5 983.43,75.1 983.59,83.7 983.84,93.9 984.09,101.1 984.34,106.2 984.59,109.9 984.84,112.5 985.09,114.5 985.34,116.0 985.59,117.1 985.84,118.0 986.09,118.6 986.34,119.0 986.59,119.3 986.84,119.7 987.09,119.8 987.34,120.1 987.59,120.3 987.84,120.4 988.09,120.7 988.34,120.9 988.59,120.8 988.84,120.8 989.09,120.6 989.34,120.6 989.59,120.7 989.84,120.7 990.09,120.7 990.34,120.7 990.59,120.7 990.84,120.8 991.09,120.8 991.34,120.9 991.59,120.8 991.84,120.8 992.09,121.0 992.34,121.1 992.59,121.1 992.84,121.1 993.09,120.9 993.34,120.8 993.59,120.7 993.84,120.5 994.09,120.4 994.34,120.4 994.59,120.6 994.84,120.6 995.09,120.6 995.34,117.1 995.59,101.7 995.84,81.9 995.94,73.2 996.09,81.3 996.34,92.1 996.59,99.8 996.84,105.3 997.09,109.2 997.34,112.1 997.59,114.2 997.84,115.8 998.09,116.8 998.34,117.7 998.59,118.5 998.84,118.9 999.09,119.3 999.34,119.5 999.59,119.8 999.84,120.2 1000.09,120.5 1000.34,120.5 1000.59,120.7 1000.84,120.8 1001.09,120.9 1001.34,120.9 1001.59,120.8 1001.84,120.7 1002.09,120.8 1002.34,120.8 1002.59,121.0 1002.84,120.9 1003.09,120.8 1003.34,120.7 1003.59,120.7 1003.84,120.9 1004.09,120.9 1004.34,120.9 1004.59,120.9 1004.84,120.9 1005.09,120.9 1005.34,121.0 1005.59,121.0 1005.84,120.9 1006.09,120.8 1006.34,120.9 1006.59,121.1 1006.84,121.1 1007.09,120.6 1007.34,108.3 1007.59,91.2 1007.77,77.1 1007.84,80.6 1008.09,91.7 1008.34,99.6 1008.59,105.2 1008.84,109.2 1009.09,112.1 1009.34,114.1 1009.59,115.7 1009.84,116.9 1010.09,117.7 1010.34,118.3 1010.59,118.8 1010.84,119.4 1011.09,119.7 1011.34,119.9 1011.59,120.1 1011.84,120.2 1012.09,120.5 1012.34,120.5 1012.59,120.6 1012.84,120.8 1013.09,120.8 1013.34,120.9 1013.59,121.0 1013.84,121.1 1014.09,121.2 1014.34,121.2 1014.59,121.1 1014.84,121.1 1015.09,121.3 1015.34,121.3 1015.59,121.2 1015.84,121.2 1016.09,121.2 1016.34,121.2 1016.59,121.4 1016.84,121.2 1017.09,121.1 1017.34,121.1 1017.59,121.1 1017.84,121.2 1018.09,121.2 1018.34,121.1 1018.59,121.1 1018.84,116.8 1019.09,101.9 1019.34,83.1 1019.43,75.8 1019.59,84.3 1019.84,94.3 1020.09,101.4 1020.34,106.5 1020.59,110.1 1020.84,112.7 1021.09,114.5 1021.34,116.0 1021.59,117.1 1021.84,117.8 1022.09,118.5 1022.34,119.0 1022.59,119.5 1022.84,119.8 1023.09,120.1 1023.34,120.3 1023.59,120.5 1023.84,120.5 1024.09,120.6 1024.34,120.6 1024.59,120.5 1024.84,120.4 1025.09,120.3 1025.34,120.4 1025.59,120.6 1025.84,120.4 1026.09,120.6 1026.34,120.7 1026.59,121.0 1026.84,120.9 1027.09,120.8 1027.34,121.0 1027.59,121.1 1027.84,120.9 1028.09,121.0 1028.34,120.8 1028.59,120.9 1028.84,120.8 1029.09,120.7 1029.34,120.5 1029.59,120.7 1029.84,120.7 1030.09,120.7 1030.34,120.6 1030.59,120.8 1030.84,121.0 1031.09,121.2 1031.34,121.2 1031.59,121.1 1031.84,118.1 1032.09,103.0 1032.34,83.7 1032.46,73.7 1032.59,81.1 1032.84,92.0 1033.09,99.7 1033.34,105.2 1033.59,109.2 1033.84,112.0 1034.09,114.2 1034.34,115.7 1034.59,116.8 1034.84,117.7 1035.09,118.3 1035.34,119.0 1035.59,119.3 1035.84,119.6 1036.09,119.9 1036.34,120.0 1036.59,120.0 1036.84,120.3 1037.09,120.4 1037.34,120.7 1037.59,120.7 1037.84,120.7 1038.09,120.8 1038.34,120.9 1038.59,120.8 1038.84,120.7 1039.09,120.6 1039.34,120.7 1039.59,120.8 1039.84,120.8 1040.09,120.9 1040.34,120.9 1040.59,120.8 1040.84,120.8 1041.09,120.9 1041.34,120.8 1041.59,120.7 1041.84,120.8 1042.09,120.8 1042.34,120.8 1042.59,111.3 1042.84,93.9 1043.09,73.6 1043.34,86.7 1043.59,96.0 1043.84,102.6 1044.09,107.2 1044.34,110.6 1044.59,113.0 1044.84,114.8 1045.09,116.1 1045.34,117.1 1045.59,117.9 1045.84,118.6 1046.09,119.0 1046.34,119.5 1046.59,119.6 1046.84,120.0 1047.09,120.2 1047.34,120.3 1047.59,120.3 1047.84,120.4 1048.09,120.4 1048.34,120.5 1048.59,120.4 1048.84,120.4 1049.09,120.5 1049.34,120.6 1049.59,120.7 1049.84,120.8 1050.09,120.9 1050.34,121.0 1050.59,121.2 1050.84,121.2 1051.09,121.2 1051.34,121.2 1051.59,121.3 1051.84,121.1 1052.09,121.2 1052.34,121.2 1052.59,120.9 1052.84,120.8 1053.09,120.8 1053.34,120.7 1053.59,120.8 1053.84,120.5 1054.09,120.3 1054.34,120.6 1054.59,120.4 1054.84,116.3 1055.09,100.7 1055.34,80.8 1055.43,73.1 1055.59,82.1 1055.84,92.7 1056.09,100.2 1056.34,105.6 1056.59,109.5 1056.84,112.4 1057.09,114.4 1057.34,116.1 1057.59,117.3 1057.84,118.2 1058.09,119.0 1058.34,119.5 1058.59,119.8 1058.84,120.1 1059.09,120.3 1059.34,120.4 1059.59,120.4 1059.84,120.3 1060.09,120.3 1060.34,120.3 1060.59,120.3 1060.84,120.5 1061.09,120.6 1061.34,120.7 1061.59,120.8 1061.84,120.7 1062.09,120.9 1062.34,120.8 1062.59,120.6 1062.84,120.6 1063.09,120.5 1063.34,120.6 1063.59,120.6 1063.84,120.6 1064.09,120.8 1064.34,120.9 1064.59,120.9 1064.84,120.8 1065.09,120.9 1065.34,120.9 1065.59,121.1 1065.84,121.1 1066.09,121.2 1066.34,121.1 1066.59,121.2 1066.84,121.1 1067.09,121.0 1067.34,117.3 1067.59,102.6 1067.84,83.9 1067.94,75.6 1068.09,83.2 1068.34,93.5 1068.59,100.8 1068.84,106.1 1069.09,109.9 1069.34,112.6 1069.59,114.6 1069.84,116.1 1070.09,117.2 1070.34,118.0 1070.59,118.7 1070.84,119.1 1071.09,119.7 1071.34,120.0 1071.59,120.1 1071.84,120.4 1072.09,120.5 1072.34,120.6 1072.59,120.7 1072.84,120.7 1073.09,120.8 1073.34,120.8 1073.59,120.7 1073.84,120.6 1074.09,120.6 1074.34,120.6 1074.59,120.6 1074.84,120.6 1075.09,120.7 1075.34,120.8 1075.59,121.1 1075.84,121.2 1076.09,121.3 1076.34,121.3 1076.59,121.1 1076.84,121.0 1077.09,121.1 1077.34,121.0 1077.59,120.9 1077.84,120.7 1078.09,120.5 1078.34,120.7 1078.59,120.8 1078.84,120.8 1079.09,120.6 1079.34,120.7 1079.59,113.5 1079.84,97.3 1080.09,77.9 1080.12,76.0 1080.34,87.2 1080.59,96.3 1080.84,102.8 1081.09,107.5 1081.34,110.8 1081.59,113.2 1081.84,115.0 1082.09,116.3 1082.34,117.3 1082.59,118.1 1082.84,118.7 1083.09,119.1 1083.34,119.6 1083.59,120.0 1083.84,120.3 1084.09,120.4 1084.34,120.4 1084.59,120.6 1084.84,120.7 1085.09,120.5 1085.34,120.5 1085.59,120.4 1085.84,120.6 1086.09,120.7 1086.34,120.7 1086.59,120.7 1086.84,120.8 1087.09,120.8 1087.34,121.0 1087.59,120.8 1087.84,121.0 1088.09,121.1 1088.34,121.0 1088.59,121.0 1088.84,120.9 1089.09,120.7 1089.34,120.7 1089.59,120.5 1089.84,120.3 1090.09,120.5 1090.34,120.7 1090.59,120.7 1090.84,120.7 1091.09,120.8 1091.34,121.0 1091.59,120.9 1091.84,120.9 1092.09,120.8 1092.34,120.7 1092.59,120.8 1092.84,110.6 1093.09,93.7 1093.32,76.1 1093.34,77.2 1093.59,89.3 1093.84,97.8 1094.09,103.9 1094.34,108.3 1094.59,111.4 1094.84,113.8 1095.09,115.4 1095.34,116.6 1095.59,117.5 1095.84,118.3 1096.09,118.7 1096.34,119.2 1096.59,119.3 1096.84,119.7 1097.09,119.8 1097.34,120.0 1097.59,119.8 1097.84,119.9 1098.09,120.0 1098.34,120.1 1098.59,120.2 1098.84,120.5 1099.09,120.6 1099.34,120.8 1099.59,120.9 1099.84,120.8 1100.09,120.8 1100.34,120.6 1100.59,120.5 1100.84,120.5 1101.09,120.5 1101.34,120.5 1101.59,120.5 1101.84,120.8 1102.09,120.9 1102.34,120.9 1102.59,121.0 1102.84,121.0 1103.09,121.3 1103.34,121.3 1103.59,121.3 1103.84,121.2 1104.09,121.3 1104.34,121.2 1104.59,121.3 1104.84,121.1 1105.09,121.1 1105.34,120.9 1105.59,120.9 1105.84,120.9 1106.09,120.9 1106.34,120.6 1106.59,108.3 1106.84,90.7 1107.03,75.4 1107.09,78.8 1107.34,90.4 1107.59,98.6 1107.84,104.5 1108.09,108.7 1108.34,111.7 1108.59,113.9 1108.84,115.4 1109.09,116.5 1109.34,117.3 1109.59,117.8 1109.84,118.4 1110.09,118.9 1110.34,119.4 1110.59,119.7 1110.84,119.9 1111.09,120.2 1111.34,120.4 1111.59,120.5 1111.84,120.6 1112.09,120.7 1112.34,120.8 1112.59,120.7 1112.84,120.5 1113.09,120.6 1113.34,120.7 1113.59,120.5 1113.84,120.3 1114.09,120.6 1114.34,120.6 1114.59,120.9 1114.84,120.9 1115.09,121.1 1115.34,121.2 1115.59,121.4 1115.84,121.1 1116.09,121.2 1116.34,121.2 1116.59,121.0 1116.84,120.7 1117.09,120.8 1117.34,120.8 1117.59,121.1 1117.84,121.1 1118.09,120.9 1118.34,121.2 1118.59,121.3 1118.84,121.4 1119.09,121.2 1119.34,121.0 1119.59,121.1 1119.84,121.2 1120.09,110.7 1120.34,93.3 1120.57,74.4 1120.59,75.2 1120.84,87.9 1121.09,96.8 1121.34,103.2 1121.59,107.7 1121.84,111.0 1122.09,113.5 1122.34,115.2 1122.59,116.6 1122.84,117.5 1123.09,118.1 1123.34,118.6 1123.59,119.0 1123.84,119.3 1124.09,119.6 1124.34,119.7 1124.59,119.8 1124.84,120.1 1125.09,120.3 1125.34,120.5 1125.59,120.5 1125.84,120.5 1126.09,120.5 1126.34,120.6 1126.59,120.7 1126.84,120.6 1127.09,120.6 1127.34,120.6 1127.59,120.9 1127.84,121.0 1128.09,121.0 1128.34,120.8 1128.59,120.6 1128.84,120.7 1129.09,120.7 1129.34,120.5 1129.59,120.5 1129.84,120.7 1130.09,120.7 1130.34,120.9 1130.59,121.0 1130.84,120.8 1131.09,120.9 1131.34,120.8 1131.59,120.6 1131.84,120.9 1132.09,121.0 1132.34,121.1 1132.59,121.1 1132.84,116.9 1133.09,101.5 1133.34,82.4 1133.43,74.9 1133.59,83.5 1133.84,93.8 1134.09,101.0 1134.34,106.2 1134.59,109.8 1134.84,112.5 1135.09,114.3 1135.34,115.8 1135.59,116.9 1135.84,117.8 1136.09,118.6 1136.34,119.1 1136.59,119.6 1136.84,120.0 1137.09,120.2 1137.34,120.3 1137.59,120.4 1137.84,120.4 1138.09,120.5 1138.34,120.5 1138.59,120.7 1138.84,120.7 1139.09,120.8 1139.34,120.8 1139.59,120.8 1139.84,120.9 1140.09,120.9 1140.34,120.9 1140.59,120.9 1140.84,110.4 1141.09,93.2 1141.32,75.1 1141.34,76.3 1141.59,88.7 1141.84,97.4 1142.09,103.6 1142.34,108.0 1142.59,111.2 1142.84,113.6 1143.09,115.4 1143.34,116.8 1143.59,117.7 1143.84,118.4 1144.09,118.9 1144.34,119.2 1144.59,119.5 1144.84,119.7 1145.09,119.8 1145.34,120.0 1145.59,120.1 1145.84,120.4 1146.09,120.5 1146.34,120.6 1146.59,120.8 1146.84,120.8 1147.09,120.8 1147.34,120.8 1147.59,120.8 1147.84,120.9 1148.09,120.9 1148.34,120.8" stroke-width="1.7"/>
<polyline points="902.34,174.4 902.59,174.5 902.84,174.5 903.09,174.5 903.34,174.7 903.59,174.8 903.84,174.8 904.09,174.8 904.34,174.8 904.59,174.9 904.84,174.7 905.09,174.5 905.34,174.3 905.59,174.5 905.84,174.5 906.09,174.4 906.34,174.2 906.59,174.2 906.84,174.3 907.09,174.3 907.34,174.3 907.59,174.2 907.84,174.2 908.09,174.4 908.34,174.6 908.59,174.5 908.84,174.8 909.09,174.7 909.34,174.8 909.59,174.8 909.84,174.8 910.09,165.6 910.34,150.2 910.57,133.7 910.59,134.6 910.84,145.6 911.09,153.4 911.34,159.0 911.59,163.0 911.84,165.7 912.09,167.8 912.34,169.3 912.59,170.4 912.84,171.3 913.09,172.0 913.34,172.7 913.59,173.1 913.84,173.3 914.09,173.5 914.34,173.6 914.59,173.8 914.84,173.7 915.09,173.9 915.34,173.9 915.59,174.1 915.84,174.2 916.09,174.2 916.34,174.2 916.59,174.2 916.84,174.2 917.09,174.3 917.34,174.3 917.59,174.3 917.84,174.5 918.09,174.6 918.34,174.8 918.59,174.7 918.84,174.7 919.09,174.9 919.34,174.8 919.59,174.7 919.84,174.7 920.09,174.8 920.34,174.7 920.59,174.8 920.84,174.7 921.09,174.9 921.34,174.9 921.59,175.0 921.84,174.9 922.09,175.0 922.34,174.9 922.59,174.8 922.84,174.6 923.09,174.4 923.34,162.5 923.59,146.2 923.77,132.8 923.84,136.2 924.09,146.8 924.34,154.2 924.59,159.5 924.84,163.4 925.09,166.2 925.34,168.2 925.59,169.5 925.84,170.5 926.09,171.4 926.34,171.8 926.59,172.4 926.84,172.8 927.09,173.2 927.34,173.7 927.59,173.8 927.84,174.0 928.09,174.2 928.34,174.2 928.59,174.3 928.84,174.3 929.09,174.3 929.34,174.4 929.59,174.3 929.84,174.3 930.09,174.3 930.34,174.3 930.59,174.4 930.84,174.3 931.09,174.3 931.34,174.3 931.59,174.4 931.84,174.4 932.09,174.5 932.34,174.6 932.59,174.8 932.84,174.7 933.09,174.8 933.34,174.8 933.59,174.8 933.84,174.8 934.09,174.6 934.34,174.5 934.59,174.6 934.84,174.7 935.09,174.8 935.34,174.9 935.59,174.9 935.84,163.7 936.09,147.9 936.29,134.0 936.34,136.5 936.59,147.0 936.84,154.4 937.09,159.7 937.34,163.4 937.59,166.2 937.84,168.0 938.09,169.5 938.34,170.5 938.59,171.3 938.84,172.0 939.09,172.6 939.34,172.9 939.59,173.4 939.84,173.5 940.09,173.5 940.34,173.8 940.59,173.9 940.84,173.8 941.09,174.0 941.34,174.0 941.59,174.1 941.84,174.4 942.09,174.4 942.34,174.4 942.59,174.6 942.84,174.7 943.09,174.6 943.34,174.6 943.59,174.5 943.84,174.5 944.09,174.3 944.34,174.3 944.59,174.2 944.84,174.2 945.09,174.3 945.34,174.1 945.59,174.1 945.84,174.2 946.09,174.2 946.34,174.3 946.59,174.2 946.84,170.6 947.09,157.7 947.34,141.1 947.43,134.7 947.59,142.2 947.84,151.0 948.09,157.3 948.34,161.8 948.59,165.1 948.84,167.5 949.09,169.1 949.34,170.3 949.59,171.2 949.84,171.8 950.09,172.3 950.34,172.6 950.59,172.7 950.84,173.3 951.09,173.5 951.34,173.7 951.59,173.8 951.84,174.0 952.09,174.1 952.34,174.3 952.59,174.1 952.84,174.0 953.09,174.0 953.34,174.2 953.59,174.3 953.84,174.5 954.09,174.5 954.34,174.7 954.59,174.7 954.84,174.6 955.09,174.5 955.34,174.6 955.59,174.5 955.84,174.5 956.09,174.5 956.34,174.6 956.59,174.6 956.84,174.5 957.09,174.5 957.34,174.4 957.59,174.3 957.84,174.3 958.09,174.3 958.34,174.3 958.59,174.3 958.84,174.3 959.09,174.1 959.34,162.6 959.59,146.4 959.77,133.1 959.84,136.5 960.09,147.0 960.34,154.4 960.59,159.7 960.84,163.4 961.09,166.1 961.34,168.0 961.59,169.5 961.84,170.6 962.09,171.4 962.34,172.1 962.59,172.6 962.84,173.1 963.09,173.5 963.34,173.9 963.59,174.1 963.84,174.1 964.09,174.2 964.34,174.1 964.59,174.3 964.84,174.3 965.09,174.1 965.34,174.2 965.59,174.4 965.84,174.3 966.09,174.4 966.34,174.4 966.59,174.5 966.84,174.6 967.09,174.6 967.34,174.6 967.59,174.6 967.84,174.8 968.09,174.7 968.34,174.6 968.59,174.6 968.84,174.6 969.09,174.6 969.34,174.6 969.59,174.4 969.84,174.6 970.09,174.7 970.34,174.7 970.59,174.0 970.84,161.8 971.09,145.4 971.26,133.1 971.34,137.2 971.59,147.5 971.84,154.7 972.09,159.9 972.34,163.6 972.59,166.3 972.84,168.2 973.09,169.7 973.34,170.8 973.59,171.6 973.84,172.2 974.09,172.6 974.34,172.8 974.59,173.3 974.84,173.6 975.09,173.8 975.34,174.0 975.59,174.3 975.84,174.4 976.09,174.7 976.34,174.6 976.59,174.5 976.84,174.5 977.09,174.6 977.34,174.6 977.59,174.6 977.84,174.5 978.09,174.6 978.34,174.6 978.59,174.6 978.84,174.5 979.09,174.5 979.34,174.6 979.59,174.6 979.84,174.6 980.09,174.5 980.34,174.6 980.59,174.7 980.84,174.6 981.09,174.8 981.34,168.9 981.59,154.2 981.84,136.5 981.89,133.1 982.09,142.6 982.34,151.3 982.59,157.4 982.84,161.9 983.09,165.0 983.34,167.4 983.59,169.2 983.84,170.4 984.09,171.1 984.34,171.9 984.59,172.5 984.84,172.9 985.09,173.2 985.34,173.4 985.59,173.5 985.84,173.8 986.09,173.9 986.34,174.2 986.59,174.2 986.84,174.2 987.09,174.4 987.34,174.7 987.59,174.6 987.84,174.6 988.09,174.5 988.34,174.6 988.59,174.7 988.84,174.7 989.09,174.7 989.34,174.7 989.59,174.7 989.84,174.6 990.09,174.4 990.34,174.5 990.59,174.3 990.84,174.3 991.09,174.2 991.34,174.2 991.59,174.2 991.84,174.2 992.09,174.2 992.34,174.3 992.59,174.4 992.84,174.5 993.09,174.5 993.34,174.6 993.59,174.7 993.84,174.5 994.09,174.5 994.34,174.4 994.59,174.4 994.84,174.5 995.09,174.4 995.34,174.5 995.59,174.4 995.84,174.3 996.09,174.5 996.34,174.6 996.59,174.4 996.84,174.6 997.09,174.5 997.34,174.5 997.59,174.7 997.84,174.5 998.09,174.2 998.34,174.3 998.59,174.3 998.84,174.4 999.09,174.7 999.34,174.6 999.59,174.7 999.84,174.9 1000.09,174.8 1000.34,174.9 1000.59,174.8 1000.84,174.5 1001.09,166.9 1001.34,151.9 1001.59,134.0 1001.60,133.2 1001.84,144.2 1002.09,152.4 1002.34,158.3 1002.59,162.4 1002.84,165.5 1003.09,167.8 1003.34,169.4 1003.59,170.5 1003.84,171.5 1004.09,172.1 1004.34,172.6 1004.59,173.1 1004.84,173.3 1005.09,173.5 1005.34,173.7 1005.59,173.9 1005.84,174.2 1006.09,174.3 1006.34,174.3 1006.59,174.2 1006.84,174.5 1007.09,174.6 1007.34,174.7 1007.59,174.6 1007.84,174.6 1008.09,174.6 1008.34,174.6 1008.59,174.5 1008.84,174.5 1009.09,174.5 1009.34,174.4 1009.59,174.2 1009.84,174.4 1010.09,174.4 1010.34,174.3 1010.59,174.2 1010.84,174.0 1011.09,174.1 1011.34,174.3 1011.59,174.1 1011.84,174.2 1012.09,174.2 1012.34,174.3 1012.59,174.4 1012.84,174.3 1013.09,174.3 1013.34,174.5 1013.59,174.5 1013.84,174.6 1014.09,174.7 1014.34,174.7 1014.59,174.6 1014.84,174.5 1015.09,174.5 1015.34,174.3 1015.59,174.3 1015.84,174.2 1016.09,174.4 1016.34,174.4 1016.59,174.6 1016.84,174.6 1017.09,174.9 1017.34,174.8 1017.59,174.9 1017.84,174.7 1018.09,174.8 1018.34,174.7 1018.59,174.7 1018.84,174.6 1019.09,174.7 1019.34,174.6 1019.59,174.6 1019.84,174.7 1020.09,174.8 1020.34,174.8 1020.59,174.7 1020.84,174.7 1021.09,174.9 1021.34,175.0 1021.59,175.0 1021.84,174.9 1022.09,174.8 1022.34,174.7 1022.59,174.7 1022.84,174.7 1023.09,174.4 1023.34,174.3 1023.59,174.3 1023.84,174.3 1024.09,174.1 1024.34,174.0 1024.59,174.0 1024.84,170.5 1025.09,157.4 1025.34,140.6 1025.43,134.1 1025.59,141.7 1025.84,150.7 1026.09,157.0 1026.34,161.6 1026.59,164.9 1026.84,167.3 1027.09,169.1 1027.34,170.2 1027.59,171.2 1027.84,172.2 1028.09,172.6 1028.34,172.9 1028.59,173.2 1028.84,173.5 1029.09,173.8 1029.34,173.9 1029.59,173.8 1029.84,173.8 1030.09,173.9 1030.34,173.9 1030.59,173.9 1030.84,173.9 1031.09,173.9 1031.34,174.1 1031.59,174.2 1031.84,174.4 1032.09,174.5 1032.34,174.6 1032.59,174.5 1032.84,174.5 1033.09,174.5 1033.34,174.5 1033.59,174.4 1033.84,174.5 1034.09,174.5 1034.34,174.5 1034.59,174.5 1034.84,174.4 1035.09,174.5 1035.34,174.6 1035.59,174.5 1035.84,174.5 1036.09,174.6 1036.34,174.6 1036.59,174.9 1036.84,174.8 1037.09,174.8 1037.34,174.9 1037.59,174.9 1037.84,174.8 1038.09,174.9 1038.34,164.7 1038.59,149.4 1038.80,134.6 1038.84,136.6 1039.09,147.1 1039.34,154.5 1039.59,159.7 1039.84,163.5 1040.09,166.2 1040.34,168.3 1040.59,169.8 1040.84,171.1 1041.09,172.0 1041.34,172.5 1041.59,172.9 1041.84,173.4 1042.09,173.7 1042.34,173.7 1042.59,173.8 1042.84,173.8 1043.09,174.0 1043.34,174.2 1043.59,174.3 1043.84,174.4 1044.09,174.5 1044.34,174.6 1044.59,174.7 1044.84,174.4 1045.09,174.5 1045.34,174.5 1045.59,174.5 1045.84,174.7 1046.09,174.6 1046.34,174.6 1046.59,174.7 1046.84,174.6 1047.09,174.4 1047.34,174.3 1047.59,174.2 1047.84,174.2 1048.09,174.2 1048.34,174.1 1048.59,174.1 1048.84,174.4 1049.09,174.5 1049.34,174.5 1049.59,174.5 1049.84,174.5 1050.09,174.6 1050.34,174.6 1050.59,174.4 1050.84,174.2 1051.09,174.1 1051.34,174.3 1051.59,174.2 1051.84,174.3 1052.09,174.2 1052.34,174.2 1052.59,174.5 1052.84,174.4 1053.09,174.3 1053.34,174.3 1053.59,174.2 1053.84,174.2 1054.09,174.4 1054.34,174.3 1054.59,174.5 1054.84,174.5 1055.09,174.5 1055.34,174.6 1055.59,174.6 1055.84,174.5 1056.09,174.5 1056.34,174.5 1056.59,174.5 1056.84,174.6 1057.09,174.6 1057.34,174.4 1057.59,174.1 1057.84,174.0 1058.09,174.0 1058.34,174.0 1058.59,173.9 1058.84,173.9 1059.09,174.1 1059.34,174.3 1059.59,174.4 1059.84,174.5 1060.09,174.4 1060.34,174.5 1060.59,174.7 1060.84,174.7 1061.09,174.7 1061.34,171.4 1061.59,158.0 1061.84,141.1 1061.94,133.7 1062.09,140.5 1062.34,149.8 1062.59,156.4 1062.84,161.1 1063.09,164.4 1063.34,166.9 1063.59,168.6 1063.84,170.1 1064.09,171.1 1064.34,171.8 1064.59,172.4 1064.84,172.9 1065.09,173.0 1065.34,173.4 1065.59,173.7 1065.84,174.0 1066.09,174.1 1066.34,174.3 1066.59,174.4 1066.84,174.6 1067.09,174.5 1067.34,174.4 1067.59,174.4 1067.84,174.4 1068.09,174.4 1068.34,174.5 1068.59,174.4 1068.84,174.5 1069.09,174.4 1069.34,174.4 1069.59,174.5 1069.84,174.3 1070.09,174.2 1070.34,174.3 1070.59,174.3 1070.84,174.3 1071.09,174.6 1071.34,174.4 1071.59,174.5 1071.84,174.3 1072.09,174.5 1072.34,174.5 1072.59,174.6 1072.84,174.5 1073.09,174.5 1073.34,174.5 1073.59,174.6 1073.84,174.5 1074.09,174.4 1074.34,174.4 1074.59,174.2 1074.84,174.4 1075.09,174.3 1075.34,174.4 1075.59,174.5 1075.84,173.9 1076.09,162.5 1076.34,146.7 1076.52,134.3 1076.59,137.8 1076.84,147.9 1077.09,155.1 1077.34,160.1 1077.59,163.8 1077.84,166.5 1078.09,168.4 1078.34,169.8 1078.59,170.7 1078.84,171.5 1079.09,172.2 1079.34,172.6 1079.59,173.1 1079.84,173.5 1080.09,173.5 1080.34,174.0 1080.59,174.1 1080.84,174.1 1081.09,174.5 1081.34,174.5 1081.59,174.5 1081.84,174.7 1082.09,174.5 1082.34,174.7 1082.59,174.7 1082.84,174.5 1083.09,174.3 1083.34,174.4 1083.59,174.5 1083.84,174.4 1084.09,174.5 1084.34,174.6 1084.59,174.7 1084.84,174.7 1085.09,174.6 1085.34,174.6 1085.59,174.5 1085.84,174.4 1086.09,174.3 1086.34,174.2 1086.59,174.3 1086.84,174.2 1087.09,174.3 1087.34,174.5 1087.59,174.4 1087.84,174.3 1088.09,174.3 1088.34,174.2 1088.59,174.3 1088.84,174.2 1089.09,174.0 1089.34,174.0 1089.59,174.1 1089.84,174.0 1090.09,174.2 1090.34,170.0 1090.59,156.4 1090.84,139.3 1090.92,133.9 1091.09,142.0 1091.34,150.9 1091.59,157.2 1091.84,161.7 1092.09,164.9 1092.34,167.3 1092.59,169.1 1092.84,170.3 1093.09,171.2 1093.34,172.0 1093.59,172.5 1093.84,172.8 1094.09,173.2 1094.34,173.5 1094.59,173.8 1094.84,173.9 1095.09,173.9 1095.34,173.9 1095.59,174.0 1095.84,174.0 1096.09,174.0 1096.34,173.9 1096.59,174.1 1096.84,174.1 1097.09,174.1 1097.34,174.0 1097.59,174.0 1097.84,174.1 1098.09,174.2 1098.34,174.3 1098.59,174.3 1098.84,174.3 1099.09,174.3 1099.34,174.3 1099.59,174.4 1099.84,174.2 1100.09,174.2 1100.34,174.2 1100.59,174.4 1100.84,174.6 1101.09,174.6 1101.34,174.5 1101.59,174.5 1101.84,174.5 1102.09,174.6 1102.34,174.6 1102.59,174.6 1102.84,174.4 1103.09,167.0 1103.34,151.8 1103.59,133.7 1103.60,132.9 1103.84,143.9 1104.09,152.2 1104.34,158.1 1104.59,162.4 1104.84,165.4 1105.09,167.7 1105.34,169.4 1105.59,170.5 1105.84,171.3 1106.09,172.1 1106.34,172.5 1106.59,172.8 1106.84,172.9 1107.09,173.3 1107.34,173.9 1107.59,173.9 1107.84,174.1 1108.09,174.1 1108.34,174.3 1108.59,174.4 1108.84,174.3 1109.09,174.1 1109.34,174.3 1109.59,174.2 1109.84,174.3 1110.09,174.3 1110.34,174.4 1110.59,174.4 1110.84,174.6 1111.09,174.6 1111.34,174.7 1111.59,174.7 1111.84,174.6 1112.09,174.6 1112.34,174.7 1112.59,174.5 1112.84,174.5 1113.09,174.7 1113.34,174.7 1113.59,174.9 1113.84,174.8 1114.09,174.7 1114.34,174.7 1114.59,166.7 1114.84,152.2 1115.09,135.3 1115.34,146.2 1115.59,153.8 1115.84,159.3 1116.09,163.2 1116.34,166.0 1116.59,168.1 1116.84,169.6 1117.09,170.7 1117.34,171.4 1117.59,172.0 1117.84,172.5 1118.09,172.7 1118.34,173.0 1118.59,173.1 1118.84,173.4 1119.09,173.4 1119.34,173.6 1119.59,173.7 1119.84,173.9 1120.09,174.0 1120.34,174.2 1120.59,174.1 1120.84,174.3 1121.09,174.2 1121.34,163.2 1121.59,147.9 1121.77,135.3 1121.84,138.4 1122.09,148.4 1122.34,155.4 1122.59,160.4 1122.84,164.1 1123.09,166.7 1123.34,168.5 1123.59,169.8 1123.84,170.8 1124.09,171.7 1124.34,172.4 1124.59,172.8 1124.84,173.1 1125.09,173.7 1125.34,173.8 1125.59,173.9 1125.84,174.0 1126.09,174.1 1126.34,174.2 1126.59,174.2 1126.84,174.2 1127.09,174.5 1127.34,174.4 1127.59,174.4 1127.84,174.4 1128.09,174.2 1128.34,174.3 1128.59,174.2 1128.84,174.1 1129.09,174.0 1129.34,174.0 1129.59,174.2 1129.84,174.5 1130.09,174.6 1130.34,174.7 1130.59,174.8 1130.84,174.8 1131.09,174.8 1131.34,174.6 1131.59,174.5 1131.84,174.4 1132.09,174.4 1132.34,174.3 1132.59,174.4 1132.84,174.4 1133.09,174.5 1133.34,174.5 1133.59,174.5 1133.84,174.6 1134.09,174.5 1134.34,174.7 1134.59,174.7 1134.84,174.8 1135.09,170.1 1135.34,156.5 1135.59,139.9 1135.66,135.0 1135.84,143.2 1136.09,151.8 1136.34,157.8 1136.59,162.2 1136.84,165.4 1137.09,167.5 1137.34,169.1 1137.59,170.3 1137.84,171.0 1138.09,171.5 1138.34,172.0 1138.59,172.3 1138.84,172.9 1139.09,173.2 1139.34,173.3 1139.59,173.7 1139.84,174.0 1140.09,174.2 1140.34,174.2 1140.59,174.4 1140.84,174.4 1141.09,174.4 1141.34,174.2 1141.59,174.0 1141.84,174.0 1142.09,174.1 1142.34,174.0 1142.59,174.1 1142.84,174.3 1143.09,174.4 1143.34,174.5 1143.59,174.6 1143.84,174.7 1144.09,174.6 1144.34,174.4 1144.59,174.3 1144.84,174.5 1145.09,174.5 1145.34,174.4 1145.59,174.3 1145.84,174.4 1146.09,174.4 1146.34,174.5 1146.59,174.3 1146.84,174.1 1147.09,174.2 1147.34,174.2 1147.59,174.2 1147.84,174.3 1148.09,174.3 1148.34,174.4" stroke-width="1.7"/>
<polyline points="902.34,230.6 902.59,230.5 902.84,230.6 903.09,230.5 903.34,230.7 903.59,230.7 903.84,230.8 904.09,230.7 904.34,230.7 904.59,230.7 904.84,230.8 905.09,230.8 905.34,230.7 905.59,230.5 905.84,230.7 906.09,230.8 906.34,230.6 906.59,230.7 906.84,230.6 907.09,226.4 907.34,213.9 907.59,198.6 907.66,194.2 907.84,201.8 908.09,209.7 908.34,215.2 908.59,219.2 908.84,222.1 909.09,224.1 909.34,225.6 909.59,226.8 909.84,227.8 910.09,228.5 910.34,228.9 910.59,229.3 910.84,229.6 911.09,229.8 911.34,229.8 911.59,229.8 911.84,229.9 912.09,230.0 912.34,230.1 912.59,230.2 912.84,230.2 913.09,230.4 913.34,230.5 913.59,230.6 913.84,230.8 914.09,230.9 914.34,230.9 914.59,230.9 914.84,230.7 915.09,230.7 915.34,230.5 915.59,230.5 915.84,230.5 916.09,230.4 916.34,230.4 916.59,230.5 916.84,227.3 917.09,215.5 917.34,200.7 917.43,195.0 917.59,201.7 917.84,209.6 918.09,215.2 918.34,219.2 918.59,222.2 918.84,224.4 919.09,225.9 919.34,227.0 919.59,227.7 919.84,228.3 920.09,228.8 920.34,229.1 920.59,229.3 920.84,229.6 921.09,229.9 921.34,230.1 921.59,230.2 921.84,230.3 922.09,230.6 922.34,230.7 922.59,230.6 922.84,230.5 923.09,230.7 923.34,230.6 923.59,230.6 923.84,230.6 924.09,230.6 924.34,230.7 924.59,230.7 924.84,230.5 925.09,230.5 925.34,230.5 925.59,230.4 925.84,230.4 926.09,230.2 926.34,230.3 926.59,230.4 926.84,230.6 927.09,230.7 927.34,230.6 927.59,230.6 927.84,230.7 928.09,230.7 928.34,230.6 928.59,230.6 928.84,230.4 929.09,230.4 929.34,230.5 929.59,230.4 929.84,230.4 930.09,230.5 930.34,230.5 930.59,230.7 930.84,230.7 931.09,230.6 931.34,230.6 931.59,230.6 931.84,230.6 932.09,230.6 932.34,230.4 932.59,230.5 932.84,230.4 933.09,230.4 933.34,230.3 933.59,230.3 933.84,230.3 934.09,230.4 934.34,230.3 934.59,230.4 934.84,230.6 935.09,230.6 935.34,230.6 935.59,230.5 935.84,230.5 936.09,230.6 936.34,230.5 936.59,230.5 936.84,230.5 937.09,230.5 937.34,230.6 937.59,230.6 937.84,230.4 938.09,230.4 938.34,230.4 938.59,230.4 938.84,230.5 939.09,230.4 939.34,230.4 939.59,230.6 939.84,230.5 940.09,230.3 940.34,230.5 940.59,230.5 940.84,230.5 941.09,230.5 941.34,230.6 941.59,230.7 941.84,230.9 942.09,230.6 942.34,230.6 942.59,230.6 942.84,230.7 943.09,230.9 943.34,230.9 943.59,231.0 943.84,231.0 944.09,230.9 944.34,230.6 944.59,220.4 944.84,206.2 945.03,194.0 945.09,196.8 945.34,206.1 945.59,212.7 945.84,217.4 946.09,220.8 946.34,223.2 946.59,225.0 946.84,226.4 947.09,227.3 947.34,228.1 947.59,228.6 947.84,229.1 948.09,229.3 948.34,229.7 948.59,229.8 948.84,230.0 949.09,230.2 949.34,230.2 949.59,230.0 949.84,230.2 950.09,230.2 950.34,230.3 950.59,230.3 950.84,230.2 951.09,230.2 951.34,230.4 951.59,230.3 951.84,230.5 952.09,229.4 952.34,218.4 952.59,203.6 952.74,193.6 952.84,197.8 953.09,206.8 953.34,213.2 953.59,217.7 953.84,221.1 954.09,223.5 954.34,225.2 954.59,226.5 954.84,227.3 955.09,228.0 955.34,228.5 955.59,229.1 955.84,229.4 956.09,229.5 956.34,229.7 956.59,229.9 956.84,230.1 957.09,230.1 957.34,230.1 957.59,230.1 957.84,230.2 958.09,230.3 958.34,230.4 958.59,230.3 958.84,230.4 959.09,230.3 959.34,230.6 959.59,230.6 959.84,230.6 960.09,230.5 960.34,230.7 960.59,230.6 960.84,230.7 961.09,230.6 961.34,230.5 961.59,230.3 961.84,230.4 962.09,230.3 962.34,230.4 962.59,230.5 962.84,230.4 963.09,230.5 963.34,230.6 963.59,230.6 963.84,230.7 964.09,230.7 964.34,230.6 964.59,230.6 964.84,230.6 965.09,230.8 965.34,230.9 965.59,230.8 965.84,230.7 966.09,230.7 966.34,230.6 966.59,230.7 966.84,229.2 967.09,218.0 967.34,203.1 967.49,193.5 967.59,198.1 967.84,207.0 968.09,213.3 968.34,217.8 968.59,221.1 968.84,223.4 969.09,225.1 969.34,226.4 969.59,227.3 969.84,228.1 970.09,228.6 970.34,228.9 970.59,229.4 970.84,229.8 971.09,229.9 971.34,230.0 971.59,230.1 971.84,230.3 972.09,230.4 972.34,230.4 972.59,230.3 972.84,230.2 973.09,230.3 973.34,230.3 973.59,230.4 973.84,230.4 974.09,230.5 974.34,230.5 974.59,230.6 974.84,230.8 975.09,230.9 975.34,230.8 975.59,230.9 975.84,230.8 976.09,230.9 976.34,230.8 976.59,230.7 976.84,230.6 977.09,230.6 977.34,230.6 977.59,230.6 977.84,230.6 978.09,230.6 978.34,230.5 978.59,230.5 978.84,230.7 979.09,230.8 979.34,231.0 979.59,230.9 979.84,231.1 980.09,231.1 980.34,231.0 980.59,230.9 980.84,230.8 981.09,230.8 981.34,230.6 981.59,230.6 981.84,230.7 982.09,230.7 982.34,230.7 982.59,230.6 982.84,230.6 983.09,230.8 983.34,230.8 983.59,230.7 983.84,230.7 984.09,230.6 984.34,230.5 984.59,230.5 984.84,230.3 985.09,230.4 985.34,230.4 985.59,230.4 985.84,230.6 986.09,230.9 986.34,230.9 986.59,231.1 986.84,230.9 987.09,230.7 987.34,230.6 987.59,230.6 987.84,230.4 988.09,230.6 988.34,230.4 988.59,230.4 988.84,230.6 989.09,230.7 989.34,230.6 989.59,230.5 989.84,230.4 990.09,230.6 990.34,230.7 990.59,230.7 990.84,230.6 991.09,230.6 991.34,230.6 991.59,230.9 991.84,230.7 992.09,230.5 992.34,230.4 992.59,230.2 992.84,230.1 993.09,230.0 993.34,229.9 993.59,229.9 993.84,230.0 994.09,230.3 994.34,230.4 994.59,230.7 994.84,227.4 995.09,215.3 995.34,200.3 995.43,194.4 995.59,201.2 995.84,209.3 996.09,215.0 996.34,219.0 996.59,222.1 996.84,224.2 997.09,225.8 997.34,227.0 997.59,227.8 997.84,228.5 998.09,228.7 998.34,229.2 998.59,229.5 998.84,229.7 999.09,229.7 999.34,229.9 999.59,229.9 999.84,230.1 1000.09,230.1 1000.34,230.3 1000.59,230.4 1000.84,230.5 1001.09,230.5 1001.34,230.6 1001.59,230.6 1001.84,230.4 1002.09,230.4 1002.34,230.4 1002.59,230.6 1002.84,230.5 1003.09,230.4 1003.34,230.4 1003.59,230.5 1003.84,230.4 1004.09,230.5 1004.34,230.6 1004.59,230.7 1004.84,230.7 1005.09,230.8 1005.34,225.7 1005.59,213.0 1005.84,197.7 1005.89,194.8 1006.09,203.0 1006.34,210.5 1006.59,215.8 1006.84,219.7 1007.09,222.4 1007.34,224.3 1007.59,225.8 1007.84,227.0 1008.09,227.7 1008.34,228.3 1008.59,228.8 1008.84,229.2 1009.09,229.5 1009.34,229.8 1009.59,230.0 1009.84,230.1 1010.09,230.2 1010.34,230.3 1010.59,230.4 1010.84,230.5 1011.09,230.4 1011.34,230.4 1011.59,230.5 1011.84,230.6 1012.09,230.7 1012.34,230.8 1012.59,230.6 1012.84,230.7 1013.09,230.8 1013.34,230.6 1013.59,230.5 1013.84,230.2 1014.09,230.4 1014.34,230.4 1014.59,230.5 1014.84,230.5 1015.09,230.6 1015.34,230.5 1015.59,230.5 1015.84,230.2 1016.09,230.3 1016.34,230.2 1016.59,230.1 1016.84,230.0 1017.09,230.3 1017.34,230.5 1017.59,230.5 1017.84,230.5 1018.09,230.4 1018.34,230.5 1018.59,230.5 1018.84,230.4 1019.09,230.4 1019.34,230.5 1019.59,230.5 1019.84,230.6 1020.09,230.4 1020.34,230.4 1020.59,230.3 1020.84,230.4 1021.09,230.4 1021.34,230.3 1021.59,230.3 1021.84,230.5 1022.09,230.6 1022.34,230.5 1022.59,230.4 1022.84,230.5 1023.09,230.6 1023.34,230.7 1023.59,230.7 1023.84,230.6 1024.09,230.7 1024.34,230.8 1024.59,223.2 1024.84,209.4 1025.09,193.6 1025.34,203.8 1025.59,211.1 1025.84,216.2 1026.09,219.9 1026.34,222.5 1026.59,224.5 1026.84,226.0 1027.09,227.0 1027.34,227.9 1027.59,228.5 1027.84,229.0 1028.09,229.2 1028.34,229.4 1028.59,229.6 1028.84,230.0 1029.09,230.3 1029.34,230.5 1029.59,230.6 1029.84,230.6 1030.09,230.6 1030.34,230.7 1030.59,230.8 1030.84,230.5 1031.09,230.4 1031.34,230.4 1031.59,230.6 1031.84,230.6 1032.09,230.5 1032.34,230.4 1032.59,230.6 1032.84,230.8 1033.09,230.8 1033.34,230.6 1033.59,230.5 1033.84,230.6 1034.09,230.7 1034.34,230.6 1034.59,230.4 1034.84,230.4 1035.09,230.5 1035.34,230.6 1035.59,230.6 1035.84,230.5 1036.09,230.5 1036.34,230.4 1036.59,230.3 1036.84,230.3 1037.09,230.3 1037.34,230.2 1037.59,230.4 1037.84,230.5 1038.09,230.5 1038.34,230.7 1038.59,230.8 1038.84,230.9 1039.09,231.0 1039.34,230.9 1039.59,230.9 1039.84,231.0 1040.09,231.0 1040.34,230.8 1040.59,230.7 1040.84,230.5 1041.09,230.4 1041.34,230.4 1041.59,230.4 1041.84,230.4 1042.09,230.5 1042.34,230.5 1042.59,230.5 1042.84,230.7 1043.09,230.7 1043.34,230.8 1043.59,230.8 1043.84,230.8 1044.09,230.7 1044.34,230.8 1044.59,230.5 1044.84,230.5 1045.09,230.6 1045.34,230.7 1045.59,230.6 1045.84,230.6 1046.09,230.6 1046.34,230.7 1046.59,230.8 1046.84,230.7 1047.09,230.6 1047.34,230.4 1047.59,230.6 1047.84,230.7 1048.09,230.7 1048.34,230.7 1048.59,230.6 1048.84,230.6 1049.09,231.0 1049.34,230.6 1049.59,230.5 1049.84,230.6 1050.09,230.6 1050.34,230.6 1050.59,230.6 1050.84,230.5 1051.09,230.6 1051.34,230.5 1051.59,230.5 1051.84,230.4 1052.09,230.5 1052.34,224.2 1052.59,211.0 1052.84,195.2 1052.86,194.0 1053.09,203.5 1053.34,210.8 1053.59,216.1 1053.84,219.8 1054.09,222.6 1054.34,224.5 1054.59,226.1 1054.84,227.2 1055.09,228.0 1055.34,228.5 1055.59,229.0 1055.84,229.3 1056.09,229.7 1056.34,229.7 1056.59,230.0 1056.84,230.3 1057.09,230.4 1057.34,230.6 1057.59,230.6 1057.84,230.4 1058.09,230.6 1058.34,230.4 1058.59,220.2 1058.84,205.7 1059.03,193.1 1059.09,195.9 1059.34,205.5 1059.59,212.3 1059.84,217.1 1060.09,220.5 1060.34,223.0 1060.59,224.9 1060.84,226.2 1061.09,227.1 1061.34,227.9 1061.59,228.3 1061.84,229.0 1062.09,229.3 1062.34,229.5 1062.59,229.7 1062.84,229.9 1063.09,230.1 1063.34,230.2 1063.59,230.0 1063.84,230.1 1064.09,230.2 1064.34,230.3 1064.59,230.3 1064.84,230.4 1065.09,230.5 1065.34,230.4 1065.59,230.4 1065.84,230.3 1066.09,230.6 1066.34,230.5 1066.59,230.5 1066.84,230.6 1067.09,230.8 1067.34,230.8 1067.59,231.0 1067.84,230.9 1068.09,230.7 1068.34,230.7 1068.59,230.7 1068.84,230.6 1069.09,230.6 1069.34,230.5 1069.59,230.5 1069.84,230.7 1070.09,230.5 1070.34,230.5 1070.59,230.5 1070.84,230.4 1071.09,230.5 1071.34,230.6 1071.59,230.6 1071.84,230.7 1072.09,230.8 1072.34,230.8 1072.59,230.7 1072.84,230.6 1073.09,230.6 1073.34,230.6 1073.59,230.7 1073.84,230.6 1074.09,230.6 1074.34,230.7 1074.59,230.8 1074.84,230.8 1075.09,230.5 1075.34,230.3 1075.59,230.3 1075.84,230.3 1076.09,230.3 1076.34,230.2 1076.59,230.2 1076.84,230.4 1077.09,230.3 1077.34,230.4 1077.59,230.4 1077.84,230.4 1078.09,230.6 1078.34,230.4 1078.59,230.5 1078.84,230.5 1079.09,230.5 1079.34,230.4 1079.59,230.1 1079.84,230.1 1080.09,230.2 1080.34,230.1 1080.59,230.3 1080.84,230.3 1081.09,230.4 1081.34,230.6 1081.59,230.7 1081.84,230.7 1082.09,230.7 1082.34,230.7 1082.59,230.6 1082.84,230.6 1083.09,230.6 1083.34,230.4 1083.59,230.3 1083.84,230.4 1084.09,230.4 1084.34,230.5 1084.59,230.5 1084.84,230.7 1085.09,230.7 1085.34,230.8 1085.59,230.8 1085.84,230.8 1086.09,230.8 1086.34,221.4 1086.59,207.3 1086.80,193.5 1086.84,195.3 1087.09,205.0 1087.34,211.9 1087.59,216.8 1087.84,220.3 1088.09,222.9 1088.34,224.8 1088.59,226.2 1088.84,227.2 1089.09,227.9 1089.34,228.4 1089.59,228.8 1089.84,229.3 1090.09,229.4 1090.34,229.5 1090.59,229.8 1090.84,229.9 1091.09,230.0 1091.34,230.0 1091.59,230.1 1091.84,230.2 1092.09,230.4 1092.34,230.2 1092.59,230.3 1092.84,230.5 1093.09,230.5 1093.34,230.5 1093.59,230.5 1093.84,230.5 1094.09,230.7 1094.34,230.7 1094.59,230.8 1094.84,230.8 1095.09,221.1 1095.34,206.8 1095.54,193.6 1095.59,195.5 1095.84,205.2 1096.09,212.0 1096.34,216.9 1096.59,220.4 1096.84,223.0 1097.09,224.8 1097.34,226.3 1097.59,227.1 1097.84,227.9 1098.09,228.3 1098.34,228.8 1098.59,229.1 1098.84,229.4 1099.09,229.3 1099.34,229.7 1099.59,229.7 1099.84,229.9 1100.09,229.9 1100.34,230.1 1100.59,230.0 1100.84,230.2 1101.09,230.1 1101.34,230.3 1101.59,230.3 1101.84,230.4 1102.09,230.3 1102.34,230.3 1102.59,230.3 1102.84,230.4 1103.09,230.6 1103.34,230.7 1103.59,230.7 1103.84,230.7 1104.09,230.9 1104.34,230.9 1104.59,231.0 1104.84,230.8 1105.09,230.7 1105.34,230.4 1105.59,230.6 1105.84,230.6 1106.09,230.5 1106.34,230.3 1106.59,230.4 1106.84,230.4 1107.09,230.5 1107.34,230.3 1107.59,230.3 1107.84,230.5 1108.09,230.6 1108.34,230.7 1108.59,230.9 1108.84,231.0 1109.09,231.1 1109.34,231.1 1109.59,231.0 1109.84,231.1 1110.09,231.2 1110.34,231.0 1110.59,230.9 1110.84,231.0 1111.09,230.9 1111.34,231.0 1111.59,231.1 1111.84,230.9 1112.09,230.9 1112.34,230.9 1112.59,230.9 1112.84,231.0 1113.09,231.0 1113.34,230.7 1113.59,230.7 1113.84,230.9 1114.09,230.8 1114.34,230.8 1114.59,230.6 1114.84,230.5 1115.09,230.6 1115.34,230.6 1115.59,230.5 1115.84,230.4 1116.09,230.3 1116.34,230.3 1116.59,230.2 1116.84,230.1 1117.09,230.1 1117.34,230.1 1117.59,230.2 1117.84,230.3 1118.09,230.5 1118.34,230.6 1118.59,230.7 1118.84,230.7 1119.09,230.8 1119.34,230.8 1119.59,230.8 1119.84,230.6 1120.09,230.5 1120.34,230.5 1120.59,230.5 1120.84,230.7 1121.09,230.6 1121.34,230.6 1121.59,230.5 1121.84,230.6 1122.09,230.7 1122.34,230.6 1122.59,225.6 1122.84,213.2 1123.09,197.6 1123.14,194.3 1123.34,202.2 1123.59,210.0 1123.84,215.4 1124.09,219.4 1124.34,222.2 1124.59,224.2 1124.84,225.6 1125.09,226.8 1125.34,227.5 1125.59,228.1 1125.84,228.7 1126.09,229.0 1126.34,229.3 1126.59,229.5 1126.84,229.6 1127.09,229.7 1127.34,230.0 1127.59,230.0 1127.84,230.0 1128.09,230.1 1128.34,230.2 1128.59,230.2 1128.84,230.4 1129.09,230.3 1129.34,230.3 1129.59,230.4 1129.84,230.5 1130.09,230.5 1130.34,230.7 1130.59,230.5 1130.84,230.4 1131.09,230.4 1131.34,230.4 1131.59,230.2 1131.84,230.1 1132.09,230.1 1132.34,230.2 1132.59,230.2 1132.84,230.4 1133.09,230.5 1133.34,230.7 1133.59,230.6 1133.84,230.5 1134.09,230.4 1134.34,230.5 1134.59,230.5 1134.84,230.4 1135.09,230.2 1135.34,230.5 1135.59,230.8 1135.84,230.9 1136.09,231.0 1136.34,230.9 1136.59,230.7 1136.84,230.7 1137.09,230.6 1137.34,230.4 1137.59,230.5 1137.84,230.4 1138.09,230.3 1138.34,230.4 1138.59,230.5 1138.84,230.5 1139.09,230.4 1139.34,230.4 1139.59,230.4 1139.84,230.6 1140.09,230.7 1140.34,230.8 1140.59,230.8 1140.84,230.9 1141.09,230.7 1141.34,230.9 1141.59,230.7 1141.84,230.6 1142.09,230.5 1142.34,230.4 1142.59,230.4 1142.84,230.4 1143.09,230.4 1143.34,230.5 1143.59,230.7 1143.84,230.6 1144.09,230.8 1144.34,230.8 1144.59,230.8 1144.84,230.8 1145.09,230.7 1145.34,230.8 1145.59,230.9 1145.84,230.8 1146.09,230.8 1146.34,230.8 1146.59,230.8 1146.84,230.7 1147.09,230.6 1147.34,230.5 1147.59,230.5 1147.84,230.5 1148.09,230.6 1148.34,230.5" stroke-width="1.7"/>
<polyline points="902.34,278.9 902.59,278.9 902.84,278.9 903.09,278.8 903.34,279.0 903.59,279.1 903.84,278.9 904.09,278.9 904.34,278.9 904.59,279.1 904.84,279.1 905.09,278.8 905.34,278.8 905.59,279.0 905.84,278.9 906.09,278.9 906.34,278.9 906.59,279.0 906.84,279.1 907.09,279.1 907.34,279.0 907.59,279.1 907.84,279.2 908.09,279.1 908.34,279.0 908.59,279.2 908.84,279.1 909.09,279.0 909.34,279.0 909.59,279.1 909.84,279.0 910.09,279.1 910.34,278.9 910.59,278.9 910.84,279.0 911.09,279.0 911.34,278.9 911.59,278.9 911.84,278.9 912.09,279.0 912.34,278.9 912.59,279.0 912.84,279.1 913.09,279.0 913.34,278.9 913.59,278.7 913.84,279.0 914.09,279.1 914.34,279.1 914.59,279.1 914.84,279.2 915.09,279.5 915.34,279.6 915.59,279.5 915.84,279.4 916.09,278.2 916.34,265.6 916.59,249.4 916.74,238.5 916.84,243.1 917.09,253.0 917.34,259.9 917.59,264.9 917.84,268.4 918.09,270.9 918.34,272.8 918.59,274.2 918.84,275.3 919.09,276.0 919.34,276.7 919.59,277.1 919.84,277.5 920.09,277.7 920.34,278.0 920.59,278.3 920.84,278.4 921.09,278.5 921.34,278.6 921.59,278.6 921.84,278.7 922.09,278.7 922.34,278.5 922.59,278.8 922.84,278.8 923.09,278.9 923.34,279.1 923.59,279.2 923.84,279.1 924.09,279.2 924.34,279.3 924.59,279.2 924.84,279.4 925.09,279.1 925.34,279.0 925.59,279.0 925.84,278.8 926.09,278.9 926.34,278.9 926.59,278.9 926.84,279.0 927.09,279.1 927.34,279.1 927.59,279.2 927.84,279.1 928.09,278.9 928.34,279.0 928.59,278.9 928.84,278.9 929.09,278.9 929.34,278.8 929.59,278.6 929.84,278.7 930.09,278.5 930.34,278.6 930.59,273.3 930.84,259.2 931.09,241.6 931.14,237.8 931.34,246.9 931.59,255.7 931.84,261.9 932.09,266.3 932.34,269.5 932.59,271.8 932.84,273.3 933.09,274.5 933.34,275.4 933.59,276.2 933.84,276.7 934.09,277.1 934.34,277.5 934.59,277.9 934.84,278.0 935.09,278.1 935.34,278.1 935.59,278.3 935.84,278.2 936.09,278.2 936.34,278.3 936.59,278.6 936.84,278.7 937.09,278.8 937.34,278.9 937.59,279.0 937.84,279.1 938.09,278.9 938.34,279.0 938.59,279.1 938.84,279.1 939.09,279.1 939.34,278.9 939.59,278.9 939.84,278.9 940.09,278.9 940.34,278.9 940.59,278.9 940.84,278.8 941.09,279.1 941.34,279.2 941.59,279.3 941.84,279.3 942.09,279.2 942.34,279.2 942.59,279.3 942.84,279.3 943.09,279.2 943.34,278.9 943.59,278.9 943.84,279.0 944.09,279.1 944.34,279.1 944.59,276.3 944.84,263.4 945.09,247.0 945.20,239.1 945.34,245.7 945.59,254.8 945.84,261.3 946.09,265.9 946.34,269.2 946.59,271.6 946.84,273.4 947.09,274.8 947.34,275.8 947.59,276.6 947.84,277.1 948.09,277.5 948.34,277.9 948.59,278.3 948.84,278.4 949.09,278.6 949.34,278.7 949.59,278.9 949.84,278.8 950.09,279.0 950.34,278.9 950.59,279.0 950.84,279.0 951.09,279.0 951.34,279.0 951.59,279.1 951.84,279.1 952.09,279.1 952.34,279.0 952.59,278.8 952.84,279.1 953.09,279.0 953.34,279.1 953.59,279.0 953.84,279.0 954.09,279.0 954.34,279.3 954.59,279.0 954.84,279.0 955.09,278.9 955.34,279.0 955.59,279.1 955.84,279.0 956.09,278.9 956.34,279.0 956.59,279.0 956.84,279.1 957.09,279.1 957.34,279.1 957.59,279.2 957.84,279.1 958.09,279.1 958.34,279.1 958.59,279.0 958.84,278.9 959.09,278.9 959.34,278.7 959.59,272.2 959.84,257.7 960.09,240.2 960.11,238.7 960.34,248.6 960.59,256.9 960.84,262.7 961.09,266.9 961.34,270.0 961.59,272.1 961.84,273.7 962.09,274.7 962.34,275.6 962.59,276.2 962.84,276.7 963.09,277.1 963.34,277.5 963.59,277.7 963.84,278.0 964.09,278.3 964.34,278.4 964.59,278.6 964.84,278.8 965.09,279.0 965.34,279.0 965.59,279.2 965.84,279.0 966.09,279.0 966.34,279.0 966.59,278.9 966.84,278.9 967.09,279.0 967.34,278.8 967.59,278.9 967.84,279.0 968.09,279.0 968.34,279.0 968.59,278.8 968.84,278.8 969.09,279.0 969.34,278.9 969.59,278.8 969.84,279.0 970.09,278.9 970.34,279.0 970.59,279.0 970.84,278.8 971.09,279.0 971.34,278.9 971.59,278.8 971.84,278.9 972.09,279.1 972.34,279.1 972.59,279.0 972.84,279.1 973.09,279.2 973.34,278.1 973.59,266.2 973.84,250.3 974.00,238.8 974.09,243.2 974.34,253.1 974.59,260.0 974.84,265.0 975.09,268.5 975.34,271.1 975.59,273.0 975.84,274.4 976.09,275.3 976.34,276.2 976.59,276.8 976.84,277.2 977.09,277.6 977.34,277.8 977.59,278.0 977.84,278.4 978.09,278.5 978.34,278.5 978.59,278.5 978.84,278.6 979.09,278.7 979.34,278.8 979.59,278.7 979.84,278.8 980.09,278.7 980.34,278.7 980.59,278.8 980.84,278.8 981.09,278.9 981.34,278.8 981.59,278.9 981.84,279.0 982.09,279.0 982.34,279.0 982.59,279.0 982.84,278.9 983.09,278.9 983.34,278.8 983.59,279.0 983.84,279.1 984.09,279.1 984.34,279.2 984.59,279.2 984.84,279.1 985.09,279.1 985.34,278.7 985.59,278.8 985.84,278.6 986.09,278.6 986.34,278.7 986.59,278.8 986.84,278.8 987.09,279.1 987.34,279.0 987.59,278.9 987.84,278.8 988.09,278.8 988.34,278.8 988.59,278.7 988.84,278.6 989.09,278.8 989.34,279.0 989.59,279.1 989.84,279.0 990.09,279.1 990.34,277.0 990.59,264.5 990.84,248.1 990.97,238.6 991.09,244.2 991.34,253.8 991.59,260.5 991.84,265.3 992.09,268.9 992.34,271.5 992.59,273.5 992.84,274.8 993.09,275.8 993.34,276.4 993.59,276.9 993.84,277.4 994.09,277.7 994.34,278.0 994.59,278.4 994.84,278.5 995.09,278.7 995.34,278.7 995.59,278.8 995.84,278.8 996.09,278.8 996.34,278.8 996.59,278.9 996.84,279.0 997.09,279.0 997.34,278.8 997.59,279.0 997.84,278.8 998.09,278.8 998.34,278.9 998.59,278.9 998.84,279.0 999.09,279.2 999.34,279.1 999.59,279.3 999.84,279.3 1000.09,279.3 1000.34,279.2 1000.59,279.3 1000.84,279.3 1001.09,279.3 1001.34,279.3 1001.59,279.4 1001.84,279.4 1002.09,279.5 1002.34,269.2 1002.59,254.0 1002.80,239.2 1002.84,241.2 1003.09,251.6 1003.34,259.0 1003.59,264.3 1003.84,268.0 1004.09,270.8 1004.34,272.7 1004.59,274.2 1004.84,275.2 1005.09,275.9 1005.34,276.6 1005.59,277.0 1005.84,277.5 1006.09,277.8 1006.34,278.1 1006.59,278.3 1006.84,278.6 1007.09,278.6 1007.34,278.8 1007.59,278.7 1007.84,278.6 1008.09,278.6 1008.34,278.5 1008.59,278.6 1008.84,278.6 1009.09,278.5 1009.34,278.5 1009.59,278.7 1009.84,278.8 1010.09,278.9 1010.34,279.0 1010.59,279.1 1010.84,279.0 1011.09,279.1 1011.34,279.0 1011.59,278.9 1011.84,279.0 1012.09,279.0 1012.34,279.0 1012.59,279.1 1012.84,279.0 1013.09,279.0 1013.34,279.0 1013.59,279.0 1013.84,278.9 1014.09,279.0 1014.34,279.0 1014.59,279.1 1014.84,279.1 1015.09,278.8 1015.34,278.8 1015.59,278.7 1015.84,278.1 1016.09,266.7 1016.34,250.5 1016.52,237.9 1016.59,241.5 1016.84,251.8 1017.09,259.1 1017.34,264.3 1017.59,268.1 1017.84,270.8 1018.09,272.8 1018.34,274.2 1018.59,275.3 1018.84,276.2 1019.09,276.8 1019.34,277.3 1019.59,277.5 1019.84,277.8 1020.09,278.2 1020.34,278.4 1020.59,278.3 1020.84,278.5 1021.09,278.5 1021.34,278.7 1021.59,278.9 1021.84,278.8 1022.09,278.8 1022.34,279.0 1022.59,279.0 1022.84,279.3 1023.09,279.3 1023.34,279.2 1023.59,279.2 1023.84,279.3 1024.09,279.2 1024.34,279.1 1024.59,278.9 1024.84,278.8 1025.09,278.9 1025.34,279.1 1025.59,279.2 1025.84,279.3 1026.09,279.4 1026.34,279.3 1026.59,279.5 1026.84,279.4 1027.09,279.1 1027.34,279.1 1027.59,279.1 1027.84,278.9 1028.09,279.2 1028.34,279.1 1028.59,279.3 1028.84,279.4 1029.09,279.4 1029.34,279.3 1029.59,277.6 1029.84,265.1 1030.09,249.0 1030.23,239.0 1030.34,244.3 1030.59,253.8 1030.84,260.6 1031.09,265.4 1031.34,268.9 1031.59,271.3 1031.84,273.1 1032.09,274.5 1032.34,275.5 1032.59,276.2 1032.84,276.9 1033.09,277.4 1033.34,277.8 1033.59,278.2 1033.84,278.5 1034.09,278.5 1034.34,278.7 1034.59,278.7 1034.84,278.8 1035.09,278.9 1035.34,278.7 1035.59,278.6 1035.84,278.5 1036.09,278.8 1036.34,278.7 1036.59,278.5 1036.84,278.4 1037.09,278.8 1037.34,278.7 1037.59,278.9 1037.84,278.7 1038.09,278.9 1038.34,279.0 1038.59,278.9 1038.84,278.9 1039.09,279.1 1039.34,279.1 1039.59,279.1 1039.84,279.1 1040.09,279.2 1040.34,279.2 1040.59,279.1 1040.84,279.1 1041.09,279.0 1041.34,279.1 1041.59,278.9 1041.84,278.8 1042.09,278.7 1042.34,278.9 1042.59,270.8 1042.84,255.7 1043.09,238.2 1043.34,249.5 1043.59,257.5 1043.84,263.2 1044.09,267.2 1044.34,270.2 1044.59,272.4 1044.84,274.0 1045.09,275.1 1045.34,275.9 1045.59,276.7 1045.84,277.2 1046.09,277.6 1046.34,277.9 1046.59,278.2 1046.84,278.3 1047.09,278.5 1047.34,278.4 1047.59,278.3 1047.84,278.2 1048.09,278.3 1048.34,278.4 1048.59,278.5 1048.84,278.6 1049.09,278.8 1049.34,278.9 1049.59,279.2 1049.84,279.1 1050.09,279.0 1050.34,279.0 1050.59,278.8 1050.84,278.8 1051.09,278.8 1051.34,278.8 1051.59,278.8 1051.84,278.9 1052.09,278.9 1052.34,279.0 1052.59,278.9 1052.84,278.8 1053.09,278.7 1053.34,278.7 1053.59,278.7 1053.84,278.8 1054.09,278.9 1054.34,278.9 1054.59,278.9 1054.84,278.9 1055.09,278.8 1055.34,279.0 1055.59,279.0 1055.84,279.0 1056.09,279.1 1056.34,279.3 1056.59,279.5 1056.84,279.6 1057.09,279.6 1057.34,279.4 1057.59,279.3 1057.84,279.3 1058.09,279.1 1058.34,279.1 1058.59,279.1 1058.84,272.6 1059.09,258.0 1059.34,240.4 1059.37,238.1 1059.59,248.0 1059.84,256.5 1060.09,262.4 1060.34,266.6 1060.59,269.7 1060.84,271.8 1061.09,273.4 1061.34,274.5 1061.59,275.5 1061.84,276.3 1062.09,276.9 1062.34,277.2 1062.59,277.5 1062.84,277.8 1063.09,278.1 1063.34,278.2 1063.59,278.3 1063.84,278.6 1064.09,278.7 1064.34,278.7 1064.59,278.9 1064.84,278.9 1065.09,279.1 1065.34,279.0 1065.59,278.8 1065.84,278.9 1066.09,278.9 1066.34,279.0 1066.59,279.0 1066.84,279.0 1067.09,278.9 1067.34,279.0 1067.59,279.0 1067.84,278.8 1068.09,278.8 1068.34,278.7 1068.59,278.7 1068.84,278.7 1069.09,278.8 1069.34,278.8 1069.59,279.0 1069.84,279.1 1070.09,279.2 1070.34,279.2 1070.59,279.4 1070.84,279.4 1071.09,279.4 1071.34,279.2 1071.59,279.2 1071.84,274.0 1072.09,259.6 1072.34,242.0 1072.40,237.4 1072.59,246.4 1072.84,255.3 1073.09,261.6 1073.34,266.1 1073.59,269.4 1073.84,271.7 1074.09,273.4 1074.34,274.7 1074.59,275.7 1074.84,276.3 1075.09,276.9 1075.34,277.3 1075.59,277.6 1075.84,278.0 1076.09,278.2 1076.34,278.4 1076.59,278.5 1076.84,278.6 1077.09,278.8 1077.34,279.0 1077.59,278.8 1077.84,279.0 1078.09,279.0 1078.34,279.1 1078.59,279.1 1078.84,279.1 1079.09,279.2 1079.34,279.3 1079.59,279.2 1079.84,279.3 1080.09,279.3 1080.34,279.5 1080.59,279.5 1080.84,279.3 1081.09,279.3 1081.34,279.2 1081.59,279.1 1081.84,279.0 1082.09,278.7 1082.34,278.7 1082.59,278.7 1082.84,278.5 1083.09,278.6 1083.34,278.4 1083.59,278.4 1083.84,278.5 1084.09,278.7 1084.34,278.9 1084.59,279.1 1084.84,279.1 1085.09,279.2 1085.34,279.2 1085.59,279.2 1085.84,279.1 1086.09,279.0 1086.34,278.9 1086.59,279.0 1086.84,279.0 1087.09,278.9 1087.34,279.0 1087.59,279.1 1087.84,278.9 1088.09,279.0 1088.34,278.9 1088.59,278.8 1088.84,278.9 1089.09,279.0 1089.34,279.0 1089.59,279.2 1089.84,279.3 1090.09,279.1 1090.34,279.2 1090.59,279.1 1090.84,279.0 1091.09,278.8 1091.34,278.7 1091.59,278.7 1091.84,278.8 1092.09,278.8 1092.34,278.8 1092.59,278.7 1092.84,278.8 1093.09,278.9 1093.34,278.9 1093.59,279.0 1093.84,279.0 1094.09,279.2 1094.34,279.2 1094.59,279.2 1094.84,279.1 1095.09,279.1 1095.34,279.0 1095.59,278.9 1095.84,278.8 1096.09,278.9 1096.34,278.9 1096.59,278.7 1096.84,275.2 1097.09,261.7 1097.34,244.6 1097.43,237.9 1097.59,245.6 1097.84,254.7 1098.09,261.2 1098.34,265.8 1098.59,269.0 1098.84,271.4 1099.09,273.2 1099.34,274.5 1099.59,275.4 1099.84,276.1 1100.09,276.6 1100.34,277.1 1100.59,277.4 1100.84,277.6 1101.09,277.9 1101.34,278.0 1101.59,278.4 1101.84,278.5 1102.09,278.6 1102.34,278.7 1102.59,278.7 1102.84,278.5 1103.09,278.7 1103.34,278.8 1103.59,279.0 1103.84,278.9 1104.09,279.0 1104.34,279.0 1104.59,279.3 1104.84,279.2 1105.09,279.0 1105.34,278.8 1105.59,279.0 1105.84,279.0 1106.09,279.0 1106.34,279.0 1106.59,278.9 1106.84,279.0 1107.09,279.0 1107.34,279.0 1107.59,278.9 1107.84,278.7 1108.09,278.6 1108.34,278.7 1108.59,278.7 1108.84,278.6 1109.09,278.6 1109.34,278.6 1109.59,278.7 1109.84,278.7 1110.09,278.7 1110.34,278.7 1110.59,278.9 1110.84,270.0 1111.09,255.2 1111.32,239.8 1111.34,240.8 1111.59,251.4 1111.84,258.8 1112.09,264.1 1112.34,267.9 1112.59,270.6 1112.84,272.7 1113.09,274.1 1113.34,275.2 1113.59,276.0 1113.84,276.6 1114.09,277.1 1114.34,277.5 1114.59,277.8 1114.84,278.0 1115.09,278.3 1115.34,278.5 1115.59,278.6 1115.84,278.6 1116.09,278.6 1116.34,278.7 1116.59,278.9 1116.84,278.9 1117.09,278.9 1117.34,279.1 1117.59,279.3 1117.84,279.5 1118.09,279.5 1118.34,279.4 1118.59,279.5 1118.84,279.4 1119.09,279.3 1119.34,279.2 1119.59,279.2 1119.84,279.2 1120.09,279.0 1120.34,279.0 1120.59,279.1 1120.84,279.3 1121.09,279.2 1121.34,279.1 1121.59,279.1 1121.84,279.4 1122.09,279.3 1122.34,279.2 1122.59,279.2 1122.84,279.2 1123.09,279.2 1123.34,279.1 1123.59,278.9 1123.84,279.0 1124.09,279.0 1124.34,278.7 1124.59,267.9 1124.84,252.4 1125.03,238.9 1125.09,241.9 1125.34,252.1 1125.59,259.4 1125.84,264.5 1126.09,268.3 1126.34,270.9 1126.59,272.9 1126.84,274.4 1127.09,275.5 1127.34,276.2 1127.59,276.8 1127.84,277.3 1128.09,277.5 1128.34,277.6 1128.59,277.7 1128.84,277.9 1129.09,278.0 1129.34,278.2 1129.59,278.3 1129.84,278.6 1130.09,278.8 1130.34,278.9 1130.59,278.9 1130.84,279.1 1131.09,279.0 1131.34,279.0 1131.59,278.9 1131.84,278.9 1132.09,279.0 1132.34,278.9 1132.59,278.9 1132.84,278.9 1133.09,278.9 1133.34,279.1 1133.59,279.0 1133.84,279.0 1134.09,279.2 1134.34,279.2 1134.59,279.3 1134.84,279.2 1135.09,279.1 1135.34,279.2 1135.59,279.3 1135.84,279.1 1136.09,279.1 1136.34,279.1 1136.59,279.2 1136.84,279.1 1137.09,279.1 1137.34,279.0 1137.59,279.2 1137.84,274.2 1138.09,260.5 1138.34,243.7 1138.40,239.3 1138.59,247.9 1138.84,256.4 1139.09,262.4 1139.34,266.7 1139.59,269.7 1139.84,272.1 1140.09,273.8 1140.34,275.0 1140.59,276.0 1140.84,276.6 1141.09,277.3 1141.34,277.8 1141.59,278.0 1141.84,278.3 1142.09,278.6 1142.34,278.9 1142.59,279.3 1142.84,279.2 1143.09,279.2 1143.34,279.2 1143.59,279.3 1143.84,279.3 1144.09,279.2 1144.34,279.0 1144.59,279.3 1144.84,279.3 1145.09,279.3 1145.34,279.4 1145.59,279.5 1145.84,279.5 1146.09,279.6 1146.34,279.4 1146.59,279.5 1146.84,279.5 1147.09,279.4 1147.34,279.1 1147.59,279.0 1147.84,279.0 1148.09,279.1 1148.34,278.9" stroke-width="1.7"/>
<polyline points="902.34,337.2 902.59,337.1 902.84,337.0 903.09,337.0 903.34,337.0 903.59,337.0 903.84,337.0 904.09,337.0 904.34,337.1 904.59,337.4 904.84,337.4 905.09,337.4 905.34,337.4 905.59,337.3 905.84,337.4 906.09,337.3 906.34,337.2 906.59,337.3 906.84,337.4 907.09,337.2 907.34,337.4 907.59,337.3 907.84,336.7 908.09,324.9 908.34,308.5 908.51,295.8 908.59,299.1 908.84,308.6 909.09,315.4 909.34,320.4 909.59,324.0 909.84,326.7 910.09,328.7 910.34,330.2 910.59,331.5 910.84,332.4 911.09,333.1 911.34,333.6 911.59,334.0 911.84,334.5 912.09,334.9 912.34,335.3 912.59,335.7 912.84,336.1 913.09,336.3 913.34,336.5 913.59,336.6 913.84,336.7 914.09,336.6 914.34,336.5 914.59,336.3 914.84,336.5 915.09,336.5 915.34,336.6 915.59,336.7 915.84,336.8 916.09,337.0 916.34,337.1 916.59,337.1 916.84,337.0 917.09,337.2 917.34,337.3 917.59,337.2 917.84,337.1 918.09,337.0 918.34,336.9 918.59,337.0 918.84,336.8 919.09,336.8 919.34,336.8 919.59,336.8 919.84,336.8 920.09,336.9 920.34,337.0 920.59,337.1 920.84,337.0 921.09,337.0 921.34,337.1 921.59,337.4 921.84,337.2 922.09,337.1 922.34,337.1 922.59,337.3 922.84,337.1 923.09,337.1 923.34,336.7 923.59,337.0 923.84,337.1 924.09,337.0 924.34,335.0 924.59,323.3 924.84,307.6 924.97,298.5 925.09,303.5 925.34,311.9 925.59,317.8 925.84,322.2 926.09,325.4 926.34,327.7 926.59,329.5 926.84,331.0 927.09,332.1 927.34,333.0 927.59,333.7 927.84,334.3 928.09,334.6 928.34,335.1 928.59,335.3 928.84,335.7 929.09,335.9 929.34,336.0 929.59,336.2 929.84,336.6 930.09,336.7 930.34,336.6 930.59,336.5 930.84,336.5 931.09,336.5 931.34,336.7 931.59,336.6 931.84,336.7 932.09,336.9 932.34,336.9 932.59,336.9 932.84,337.0 933.09,337.0 933.34,331.6 933.59,317.5 933.84,300.2 933.89,296.9 934.09,305.4 934.34,313.1 934.59,318.7 934.84,322.8 935.09,325.8 935.34,328.0 935.59,329.5 935.84,330.8 936.09,332.0 936.34,332.7 936.59,333.2 936.84,333.8 937.09,334.3 937.34,334.9 937.59,335.3 937.84,335.6 938.09,335.8 938.34,336.2 938.59,336.4 938.84,336.5 939.09,336.5 939.34,336.5 939.59,336.6 939.84,336.8 940.09,336.8 940.34,336.9 940.59,337.1 940.84,337.0 941.09,337.0 941.34,337.1 941.59,337.0 941.84,337.0 942.09,337.0 942.34,337.1 942.59,337.1 942.84,337.4 943.09,337.2 943.34,337.2 943.59,337.3 943.84,337.3 944.09,337.1 944.34,337.0 944.59,336.8 944.84,336.9 945.09,336.9 945.34,336.9 945.59,336.8 945.84,336.8 946.09,337.0 946.34,337.2 946.59,337.2 946.84,337.3 947.09,337.5 947.34,337.6 947.59,337.7 947.84,337.6 948.09,337.4 948.34,337.3 948.59,337.1 948.84,337.1 949.09,337.0 949.34,337.1 949.59,337.1 949.84,337.1 950.09,337.3 950.34,337.3 950.59,337.2 950.84,337.4 951.09,337.4 951.34,337.5 951.59,337.5 951.84,337.4 952.09,337.6 952.34,337.7 952.59,337.6 952.84,337.6 953.09,337.5 953.34,337.5 953.59,337.4 953.84,337.1 954.09,337.0 954.34,336.8 954.59,336.6 954.84,336.5 955.09,336.8 955.34,336.8 955.59,336.9 955.84,337.0 956.09,337.2 956.34,337.2 956.59,337.3 956.84,337.1 957.09,337.3 957.34,337.3 957.59,335.5 957.84,323.2 958.09,306.9 958.23,296.8 958.34,301.7 958.59,310.5 958.84,316.9 959.09,321.4 959.34,324.8 959.59,327.3 959.84,329.2 960.09,330.5 960.34,331.6 960.59,332.4 960.84,333.1 961.09,333.8 961.34,334.2 961.59,334.7 961.84,335.0 962.09,335.3 962.34,335.5 962.59,335.7 962.84,335.8 963.09,336.0 963.34,336.1 963.59,336.3 963.84,336.4 964.09,336.6 964.34,336.7 964.59,336.7 964.84,336.7 965.09,336.8 965.34,336.8 965.59,336.9 965.84,337.0 966.09,337.1 966.34,337.3 966.59,337.4 966.84,337.4 967.09,337.5 967.34,337.5 967.59,333.2 967.84,318.6 968.09,300.7 968.17,294.4 968.34,302.0 968.59,310.6 968.84,316.8 969.09,321.4 969.34,324.7 969.59,327.2 969.84,329.2 970.09,330.7 970.34,331.8 970.59,332.6 970.84,333.4 971.09,334.0 971.34,334.4 971.59,334.8 971.84,335.2 972.09,335.5 972.34,335.7 972.59,335.9 972.84,336.0 973.09,336.1 973.34,336.2 973.59,336.4 973.84,336.4 974.09,336.7 974.34,336.9 974.59,337.1 974.84,337.3 975.09,337.4 975.34,337.5 975.59,337.6 975.84,337.5 976.09,337.4 976.34,337.2 976.59,337.3 976.84,337.1 977.09,337.0 977.34,336.9 977.59,337.0 977.84,337.0 978.09,336.9 978.34,337.0 978.59,337.0 978.84,337.1 979.09,337.0 979.34,337.1 979.59,337.1 979.84,337.2 980.09,337.1 980.34,337.2 980.59,337.2 980.84,337.1 981.09,337.1 981.34,337.2 981.59,337.3 981.84,337.4 982.09,337.3 982.34,337.2 982.59,337.1 982.84,337.1 983.09,337.0 983.34,337.1 983.59,337.2 983.84,337.2 984.09,337.4 984.34,337.6 984.59,337.6 984.84,337.6 985.09,337.5 985.34,337.5 985.59,337.5 985.84,337.3 986.09,337.4 986.34,337.4 986.59,337.5 986.84,337.4 987.09,337.1 987.34,337.1 987.59,337.1 987.84,337.0 988.09,337.0 988.34,336.9 988.59,337.1 988.84,337.2 989.09,337.1 989.34,337.2 989.59,337.3 989.84,337.3 990.09,337.2 990.34,337.2 990.59,337.1 990.84,337.1 991.09,337.1 991.34,336.8 991.59,336.8 991.84,336.9 992.09,336.8 992.34,336.9 992.59,337.1 992.84,337.1 993.09,337.3 993.34,337.1 993.59,327.5 993.84,312.1 994.06,296.4 994.09,297.9 994.34,307.8 994.59,314.9 994.84,320.0 995.09,323.7 995.34,326.3 995.59,328.3 995.84,330.0 996.09,331.3 996.34,332.3 996.59,333.0 996.84,333.7 997.09,334.3 997.34,334.7 997.59,335.1 997.84,335.3 998.09,335.6 998.34,335.9 998.59,336.1 998.84,336.3 999.09,336.6 999.34,336.5 999.59,336.7 999.84,336.8 1000.09,336.8 1000.34,336.8 1000.59,336.7 1000.84,336.7 1001.09,336.9 1001.34,336.9 1001.59,336.8 1001.84,336.9 1002.09,337.0 1002.34,337.1 1002.59,337.1 1002.84,337.1 1003.09,337.3 1003.34,337.4 1003.59,337.5 1003.84,337.5 1004.09,337.7 1004.34,337.7 1004.59,337.6 1004.84,337.5 1005.09,337.4 1005.34,337.3 1005.59,337.2 1005.84,337.1 1006.09,337.0 1006.34,337.1 1006.59,337.1 1006.84,337.2 1007.09,337.3 1007.34,337.3 1007.59,337.2 1007.84,326.1 1008.09,310.1 1008.29,295.7 1008.34,298.1 1008.59,307.9 1008.84,314.9 1009.09,320.0 1009.34,323.7 1009.59,326.4 1009.84,328.4 1010.09,329.9 1010.34,331.0 1010.59,332.1 1010.84,332.8 1011.09,333.5 1011.34,334.0 1011.59,334.4 1011.84,335.0 1012.09,335.5 1012.34,335.8 1012.59,336.1 1012.84,336.2 1013.09,336.5 1013.34,336.7 1013.59,336.8 1013.84,336.9 1014.09,336.8 1014.34,336.9 1014.59,336.9 1014.84,336.9 1015.09,336.9 1015.34,336.9 1015.59,337.0 1015.84,337.0 1016.09,337.0 1016.34,337.0 1016.59,337.1 1016.84,337.2 1017.09,337.1 1017.34,337.2 1017.59,337.2 1017.84,337.4 1018.09,337.5 1018.34,337.5 1018.59,337.4 1018.84,337.5 1019.09,337.6 1019.34,337.5 1019.59,337.4 1019.84,337.4 1020.09,337.3 1020.34,337.4 1020.59,337.4 1020.84,337.3 1021.09,337.4 1021.34,337.2 1021.59,337.2 1021.84,337.1 1022.09,337.0 1022.34,337.0 1022.59,336.9 1022.84,336.8 1023.09,336.8 1023.34,337.0 1023.59,337.0 1023.84,337.1 1024.09,336.9 1024.34,337.1 1024.59,337.2 1024.84,337.4 1025.09,337.2 1025.34,337.4 1025.59,337.5 1025.84,337.5 1026.09,337.4 1026.34,337.4 1026.59,337.3 1026.84,337.2 1027.09,337.2 1027.34,337.2 1027.59,337.2 1027.84,337.3 1028.09,337.3 1028.34,337.4 1028.59,337.5 1028.84,337.5 1029.09,337.5 1029.34,337.4 1029.59,337.5 1029.84,337.5 1030.09,337.5 1030.34,337.5 1030.59,337.3 1030.84,337.3 1031.09,337.4 1031.34,337.4 1031.59,337.3 1031.84,337.3 1032.09,337.2 1032.34,337.2 1032.59,337.1 1032.84,337.2 1033.09,337.0 1033.34,337.1 1033.59,336.9 1033.84,337.1 1034.09,337.2 1034.34,337.3 1034.59,337.2 1034.84,337.3 1035.09,337.3 1035.34,337.4 1035.59,337.1 1035.84,337.1 1036.09,337.1 1036.34,337.2 1036.59,337.1 1036.84,336.8 1037.09,336.8 1037.34,337.0 1037.59,337.0 1037.84,337.0 1038.09,336.9 1038.34,337.0 1038.59,337.3 1038.84,337.3 1039.09,337.3 1039.34,337.3 1039.59,337.4 1039.84,337.5 1040.09,337.5 1040.34,337.7 1040.59,337.7 1040.84,337.7 1041.09,337.6 1041.34,337.5 1041.59,337.5 1041.84,337.3 1042.09,337.1 1042.34,337.1 1042.59,337.2 1042.84,337.2 1043.09,337.1 1043.34,334.1 1043.59,321.7 1043.84,305.7 1043.94,298.7 1044.09,304.6 1044.34,312.6 1044.59,318.4 1044.84,322.6 1045.09,325.7 1045.34,328.0 1045.59,329.7 1045.84,331.1 1046.09,332.1 1046.34,332.9 1046.59,333.6 1046.84,334.1 1047.09,334.7 1047.34,334.9 1047.59,335.2 1047.84,335.4 1048.09,335.9 1048.34,335.9 1048.59,336.1 1048.84,336.5 1049.09,336.7 1049.34,336.8 1049.59,336.9 1049.84,336.9 1050.09,337.1 1050.34,337.0 1050.59,337.0 1050.84,337.1 1051.09,337.1 1051.34,337.1 1051.59,336.9 1051.84,337.0 1052.09,337.1 1052.34,337.0 1052.59,337.0 1052.84,337.1 1053.09,337.2 1053.34,337.3 1053.59,337.2 1053.84,337.2 1054.09,337.3 1054.34,337.3 1054.59,337.3 1054.84,337.3 1055.09,337.2 1055.34,337.1 1055.59,337.2 1055.84,337.2 1056.09,337.2 1056.34,337.2 1056.59,337.4 1056.84,337.7 1057.09,337.8 1057.34,337.7 1057.59,337.7 1057.84,337.8 1058.09,337.8 1058.34,337.6 1058.59,337.3 1058.84,337.2 1059.09,337.2 1059.34,337.2 1059.59,337.2 1059.84,337.1 1060.09,337.1 1060.34,337.2 1060.59,337.2 1060.84,337.2 1061.09,337.3 1061.34,337.3 1061.59,337.4 1061.84,337.4 1062.09,337.5 1062.34,337.3 1062.59,337.3 1062.84,337.4 1063.09,337.4 1063.34,337.2 1063.59,337.2 1063.84,337.0 1064.09,337.2 1064.34,337.0 1064.59,337.0 1064.84,337.0 1065.09,337.0 1065.34,337.0 1065.59,337.3 1065.84,337.3 1066.09,337.3 1066.34,337.2 1066.59,337.1 1066.84,337.0 1067.09,337.1 1067.34,337.0 1067.59,337.1 1067.84,334.8 1068.09,322.6 1068.34,306.7 1068.46,298.5 1068.59,304.0 1068.84,312.2 1069.09,318.1 1069.34,322.4 1069.59,325.5 1069.84,327.7 1070.09,329.4 1070.34,330.8 1070.59,331.7 1070.84,332.5 1071.09,333.2 1071.34,333.9 1071.59,334.5 1071.84,334.7 1072.09,334.9 1072.34,335.2 1072.59,335.5 1072.84,335.8 1073.09,335.8 1073.34,335.7 1073.59,336.0 1073.84,336.3 1074.09,336.4 1074.34,336.4 1074.59,336.4 1074.84,336.4 1075.09,336.9 1075.34,337.0 1075.59,336.8 1075.84,336.7 1076.09,337.0 1076.34,337.1 1076.59,337.2 1076.84,337.0 1077.09,336.8 1077.34,337.2 1077.59,337.2 1077.84,337.0 1078.09,337.0 1078.34,337.2 1078.59,337.4 1078.84,337.6 1079.09,337.4 1079.34,337.5 1079.59,337.7 1079.84,337.8 1080.09,337.6 1080.34,337.4 1080.59,337.4 1080.84,337.4 1081.09,337.2 1081.34,337.2 1081.59,337.3 1081.84,337.2 1082.09,337.3 1082.34,337.3 1082.59,337.4 1082.84,337.6 1083.09,337.4 1083.34,337.3 1083.59,337.4 1083.84,337.2 1084.09,337.3 1084.34,337.2 1084.59,337.2 1084.84,337.2 1085.09,337.1 1085.34,337.1 1085.59,337.3 1085.84,337.1 1086.09,337.1 1086.34,337.2 1086.59,337.2 1086.84,337.3 1087.09,337.2 1087.34,337.3 1087.59,337.3 1087.84,337.4 1088.09,337.3 1088.34,337.3 1088.59,337.3 1088.84,337.5 1089.09,337.5 1089.34,337.4 1089.59,337.4 1089.84,337.4 1090.09,337.3 1090.34,337.1 1090.59,337.1 1090.84,336.9 1091.09,336.8 1091.34,336.7 1091.59,336.8 1091.84,336.9 1092.09,337.1 1092.34,337.0 1092.59,337.1 1092.84,337.2 1093.09,337.3 1093.34,337.4 1093.59,337.3 1093.84,337.1 1094.09,337.1 1094.34,337.2 1094.59,337.3 1094.84,337.3 1095.09,337.2 1095.34,331.7 1095.59,317.9 1095.84,301.0 1095.89,297.7 1096.09,306.0 1096.34,313.6 1096.59,319.1 1096.84,323.1 1097.09,325.9 1097.34,328.1 1097.59,329.9 1097.84,331.2 1098.09,332.3 1098.34,333.2 1098.59,333.9 1098.84,334.5 1099.09,334.9 1099.34,335.1 1099.59,335.4 1099.84,335.5 1100.09,335.7 1100.34,335.9 1100.59,336.1 1100.84,336.2 1101.09,336.3 1101.34,336.5 1101.59,336.6 1101.84,336.7 1102.09,336.9 1102.34,337.0 1102.59,337.2 1102.84,337.4 1103.09,337.3 1103.34,337.3 1103.59,337.3 1103.84,337.3 1104.09,337.2 1104.34,337.3 1104.59,337.1 1104.84,337.1 1105.09,337.2 1105.34,337.0 1105.59,337.0 1105.84,337.1 1106.09,336.9 1106.34,337.1 1106.59,337.0 1106.84,336.9 1107.09,337.1 1107.34,337.2 1107.59,337.2 1107.84,337.1 1108.09,337.0 1108.34,337.2 1108.59,337.2 1108.84,337.0 1109.09,337.0 1109.34,336.9 1109.59,337.1 1109.84,337.1 1110.09,337.0 1110.34,337.1 1110.59,337.2 1110.84,336.9 1111.09,337.1 1111.34,337.0 1111.59,337.0 1111.84,337.1 1112.09,337.2 1112.34,337.2 1112.59,337.3 1112.84,337.2 1113.09,337.3 1113.34,337.3 1113.59,337.3 1113.84,337.2 1114.09,337.2 1114.34,337.4 1114.59,337.4 1114.84,337.3 1115.09,337.3 1115.34,337.3 1115.59,337.2 1115.84,337.2 1116.09,337.2 1116.34,337.1 1116.59,337.1 1116.84,337.2 1117.09,337.1 1117.34,337.4 1117.59,337.3 1117.84,337.2 1118.09,337.2 1118.34,337.4 1118.59,337.5 1118.84,331.3 1119.09,316.8 1119.34,299.6 1119.37,297.4 1119.59,306.2 1119.84,313.7 1120.09,319.2 1120.34,323.1 1120.59,326.0 1120.84,328.2 1121.09,329.9 1121.34,331.1 1121.59,332.1 1121.84,332.9 1122.09,333.7 1122.34,334.1 1122.59,334.4 1122.84,334.8 1123.09,335.1 1123.34,335.3 1123.59,335.6 1123.84,335.8 1124.09,335.9 1124.34,336.0 1124.59,336.1 1124.84,336.2 1125.09,336.4 1125.34,336.6 1125.59,336.6 1125.84,336.8 1126.09,336.8 1126.34,336.7 1126.59,336.8 1126.84,336.9 1127.09,336.9 1127.34,337.0 1127.59,337.1 1127.84,337.2 1128.09,337.4 1128.34,337.3 1128.59,337.2 1128.84,337.3 1129.09,337.1 1129.34,337.2 1129.59,337.2 1129.84,337.1 1130.09,337.3 1130.34,337.6 1130.59,337.6 1130.84,337.7 1131.09,337.5 1131.34,337.4 1131.59,337.5 1131.84,337.2 1132.09,337.0 1132.34,337.1 1132.59,337.1 1132.84,333.8 1133.09,321.1 1133.34,305.1 1133.43,298.8 1133.59,305.4 1133.84,313.3 1134.09,318.9 1134.34,322.9 1134.59,326.0 1134.84,328.3 1135.09,330.0 1135.34,331.3 1135.59,332.3 1135.84,333.0 1136.09,333.8 1136.34,334.3 1136.59,334.9 1136.84,335.1 1137.09,335.5 1137.34,335.7 1137.59,335.9 1137.84,336.1 1138.09,336.2 1138.34,336.4 1138.59,336.5 1138.84,336.6 1139.09,336.6 1139.34,336.7 1139.59,336.7 1139.84,336.9 1140.09,336.8 1140.34,336.9 1140.59,336.8 1140.84,337.0 1141.09,336.9 1141.34,337.0 1141.59,336.8 1141.84,336.8 1142.09,336.7 1142.34,336.9 1142.59,336.9 1142.84,337.1 1143.09,337.1 1143.34,337.2 1143.59,337.3 1143.84,337.4 1144.09,337.6 1144.34,337.7 1144.59,337.7 1144.84,337.5 1145.09,337.5 1145.34,337.6 1145.59,337.6 1145.84,337.4 1146.09,337.3 1146.34,337.3 1146.59,337.3 1146.84,337.4 1147.09,337.3 1147.34,337.4 1147.59,337.5 1147.84,337.0 1148.09,327.7 1148.34,314.9 1148.52,304.9" stroke-width="1.7"/>
<polyline points="902.34,394.1 902.59,394.1 902.84,394.1 903.09,394.1 903.34,394.0 903.59,393.9 903.84,393.8 904.09,393.7 904.34,393.6 904.59,393.6 904.84,393.6 905.09,393.7 905.34,393.7 905.59,393.8 905.84,393.8 906.09,394.0 906.34,393.9 906.59,393.9 906.84,393.9 907.09,393.8 907.34,393.8 907.59,393.8 907.84,393.9 908.09,394.1 908.34,394.0 908.59,382.1 908.84,365.6 909.03,351.4 909.09,354.6 909.34,365.4 909.59,373.1 909.84,378.6 910.09,382.5 910.34,385.3 910.59,387.2 910.84,388.8 911.09,389.9 911.34,390.8 911.59,391.4 911.84,391.9 912.09,392.1 912.34,392.5 912.59,392.7 912.84,392.8 913.09,392.9 913.34,393.0 913.59,393.1 913.84,393.2 914.09,393.4 914.34,393.5 914.59,393.7 914.84,393.8 915.09,393.6 915.34,393.6 915.59,393.7 915.84,393.6 916.09,393.5 916.34,393.5 916.59,393.5 916.84,393.8 917.09,393.9 917.34,394.0 917.59,394.0 917.84,394.0 918.09,393.8 918.34,393.9 918.59,394.0 918.84,394.0 919.09,394.0 919.34,394.0 919.59,394.1 919.84,394.2 920.09,394.3 920.34,394.3 920.59,394.2 920.84,394.2 921.09,394.2 921.34,394.1 921.59,394.2 921.84,394.1 922.09,393.9 922.34,393.9 922.59,394.0 922.84,394.1 923.09,394.1 923.34,393.9 923.59,393.8 923.84,394.0 924.09,394.1 924.34,392.1 924.59,379.2 924.84,362.7 924.97,353.1 925.09,358.9 925.34,368.5 925.59,375.3 925.84,380.1 926.09,383.7 926.34,386.2 926.59,388.0 926.84,389.3 927.09,390.2 927.34,391.0 927.59,391.5 927.84,392.0 928.09,392.6 928.34,392.8 928.59,393.1 928.84,393.2 929.09,393.2 929.34,393.5 929.59,393.4 929.84,393.4 930.09,393.5 930.34,393.6 930.59,393.9 930.84,393.9 931.09,393.7 931.34,393.9 931.59,393.9 931.84,393.9 932.09,393.9 932.34,393.8 932.59,394.0 932.84,393.9 933.09,393.9 933.34,393.9 933.59,393.9 933.84,393.8 934.09,393.8 934.34,393.6 934.59,393.8 934.84,393.8 935.09,393.8 935.34,393.8 935.59,393.8 935.84,393.7 936.09,393.8 936.34,393.7 936.59,393.6 936.84,393.4 937.09,393.4 937.34,392.6 937.59,380.4 937.84,363.5 938.00,351.3 938.09,356.0 938.34,366.4 938.59,373.8 938.84,379.1 939.09,382.8 939.34,385.4 939.59,387.4 939.84,388.9 940.09,389.8 940.34,390.6 940.59,391.1 940.84,391.7 941.09,392.2 941.34,392.5 941.59,392.7 941.84,393.0 942.09,393.2 942.34,393.3 942.59,393.3 942.84,393.3 943.09,393.3 943.34,393.4 943.59,393.5 943.84,393.5 944.09,393.6 944.34,393.6 944.59,393.7 944.84,393.8 945.09,393.8 945.34,393.8 945.59,393.8 945.84,393.9 946.09,394.0 946.34,394.0 946.59,393.9 946.84,394.2 947.09,394.1 947.34,394.1 947.59,394.3 947.84,394.5 948.09,394.4 948.34,394.5 948.59,394.3 948.84,394.3 949.09,394.3 949.34,394.1 949.59,393.9 949.84,394.0 950.09,393.9 950.34,394.1 950.59,394.0 950.84,394.0 951.09,391.6 951.34,378.0 951.59,360.6 951.71,351.2 951.84,357.4 952.09,367.4 952.34,374.5 952.59,379.5 952.84,383.1 953.09,385.6 953.34,387.6 953.59,389.1 953.84,390.2 954.09,391.0 954.34,391.6 954.59,392.0 954.84,392.5 955.09,392.8 955.34,392.8 955.59,393.0 955.84,393.2 956.09,393.3 956.34,393.3 956.59,393.2 956.84,393.4 957.09,393.5 957.34,393.6 957.59,393.5 957.84,393.4 958.09,393.6 958.34,393.7 958.59,393.7 958.84,393.8 959.09,393.6 959.34,393.7 959.59,393.6 959.84,393.7 960.09,393.7 960.34,393.7 960.59,393.6 960.84,393.7 961.09,393.6 961.34,393.8 961.59,393.8 961.84,393.7 962.09,393.7 962.34,393.8 962.59,393.7 962.84,393.7 963.09,393.8 963.34,393.8 963.59,393.9 963.84,393.8 964.09,384.5 964.34,368.6 964.57,351.4 964.59,352.3 964.84,363.8 965.09,372.0 965.34,377.7 965.59,381.9 965.84,384.8 966.09,387.1 966.34,388.7 966.59,389.9 966.84,390.9 967.09,391.6 967.34,392.1 967.59,392.6 967.84,392.8 968.09,393.0 968.34,393.0 968.59,393.2 968.84,393.3 969.09,393.3 969.34,393.3 969.59,393.6 969.84,393.7 970.09,393.9 970.34,394.0 970.59,393.8 970.84,393.8 971.09,394.0 971.34,393.9 971.59,393.7 971.84,382.7 972.09,366.7 972.29,352.4 972.34,355.0 972.59,365.7 972.84,373.3 973.09,378.7 973.34,382.6 973.59,385.3 973.84,387.3 974.09,388.8 974.34,389.9 974.59,390.8 974.84,391.4 975.09,391.8 975.34,392.4 975.59,392.9 975.84,393.1 976.09,393.4 976.34,393.6 976.59,393.6 976.84,393.7 977.09,393.7 977.34,393.6 977.59,393.5 977.84,393.4 978.09,393.6 978.34,393.6 978.59,393.9 978.84,393.9 979.09,394.1 979.34,394.1 979.59,394.2 979.84,394.3 980.09,394.4 980.34,394.1 980.59,394.0 980.84,393.8 981.09,393.8 981.34,393.7 981.59,393.6 981.84,393.6 982.09,393.6 982.34,393.6 982.59,393.7 982.84,393.7 983.09,393.6 983.34,393.6 983.59,393.7 983.84,393.8 984.09,393.9 984.34,393.8 984.59,393.8 984.84,394.0 985.09,393.9 985.34,393.9 985.59,393.9 985.84,393.7 986.09,393.9 986.34,386.5 986.59,371.1 986.84,352.7 986.86,351.4 987.09,362.4 987.34,371.0 987.59,377.0 987.84,381.4 988.09,384.5 988.34,386.8 988.59,388.5 988.84,389.6 989.09,390.5 989.34,391.2 989.59,391.8 989.84,392.1 990.09,392.6 990.34,392.9 990.59,393.0 990.84,393.1 991.09,393.4 991.34,393.4 991.59,393.6 991.84,393.5 992.09,393.6 992.34,393.8 992.59,393.8 992.84,393.7 993.09,393.7 993.34,393.7 993.59,393.8 993.84,393.7 994.09,393.7 994.34,393.8 994.59,393.7 994.84,393.9 995.09,393.8 995.34,393.7 995.59,393.7 995.84,393.7 996.09,393.6 996.34,393.7 996.59,393.5 996.84,393.7 997.09,393.7 997.34,393.9 997.59,393.8 997.84,393.8 998.09,393.7 998.34,393.8 998.59,393.7 998.84,393.9 999.09,394.0 999.34,394.2 999.59,394.2 999.84,394.2 1000.09,394.2 1000.34,394.3 1000.59,394.1 1000.84,394.1 1001.09,393.9 1001.34,393.8 1001.59,393.8 1001.84,394.1 1002.09,394.1 1002.34,394.1 1002.59,394.0 1002.84,394.0 1003.09,394.2 1003.34,394.2 1003.59,394.1 1003.84,394.0 1004.09,394.0 1004.34,394.1 1004.59,391.1 1004.84,377.3 1005.09,359.8 1005.20,351.4 1005.34,358.4 1005.59,368.1 1005.84,375.0 1006.09,379.9 1006.34,383.3 1006.59,385.9 1006.84,387.8 1007.09,389.2 1007.34,390.3 1007.59,391.0 1007.84,391.8 1008.09,392.3 1008.34,392.6 1008.59,392.9 1008.84,393.0 1009.09,393.3 1009.34,393.5 1009.59,393.5 1009.84,393.7 1010.09,393.8 1010.34,393.9 1010.59,393.9 1010.84,394.0 1011.09,393.9 1011.34,393.9 1011.59,393.9 1011.84,393.8 1012.09,393.8 1012.34,393.9 1012.59,394.0 1012.84,394.1 1013.09,394.2 1013.34,394.1 1013.59,394.2 1013.84,394.3 1014.09,394.2 1014.34,394.1 1014.59,394.1 1014.84,394.0 1015.09,393.9 1015.34,393.8 1015.59,393.8 1015.84,393.9 1016.09,393.8 1016.34,393.8 1016.59,394.0 1016.84,394.1 1017.09,394.1 1017.34,394.0 1017.59,393.9 1017.84,394.1 1018.09,394.1 1018.34,394.0 1018.59,393.9 1018.84,394.1 1019.09,394.1 1019.34,394.1 1019.59,394.0 1019.84,394.0 1020.09,393.8 1020.34,393.8 1020.59,393.7 1020.84,393.8 1021.09,393.6 1021.34,393.7 1021.59,393.6 1021.84,393.7 1022.09,393.6 1022.34,393.5 1022.59,393.6 1022.84,393.8 1023.09,393.7 1023.34,393.8 1023.59,393.7 1023.84,393.7 1024.09,393.9 1024.34,393.8 1024.59,393.0 1024.84,380.8 1025.09,364.1 1025.26,351.4 1025.34,355.6 1025.59,366.2 1025.84,373.6 1026.09,378.9 1026.34,382.8 1026.59,385.5 1026.84,387.5 1027.09,389.0 1027.34,390.1 1027.59,391.0 1027.84,391.7 1028.09,391.8 1028.34,392.3 1028.59,392.6 1028.84,392.7 1029.09,392.8 1029.34,393.0 1029.59,393.2 1029.84,393.4 1030.09,393.3 1030.34,393.4 1030.59,393.5 1030.84,393.6 1031.09,393.5 1031.34,393.2 1031.59,393.3 1031.84,393.4 1032.09,393.3 1032.34,393.2 1032.59,393.3 1032.84,393.3 1033.09,393.7 1033.34,393.6 1033.59,393.7 1033.84,393.9 1034.09,394.0 1034.34,394.1 1034.59,394.2 1034.84,394.0 1035.09,394.0 1035.34,393.9 1035.59,393.8 1035.84,393.7 1036.09,393.6 1036.34,393.6 1036.59,393.7 1036.84,393.5 1037.09,393.7 1037.34,393.8 1037.59,394.0 1037.84,394.0 1038.09,394.1 1038.34,394.0 1038.59,394.2 1038.84,394.2 1039.09,394.0 1039.34,393.9 1039.59,393.8 1039.84,393.7 1040.09,393.8 1040.34,394.0 1040.59,391.1 1040.84,377.8 1041.09,360.9 1041.20,352.6 1041.34,359.4 1041.59,368.9 1041.84,375.6 1042.09,380.3 1042.34,383.8 1042.59,386.2 1042.84,388.0 1043.09,389.3 1043.34,390.3 1043.59,390.9 1043.84,391.6 1044.09,391.9 1044.34,392.4 1044.59,392.5 1044.84,392.6 1045.09,392.9 1045.34,393.1 1045.59,393.3 1045.84,393.4 1046.09,393.5 1046.34,393.6 1046.59,393.7 1046.84,393.7 1047.09,393.7 1047.34,393.6 1047.59,393.6 1047.84,393.7 1048.09,393.9 1048.34,393.9 1048.59,394.0 1048.84,394.1 1049.09,393.8 1049.34,381.9 1049.59,365.4 1049.77,351.9 1049.84,355.3 1050.09,365.9 1050.34,373.5 1050.59,378.8 1050.84,382.7 1051.09,385.4 1051.34,387.5 1051.59,389.0 1051.84,390.1 1052.09,390.9 1052.34,391.7 1052.59,392.2 1052.84,392.8 1053.09,393.1 1053.34,393.3 1053.59,393.3 1053.84,393.5 1054.09,393.3 1054.34,393.3 1054.59,393.2 1054.84,393.2 1055.09,393.5 1055.34,393.4 1055.59,393.6 1055.84,393.7 1056.09,393.6 1056.34,393.6 1056.59,393.7 1056.84,393.5 1057.09,393.6 1057.34,393.5 1057.59,393.6 1057.84,393.7 1058.09,393.7 1058.34,393.8 1058.59,393.9 1058.84,393.9 1059.09,393.9 1059.34,394.0 1059.59,393.9 1059.84,393.9 1060.09,393.8 1060.34,393.8 1060.59,393.8 1060.84,393.8 1061.09,393.6 1061.34,393.6 1061.59,393.4 1061.84,382.5 1062.09,366.4 1062.29,351.9 1062.34,354.6 1062.59,365.4 1062.84,373.1 1063.09,378.6 1063.34,382.5 1063.59,385.3 1063.84,387.5 1064.09,389.2 1064.34,390.3 1064.59,391.1 1064.84,391.7 1065.09,392.3 1065.34,392.8 1065.59,393.1 1065.84,393.5 1066.09,393.8 1066.34,394.1 1066.59,394.0 1066.84,394.0 1067.09,393.9 1067.34,393.8 1067.59,393.6 1067.84,393.7 1068.09,393.9 1068.34,394.0 1068.59,394.0 1068.84,394.0 1069.09,394.0 1069.34,394.1 1069.59,394.0 1069.84,393.9 1070.09,393.9 1070.34,394.1 1070.59,394.3 1070.84,394.3 1071.09,394.4 1071.34,394.3 1071.59,394.3 1071.84,394.3 1072.09,394.1 1072.34,393.9 1072.59,394.0 1072.84,393.9 1073.09,393.9 1073.34,393.9 1073.59,393.9 1073.84,394.0 1074.09,394.2 1074.34,394.1 1074.59,394.1 1074.84,394.2 1075.09,394.2 1075.34,394.0 1075.59,394.0 1075.84,394.0 1076.09,394.0 1076.34,394.1 1076.59,394.1 1076.84,394.1 1077.09,394.0 1077.34,394.0 1077.59,393.9 1077.84,393.6 1078.09,393.5 1078.34,393.4 1078.59,393.4 1078.84,393.6 1079.09,393.6 1079.34,393.6 1079.59,393.8 1079.84,393.8 1080.09,394.1 1080.34,394.0 1080.59,394.0 1080.84,394.0 1081.09,393.9 1081.34,393.8 1081.59,393.9 1081.84,393.9 1082.09,393.9 1082.34,393.8 1082.59,393.8 1082.84,393.7 1083.09,393.7 1083.34,393.6 1083.59,393.7 1083.84,393.8 1084.09,393.8 1084.34,393.8 1084.59,394.1 1084.84,394.0 1085.09,394.0 1085.34,394.0 1085.59,394.0 1085.84,394.1 1086.09,387.8 1086.34,373.1 1086.59,355.2 1086.63,352.2 1086.84,362.1 1087.09,370.8 1087.34,376.9 1087.59,381.3 1087.84,384.6 1088.09,386.8 1088.34,388.5 1088.59,389.7 1088.84,390.6 1089.09,391.5 1089.34,392.0 1089.59,392.5 1089.84,393.0 1090.09,393.3 1090.34,393.5 1090.59,393.4 1090.84,393.5 1091.09,393.7 1091.34,393.7 1091.59,393.7 1091.84,393.8 1092.09,394.0 1092.34,394.0 1092.59,394.0 1092.84,393.9 1093.09,394.0 1093.34,394.1 1093.59,394.0 1093.84,393.9 1094.09,394.1 1094.34,394.1 1094.59,394.0 1094.84,393.8 1095.09,393.6 1095.34,393.7 1095.59,393.6 1095.84,393.4 1096.09,393.4 1096.34,393.5 1096.59,393.6 1096.84,393.7 1097.09,393.8 1097.34,393.8 1097.59,394.0 1097.84,393.9 1098.09,393.9 1098.34,393.8 1098.59,393.8 1098.84,393.6 1099.09,393.7 1099.34,393.8 1099.59,394.0 1099.84,393.9 1100.09,393.9 1100.34,394.0 1100.59,394.2 1100.84,394.1 1101.09,394.1 1101.34,393.9 1101.59,394.0 1101.84,394.1 1102.09,393.9 1102.34,393.9 1102.59,393.9 1102.84,393.9 1103.09,393.9 1103.34,393.8 1103.59,393.9 1103.84,394.0 1104.09,393.9 1104.34,394.0 1104.59,393.9 1104.84,393.8 1105.09,393.8 1105.34,393.7 1105.59,393.8 1105.84,393.8 1106.09,393.7 1106.34,393.8 1106.59,393.8 1106.84,393.9 1107.09,394.0 1107.34,393.9 1107.59,394.1 1107.84,394.0 1108.09,394.1 1108.34,394.2 1108.59,394.2 1108.84,394.2 1109.09,394.1 1109.34,394.1 1109.59,394.1 1109.84,394.0 1110.09,394.1 1110.34,394.1 1110.59,394.1 1110.84,393.9 1111.09,393.8 1111.34,393.9 1111.59,393.8 1111.84,393.7 1112.09,393.7 1112.34,393.7 1112.59,393.7 1112.84,393.7 1113.09,393.6 1113.34,393.7 1113.59,393.8 1113.84,393.7 1114.09,393.8 1114.34,394.0 1114.59,394.2 1114.84,394.2 1115.09,394.0 1115.34,393.9 1115.59,393.9 1115.84,393.7 1116.09,393.7 1116.34,383.7 1116.59,368.3 1116.80,353.1 1116.84,355.0 1117.09,365.8 1117.34,373.4 1117.59,378.8 1117.84,382.6 1118.09,385.4 1118.34,387.5 1118.59,389.1 1118.84,390.4 1119.09,391.3 1119.34,391.9 1119.59,392.4 1119.84,392.7 1120.09,393.0 1120.34,393.0 1120.59,393.1 1120.84,393.0 1121.09,393.3 1121.34,393.4 1121.59,393.6 1121.84,393.7 1122.09,393.7 1122.34,393.8 1122.59,393.9 1122.84,393.8 1123.09,393.8 1123.34,393.8 1123.59,393.7 1123.84,393.8 1124.09,393.8 1124.34,393.9 1124.59,393.9 1124.84,393.9 1125.09,394.0 1125.34,394.1 1125.59,394.0 1125.84,394.0 1126.09,394.0 1126.34,394.0 1126.59,393.7 1126.84,393.8 1127.09,393.7 1127.34,393.8 1127.59,393.9 1127.84,393.8 1128.09,393.8 1128.34,393.9 1128.59,393.8 1128.84,393.9 1129.09,393.9 1129.34,393.8 1129.59,393.8 1129.84,393.7 1130.09,393.8 1130.34,393.7 1130.59,393.7 1130.84,393.7 1131.09,393.6 1131.34,393.6 1131.59,393.7 1131.84,393.6 1132.09,393.8 1132.34,393.6 1132.59,385.5 1132.84,370.4 1133.09,352.7 1133.34,364.1 1133.59,372.2 1133.84,377.9 1134.09,382.0 1134.34,384.9 1134.59,387.1 1134.84,388.7 1135.09,389.8 1135.34,390.7 1135.59,391.5 1135.84,392.1 1136.09,392.6 1136.34,392.9 1136.59,393.1 1136.84,393.4 1137.09,393.6 1137.34,393.7 1137.59,393.9 1137.84,394.0 1138.09,394.1 1138.34,394.2 1138.59,394.2 1138.84,394.2 1139.09,394.2 1139.34,394.1 1139.59,394.1 1139.84,393.8 1140.09,393.9 1140.34,394.0 1140.59,394.0 1140.84,394.0 1141.09,394.1 1141.34,394.1 1141.59,394.5 1141.84,394.4 1142.09,394.2 1142.34,394.2 1142.59,394.3 1142.84,394.2 1143.09,394.0 1143.34,393.8 1143.59,393.9 1143.84,394.1 1144.09,394.0 1144.34,393.9 1144.59,394.0 1144.84,394.0 1145.09,394.0 1145.34,394.1 1145.59,394.0 1145.84,394.0 1146.09,393.9 1146.34,394.0 1146.59,393.9 1146.84,393.9 1147.09,393.8 1147.34,393.7 1147.59,393.6 1147.84,393.1 1148.09,381.3 1148.34,364.6 1148.52,351.5" stroke-width="1.7"/>
<polyline points="1183.86,116.2 1184.11,116.1 1184.36,116.1 1184.61,116.0 1184.86,116.0 1185.11,116.0 1185.36,115.9 1185.61,115.9 1185.86,115.9 1186.11,116.0 1186.36,116.1 1186.61,116.2 1186.86,116.2 1187.11,116.2 1187.36,116.2 1187.61,116.0 1187.86,115.9 1188.11,116.0 1188.36,115.8 1188.61,115.8 1188.86,116.0 1189.11,116.0 1189.36,116.3 1189.61,116.3 1189.86,116.3 1190.11,116.4 1190.36,116.4 1190.61,116.2 1190.86,116.1 1191.11,115.8 1191.36,115.9 1191.61,115.9 1191.86,115.9 1192.11,115.8 1192.36,116.0 1192.61,107.6 1192.86,91.5 1193.11,72.1 1193.36,83.9 1193.61,92.6 1193.86,98.9 1194.11,103.3 1194.36,106.4 1194.61,108.7 1194.86,110.5 1195.11,111.7 1195.36,112.7 1195.61,113.3 1195.86,113.9 1196.11,114.4 1196.36,114.7 1196.61,115.1 1196.86,115.3 1197.11,105.3 1197.36,88.5 1197.57,72.1 1197.61,74.1 1197.86,85.7 1198.11,94.0 1198.36,99.8 1198.61,104.0 1198.86,107.0 1199.11,109.3 1199.36,110.9 1199.61,111.9 1199.86,112.7 1200.11,113.4 1200.36,114.0 1200.61,114.6 1200.86,114.7 1201.11,115.2 1201.36,115.5 1201.61,115.8 1201.86,115.9 1202.11,115.9 1202.36,116.1 1202.61,116.2 1202.86,116.1 1203.11,116.1 1203.36,116.2 1203.61,116.2 1203.86,116.3 1204.11,116.2 1204.36,116.2 1204.61,116.1 1204.86,116.2 1205.11,116.2 1205.36,116.1 1205.61,116.1 1205.86,116.1 1206.11,116.2 1206.36,116.2 1206.61,116.2 1206.86,116.1 1207.11,116.2 1207.36,116.2 1207.61,116.2 1207.86,116.1 1208.11,116.1 1208.36,116.2 1208.61,116.2 1208.86,116.1 1209.11,116.1 1209.36,116.2 1209.61,116.0 1209.86,115.9 1210.11,115.9 1210.36,116.0 1210.61,115.9 1210.86,116.0 1211.11,115.9 1211.36,116.0 1211.61,116.0 1211.86,116.1 1212.11,116.3 1212.36,105.6 1212.61,88.7 1212.83,71.5 1212.86,73.2 1213.11,85.1 1213.36,93.5 1213.61,99.5 1213.86,103.8 1214.11,106.9 1214.36,109.2 1214.61,111.0 1214.86,112.3 1215.11,113.2 1215.36,113.8 1215.61,114.4 1215.86,114.9 1216.11,115.2 1216.36,115.4 1216.61,115.5 1216.86,115.6 1217.11,115.8 1217.36,115.8 1217.61,115.9 1217.86,116.0 1218.11,116.0 1218.36,116.2 1218.61,116.3 1218.86,116.3 1219.11,116.4 1219.36,116.4 1219.61,116.5 1219.86,116.4 1220.11,116.3 1220.36,116.1 1220.61,116.3 1220.86,116.2 1221.11,116.2 1221.36,116.0 1221.61,116.0 1221.86,115.9 1222.11,116.0 1222.36,115.9 1222.61,115.8 1222.86,115.9 1223.11,115.9 1223.36,115.9 1223.61,116.0 1223.86,116.2 1224.11,116.2 1224.36,116.1 1224.61,116.1 1224.86,116.2 1225.11,116.1 1225.36,116.2 1225.61,116.2 1225.86,116.2 1226.11,116.3 1226.36,109.2 1226.61,93.3 1226.86,74.4 1226.89,72.6 1227.11,83.4 1227.36,92.3 1227.61,98.6 1227.86,103.2 1228.11,106.5 1228.36,109.1 1228.61,110.8 1228.86,112.2 1229.11,113.2 1229.36,113.8 1229.61,114.3 1229.86,114.6 1230.11,114.7 1230.36,115.0 1230.61,115.2 1230.86,115.4 1231.11,115.5 1231.36,115.5 1231.61,115.7 1231.86,115.9 1232.11,115.7 1232.36,116.0 1232.61,116.0 1232.86,115.9 1233.11,116.0 1233.36,116.1 1233.61,116.2 1233.86,116.7 1234.11,116.6 1234.36,116.4 1234.61,116.5 1234.86,116.6 1235.11,116.5 1235.36,116.4 1235.61,116.1 1235.86,116.2 1236.11,116.3 1236.36,116.5 1236.61,116.3 1236.86,116.2 1237.11,116.2 1237.36,116.3 1237.61,116.2 1237.86,116.2 1238.11,115.9 1238.36,115.9 1238.61,116.0 1238.86,116.0 1239.11,115.9 1239.36,116.0 1239.61,116.0 1239.86,116.0 1240.11,116.3 1240.36,116.2 1240.61,116.3 1240.86,116.3 1241.11,108.7 1241.36,92.7 1241.61,73.7 1241.63,72.2 1241.86,83.6 1242.11,92.4 1242.36,98.7 1242.61,103.2 1242.86,106.4 1243.11,108.8 1243.36,110.5 1243.61,111.9 1243.86,112.9 1244.11,113.7 1244.36,114.2 1244.61,114.7 1244.86,115.1 1245.11,115.4 1245.36,115.4 1245.61,115.4 1245.86,115.7 1246.11,115.9 1246.36,116.1 1246.61,116.2 1246.86,116.1 1247.11,116.2 1247.36,116.3 1247.61,116.0 1247.86,116.0 1248.11,116.1 1248.36,116.1 1248.61,116.1 1248.86,116.0 1249.11,116.3 1249.36,116.4 1249.61,116.5 1249.86,116.5 1250.11,116.5 1250.36,116.3 1250.61,116.5 1250.86,116.1 1251.11,116.2 1251.36,116.2 1251.61,116.1 1251.86,116.3 1252.11,116.6 1252.36,116.5 1252.61,116.6 1252.86,116.6 1253.11,116.6 1253.36,116.5 1253.61,116.3 1253.86,116.1 1254.11,116.1 1254.36,116.0 1254.61,115.9 1254.86,115.9 1255.11,116.1 1255.36,116.1 1255.61,116.2 1255.86,116.3 1256.11,116.5 1256.36,116.5 1256.61,116.4 1256.86,116.2 1257.11,116.1 1257.36,116.2 1257.61,116.2 1257.86,116.3 1258.11,116.3 1258.36,116.5 1258.61,116.5 1258.86,116.6 1259.11,116.5 1259.36,116.3 1259.61,116.3 1259.86,116.2 1260.11,116.2 1260.36,116.3 1260.61,116.2 1260.86,116.3 1261.11,116.2 1261.36,116.2 1261.61,116.1 1261.86,116.1 1262.11,116.2 1262.36,116.2 1262.61,115.9 1262.86,116.0 1263.11,116.1 1263.36,116.3 1263.61,116.2 1263.86,116.2 1264.11,116.2 1264.36,116.4 1264.61,116.6 1264.86,112.8 1265.11,97.6 1265.36,78.8 1265.46,70.9 1265.61,79.0 1265.86,89.1 1266.11,96.4 1266.36,101.5 1266.61,105.1 1266.86,107.9 1267.11,109.7 1267.36,111.1 1267.61,112.2 1267.86,112.9 1268.11,113.6 1268.36,114.1 1268.61,114.3 1268.86,114.8 1269.11,115.2 1269.36,115.4 1269.61,115.6 1269.86,115.8 1270.11,115.9 1270.36,116.0 1270.61,115.9 1270.86,115.8 1271.11,115.8 1271.36,115.9 1271.61,115.8 1271.86,116.0 1272.11,116.0 1272.36,116.1 1272.61,116.3 1272.86,116.5 1273.11,116.6 1273.36,116.6 1273.61,116.4 1273.86,116.5 1274.11,116.4 1274.36,116.3 1274.61,116.2 1274.86,116.2 1275.11,116.3 1275.36,116.4 1275.61,116.1 1275.86,116.1 1276.11,116.0 1276.36,115.9 1276.61,115.9 1276.86,115.9 1277.11,115.8 1277.36,116.1 1277.61,116.2 1277.86,116.2 1278.11,116.1 1278.36,116.3 1278.61,116.3 1278.86,116.4 1279.11,116.3 1279.36,116.3 1279.61,116.2 1279.86,116.4 1280.11,113.0 1280.36,98.9 1280.61,81.0 1280.71,73.1 1280.86,80.2 1281.11,90.1 1281.36,97.0 1281.61,102.0 1281.86,105.6 1282.11,108.2 1282.36,110.2 1282.61,111.5 1282.86,112.7 1283.11,113.5 1283.36,114.1 1283.61,114.5 1283.86,114.8 1284.11,115.0 1284.36,115.1 1284.61,115.4 1284.86,115.6 1285.11,115.7 1285.36,115.7 1285.61,116.0 1285.86,116.0 1286.11,116.2 1286.36,116.3 1286.61,116.1 1286.86,116.1 1287.11,116.1 1287.36,115.9 1287.61,116.0 1287.86,116.0 1288.11,116.1 1288.36,116.3 1288.61,116.2 1288.86,116.3 1289.11,116.4 1289.36,116.5 1289.61,116.3 1289.86,116.0 1290.11,115.7 1290.36,115.9 1290.61,115.8 1290.86,115.9 1291.11,115.9 1291.36,116.0 1291.61,116.2 1291.86,116.4 1292.11,116.3 1292.36,116.4 1292.61,116.3 1292.86,116.3 1293.11,116.2 1293.36,116.2 1293.61,116.2 1293.86,116.1 1294.11,116.1 1294.36,116.1 1294.61,116.0 1294.86,116.1 1295.11,116.1 1295.36,116.1 1295.61,116.1 1295.86,116.2 1296.11,110.0 1296.36,94.1 1296.61,74.7 1296.66,70.9 1296.86,81.3 1297.11,90.8 1297.36,97.5 1297.61,102.4 1297.86,105.9 1298.11,108.5 1298.36,110.5 1298.61,111.9 1298.86,112.9 1299.11,113.6 1299.36,114.1 1299.61,114.6 1299.86,114.8 1300.11,114.8 1300.36,114.9 1300.61,115.1 1300.86,115.3 1301.11,115.3 1301.36,115.4 1301.61,115.7 1301.86,115.8 1302.11,116.0 1302.36,116.0 1302.61,116.1 1302.86,116.1 1303.11,115.9 1303.36,115.9 1303.61,115.8 1303.86,115.9 1304.11,115.9 1304.36,116.0 1304.61,116.1 1304.86,116.2 1305.11,116.2 1305.36,116.4 1305.61,116.4 1305.86,116.4 1306.11,116.4 1306.36,116.5 1306.61,116.5 1306.86,116.5 1307.11,116.3 1307.36,116.3 1307.61,116.3 1307.86,116.3 1308.11,116.3 1308.36,116.3 1308.61,116.4 1308.86,115.1 1309.11,101.7 1309.36,83.9 1309.52,71.8 1309.61,76.7 1309.86,87.6 1310.11,95.3 1310.36,100.7 1310.61,104.7 1310.86,107.5 1311.11,109.6 1311.36,111.2 1311.61,112.5 1311.86,113.4 1312.11,114.0 1312.36,114.6 1312.61,115.0 1312.86,115.4 1313.11,115.5 1313.36,115.6 1313.61,115.7 1313.86,115.6 1314.11,115.6 1314.36,115.7 1314.61,115.6 1314.86,115.6 1315.11,115.7 1315.36,115.8 1315.61,116.0 1315.86,116.1 1316.11,116.0 1316.36,116.1 1316.61,116.1 1316.86,116.0 1317.11,115.9 1317.36,115.9 1317.61,116.0 1317.86,116.2 1318.11,116.1 1318.36,116.2 1318.61,116.3 1318.86,116.4 1319.11,116.5 1319.36,116.6 1319.61,116.5 1319.86,116.6 1320.11,116.5 1320.36,116.4 1320.61,116.2 1320.86,116.1 1321.11,116.0 1321.36,116.2 1321.61,116.2 1321.86,116.5 1322.11,116.4 1322.36,116.7 1322.61,116.4 1322.86,116.2 1323.11,116.0 1323.36,116.1 1323.61,114.3 1323.86,101.2 1324.11,83.3 1324.26,71.6 1324.36,77.0 1324.61,87.8 1324.86,95.4 1325.11,100.8 1325.36,104.8 1325.61,107.6 1325.86,109.7 1326.11,111.2 1326.36,112.4 1326.61,113.3 1326.86,113.8 1327.11,114.3 1327.36,114.8 1327.61,115.1 1327.86,115.2 1328.11,115.4 1328.36,115.5 1328.61,115.8 1328.86,115.8 1329.11,115.9 1329.36,115.9 1329.61,116.0 1329.86,116.0 1330.11,116.1 1330.36,116.1 1330.61,116.3 1330.86,116.1 1331.11,116.2 1331.36,116.4 1331.61,116.3 1331.86,116.4 1332.11,116.4 1332.36,116.3 1332.61,116.4 1332.86,116.3 1333.11,116.0 1333.36,116.1 1333.61,115.8 1333.86,115.9 1334.11,115.9 1334.36,115.9 1334.61,116.1 1334.86,116.3 1335.11,116.2 1335.36,116.4 1335.61,116.4 1335.86,116.3 1336.11,116.4 1336.36,116.4 1336.61,116.3 1336.86,112.7 1337.11,98.2 1337.36,80.0 1337.46,72.2 1337.61,80.0 1337.86,89.9 1338.11,96.9 1338.36,101.9 1338.61,105.6 1338.86,108.3 1339.11,110.2 1339.36,111.5 1339.61,112.5 1339.86,113.2 1340.11,113.7 1340.36,114.0 1340.61,114.4 1340.86,114.6 1341.11,115.1 1341.36,115.4 1341.61,115.6 1341.86,115.7 1342.11,115.9 1342.36,115.8 1342.61,115.7 1342.86,115.7 1343.11,115.6 1343.36,115.6 1343.61,115.6 1343.86,115.6 1344.11,115.8 1344.36,115.9 1344.61,115.9 1344.86,116.1 1345.11,116.1 1345.36,116.0 1345.61,116.0 1345.86,115.9 1346.11,115.8 1346.36,115.7 1346.61,115.7 1346.86,115.8 1347.11,116.0 1347.36,116.0 1347.61,116.0 1347.86,115.9 1348.11,115.9 1348.36,116.1 1348.61,116.0 1348.86,115.8 1349.11,115.8 1349.36,103.8 1349.61,86.5 1349.80,71.3 1349.86,74.5 1350.11,86.0 1350.36,94.2 1350.61,99.9 1350.86,104.2 1351.11,107.2 1351.36,109.5 1351.61,111.1 1351.86,112.3 1352.11,113.2 1352.36,113.9 1352.61,114.4 1352.86,114.7 1353.11,114.9 1353.36,115.2 1353.61,115.5 1353.86,115.7 1354.11,115.8 1354.36,115.9 1354.61,115.9 1354.86,115.9 1355.11,116.0 1355.36,116.1 1355.61,116.0 1355.86,116.0 1356.11,116.1 1356.36,116.1 1356.61,116.3 1356.86,116.2 1357.11,116.2 1357.36,116.3 1357.61,116.5 1357.86,116.6 1358.11,116.7 1358.36,116.7 1358.61,116.7 1358.86,116.4 1359.11,116.5 1359.36,116.2 1359.61,116.1 1359.86,116.1 1360.11,116.2 1360.36,116.3 1360.61,116.5 1360.86,116.5 1361.11,116.5 1361.36,116.5 1361.61,116.6 1361.86,116.3 1362.11,116.1 1362.36,114.3 1362.61,100.8 1362.86,83.0 1363.00,71.8 1363.11,77.6 1363.36,88.2 1363.61,95.7 1363.86,101.1 1364.11,104.9 1364.36,107.7 1364.61,109.7 1364.86,111.3 1365.11,112.6 1365.36,113.3 1365.61,114.1 1365.86,114.3 1366.11,114.8 1366.36,115.1 1366.61,115.2 1366.86,115.4 1367.11,115.3 1367.36,115.6 1367.61,115.9 1367.86,115.9 1368.11,116.0 1368.36,116.2 1368.61,116.2 1368.86,116.4 1369.11,116.3 1369.36,116.2 1369.61,116.3 1369.86,116.2 1370.11,116.2 1370.36,116.2 1370.61,116.2 1370.86,116.3 1371.11,116.4 1371.36,116.4 1371.61,116.4 1371.86,116.3 1372.11,116.3 1372.36,116.3 1372.61,116.1 1372.86,116.1 1373.11,116.1 1373.36,116.2 1373.61,116.2 1373.86,116.2 1374.11,116.1 1374.36,116.2 1374.61,110.8 1374.86,96.0 1375.11,77.7 1375.17,72.9 1375.36,82.1 1375.61,91.4 1375.86,98.0 1376.11,102.7 1376.36,106.1 1376.61,108.6 1376.86,110.4 1377.11,111.5 1377.36,112.5 1377.61,113.1 1377.86,113.7 1378.11,114.2 1378.36,114.5 1378.61,114.8 1378.86,115.0 1379.11,115.3 1379.36,115.6 1379.61,115.9 1379.86,115.8 1380.11,115.9 1380.36,115.9 1380.61,116.0 1380.86,115.9 1381.11,116.0 1381.36,116.0 1381.61,116.0 1381.86,115.9 1382.11,116.1 1382.36,116.1 1382.61,116.2 1382.86,116.2 1383.11,116.3 1383.36,116.4 1383.61,116.4 1383.86,116.2 1384.11,116.1 1384.36,115.9 1384.61,115.8 1384.86,115.8 1385.11,115.8 1385.36,116.0 1385.61,116.1 1385.86,116.2 1386.11,116.5 1386.36,116.5 1386.61,116.4 1386.86,116.5 1387.11,116.4 1387.36,116.3 1387.61,112.5 1387.86,97.7 1388.11,79.5 1388.20,72.3 1388.36,80.4 1388.61,90.2 1388.86,97.1 1389.11,102.1 1389.36,105.7 1389.61,108.2 1389.86,110.1 1390.11,111.5 1390.36,112.5 1390.61,113.2 1390.86,113.9 1391.11,114.4 1391.36,114.8 1391.61,114.9 1391.86,115.1 1392.11,115.2 1392.36,115.4 1392.61,115.4 1392.86,115.4 1393.11,115.5 1393.36,115.7 1393.61,116.1 1393.86,116.2 1394.11,116.3 1394.36,116.2 1394.61,116.2 1394.86,116.2 1395.11,116.4 1395.36,116.1 1395.61,116.0 1395.86,115.9 1396.11,116.0 1396.36,116.1 1396.61,116.1 1396.86,116.1 1397.11,116.2 1397.36,116.3 1397.61,116.5 1397.86,116.5 1398.11,116.6 1398.36,116.6 1398.61,116.6 1398.86,116.5 1399.11,116.5 1399.36,116.3 1399.61,116.1 1399.86,116.0 1400.11,116.0 1400.36,115.8 1400.61,115.7 1400.86,115.7 1401.11,105.4 1401.36,88.8 1401.57,72.5 1401.61,74.4 1401.86,86.0 1402.11,94.1 1402.36,99.9 1402.61,104.1 1402.86,107.1 1403.11,109.4 1403.36,111.1 1403.61,112.3 1403.86,113.1 1404.11,113.8 1404.36,114.2 1404.61,114.5 1404.86,114.7 1405.11,114.9 1405.36,115.2 1405.61,115.3 1405.86,115.5 1406.11,115.6 1406.36,115.7 1406.61,115.8 1406.86,116.1 1407.11,116.0 1407.36,116.2 1407.61,116.2 1407.86,116.2 1408.11,116.2 1408.36,116.2 1408.61,116.1 1408.86,116.2 1409.11,116.2 1409.36,116.2 1409.61,116.2 1409.86,116.1 1410.11,116.2 1410.36,116.1 1410.61,116.0 1410.86,116.1 1411.11,116.2 1411.36,116.4 1411.61,116.5 1411.86,116.6 1412.11,116.8 1412.36,116.7 1412.61,116.7 1412.86,116.5 1413.11,116.3 1413.36,116.4 1413.61,116.2 1413.86,116.0 1414.11,106.8 1414.36,90.5 1414.60,71.7 1414.61,72.1 1414.86,84.3 1415.11,92.9 1415.36,99.1 1415.61,103.4 1415.86,106.5 1416.11,108.8 1416.36,110.6 1416.61,111.8" stroke-width="1.7"/>
<polyline points="1183.86,173.1 1184.11,173.2 1184.36,173.1 1184.61,173.0 1184.86,173.1 1185.11,173.1 1185.36,172.9 1185.61,173.0 1185.86,173.1 1186.11,173.0 1186.36,173.1 1186.61,173.0 1186.86,173.0 1187.11,172.8 1187.36,172.7 1187.61,172.7 1187.86,172.7 1188.11,172.8 1188.36,173.0 1188.61,173.0 1188.86,173.2 1189.11,173.2 1189.36,173.1 1189.61,173.2 1189.86,173.1 1190.11,173.0 1190.36,172.9 1190.61,173.0 1190.86,172.9 1191.11,173.0 1191.36,172.9 1191.61,172.9 1191.86,172.9 1192.11,172.9 1192.36,172.8 1192.61,172.9 1192.86,172.9 1193.11,173.1 1193.36,173.1 1193.61,173.1 1193.86,173.2 1194.11,173.2 1194.36,173.3 1194.61,173.2 1194.86,173.0 1195.11,168.9 1195.36,156.0 1195.61,139.9 1195.69,134.8 1195.86,142.4 1196.11,150.8 1196.36,156.7 1196.61,160.9 1196.86,164.0 1197.11,166.2 1197.36,167.9 1197.61,169.1 1197.86,170.0 1198.11,170.6 1198.36,171.3 1198.61,171.8 1198.86,172.0 1199.11,172.4 1199.36,172.4 1199.61,172.5 1199.86,172.7 1200.11,172.8 1200.36,173.0 1200.61,173.1 1200.86,173.0 1201.11,173.3 1201.36,173.2 1201.61,173.2 1201.86,172.9 1202.11,172.8 1202.36,173.0 1202.61,172.9 1202.86,172.9 1203.11,173.1 1203.36,173.0 1203.61,173.1 1203.86,173.1 1204.11,173.0 1204.36,173.2 1204.61,173.1 1204.86,173.2 1205.11,173.2 1205.36,173.4 1205.61,173.5 1205.86,173.4 1206.11,173.4 1206.36,173.4 1206.61,173.5 1206.86,173.5 1207.11,173.4 1207.36,173.4 1207.61,173.4 1207.86,173.3 1208.11,173.2 1208.36,173.1 1208.61,173.1 1208.86,173.1 1209.11,173.1 1209.36,173.0 1209.61,173.0 1209.86,173.1 1210.11,172.9 1210.36,172.9 1210.61,172.9 1210.86,172.8 1211.11,173.0 1211.36,173.0 1211.61,173.1 1211.86,173.1 1212.11,173.2 1212.36,173.2 1212.61,173.4 1212.86,173.4 1213.11,173.4 1213.36,173.5 1213.61,173.7 1213.86,173.5 1214.11,173.5 1214.36,173.3 1214.61,173.2 1214.86,173.0 1215.11,172.8 1215.36,172.6 1215.61,172.8 1215.86,172.7 1216.11,172.8 1216.36,172.7 1216.61,172.9 1216.86,173.0 1217.11,173.0 1217.36,172.9 1217.61,173.0 1217.86,173.1 1218.11,173.2 1218.36,173.1 1218.61,173.0 1218.86,173.2 1219.11,173.4 1219.36,173.4 1219.61,173.3 1219.86,173.3 1220.11,173.4 1220.36,173.5 1220.61,173.4 1220.86,173.3 1221.11,173.2 1221.36,173.0 1221.61,173.0 1221.86,172.9 1222.11,172.9 1222.36,172.8 1222.61,172.5 1222.86,172.5 1223.11,172.6 1223.36,172.6 1223.61,172.5 1223.86,172.6 1224.11,172.6 1224.36,172.9 1224.61,173.0 1224.86,173.1 1225.11,173.2 1225.36,172.6 1225.61,161.4 1225.86,146.2 1226.03,134.7 1226.11,138.5 1226.36,148.0 1226.61,154.8 1226.86,159.6 1227.11,163.0 1227.36,165.4 1227.61,167.3 1227.86,168.6 1228.11,169.6 1228.36,170.5 1228.61,171.0 1228.86,171.4 1229.11,171.9 1229.36,172.2 1229.61,172.4 1229.86,172.6 1230.11,172.8 1230.36,173.0 1230.61,173.1 1230.86,173.0 1231.11,173.1 1231.36,173.2 1231.61,173.2 1231.86,173.2 1232.11,173.3 1232.36,173.2 1232.61,173.4 1232.86,173.2 1233.11,173.2 1233.36,173.3 1233.61,173.3 1233.86,173.2 1234.11,173.2 1234.36,173.1 1234.61,173.1 1234.86,173.2 1235.11,173.1 1235.36,173.0 1235.61,172.9 1235.86,172.9 1236.11,172.9 1236.36,172.9 1236.61,172.8 1236.86,172.8 1237.11,172.7 1237.36,172.8 1237.61,172.8 1237.86,172.8 1238.11,172.8 1238.36,172.9 1238.61,173.0 1238.86,173.1 1239.11,173.1 1239.36,173.1 1239.61,173.1 1239.86,173.2 1240.11,173.2 1240.36,173.4 1240.61,173.4 1240.86,173.4 1241.11,173.5 1241.36,173.4 1241.61,173.4 1241.86,173.4 1242.11,173.2 1242.36,173.2 1242.61,173.2 1242.86,173.0 1243.11,173.2 1243.36,173.1 1243.61,173.0 1243.86,173.1 1244.11,173.0 1244.36,173.2 1244.61,173.3 1244.86,167.4 1245.11,153.7 1245.36,137.1 1245.40,134.3 1245.61,143.5 1245.86,151.6 1246.11,157.3 1246.36,161.4 1246.61,164.4 1246.86,166.5 1247.11,168.1 1247.36,169.2 1247.61,170.0 1247.86,170.5 1248.11,171.1 1248.36,171.5 1248.61,172.0 1248.86,172.2 1249.11,172.3 1249.36,172.6 1249.61,172.9 1249.86,172.9 1250.11,172.9 1250.36,173.0 1250.61,173.0 1250.86,173.1 1251.11,173.1 1251.36,173.2 1251.61,173.2 1251.86,173.1 1252.11,173.1 1252.36,173.2 1252.61,173.1 1252.86,173.1 1253.11,172.9 1253.36,172.9 1253.61,172.9 1253.86,173.0 1254.11,173.0 1254.36,173.1 1254.61,173.1 1254.86,173.2 1255.11,173.1 1255.36,173.0 1255.61,172.9 1255.86,172.7 1256.11,172.6 1256.36,172.7 1256.61,172.8 1256.86,172.7 1257.11,172.9 1257.36,173.1 1257.61,173.1 1257.86,173.1 1258.11,173.0 1258.36,173.0 1258.61,173.1 1258.86,172.9 1259.11,172.9 1259.36,173.0 1259.61,173.2 1259.86,173.1 1260.11,173.1 1260.36,173.1 1260.61,173.1 1260.86,172.9 1261.11,172.9 1261.36,172.9 1261.61,173.0 1261.86,173.2 1262.11,173.2 1262.36,173.3 1262.61,173.4 1262.86,173.3 1263.11,173.1 1263.36,172.8 1263.61,172.7 1263.86,172.7 1264.11,172.6 1264.36,172.7 1264.61,172.9 1264.86,173.0 1265.11,173.2 1265.36,173.1 1265.61,173.0 1265.86,173.0 1266.11,173.0 1266.36,172.8 1266.61,172.7 1266.86,172.8 1267.11,172.9 1267.36,172.9 1267.61,172.8 1267.86,172.8 1268.11,172.9 1268.36,172.9 1268.61,172.9 1268.86,172.8 1269.11,173.0 1269.36,173.1 1269.61,173.0 1269.86,173.1 1270.11,173.2 1270.36,173.0 1270.61,173.1 1270.86,173.1 1271.11,173.1 1271.36,170.5 1271.61,157.7 1271.86,141.5 1271.97,133.6 1272.11,140.0 1272.36,149.0 1272.61,155.5 1272.86,160.1 1273.11,163.4 1273.36,165.7 1273.61,167.4 1273.86,168.7 1274.11,169.5 1274.36,170.1 1274.61,170.7 1274.86,171.3 1275.11,171.8 1275.36,172.1 1275.61,172.4 1275.86,172.5 1276.11,172.8 1276.36,172.9 1276.61,172.8 1276.86,172.9 1277.11,172.8 1277.36,172.8 1277.61,173.0 1277.86,173.0 1278.11,172.9 1278.36,172.9 1278.61,173.0 1278.86,173.1 1279.11,173.1 1279.36,173.0 1279.61,173.1 1279.86,173.3 1280.11,173.5 1280.36,173.4 1280.61,173.4 1280.86,173.2 1281.11,173.3 1281.36,173.3 1281.61,173.4 1281.86,173.3 1282.11,173.2 1282.36,173.3 1282.61,173.3 1282.86,173.3 1283.11,173.2 1283.36,173.1 1283.61,173.0 1283.86,173.1 1284.11,172.9 1284.36,173.0 1284.61,172.8 1284.86,172.7 1285.11,172.6 1285.36,172.6 1285.61,172.7 1285.86,172.7 1286.11,172.7 1286.36,172.8 1286.61,173.0 1286.86,173.1 1287.11,173.1 1287.36,173.3 1287.61,173.3 1287.86,173.3 1288.11,173.3 1288.36,173.4 1288.61,173.3 1288.86,173.2 1289.11,173.1 1289.36,173.0 1289.61,173.0 1289.86,173.0 1290.11,172.9 1290.36,172.9 1290.61,172.8 1290.86,172.7 1291.11,172.6 1291.36,172.5 1291.61,172.4 1291.86,172.4 1292.11,172.5 1292.36,172.6 1292.61,172.6 1292.86,172.7 1293.11,163.7 1293.36,149.3 1293.57,135.3 1293.61,136.9 1293.86,146.9 1294.11,154.0 1294.36,159.0 1294.61,162.7 1294.86,165.3 1295.11,167.2 1295.36,168.7 1295.61,169.7 1295.86,170.4 1296.11,170.9 1296.36,171.2 1296.61,171.6 1296.86,171.9 1297.11,172.3 1297.36,172.5 1297.61,172.6 1297.86,172.8 1298.11,172.9 1298.36,172.9 1298.61,172.9 1298.86,172.7 1299.11,172.6 1299.36,172.7 1299.61,172.8 1299.86,172.8 1300.11,172.9 1300.36,172.8 1300.61,172.8 1300.86,172.8 1301.11,166.3 1301.36,152.3 1301.61,135.3 1301.63,134.0 1301.86,144.1 1302.11,152.0 1302.36,157.6 1302.61,161.6 1302.86,164.5 1303.11,166.5 1303.36,168.1 1303.61,169.3 1303.86,170.1 1304.11,170.8 1304.36,171.2 1304.61,171.6 1304.86,171.9 1305.11,172.2 1305.36,172.3 1305.61,172.5 1305.86,172.6 1306.11,172.7 1306.36,172.7 1306.61,173.0 1306.86,173.0 1307.11,173.1 1307.36,173.1 1307.61,173.1 1307.86,173.3 1308.11,173.3 1308.36,173.1 1308.61,173.1 1308.86,173.1 1309.11,173.2 1309.36,173.1 1309.61,172.9 1309.86,172.9 1310.11,173.1 1310.36,173.2 1310.61,173.2 1310.86,173.3 1311.11,173.3 1311.36,173.3 1311.61,173.3 1311.86,173.1 1312.11,173.0 1312.36,172.9 1312.61,172.7 1312.86,172.8 1313.11,173.0 1313.36,173.2 1313.61,173.1 1313.86,173.2 1314.11,173.3 1314.36,173.1 1314.61,173.3 1314.86,173.3 1315.11,173.1 1315.36,173.3 1315.61,173.3 1315.86,173.3 1316.11,173.5 1316.36,173.3 1316.61,173.3 1316.86,173.3 1317.11,173.1 1317.36,173.2 1317.61,173.2 1317.86,173.2 1318.11,173.3 1318.36,173.1 1318.61,173.0 1318.86,173.0 1319.11,172.9 1319.36,173.0 1319.61,173.0 1319.86,172.9 1320.11,173.0 1320.36,173.1 1320.61,173.1 1320.86,173.0 1321.11,173.1 1321.36,173.0 1321.61,173.0 1321.86,173.0 1322.11,173.0 1322.36,173.2 1322.61,173.3 1322.86,173.0 1323.11,173.2 1323.36,173.2 1323.61,173.1 1323.86,173.0 1324.11,172.9 1324.36,172.8 1324.61,173.0 1324.86,172.8 1325.11,173.0 1325.36,173.2 1325.61,173.0 1325.86,173.1 1326.11,173.2 1326.36,173.2 1326.61,173.4 1326.86,173.1 1327.11,173.1 1327.36,173.2 1327.61,173.2 1327.86,173.1 1328.11,173.1 1328.36,173.0 1328.61,173.1 1328.86,172.9 1329.11,172.8 1329.36,172.9 1329.61,172.8 1329.86,172.7 1330.11,172.8 1330.36,172.8 1330.61,172.9 1330.86,173.1 1331.11,173.1 1331.36,173.2 1331.61,173.4 1331.86,173.3 1332.11,173.3 1332.36,173.3 1332.61,173.1 1332.86,173.1 1333.11,173.0 1333.36,172.9 1333.61,173.0 1333.86,172.9 1334.11,173.1 1334.36,173.3 1334.61,173.4 1334.86,173.6 1335.11,173.7 1335.36,173.7 1335.61,174.0 1335.86,173.8 1336.11,173.7 1336.36,173.6 1336.61,173.4 1336.86,173.2 1337.11,173.4 1337.36,173.0 1337.61,172.9 1337.86,172.9 1338.11,173.1 1338.36,173.1 1338.61,173.2 1338.86,173.0 1339.11,173.1 1339.36,173.3 1339.61,173.1 1339.86,172.9 1340.11,172.9 1340.36,172.8 1340.61,172.8 1340.86,172.8 1341.11,172.9 1341.36,172.9 1341.61,173.1 1341.86,173.2 1342.11,173.2 1342.36,173.1 1342.61,173.2 1342.86,173.3 1343.11,166.4 1343.36,151.9 1343.61,134.7 1343.63,133.3 1343.86,143.6 1344.11,151.6 1344.36,157.3 1344.61,161.4 1344.86,164.3 1345.11,166.4 1345.36,167.9 1345.61,169.0 1345.86,170.0 1346.11,170.8 1346.36,171.2 1346.61,171.5 1346.86,171.7 1347.11,172.1 1347.36,172.4 1347.61,172.5 1347.86,172.5 1348.11,172.6 1348.36,172.8 1348.61,172.8 1348.86,172.7 1349.11,172.7 1349.36,172.8 1349.61,172.7 1349.86,172.7 1350.11,172.6 1350.36,172.7 1350.61,172.8 1350.86,173.0 1351.11,172.9 1351.36,173.0 1351.61,172.9 1351.86,173.0 1352.11,173.0 1352.36,172.8 1352.61,172.7 1352.86,173.0 1353.11,172.8 1353.36,172.8 1353.61,172.9 1353.86,173.0 1354.11,173.0 1354.36,173.0 1354.61,172.7 1354.86,173.0 1355.11,173.0 1355.36,173.0 1355.61,172.9 1355.86,172.9 1356.11,173.1 1356.36,173.3 1356.61,173.1 1356.86,173.0 1357.11,173.1 1357.36,173.0 1357.61,173.1 1357.86,173.0 1358.11,173.1 1358.36,173.1 1358.61,173.3 1358.86,173.2 1359.11,173.3 1359.36,173.1 1359.61,173.1 1359.86,172.9 1360.11,173.0 1360.36,172.9 1360.61,172.8 1360.86,172.8 1361.11,173.0 1361.36,172.8 1361.61,172.8 1361.86,172.8 1362.11,173.1 1362.36,173.1 1362.61,173.2 1362.86,173.3 1363.11,173.5 1363.36,173.4 1363.61,173.1 1363.86,172.9 1364.11,172.9 1364.36,172.8 1364.61,172.7 1364.86,172.6 1365.11,173.0 1365.36,173.0 1365.61,172.9 1365.86,173.0 1366.11,172.9 1366.36,172.9 1366.61,172.8 1366.86,172.6 1367.11,172.8 1367.36,172.8 1367.61,172.8 1367.86,173.0 1368.11,173.0 1368.36,173.1 1368.61,173.1 1368.86,173.0 1369.11,173.1 1369.36,173.1 1369.61,169.5 1369.86,156.6 1370.11,140.3 1370.20,133.9 1370.36,141.2 1370.61,149.9 1370.86,156.1 1371.11,160.5 1371.36,163.6 1371.61,166.0 1371.86,167.7 1372.11,169.0 1372.36,170.0 1372.61,170.6 1372.86,171.1 1373.11,171.4 1373.36,171.6 1373.61,171.9 1373.86,172.0 1374.11,172.2 1374.36,172.3 1374.61,172.5 1374.86,172.8 1375.11,172.9 1375.36,172.6 1375.61,172.9 1375.86,172.8 1376.11,173.0 1376.36,173.2 1376.61,173.2 1376.86,173.3 1377.11,173.6 1377.36,173.5 1377.61,173.7 1377.86,173.5 1378.11,173.5 1378.36,173.4 1378.61,173.3 1378.86,173.1 1379.11,173.2 1379.36,173.1 1379.61,173.1 1379.86,173.1 1380.11,173.0 1380.36,172.9 1380.61,172.9 1380.86,172.8 1381.11,172.7 1381.36,172.6 1381.61,172.6 1381.86,172.5 1382.11,172.7 1382.36,172.7 1382.61,172.6 1382.86,172.8 1383.11,172.8 1383.36,172.8 1383.61,173.0 1383.86,172.9 1384.11,173.0 1384.36,173.3 1384.61,172.9 1384.86,161.6 1385.11,146.3 1385.29,134.1 1385.36,137.5 1385.61,147.3 1385.86,154.2 1386.11,159.2 1386.36,162.7 1386.61,165.3 1386.86,167.1 1387.11,168.6 1387.36,169.6 1387.61,170.4 1387.86,171.1 1388.11,171.5 1388.36,171.8 1388.61,172.2 1388.86,172.3 1389.11,172.5 1389.36,172.7 1389.61,172.7 1389.86,172.8 1390.11,173.0 1390.36,172.9 1390.61,172.9 1390.86,172.9 1391.11,173.1 1391.36,173.2 1391.61,173.2 1391.86,173.1 1392.11,173.3 1392.36,173.3 1392.61,173.3 1392.86,173.2 1393.11,173.2 1393.36,173.2 1393.61,173.1 1393.86,173.2 1394.11,173.1 1394.36,173.3 1394.61,173.2 1394.86,173.1 1395.11,172.9 1395.36,173.1 1395.61,173.0 1395.86,173.0 1396.11,173.0 1396.36,173.1 1396.61,173.1 1396.86,173.1 1397.11,173.1 1397.36,173.0 1397.61,173.0 1397.86,172.8 1398.11,172.8 1398.36,172.9 1398.61,172.9 1398.86,173.1 1399.11,173.0 1399.36,173.0 1399.61,172.9 1399.86,172.9 1400.11,172.9 1400.36,173.1 1400.61,172.9 1400.86,173.0 1401.11,172.9 1401.36,173.2 1401.61,173.1 1401.86,173.1 1402.11,173.0 1402.36,173.0 1402.61,173.1 1402.86,173.2 1403.11,173.0 1403.36,173.1 1403.61,173.1 1403.86,173.1 1404.11,173.1 1404.36,172.9 1404.61,173.0 1404.86,173.1 1405.11,173.0 1405.36,172.9 1405.61,172.9 1405.86,173.1 1406.11,173.2 1406.36,173.1 1406.61,173.0 1406.86,173.1 1407.11,173.1 1407.36,173.1 1407.61,172.9 1407.86,172.9 1408.11,172.9 1408.36,172.9 1408.61,172.9 1408.86,172.9 1409.11,173.0 1409.36,173.3 1409.61,173.4 1409.86,173.3 1410.11,173.4 1410.36,173.4 1410.61,173.5 1410.86,173.5 1411.11,173.4 1411.36,173.3 1411.61,173.3 1411.86,173.3 1412.11,173.2 1412.36,173.2 1412.61,173.0 1412.86,173.0 1413.11,173.2 1413.36,173.1 1413.61,173.2 1413.86,173.3 1414.11,173.2 1414.36,173.2 1414.61,173.3 1414.86,173.1 1415.11,173.1 1415.36,173.0 1415.61,172.8 1415.86,172.8 1416.11,172.9 1416.36,172.8 1416.61,172.9" stroke-width="1.7"/>
<polyline points="1183.86,226.3 1184.11,226.3 1184.36,226.1 1184.61,225.9 1184.86,225.7 1185.11,225.6 1185.36,225.6 1185.61,225.7 1185.86,225.5 1186.11,224.8 1186.36,214.8 1186.61,200.4 1186.77,189.9 1186.86,193.7 1187.11,202.2 1187.36,208.3 1187.61,212.7 1187.86,215.8 1188.11,218.1 1188.36,219.8 1188.61,221.1 1188.86,222.1 1189.11,222.9 1189.36,223.5 1189.61,223.8 1189.86,224.2 1190.11,224.5 1190.36,224.7 1190.61,225.0 1190.86,225.2 1191.11,225.4 1191.36,225.6 1191.61,225.7 1191.86,225.8 1192.11,225.9 1192.36,226.1 1192.61,226.2 1192.86,226.2 1193.11,226.1 1193.36,226.2 1193.61,226.2 1193.86,226.3 1194.11,226.2 1194.36,226.1 1194.61,226.1 1194.86,226.2 1195.11,226.1 1195.36,226.1 1195.61,225.9 1195.86,226.0 1196.11,226.2 1196.36,226.2 1196.61,226.5 1196.86,226.5 1197.11,226.6 1197.36,226.4 1197.61,226.2 1197.86,226.1 1198.11,226.0 1198.36,225.8 1198.61,225.7 1198.86,225.6 1199.11,226.0 1199.36,225.9 1199.61,225.9 1199.86,226.0 1200.11,226.2 1200.36,226.4 1200.61,226.3 1200.86,226.3 1201.11,226.4 1201.36,226.6 1201.61,226.5 1201.86,226.3 1202.11,226.2 1202.36,226.1 1202.61,226.2 1202.86,226.2 1203.11,226.1 1203.36,226.2 1203.61,226.2 1203.86,226.3 1204.11,226.5 1204.36,226.4 1204.61,226.3 1204.86,226.3 1205.11,226.5 1205.36,226.3 1205.61,226.3 1205.86,226.2 1206.11,226.3 1206.36,226.2 1206.61,226.3 1206.86,226.1 1207.11,226.2 1207.36,226.2 1207.61,226.2 1207.86,226.1 1208.11,226.4 1208.36,226.2 1208.61,226.3 1208.86,226.1 1209.11,226.1 1209.36,225.9 1209.61,226.1 1209.86,226.0 1210.11,226.1 1210.36,226.1 1210.61,226.4 1210.86,226.3 1211.11,226.6 1211.36,226.5 1211.61,226.4 1211.86,226.4 1212.11,226.4 1212.36,226.2 1212.61,226.2 1212.86,226.1 1213.11,226.1 1213.36,226.2 1213.61,226.1 1213.86,226.1 1214.11,226.3 1214.36,226.4 1214.61,226.3 1214.86,226.3 1215.11,226.2 1215.36,226.3 1215.61,226.4 1215.86,226.3 1216.11,226.3 1216.36,226.4 1216.61,226.3 1216.86,226.4 1217.11,226.3 1217.36,226.1 1217.61,226.0 1217.86,226.1 1218.11,226.3 1218.36,226.4 1218.61,226.4 1218.86,226.5 1219.11,226.5 1219.36,226.5 1219.61,226.4 1219.86,226.3 1220.11,226.4 1220.36,226.4 1220.61,226.3 1220.86,221.0 1221.11,208.3 1221.36,192.8 1221.40,190.2 1221.61,198.4 1221.86,205.6 1222.11,210.7 1222.36,214.4 1222.61,217.1 1222.86,218.9 1223.11,220.4 1223.36,221.6 1223.61,222.4 1223.86,223.1 1224.11,223.6 1224.36,224.1 1224.61,224.5 1224.86,224.6 1225.11,225.0 1225.36,225.0 1225.61,225.1 1225.86,225.4 1226.11,225.6 1226.36,225.7 1226.61,225.9 1226.86,225.9 1227.11,226.3 1227.36,226.2 1227.61,226.2 1227.86,226.3 1228.11,226.4 1228.36,226.3 1228.61,226.4 1228.86,226.2 1229.11,226.4 1229.36,226.5 1229.61,226.7 1229.86,226.7 1230.11,226.8 1230.36,226.7 1230.61,226.6 1230.86,226.4 1231.11,226.3 1231.36,226.2 1231.61,226.2 1231.86,226.1 1232.11,226.2 1232.36,226.5 1232.61,226.8 1232.86,226.6 1233.11,226.3 1233.36,226.3 1233.61,226.3 1233.86,226.3 1234.11,225.9 1234.36,225.9 1234.61,226.0 1234.86,226.3 1235.11,226.3 1235.36,226.4 1235.61,226.3 1235.86,226.4 1236.11,226.4 1236.36,226.4 1236.61,226.2 1236.86,226.2 1237.11,226.1 1237.36,226.1 1237.61,226.2 1237.86,226.0 1238.11,226.1 1238.36,226.3 1238.61,226.3 1238.86,226.3 1239.11,226.4 1239.36,226.4 1239.61,226.4 1239.86,226.5 1240.11,226.4 1240.36,226.5 1240.61,226.4 1240.86,226.5 1241.11,226.5 1241.36,226.4 1241.61,226.3 1241.86,226.4 1242.11,226.2 1242.36,226.2 1242.61,225.8 1242.86,226.0 1243.11,226.2 1243.36,226.1 1243.61,225.9 1243.86,225.8 1244.11,225.8 1244.36,226.2 1244.61,226.1 1244.86,226.0 1245.11,226.1 1245.36,226.2 1245.61,226.5 1245.86,226.4 1246.11,226.2 1246.36,226.2 1246.61,226.1 1246.86,225.8 1247.11,225.9 1247.36,225.9 1247.61,226.0 1247.86,226.1 1248.11,226.1 1248.36,226.2 1248.61,226.2 1248.86,226.3 1249.11,226.3 1249.36,226.4 1249.61,226.2 1249.86,226.2 1250.11,226.3 1250.36,226.5 1250.61,226.4 1250.86,226.3 1251.11,226.3 1251.36,226.5 1251.61,226.4 1251.86,226.4 1252.11,226.5 1252.36,226.6 1252.61,226.7 1252.86,226.6 1253.11,226.3 1253.36,226.4 1253.61,226.3 1253.86,226.1 1254.11,226.0 1254.36,226.0 1254.61,226.1 1254.86,226.2 1255.11,226.1 1255.36,226.1 1255.61,226.2 1255.86,226.2 1256.11,226.2 1256.36,226.3 1256.61,226.3 1256.86,226.5 1257.11,226.6 1257.36,226.7 1257.61,226.5 1257.86,226.6 1258.11,226.5 1258.36,226.6 1258.61,226.4 1258.86,226.4 1259.11,226.2 1259.36,226.3 1259.61,226.4 1259.86,226.4 1260.11,226.3 1260.36,226.5 1260.61,226.5 1260.86,226.5 1261.11,226.5 1261.36,226.4 1261.61,226.4 1261.86,226.5 1262.11,226.4 1262.36,226.5 1262.61,226.5 1262.86,226.6 1263.11,226.7 1263.36,226.8 1263.61,226.8 1263.86,226.8 1264.11,226.7 1264.36,226.8 1264.61,226.8 1264.86,226.7 1265.11,226.6 1265.36,226.5 1265.61,226.4 1265.86,226.5 1266.11,226.5 1266.36,226.4 1266.61,226.3 1266.86,226.3 1267.11,226.2 1267.36,226.3 1267.61,226.3 1267.86,226.2 1268.11,226.3 1268.36,226.3 1268.61,226.2 1268.86,226.1 1269.11,226.1 1269.36,225.9 1269.61,226.0 1269.86,226.1 1270.11,226.0 1270.36,226.1 1270.61,226.3 1270.86,226.4 1271.11,226.4 1271.36,226.4 1271.61,226.4 1271.86,226.5 1272.11,226.5 1272.36,226.4 1272.61,226.1 1272.86,226.2 1273.11,226.1 1273.36,226.1 1273.61,226.1 1273.86,226.1 1274.11,226.2 1274.36,226.4 1274.61,226.4 1274.86,226.6 1275.11,226.6 1275.36,226.5 1275.61,226.4 1275.86,226.5 1276.11,226.4 1276.36,226.3 1276.61,226.2 1276.86,226.3 1277.11,226.4 1277.36,226.4 1277.61,226.4 1277.86,226.4 1278.11,226.5 1278.36,226.5 1278.61,226.2 1278.86,226.4 1279.11,226.5 1279.36,226.3 1279.61,226.1 1279.86,226.1 1280.11,226.0 1280.36,226.2 1280.61,226.1 1280.86,226.1 1281.11,226.4 1281.36,226.3 1281.61,226.4 1281.86,226.5 1282.11,226.5 1282.36,226.5 1282.61,226.4 1282.86,226.3 1283.11,226.3 1283.36,226.3 1283.61,226.1 1283.86,226.1 1284.11,226.1 1284.36,226.1 1284.61,226.2 1284.86,226.3 1285.11,226.3 1285.36,226.5 1285.61,226.4 1285.86,226.3 1286.11,226.3 1286.36,226.2 1286.61,226.1 1286.86,226.1 1287.11,225.9 1287.36,226.0 1287.61,226.1 1287.86,226.2 1288.11,226.3 1288.36,226.3 1288.61,226.2 1288.86,226.3 1289.11,226.4 1289.36,226.3 1289.61,226.2 1289.86,226.1 1290.11,226.2 1290.36,226.3 1290.61,226.4 1290.86,226.3 1291.11,226.4 1291.36,226.3 1291.61,226.4 1291.86,226.4 1292.11,226.5 1292.36,226.4 1292.61,226.4 1292.86,226.4 1293.11,226.5 1293.36,226.5 1293.61,226.4 1293.86,226.5 1294.11,226.4 1294.36,226.4 1294.61,226.4 1294.86,226.4 1295.11,226.4 1295.36,226.4 1295.61,226.3 1295.86,226.5 1296.11,226.4 1296.36,226.2 1296.61,226.2 1296.86,226.1 1297.11,226.1 1297.36,226.1 1297.61,225.9 1297.86,226.0 1298.11,226.1 1298.36,226.2 1298.61,226.2 1298.86,226.2 1299.11,226.1 1299.36,226.1 1299.61,226.0 1299.86,226.1 1300.11,226.1 1300.36,226.2 1300.61,226.2 1300.86,226.2 1301.11,226.3 1301.36,226.4 1301.61,226.2 1301.86,226.1 1302.11,226.0 1302.36,226.1 1302.61,226.1 1302.86,226.1 1303.11,225.9 1303.36,226.0 1303.61,226.3 1303.86,226.2 1304.11,226.1 1304.36,226.0 1304.61,226.0 1304.86,226.2 1305.11,226.2 1305.36,226.1 1305.61,226.0 1305.86,226.0 1306.11,226.1 1306.36,226.2 1306.61,226.1 1306.86,226.2 1307.11,226.2 1307.36,226.4 1307.61,226.4 1307.86,226.5 1308.11,226.4 1308.36,226.3 1308.61,226.2 1308.86,226.2 1309.11,226.1 1309.36,226.2 1309.61,226.2 1309.86,226.3 1310.11,226.3 1310.36,226.1 1310.61,226.2 1310.86,226.1 1311.11,225.9 1311.36,225.7 1311.61,225.9 1311.86,226.0 1312.11,226.2 1312.36,226.2 1312.61,226.2 1312.86,226.3 1313.11,226.4 1313.36,226.2 1313.61,226.0 1313.86,226.0 1314.11,226.0 1314.36,226.1 1314.61,226.0 1314.86,226.0 1315.11,226.0 1315.36,226.2 1315.61,226.3 1315.86,226.1 1316.11,226.1 1316.36,226.1 1316.61,226.1 1316.86,226.4 1317.11,226.5 1317.36,226.3 1317.61,226.4 1317.86,226.3 1318.11,226.4 1318.36,226.3 1318.61,226.2 1318.86,226.2 1319.11,226.5 1319.36,226.7 1319.61,226.8 1319.86,226.7 1320.11,226.7 1320.36,226.6 1320.61,226.5 1320.86,226.5 1321.11,226.5 1321.36,226.5 1321.61,226.5 1321.86,226.4 1322.11,223.8 1322.36,212.2 1322.61,197.7 1322.72,191.2 1322.86,196.8 1323.11,204.5 1323.36,210.0 1323.61,213.9 1323.86,216.7 1324.11,218.7 1324.36,220.3 1324.61,221.4 1324.86,222.4 1325.11,223.0 1325.36,223.7 1325.61,224.2 1325.86,224.6 1326.11,224.8 1326.36,225.0 1326.61,225.1 1326.86,225.3 1327.11,225.3 1327.36,225.3 1327.61,225.4 1327.86,225.5 1328.11,225.6 1328.36,225.7 1328.61,225.8 1328.86,225.8 1329.11,226.0 1329.36,226.0 1329.61,226.1 1329.86,226.2 1330.11,226.2 1330.36,226.2 1330.61,226.2 1330.86,226.1 1331.11,226.1 1331.36,226.0 1331.61,226.0 1331.86,226.1 1332.11,226.1 1332.36,226.2 1332.61,226.3 1332.86,226.6 1333.11,226.6 1333.36,226.5 1333.61,226.4 1333.86,226.4 1334.11,226.5 1334.36,226.4 1334.61,226.3 1334.86,226.1 1335.11,226.2 1335.36,226.4 1335.61,226.4 1335.86,226.5 1336.11,226.5 1336.36,226.5 1336.61,226.6 1336.86,226.7 1337.11,226.6 1337.36,226.5 1337.61,226.4 1337.86,226.4 1338.11,226.3 1338.36,226.2 1338.61,226.1 1338.86,226.1 1339.11,226.2 1339.36,226.3 1339.61,226.3 1339.86,226.2 1340.11,226.2 1340.36,226.1 1340.61,226.2 1340.86,226.1 1341.11,226.0 1341.36,226.1 1341.61,226.3 1341.86,226.3 1342.11,226.4 1342.36,226.4 1342.61,226.6 1342.86,226.6 1343.11,226.4 1343.36,226.5 1343.61,226.4 1343.86,226.4 1344.11,226.5 1344.36,226.3 1344.61,226.5 1344.86,226.6 1345.11,226.5 1345.36,226.7 1345.61,226.6 1345.86,226.4 1346.11,226.4 1346.36,226.4 1346.61,226.3 1346.86,226.4 1347.11,226.3 1347.36,226.3 1347.61,226.5 1347.86,226.4 1348.11,226.5 1348.36,226.4 1348.61,226.5 1348.86,226.5 1349.11,226.5 1349.36,226.5 1349.61,226.4 1349.86,226.3 1350.11,226.3 1350.36,226.3 1350.61,226.2 1350.86,226.1 1351.11,226.1 1351.36,226.3 1351.61,226.5 1351.86,226.5 1352.11,226.5 1352.36,226.6 1352.61,226.6 1352.86,226.7 1353.11,226.6 1353.36,226.4 1353.61,226.3 1353.86,226.2 1354.11,226.1 1354.36,226.2 1354.61,226.2 1354.86,226.3 1355.11,226.5 1355.36,226.5 1355.61,226.6 1355.86,226.6 1356.11,226.5 1356.36,226.4 1356.61,226.4 1356.86,226.3 1357.11,226.3 1357.36,226.2 1357.61,226.2 1357.86,226.1 1358.11,226.2 1358.36,226.2 1358.61,226.1 1358.86,226.2 1359.11,226.3 1359.36,226.2 1359.61,226.3 1359.86,226.4 1360.11,226.4 1360.36,226.4 1360.61,226.4 1360.86,226.3 1361.11,220.3 1361.36,207.3 1361.61,191.8 1361.63,190.6 1361.86,199.4 1362.11,206.3 1362.36,211.3 1362.61,214.8 1362.86,217.4 1363.11,219.4 1363.36,220.8 1363.61,221.9 1363.86,223.0 1364.11,223.7 1364.36,224.1 1364.61,224.5 1364.86,224.9 1365.11,225.3 1365.36,225.5 1365.61,225.7 1365.86,225.7 1366.11,225.8 1366.36,225.8 1366.61,225.9 1366.86,225.7 1367.11,225.7 1367.36,225.5 1367.61,225.7 1367.86,225.9 1368.11,225.9 1368.36,225.8 1368.61,225.9 1368.86,226.0 1369.11,226.0 1369.36,226.1 1369.61,226.0 1369.86,226.0 1370.11,226.1 1370.36,226.2 1370.61,226.2 1370.86,226.4 1371.11,226.4 1371.36,226.4 1371.61,226.6 1371.86,226.5 1372.11,226.4 1372.36,226.3 1372.61,226.1 1372.86,226.0 1373.11,226.2 1373.36,226.1 1373.61,226.1 1373.86,226.2 1374.11,226.3 1374.36,226.4 1374.61,226.5 1374.86,226.3 1375.11,226.4 1375.36,226.3 1375.61,226.4 1375.86,226.5 1376.11,226.6 1376.36,226.8 1376.61,226.6 1376.86,226.5 1377.11,226.4 1377.36,226.3 1377.61,226.3 1377.86,226.3 1378.11,226.2 1378.36,226.3 1378.61,226.3 1378.86,226.5 1379.11,226.5 1379.36,226.5 1379.61,226.5 1379.86,226.6 1380.11,226.5 1380.36,226.6 1380.61,226.5 1380.86,226.4 1381.11,226.4 1381.36,226.2 1381.61,225.9 1381.86,225.8 1382.11,225.9 1382.36,225.9 1382.61,226.1 1382.86,226.0 1383.11,226.1 1383.36,226.2 1383.61,226.3 1383.86,226.3 1384.11,226.2 1384.36,226.1 1384.61,226.2 1384.86,226.2 1385.11,226.4 1385.36,226.6 1385.61,226.6 1385.86,226.5 1386.11,226.6 1386.36,226.6 1386.61,226.5 1386.86,226.4 1387.11,226.1 1387.36,226.2 1387.61,226.3 1387.86,226.4 1388.11,226.3 1388.36,226.2 1388.61,226.3 1388.86,226.4 1389.11,226.4 1389.36,226.3 1389.61,226.2 1389.86,226.3 1390.11,226.2 1390.36,226.3 1390.61,226.5 1390.86,226.4 1391.11,226.4 1391.36,226.5 1391.61,226.6 1391.86,226.8 1392.11,226.7 1392.36,218.0 1392.61,204.4 1392.83,190.5 1392.86,191.9 1393.11,201.0 1393.36,207.4 1393.61,212.0 1393.86,215.4 1394.11,217.8 1394.36,219.6 1394.61,220.9 1394.86,221.9 1395.11,222.6 1395.36,223.4 1395.61,224.0 1395.86,224.3 1396.11,224.6 1396.36,225.0 1396.61,225.2 1396.86,225.5 1397.11,225.6 1397.36,225.6 1397.61,225.8 1397.86,225.8 1398.11,225.8 1398.36,225.9 1398.61,226.0 1398.86,226.0 1399.11,226.0 1399.36,226.2 1399.61,226.2 1399.86,226.2 1400.11,226.2 1400.36,226.2 1400.61,226.0 1400.86,226.1 1401.11,226.1 1401.36,226.2 1401.61,226.2 1401.86,226.2 1402.11,226.2 1402.36,226.3 1402.61,226.3 1402.86,226.3 1403.11,226.3 1403.36,226.1 1403.61,226.2 1403.86,226.1 1404.11,226.1 1404.36,226.1 1404.61,226.0 1404.86,226.1 1405.11,226.4 1405.36,226.4 1405.61,226.3 1405.86,226.3 1406.11,226.3 1406.36,226.3 1406.61,226.3 1406.86,226.3 1407.11,226.2 1407.36,226.5 1407.61,226.4 1407.86,226.3 1408.11,226.4 1408.36,226.5 1408.61,226.5 1408.86,226.7 1409.11,226.3 1409.36,226.3 1409.61,226.5 1409.86,226.5 1410.11,226.4 1410.36,226.4 1410.61,226.2 1410.86,226.3 1411.11,226.4 1411.36,226.4 1411.61,226.4 1411.86,226.2 1412.11,226.3 1412.36,226.4 1412.61,226.5 1412.86,226.5 1413.11,226.5 1413.36,226.4 1413.61,226.5 1413.86,226.5 1414.11,226.3 1414.36,226.2 1414.61,226.1 1414.86,226.1 1415.11,226.1 1415.36,226.2 1415.61,226.2 1415.86,226.3 1416.11,226.4 1416.36,226.5 1416.61,226.4" stroke-width="1.7"/>
<polyline points="1183.86,274.7 1184.11,274.6 1184.36,274.7 1184.61,272.1 1184.86,258.2 1185.11,240.4 1185.23,231.1 1185.36,237.7 1185.61,247.3 1185.86,254.2 1186.11,259.1 1186.36,262.6 1186.61,265.1 1186.86,267.0 1187.11,268.4 1187.36,269.5 1187.61,270.5 1187.86,271.2 1188.11,271.8 1188.36,272.2 1188.61,272.7 1188.86,273.1 1189.11,273.3 1189.36,273.6 1189.61,273.9 1189.86,274.0 1190.11,274.1 1190.36,274.1 1190.61,274.0 1190.86,274.0 1191.11,274.0 1191.36,274.1 1191.61,274.3 1191.86,274.5 1192.11,274.5 1192.36,274.6 1192.61,274.6 1192.86,274.7 1193.11,274.5 1193.36,274.5 1193.61,274.3 1193.86,274.3 1194.11,274.5 1194.36,274.7 1194.61,274.6 1194.86,274.8 1195.11,274.7 1195.36,274.6 1195.61,274.5 1195.86,274.4 1196.11,274.3 1196.36,274.3 1196.61,274.2 1196.86,274.3 1197.11,274.5 1197.36,274.5 1197.61,274.6 1197.86,274.7 1198.11,274.7 1198.36,274.8 1198.61,274.7 1198.86,274.7 1199.11,274.8 1199.36,274.7 1199.61,274.6 1199.86,274.6 1200.11,274.6 1200.36,274.8 1200.61,274.7 1200.86,274.6 1201.11,274.7 1201.36,274.6 1201.61,274.7 1201.86,274.7 1202.11,274.7 1202.36,274.7 1202.61,274.6 1202.86,274.7 1203.11,274.8 1203.36,274.6 1203.61,274.4 1203.86,274.3 1204.11,274.3 1204.36,274.4 1204.61,274.2 1204.86,274.3 1205.11,274.2 1205.36,274.2 1205.61,274.4 1205.86,274.5 1206.11,274.4 1206.36,274.4 1206.61,274.3 1206.86,274.3 1207.11,274.3 1207.36,274.2 1207.61,274.2 1207.86,274.3 1208.11,274.3 1208.36,274.4 1208.61,274.4 1208.86,274.5 1209.11,274.6 1209.36,274.7 1209.61,274.5 1209.86,274.7 1210.11,274.6 1210.36,274.5 1210.61,274.5 1210.86,274.5 1211.11,274.4 1211.36,274.5 1211.61,274.3 1211.86,274.4 1212.11,274.6 1212.36,274.3 1212.61,274.2 1212.86,274.1 1213.11,274.3 1213.36,274.3 1213.61,274.3 1213.86,274.1 1214.11,274.4 1214.36,274.5 1214.61,274.4 1214.86,274.4 1215.11,274.3 1215.36,274.4 1215.61,274.5 1215.86,274.4 1216.11,273.4 1216.36,261.0 1216.61,244.3 1216.77,232.1 1216.86,236.4 1217.11,246.4 1217.36,253.5 1217.61,258.5 1217.86,262.1 1218.11,264.8 1218.36,266.8 1218.61,268.3 1218.86,269.4 1219.11,270.5 1219.36,271.2 1219.61,271.6 1219.86,272.0 1220.11,272.5 1220.36,272.9 1220.61,273.1 1220.86,273.3 1221.11,273.5 1221.36,273.8 1221.61,273.8 1221.86,273.8 1222.11,273.7 1222.36,273.9 1222.61,273.7 1222.86,273.8 1223.11,273.8 1223.36,273.8 1223.61,273.7 1223.86,274.0 1224.11,273.9 1224.36,274.0 1224.61,273.9 1224.86,274.0 1225.11,274.1 1225.36,274.3 1225.61,274.1 1225.86,274.3 1226.11,274.3 1226.36,274.3 1226.61,274.2 1226.86,274.1 1227.11,274.0 1227.36,274.1 1227.61,274.0 1227.86,274.1 1228.11,274.1 1228.36,274.1 1228.61,274.4 1228.86,274.3 1229.11,274.2 1229.36,274.2 1229.61,274.2 1229.86,274.1 1230.11,274.1 1230.36,274.1 1230.61,274.0 1230.86,274.1 1231.11,274.1 1231.36,273.9 1231.61,273.9 1231.86,273.9 1232.11,273.8 1232.36,273.9 1232.61,273.8 1232.86,273.8 1233.11,273.8 1233.36,274.0 1233.61,273.8 1233.86,273.7 1234.11,273.7 1234.36,273.8 1234.61,273.8 1234.86,273.9 1235.11,273.7 1235.36,273.9 1235.61,274.0 1235.86,273.9 1236.11,273.8 1236.36,273.9 1236.61,274.0 1236.86,274.1 1237.11,274.2 1237.36,274.2 1237.61,274.2 1237.86,274.3 1238.11,274.2 1238.36,274.2 1238.61,274.1 1238.86,274.0 1239.11,274.1 1239.36,274.1 1239.61,274.1 1239.86,274.1 1240.11,274.1 1240.36,274.1 1240.61,274.0 1240.86,273.8 1241.11,273.8 1241.36,273.8 1241.61,273.8 1241.86,273.7 1242.11,273.9 1242.36,274.0 1242.61,274.2 1242.86,274.3 1243.11,274.3 1243.36,274.4 1243.61,274.5 1243.86,274.5 1244.11,274.4 1244.36,274.4 1244.61,274.2 1244.86,274.3 1245.11,274.1 1245.36,274.2 1245.61,274.0 1245.86,274.1 1246.11,274.0 1246.36,273.7 1246.61,273.8 1246.86,274.0 1247.11,273.8 1247.36,273.7 1247.61,273.6 1247.86,273.8 1248.11,274.0 1248.36,274.1 1248.61,273.9 1248.86,274.0 1249.11,274.0 1249.36,274.0 1249.61,273.8 1249.86,273.9 1250.11,273.8 1250.36,273.9 1250.61,273.8 1250.86,273.9 1251.11,273.9 1251.36,274.1 1251.61,273.9 1251.86,273.9 1252.11,273.8 1252.36,273.6 1252.61,273.7 1252.86,273.8 1253.11,274.0 1253.36,274.0 1253.61,274.0 1253.86,274.0 1254.11,274.2 1254.36,274.2 1254.61,274.3 1254.86,274.3 1255.11,274.2 1255.36,274.0 1255.61,274.2 1255.86,274.3 1256.11,274.2 1256.36,274.0 1256.61,274.0 1256.86,273.9 1257.11,274.1 1257.36,274.1 1257.61,274.0 1257.86,274.1 1258.11,274.2 1258.36,274.2 1258.61,274.2 1258.86,274.2 1259.11,274.2 1259.36,274.1 1259.61,274.2 1259.86,274.1 1260.11,274.0 1260.36,274.1 1260.61,274.1 1260.86,274.1 1261.11,274.2 1261.36,274.2 1261.61,274.2 1261.86,274.1 1262.11,274.1 1262.36,274.1 1262.61,274.1 1262.86,274.1 1263.11,273.9 1263.36,273.8 1263.61,273.7 1263.86,273.9 1264.11,274.0 1264.36,273.9 1264.61,273.9 1264.86,274.0 1265.11,274.2 1265.36,274.3 1265.61,274.1 1265.86,273.8 1266.11,273.8 1266.36,273.7 1266.61,273.6 1266.86,273.5 1267.11,273.4 1267.36,273.3 1267.61,273.4 1267.86,273.5 1268.11,273.6 1268.36,273.7 1268.61,273.7 1268.86,273.9 1269.11,274.0 1269.36,274.0 1269.61,273.9 1269.86,273.8 1270.11,273.7 1270.36,273.8 1270.61,273.8 1270.86,273.7 1271.11,273.8 1271.36,273.7 1271.61,273.8 1271.86,273.8 1272.11,273.9 1272.36,273.8 1272.61,273.9 1272.86,273.8 1273.11,273.8 1273.36,273.8 1273.61,273.7 1273.86,273.5 1274.11,273.4 1274.36,273.4 1274.61,273.4 1274.86,273.5 1275.11,273.4 1275.36,273.3 1275.61,273.4 1275.86,273.4 1276.11,273.4 1276.36,273.3 1276.61,273.4 1276.86,273.3 1277.11,273.6 1277.36,273.7 1277.61,273.7 1277.86,273.8 1278.11,273.9 1278.36,273.9 1278.61,274.0 1278.86,273.9 1279.11,274.0 1279.36,273.9 1279.61,273.7 1279.86,273.6 1280.11,273.5 1280.36,273.4 1280.61,273.3 1280.86,273.3 1281.11,273.4 1281.36,273.7 1281.61,273.6 1281.86,273.5 1282.11,273.6 1282.36,273.5 1282.61,273.5 1282.86,273.3 1283.11,273.1 1283.36,273.1 1283.61,273.4 1283.86,273.4 1284.11,273.6 1284.36,273.7 1284.61,273.9 1284.86,274.1 1285.11,274.0 1285.36,273.9 1285.61,273.7 1285.86,273.8 1286.11,273.6 1286.36,273.5 1286.61,273.5 1286.86,273.6 1287.11,273.7 1287.36,273.8 1287.61,273.5 1287.86,273.6 1288.11,273.7 1288.36,273.6 1288.61,273.5 1288.86,273.5 1289.11,273.6 1289.36,273.7 1289.61,273.7 1289.86,273.7 1290.11,273.7 1290.36,273.9 1290.61,273.9 1290.86,273.8 1291.11,274.0 1291.36,274.0 1291.61,274.0 1291.86,274.0 1292.11,273.8 1292.36,273.6 1292.61,273.5 1292.86,273.3 1293.11,273.3 1293.36,273.2 1293.61,273.3 1293.86,273.4 1294.11,273.6 1294.36,273.7 1294.61,273.7 1294.86,273.9 1295.11,273.7 1295.36,273.5 1295.61,273.3 1295.86,273.4 1296.11,273.3 1296.36,273.4 1296.61,273.3 1296.86,273.5 1297.11,273.6 1297.36,273.7 1297.61,273.4 1297.86,273.3 1298.11,273.3 1298.36,273.2 1298.61,273.3 1298.86,273.5 1299.11,273.4 1299.36,273.6 1299.61,273.7 1299.86,273.8 1300.11,273.9 1300.36,273.9 1300.61,273.8 1300.86,273.9 1301.11,273.9 1301.36,273.8 1301.61,273.7 1301.86,273.5 1302.11,273.3 1302.36,273.3 1302.61,273.3 1302.86,273.3 1303.11,273.4 1303.36,273.4 1303.61,273.6 1303.86,273.6 1304.11,273.6 1304.36,273.4 1304.61,273.5 1304.86,273.5 1305.11,273.7 1305.36,273.7 1305.61,273.9 1305.86,273.7 1306.11,273.7 1306.36,273.6 1306.61,273.5 1306.86,273.2 1307.11,273.2 1307.36,273.1 1307.61,273.1 1307.86,273.3 1308.11,273.4 1308.36,273.5 1308.61,273.5 1308.86,273.5 1309.11,273.5 1309.36,273.6 1309.61,273.5 1309.86,273.3 1310.11,273.3 1310.36,273.3 1310.61,273.3 1310.86,273.2 1311.11,273.3 1311.36,273.3 1311.61,273.4 1311.86,273.3 1312.11,273.4 1312.36,273.3 1312.61,273.4 1312.86,273.3 1313.11,273.2 1313.36,273.1 1313.61,273.2 1313.86,273.3 1314.11,273.4 1314.36,273.4 1314.61,273.5 1314.86,273.6 1315.11,273.7 1315.36,273.7 1315.61,273.7 1315.86,273.6 1316.11,273.6 1316.36,273.5 1316.61,273.6 1316.86,273.6 1317.11,273.5 1317.36,273.4 1317.61,273.3 1317.86,273.3 1318.11,273.4 1318.36,273.5 1318.61,273.4 1318.86,273.5 1319.11,273.6 1319.36,273.6 1319.61,273.6 1319.86,273.5 1320.11,273.5 1320.36,273.4 1320.61,273.4 1320.86,273.4 1321.11,273.4 1321.36,273.3 1321.61,273.2 1321.86,273.1 1322.11,273.1 1322.36,273.0 1322.61,272.9 1322.86,273.0 1323.11,273.1 1323.36,273.2 1323.61,273.1 1323.86,273.3 1324.11,273.3 1324.36,273.5 1324.61,273.5 1324.86,273.3 1325.11,273.3 1325.36,273.3 1325.61,273.4 1325.86,273.2 1326.11,273.1 1326.36,273.0 1326.61,273.0 1326.86,272.9 1327.11,273.0 1327.36,273.0 1327.61,273.2 1327.86,273.3 1328.11,273.1 1328.36,273.1 1328.61,273.3 1328.86,273.1 1329.11,273.1 1329.36,273.1 1329.61,273.2 1329.86,273.2 1330.11,273.3 1330.36,273.1 1330.61,273.3 1330.86,273.2 1331.11,273.1 1331.36,273.2 1331.61,273.1 1331.86,273.1 1332.11,273.3 1332.36,273.1 1332.61,273.2 1332.86,273.1 1333.11,272.9 1333.36,272.9 1333.61,272.9 1333.86,272.7 1334.11,272.9 1334.36,272.9 1334.61,272.9 1334.86,273.1 1335.11,273.1 1335.36,273.1 1335.61,273.3 1335.86,273.3 1336.11,273.4 1336.36,273.3 1336.61,273.3 1336.86,273.5 1337.11,273.5 1337.36,273.5 1337.61,273.5 1337.86,273.3 1338.11,273.3 1338.36,273.1 1338.61,273.0 1338.86,273.0 1339.11,273.0 1339.36,273.3 1339.61,273.2 1339.86,273.2 1340.11,273.3 1340.36,273.4 1340.61,273.2 1340.86,273.0 1341.11,272.8 1341.36,272.9 1341.61,272.9 1341.86,272.8 1342.11,272.5 1342.36,272.7 1342.61,272.7 1342.86,272.8 1343.11,272.7 1343.36,272.8 1343.61,272.6 1343.86,272.9 1344.11,272.7 1344.36,273.1 1344.61,273.1 1344.86,273.2 1345.11,273.3 1345.36,273.4 1345.61,273.3 1345.86,273.2 1346.11,272.9 1346.36,272.9 1346.61,272.9 1346.86,272.9 1347.11,272.8 1347.36,272.6 1347.61,272.7 1347.86,272.8 1348.11,272.6 1348.36,272.7 1348.61,272.7 1348.86,272.8 1349.11,272.9 1349.36,273.0 1349.61,273.0 1349.86,272.9 1350.11,272.9 1350.36,272.9 1350.61,273.0 1350.86,273.1 1351.11,272.8 1351.36,272.9 1351.61,272.9 1351.86,272.9 1352.11,272.8 1352.36,272.6 1352.61,272.7 1352.86,272.9 1353.11,272.8 1353.36,272.8 1353.61,272.7 1353.86,272.7 1354.11,272.7 1354.36,272.6 1354.61,272.9 1354.86,272.9 1355.11,272.9 1355.36,273.0 1355.61,273.1 1355.86,273.2 1356.11,273.3 1356.36,273.2 1356.61,273.3 1356.86,273.2 1357.11,273.2 1357.36,272.9 1357.61,272.8 1357.86,272.7 1358.11,272.7 1358.36,272.4 1358.61,272.4 1358.86,272.4 1359.11,272.5 1359.36,272.5 1359.61,272.6 1359.86,272.8 1360.11,272.9 1360.36,272.9 1360.61,272.9 1360.86,273.0 1361.11,273.1 1361.36,273.0 1361.61,272.8 1361.86,272.9 1362.11,272.8 1362.36,272.9 1362.61,272.9 1362.86,272.9 1363.11,272.9 1363.36,273.0 1363.61,272.9 1363.86,272.9 1364.11,272.7 1364.36,272.7 1364.61,272.6 1364.86,272.4 1365.11,272.3 1365.36,272.3 1365.61,272.5 1365.86,272.6 1366.11,272.6 1366.36,272.8 1366.61,272.9 1366.86,273.0 1367.11,272.9 1367.36,272.8 1367.61,272.9 1367.86,272.8 1368.11,272.7 1368.36,272.8 1368.61,272.8 1368.86,273.0 1369.11,273.1 1369.36,273.0 1369.61,273.2 1369.86,273.2 1370.11,273.1 1370.36,273.2 1370.61,273.0 1370.86,272.9 1371.11,273.0 1371.36,272.9 1371.61,272.9 1371.86,273.0 1372.11,272.9 1372.36,273.0 1372.61,272.9 1372.86,272.8 1373.11,272.8 1373.36,272.7 1373.61,272.9 1373.86,272.8 1374.11,272.7 1374.36,273.0 1374.61,272.9 1374.86,272.9 1375.11,272.9 1375.36,272.8 1375.61,272.7 1375.86,272.8 1376.11,272.5 1376.36,272.6 1376.61,272.7 1376.86,272.7 1377.11,272.8 1377.36,273.0 1377.61,273.0 1377.86,273.1 1378.11,273.3 1378.36,273.1 1378.61,273.2 1378.86,273.0 1379.11,272.8 1379.36,272.7 1379.61,272.6 1379.86,272.4 1380.11,272.5 1380.36,272.3 1380.61,272.4 1380.86,272.5 1381.11,272.6 1381.36,272.8 1381.61,272.8 1381.86,272.9 1382.11,272.9 1382.36,272.8 1382.61,272.9 1382.86,272.8 1383.11,272.6 1383.36,272.7 1383.61,272.6 1383.86,272.8 1384.11,272.9 1384.36,272.7 1384.61,272.7 1384.86,272.8 1385.11,272.9 1385.36,273.1 1385.61,273.0 1385.86,273.0 1386.11,272.8 1386.36,272.9 1386.61,272.9 1386.86,272.9 1387.11,272.7 1387.36,272.8 1387.61,272.9 1387.86,273.3 1388.11,273.2 1388.36,273.1 1388.61,273.0 1388.86,273.1 1389.11,272.8 1389.36,272.6 1389.61,272.7 1389.86,272.7 1390.11,272.7 1390.36,272.4 1390.61,272.3 1390.86,272.5 1391.11,272.7 1391.36,272.7 1391.61,272.5 1391.86,272.6 1392.11,272.8 1392.36,272.9 1392.61,272.8 1392.86,272.7 1393.11,272.5 1393.36,272.5 1393.61,272.6 1393.86,272.7 1394.11,272.6 1394.36,272.7 1394.61,272.5 1394.86,272.6 1395.11,272.7 1395.36,272.6 1395.61,272.4 1395.86,272.3 1396.11,272.2 1396.36,272.3 1396.61,272.3 1396.86,272.3 1397.11,272.2 1397.36,272.5 1397.61,272.7 1397.86,272.8 1398.11,272.8 1398.36,272.7 1398.61,272.8 1398.86,272.8 1399.11,272.7 1399.36,272.4 1399.61,272.4 1399.86,272.4 1400.11,272.4 1400.36,272.3 1400.61,272.5 1400.86,272.4 1401.11,272.5 1401.36,272.5 1401.61,272.4 1401.86,272.5 1402.11,272.4 1402.36,272.2 1402.61,272.3 1402.86,272.3 1403.11,272.2 1403.36,272.1 1403.61,272.1 1403.86,272.1 1404.11,271.9 1404.36,271.8 1404.61,271.7 1404.86,271.7 1405.11,271.9 1405.36,271.7 1405.61,271.7 1405.86,271.9 1406.11,272.1 1406.36,272.1 1406.61,272.2 1406.86,272.2 1407.11,272.4 1407.36,272.4 1407.61,272.5 1407.86,272.3 1408.11,272.2 1408.36,272.3 1408.61,272.2 1408.86,272.3 1409.11,272.1 1409.36,272.2 1409.61,272.1 1409.86,272.1 1410.11,272.2 1410.36,272.2 1410.61,272.2 1410.86,272.4 1411.11,272.3 1411.36,272.5 1411.61,272.6 1411.86,272.4 1412.11,272.5 1412.36,272.5 1412.61,272.4 1412.86,272.6 1413.11,272.5 1413.36,272.4 1413.61,272.5 1413.86,272.5 1414.11,272.4 1414.36,272.4 1414.61,272.2 1414.86,272.3 1415.11,272.3 1415.36,272.3 1415.61,272.4 1415.86,272.4 1416.11,272.4 1416.36,272.4 1416.61,272.4" stroke-width="1.7"/>
<polyline points="1183.86,332.6 1184.11,332.7 1184.36,332.7 1184.61,332.8 1184.86,332.8 1185.11,332.9 1185.36,332.9 1185.61,332.8 1185.86,332.6 1186.11,332.5 1186.36,332.4 1186.61,332.4 1186.86,332.5 1187.11,332.3 1187.36,332.1 1187.61,332.4 1187.86,332.4 1188.11,332.4 1188.36,332.4 1188.61,332.4 1188.86,332.4 1189.11,332.6 1189.36,332.4 1189.61,332.4 1189.86,332.4 1190.11,332.4 1190.36,332.3 1190.61,332.4 1190.86,332.4 1191.11,332.3 1191.36,332.4 1191.61,332.3 1191.86,332.3 1192.11,332.3 1192.36,332.2 1192.61,332.2 1192.86,332.1 1193.11,332.1 1193.36,332.2 1193.61,332.2 1193.86,332.3 1194.11,332.3 1194.36,332.4 1194.61,332.5 1194.86,332.7 1195.11,332.5 1195.36,332.5 1195.61,332.4 1195.86,332.5 1196.11,332.4 1196.36,332.3 1196.61,332.3 1196.86,332.5 1197.11,332.4 1197.36,332.4 1197.61,332.4 1197.86,332.3 1198.11,332.4 1198.36,332.4 1198.61,332.4 1198.86,332.4 1199.11,332.5 1199.36,332.5 1199.61,332.6 1199.86,332.5 1200.11,332.4 1200.36,332.3 1200.61,332.3 1200.86,332.2 1201.11,332.3 1201.36,332.2 1201.61,332.2 1201.86,332.1 1202.11,332.2 1202.36,332.3 1202.61,332.4 1202.86,332.4 1203.11,332.4 1203.36,332.5 1203.61,332.7 1203.86,332.8 1204.11,332.8 1204.36,332.8 1204.61,332.9 1204.86,332.9 1205.11,332.7 1205.36,332.7 1205.61,332.6 1205.86,332.6 1206.11,332.5 1206.36,332.5 1206.61,332.4 1206.86,332.5 1207.11,332.5 1207.36,332.5 1207.61,332.3 1207.86,332.5 1208.11,332.5 1208.36,332.4 1208.61,332.4 1208.86,332.3 1209.11,332.3 1209.36,332.2 1209.61,332.2 1209.86,332.2 1210.11,332.3 1210.36,332.3 1210.61,332.3 1210.86,332.2 1211.11,332.2 1211.36,332.1 1211.61,332.1 1211.86,332.2 1212.11,332.1 1212.36,332.2 1212.61,332.3 1212.86,332.6 1213.11,332.5 1213.36,332.4 1213.61,332.4 1213.86,332.4 1214.11,332.3 1214.36,332.3 1214.61,332.2 1214.86,332.4 1215.11,332.5 1215.36,332.5 1215.61,332.7 1215.86,332.7 1216.11,332.6 1216.36,332.7 1216.61,332.5 1216.86,332.5 1217.11,332.6 1217.36,332.4 1217.61,332.4 1217.86,332.5 1218.11,332.5 1218.36,332.6 1218.61,332.6 1218.86,332.6 1219.11,332.7 1219.36,332.7 1219.61,332.6 1219.86,332.4 1220.11,332.2 1220.36,332.3 1220.61,332.2 1220.86,332.2 1221.11,332.3 1221.36,332.3 1221.61,332.5 1221.86,332.7 1222.11,332.4 1222.36,332.5 1222.61,332.4 1222.86,332.4 1223.11,332.4 1223.36,332.5 1223.61,332.4 1223.86,332.6 1224.11,332.6 1224.36,332.7 1224.61,332.8 1224.86,332.7 1225.11,332.5 1225.36,332.5 1225.61,332.4 1225.86,332.5 1226.11,332.4 1226.36,332.3 1226.61,332.5 1226.86,332.5 1227.11,332.5 1227.36,332.4 1227.61,332.3 1227.86,332.3 1228.11,332.1 1228.36,331.9 1228.61,332.0 1228.86,332.0 1229.11,331.9 1229.36,331.7 1229.61,331.8 1229.86,332.0 1230.11,331.9 1230.36,332.0 1230.61,332.1 1230.86,332.3 1231.11,332.4 1231.36,332.5 1231.61,332.3 1231.86,332.4 1232.11,332.5 1232.36,332.4 1232.61,332.3 1232.86,332.3 1233.11,332.3 1233.36,332.4 1233.61,332.4 1233.86,332.2 1234.11,332.1 1234.36,332.1 1234.61,332.1 1234.86,332.0 1235.11,332.1 1235.36,332.2 1235.61,332.4 1235.86,332.3 1236.11,332.2 1236.36,332.2 1236.61,332.3 1236.86,332.1 1237.11,332.0 1237.36,331.9 1237.61,332.1 1237.86,331.9 1238.11,331.9 1238.36,332.1 1238.61,332.2 1238.86,332.2 1239.11,332.4 1239.36,332.1 1239.61,332.3 1239.86,332.2 1240.11,332.0 1240.36,331.9 1240.61,331.9 1240.86,331.7 1241.11,331.7 1241.36,331.9 1241.61,332.1 1241.86,332.3 1242.11,332.3 1242.36,332.4 1242.61,332.4 1242.86,332.3 1243.11,332.3 1243.36,332.1 1243.61,332.0 1243.86,332.1 1244.11,331.9 1244.36,331.9 1244.61,332.2 1244.86,332.1 1245.11,332.1 1245.36,332.0 1245.61,332.0 1245.86,332.0 1246.11,332.0 1246.36,331.9 1246.61,331.8 1246.86,331.8 1247.11,331.9 1247.36,331.7 1247.61,331.7 1247.86,331.7 1248.11,331.7 1248.36,331.8 1248.61,331.9 1248.86,331.9 1249.11,332.0 1249.36,332.1 1249.61,332.2 1249.86,332.3 1250.11,332.1 1250.36,332.1 1250.61,332.3 1250.86,332.5 1251.11,332.5 1251.36,332.4 1251.61,332.4 1251.86,332.5 1252.11,332.3 1252.36,332.1 1252.61,332.0 1252.86,331.8 1253.11,331.8 1253.36,331.9 1253.61,331.8 1253.86,331.9 1254.11,331.9 1254.36,332.0 1254.61,332.2 1254.86,332.2 1255.11,332.1 1255.36,332.1 1255.61,332.0 1255.86,332.1 1256.11,331.8 1256.36,331.7 1256.61,331.7 1256.86,331.8 1257.11,331.8 1257.36,331.9 1257.61,331.9 1257.86,332.1 1258.11,332.0 1258.36,332.0 1258.61,331.9 1258.86,331.9 1259.11,332.0 1259.36,331.9 1259.61,332.0 1259.86,332.1 1260.11,332.0 1260.36,332.2 1260.61,332.1 1260.86,332.0 1261.11,332.0 1261.36,331.9 1261.61,331.8 1261.86,331.8 1262.11,331.9 1262.36,331.9 1262.61,331.8 1262.86,332.1 1263.11,332.0 1263.36,332.1 1263.61,332.0 1263.86,331.8 1264.11,332.0 1264.36,331.8 1264.61,331.7 1264.86,331.8 1265.11,331.8 1265.36,332.0 1265.61,332.0 1265.86,331.9 1266.11,332.0 1266.36,332.1 1266.61,332.1 1266.86,332.0 1267.11,332.0 1267.36,332.1 1267.61,332.2 1267.86,332.1 1268.11,332.0 1268.36,331.9 1268.61,332.0 1268.86,331.9 1269.11,331.8 1269.36,331.6 1269.61,331.6 1269.86,331.7 1270.11,331.8 1270.36,331.8 1270.61,331.8 1270.86,332.0 1271.11,332.2 1271.36,332.4 1271.61,332.3 1271.86,332.3 1272.11,332.3 1272.36,332.3 1272.61,332.2 1272.86,332.1 1273.11,332.1 1273.36,332.0 1273.61,331.9 1273.86,331.9 1274.11,331.9 1274.36,331.8 1274.61,331.8 1274.86,331.8 1275.11,331.8 1275.36,331.7 1275.61,331.6 1275.86,331.6 1276.11,331.7 1276.36,331.9 1276.61,331.9 1276.86,332.0 1277.11,332.0 1277.36,332.1 1277.61,332.3 1277.86,332.3 1278.11,332.3 1278.36,332.3 1278.61,332.4 1278.86,332.5 1279.11,332.5 1279.36,332.3 1279.61,332.2 1279.86,332.2 1280.11,332.3 1280.36,332.3 1280.61,332.2 1280.86,332.0 1281.11,332.1 1281.36,332.1 1281.61,332.2 1281.86,331.9 1282.11,331.9 1282.36,332.0 1282.61,332.1 1282.86,332.2 1283.11,332.1 1283.36,332.1 1283.61,332.2 1283.86,332.1 1284.11,332.1 1284.36,332.0 1284.61,331.8 1284.86,331.9 1285.11,331.7 1285.36,331.8 1285.61,332.0 1285.86,331.9 1286.11,332.0 1286.36,331.9 1286.61,332.1 1286.86,332.1 1287.11,331.9 1287.36,331.9 1287.61,331.9 1287.86,331.9 1288.11,332.0 1288.36,331.9 1288.61,332.0 1288.86,332.1 1289.11,332.0 1289.36,332.0 1289.61,332.0 1289.86,332.1 1290.11,332.1 1290.36,331.9 1290.61,331.9 1290.86,331.7 1291.11,331.8 1291.36,323.7 1291.61,308.7 1291.86,291.1 1292.11,301.9 1292.36,309.6 1292.61,315.0 1292.86,318.9 1293.11,321.8 1293.36,323.9 1293.61,325.5 1293.86,326.7 1294.11,327.7 1294.36,328.4 1294.61,329.1 1294.86,329.5 1295.11,329.9 1295.36,330.2 1295.61,330.5 1295.86,330.6 1296.11,330.7 1296.36,331.0 1296.61,331.3 1296.86,331.2 1297.11,331.2 1297.36,331.3 1297.61,331.4 1297.86,331.5 1298.11,331.4 1298.36,331.3 1298.61,331.4 1298.86,331.5 1299.11,331.5 1299.36,331.6 1299.61,331.6 1299.86,331.7 1300.11,331.7 1300.36,331.6 1300.61,331.5 1300.86,331.6 1301.11,331.5 1301.36,331.6 1301.61,331.6 1301.86,331.5 1302.11,331.7 1302.36,331.7 1302.61,331.7 1302.86,331.6 1303.11,331.6 1303.36,331.4 1303.61,331.6 1303.86,331.4 1304.11,331.5 1304.36,331.5 1304.61,331.8 1304.86,331.7 1305.11,321.2 1305.36,304.8 1305.57,288.9 1305.61,290.7 1305.86,301.6 1306.11,309.2 1306.36,314.7 1306.61,318.7 1306.86,321.5 1307.11,323.5 1307.36,325.2 1307.61,326.3 1307.86,327.2 1308.11,328.0 1308.36,328.5 1308.61,329.0 1308.86,329.5 1309.11,329.7 1309.36,330.1 1309.61,330.2 1309.86,330.5 1310.11,330.7 1310.36,330.9 1310.61,331.1 1310.86,331.3 1311.11,331.5 1311.36,331.7 1311.61,331.8 1311.86,331.8 1312.11,331.7 1312.36,331.9 1312.61,331.8 1312.86,331.9 1313.11,331.8 1313.36,331.8 1313.61,332.0 1313.86,332.1 1314.11,331.9 1314.36,331.8 1314.61,331.7 1314.86,331.8 1315.11,331.9 1315.36,331.6 1315.61,331.6 1315.86,331.7 1316.11,331.9 1316.36,331.7 1316.61,331.7 1316.86,331.7 1317.11,331.7 1317.36,331.7 1317.61,331.6 1317.86,331.4 1318.11,331.7 1318.36,331.5 1318.61,331.5 1318.86,331.5 1319.11,331.6 1319.36,331.6 1319.61,331.9 1319.86,331.6 1320.11,331.8 1320.36,331.8 1320.61,331.8 1320.86,331.6 1321.11,331.7 1321.36,331.6 1321.61,331.7 1321.86,331.8 1322.11,331.7 1322.36,331.8 1322.61,331.9 1322.86,331.8 1323.11,331.9 1323.36,331.8 1323.61,331.9 1323.86,331.9 1324.11,331.7 1324.36,331.7 1324.61,331.6 1324.86,331.6 1325.11,331.6 1325.36,331.4 1325.61,331.4 1325.86,331.6 1326.11,331.6 1326.36,331.7 1326.61,331.6 1326.86,331.6 1327.11,331.6 1327.36,331.6 1327.61,331.5 1327.86,331.4 1328.11,331.4 1328.36,331.5 1328.61,331.6 1328.86,331.5 1329.11,331.5 1329.36,331.6 1329.61,331.7 1329.86,331.7 1330.11,331.7 1330.36,331.5 1330.61,331.7 1330.86,331.6 1331.11,331.5 1331.36,331.6 1331.61,331.6 1331.86,331.6 1332.11,331.8 1332.36,331.7 1332.61,331.6 1332.86,331.7 1333.11,331.6 1333.36,331.6 1333.61,331.5 1333.86,331.4 1334.11,331.4 1334.36,331.5 1334.61,331.4 1334.86,331.6 1335.11,331.5 1335.36,331.4 1335.61,331.5 1335.86,331.5 1336.11,331.5 1336.36,331.4 1336.61,331.3 1336.86,331.4 1337.11,331.5 1337.36,331.5 1337.61,331.6 1337.86,331.7 1338.11,331.7 1338.36,331.8 1338.61,331.6 1338.86,331.7 1339.11,331.6 1339.36,331.3 1339.61,331.2 1339.86,331.3 1340.11,331.2 1340.36,331.3 1340.61,331.4 1340.86,331.5 1341.11,331.4 1341.36,331.6 1341.61,331.5 1341.86,331.6 1342.11,331.6 1342.36,331.4 1342.61,331.3 1342.86,331.3 1343.11,331.4 1343.36,331.5 1343.61,331.4 1343.86,331.3 1344.11,331.4 1344.36,331.3 1344.61,331.6 1344.86,322.1 1345.11,306.1 1345.34,288.8 1345.36,289.3 1345.61,300.5 1345.86,308.4 1346.11,314.1 1346.36,318.1 1346.61,321.1 1346.86,323.3 1347.11,324.9 1347.36,326.3 1347.61,327.2 1347.86,327.9 1348.11,328.5 1348.36,328.9 1348.61,329.3 1348.86,329.6 1349.11,329.8 1349.36,330.2 1349.61,330.4 1349.86,330.4 1350.11,330.7 1350.36,330.8 1350.61,330.9 1350.86,331.0 1351.11,330.9 1351.36,331.0 1351.61,331.1 1351.86,331.2 1352.11,331.2 1352.36,331.1 1352.61,331.2 1352.86,331.4 1353.11,331.5 1353.36,331.4 1353.61,331.5 1353.86,331.3 1354.11,331.5 1354.36,331.5 1354.61,331.4 1354.86,331.3 1355.11,331.4 1355.36,331.2 1355.61,331.5 1355.86,331.3 1356.11,331.3 1356.36,331.2 1356.61,331.2 1356.86,331.2 1357.11,331.3 1357.36,331.3 1357.61,331.4 1357.86,331.2 1358.11,331.5 1358.36,331.5 1358.61,331.5 1358.86,331.3 1359.11,331.2 1359.36,331.3 1359.61,331.5 1359.86,331.4 1360.11,331.4 1360.36,331.4 1360.61,331.5 1360.86,331.7 1361.11,331.6 1361.36,331.4 1361.61,331.3 1361.86,331.3 1362.11,331.2 1362.36,331.3 1362.61,331.2 1362.86,331.3 1363.11,331.5 1363.36,331.5 1363.61,331.6 1363.86,331.8 1364.11,331.6 1364.36,331.6 1364.61,331.5 1364.86,331.4 1365.11,331.5 1365.36,331.3 1365.61,331.3 1365.86,331.4 1366.11,331.4 1366.36,331.4 1366.61,331.6 1366.86,331.6 1367.11,331.6 1367.36,331.6 1367.61,331.7 1367.86,331.7 1368.11,331.8 1368.36,331.6 1368.61,331.5 1368.86,331.6 1369.11,331.6 1369.36,331.6 1369.61,331.7 1369.86,331.8 1370.11,331.7 1370.36,331.7 1370.61,331.7 1370.86,331.6 1371.11,331.5 1371.36,331.4 1371.61,331.2 1371.86,331.3 1372.11,331.3 1372.36,331.3 1372.61,331.3 1372.86,331.3 1373.11,331.3 1373.36,331.4 1373.61,331.4 1373.86,331.5 1374.11,331.4 1374.36,331.5 1374.61,331.2 1374.86,331.2 1375.11,331.3 1375.36,331.3 1375.61,331.2 1375.86,331.3 1376.11,331.1 1376.36,331.5 1376.61,331.5 1376.86,331.3 1377.11,331.1 1377.36,331.2 1377.61,331.1 1377.86,331.3 1378.11,331.2 1378.36,331.1 1378.61,331.4 1378.86,331.4 1379.11,331.3 1379.36,331.3 1379.61,331.3 1379.86,331.3 1380.11,331.3 1380.36,331.2 1380.61,331.2 1380.86,331.3 1381.11,331.4 1381.36,331.3 1381.61,331.3 1381.86,331.4 1382.11,331.4 1382.36,331.5 1382.61,331.4 1382.86,331.3 1383.11,331.3 1383.36,331.2 1383.61,331.2 1383.86,331.3 1384.11,331.2 1384.36,331.3 1384.61,331.4 1384.86,331.3 1385.11,331.5 1385.36,331.4 1385.61,331.3 1385.86,331.3 1386.11,331.1 1386.36,331.1 1386.61,331.2 1386.86,331.1 1387.11,331.1 1387.36,331.1 1387.61,331.1 1387.86,331.2 1388.11,331.2 1388.36,331.3 1388.61,331.3 1388.86,331.4 1389.11,331.3 1389.36,331.3 1389.61,331.3 1389.86,331.1 1390.11,331.2 1390.36,331.0 1390.61,331.0 1390.86,330.9 1391.11,330.8 1391.36,330.8 1391.61,331.0 1391.86,330.9 1392.11,331.0 1392.36,330.8 1392.61,331.0 1392.86,331.1 1393.11,331.1 1393.36,331.2 1393.61,331.1 1393.86,331.0 1394.11,331.1 1394.36,331.1 1394.61,331.0 1394.86,331.1 1395.11,331.3 1395.36,331.2 1395.61,331.1 1395.86,331.0 1396.11,331.1 1396.36,331.0 1396.61,331.0 1396.86,330.9 1397.11,331.0 1397.36,331.2 1397.61,331.2 1397.86,331.2 1398.11,331.1 1398.36,331.0 1398.61,330.9 1398.86,330.8 1399.11,330.8 1399.36,330.9 1399.61,330.8 1399.86,331.0 1400.11,331.1 1400.36,331.1 1400.61,331.1 1400.86,331.0 1401.11,331.1 1401.36,331.2 1401.61,331.0 1401.86,331.0 1402.11,331.0 1402.36,331.0 1402.61,331.0 1402.86,330.9 1403.11,330.8 1403.36,330.9 1403.61,330.8 1403.86,330.7 1404.11,330.7 1404.36,330.8 1404.61,330.8 1404.86,330.9 1405.11,330.9 1405.36,330.9 1405.61,330.9 1405.86,330.9 1406.11,330.8 1406.36,331.0 1406.61,331.2 1406.86,331.2 1407.11,331.2 1407.36,331.4 1407.61,331.5 1407.86,331.6 1408.11,331.4 1408.36,331.2 1408.61,331.1 1408.86,331.0 1409.11,330.9 1409.36,330.8 1409.61,330.9 1409.86,330.8 1410.11,330.8 1410.36,331.0 1410.61,331.2 1410.86,331.2 1411.11,331.4 1411.36,331.3 1411.61,331.6 1411.86,331.6 1412.11,331.5 1412.36,331.3 1412.61,331.1 1412.86,331.0 1413.11,331.0 1413.36,330.9 1413.61,330.9 1413.86,330.8 1414.11,330.7 1414.36,330.9 1414.61,331.0 1414.86,331.0 1415.11,330.8 1415.36,330.8 1415.61,330.9 1415.86,331.1 1416.11,331.0 1416.36,330.9 1416.61,330.9" stroke-width="1.7"/>
<polyline points="1183.86,387.5 1184.11,387.5 1184.36,387.6 1184.61,387.5 1184.86,387.4 1185.11,387.4 1185.36,387.6 1185.61,387.5 1185.86,387.5 1186.11,387.2 1186.36,387.2 1186.61,387.2 1186.86,387.3 1187.11,387.1 1187.36,387.1 1187.61,387.3 1187.86,387.5 1188.11,387.5 1188.36,387.7 1188.61,387.7 1188.86,387.7 1189.11,387.7 1189.36,387.8 1189.61,387.8 1189.86,387.6 1190.11,387.5 1190.36,387.4 1190.61,387.4 1190.86,387.5 1191.11,387.4 1191.36,387.6 1191.61,387.9 1191.86,388.0 1192.11,388.0 1192.36,388.0 1192.61,387.8 1192.86,387.8 1193.11,387.6 1193.36,387.5 1193.61,387.5 1193.86,387.7 1194.11,387.7 1194.36,387.9 1194.61,387.9 1194.86,388.1 1195.11,388.1 1195.36,388.1 1195.61,388.0 1195.86,387.9 1196.11,388.0 1196.36,388.0 1196.61,387.7 1196.86,387.7 1197.11,387.6 1197.36,387.6 1197.61,387.6 1197.86,387.6 1198.11,387.4 1198.36,387.7 1198.61,387.6 1198.86,387.8 1199.11,387.9 1199.36,387.9 1199.61,387.9 1199.86,388.0 1200.11,387.8 1200.36,387.8 1200.61,387.6 1200.86,387.4 1201.11,387.4 1201.36,387.4 1201.61,387.4 1201.86,387.4 1202.11,387.3 1202.36,387.4 1202.61,387.5 1202.86,387.5 1203.11,387.4 1203.36,387.4 1203.61,387.5 1203.86,387.6 1204.11,387.5 1204.36,387.5 1204.61,387.6 1204.86,387.6 1205.11,387.5 1205.36,387.3 1205.61,387.3 1205.86,387.5 1206.11,387.7 1206.36,387.7 1206.61,387.8 1206.86,387.8 1207.11,387.9 1207.36,387.7 1207.61,387.6 1207.86,387.4 1208.11,387.4 1208.36,387.5 1208.61,387.6 1208.86,387.6 1209.11,387.9 1209.36,387.9 1209.61,388.0 1209.86,388.0 1210.11,387.9 1210.36,387.6 1210.61,387.7 1210.86,387.7 1211.11,387.6 1211.36,387.3 1211.61,387.5 1211.86,387.5 1212.11,387.5 1212.36,387.6 1212.61,387.5 1212.86,387.6 1213.11,387.7 1213.36,387.6 1213.61,387.6 1213.86,387.7 1214.11,387.6 1214.36,387.5 1214.61,387.6 1214.86,387.7 1215.11,387.6 1215.36,387.6 1215.61,387.7 1215.86,387.6 1216.11,387.7 1216.36,387.6 1216.61,387.5 1216.86,387.5 1217.11,387.3 1217.36,387.1 1217.61,387.1 1217.86,387.0 1218.11,387.1 1218.36,387.0 1218.61,387.0 1218.86,387.3 1219.11,387.5 1219.36,387.7 1219.61,387.8 1219.86,387.7 1220.11,387.8 1220.36,387.9 1220.61,387.8 1220.86,387.8 1221.11,387.7 1221.36,387.7 1221.61,387.7 1221.86,387.7 1222.11,387.9 1222.36,388.0 1222.61,388.0 1222.86,387.8 1223.11,387.8 1223.36,387.9 1223.61,387.9 1223.86,387.8 1224.11,387.8 1224.36,387.9 1224.61,388.0 1224.86,387.9 1225.11,387.9 1225.36,387.9 1225.61,387.8 1225.86,387.7 1226.11,387.7 1226.36,387.6 1226.61,387.6 1226.86,387.8 1227.11,387.7 1227.36,387.6 1227.61,387.6 1227.86,387.5 1228.11,387.6 1228.36,387.6 1228.61,387.5 1228.86,387.5 1229.11,387.6 1229.36,387.6 1229.61,387.8 1229.86,387.6 1230.11,387.7 1230.36,387.7 1230.61,387.8 1230.86,387.6 1231.11,387.7 1231.36,387.5 1231.61,387.7 1231.86,387.8 1232.11,387.8 1232.36,387.6 1232.61,387.8 1232.86,387.7 1233.11,387.8 1233.36,387.7 1233.61,387.5 1233.86,387.5 1234.11,387.8 1234.36,387.8 1234.61,387.7 1234.86,387.9 1235.11,387.8 1235.36,387.9 1235.61,387.9 1235.86,387.7 1236.11,387.7 1236.36,387.8 1236.61,387.6 1236.86,387.7 1237.11,387.6 1237.36,387.7 1237.61,387.7 1237.86,387.7 1238.11,387.8 1238.36,387.7 1238.61,387.7 1238.86,387.8 1239.11,387.7 1239.36,387.6 1239.61,387.6 1239.86,387.6 1240.11,387.7 1240.36,387.7 1240.61,387.5 1240.86,387.5 1241.11,387.7 1241.36,387.7 1241.61,387.8 1241.86,387.7 1242.11,387.8 1242.36,387.9 1242.61,387.9 1242.86,387.6 1243.11,387.6 1243.36,387.5 1243.61,387.6 1243.86,387.6 1244.11,387.7 1244.36,387.6 1244.61,387.8 1244.86,387.6 1245.11,387.7 1245.36,387.8 1245.61,387.6 1245.86,387.4 1246.11,387.3 1246.36,387.2 1246.61,387.6 1246.86,387.3 1247.11,387.4 1247.36,387.3 1247.61,387.5 1247.86,387.7 1248.11,387.5 1248.36,387.5 1248.61,387.5 1248.86,387.2 1249.11,387.4 1249.36,387.3 1249.61,387.2 1249.86,387.3 1250.11,387.4 1250.36,387.3 1250.61,387.5 1250.86,387.6 1251.11,387.7 1251.36,387.8 1251.61,387.7 1251.86,387.7 1252.11,387.8 1252.36,387.9 1252.61,387.7 1252.86,387.7 1253.11,387.7 1253.36,387.7 1253.61,387.6 1253.86,387.6 1254.11,387.6 1254.36,387.7 1254.61,387.7 1254.86,387.8 1255.11,387.8 1255.36,387.7 1255.61,387.6 1255.86,387.5 1256.11,387.4 1256.36,387.4 1256.61,387.3 1256.86,387.3 1257.11,387.4 1257.36,387.4 1257.61,387.5 1257.86,387.5 1258.11,387.6 1258.36,387.7 1258.61,387.9 1258.86,387.9 1259.11,388.0 1259.36,388.0 1259.61,388.1 1259.86,388.0 1260.11,388.0 1260.36,387.9 1260.61,388.0 1260.86,388.0 1261.11,387.9 1261.36,387.7 1261.61,387.6 1261.86,387.6 1262.11,387.6 1262.36,387.6 1262.61,387.4 1262.86,387.6 1263.11,387.4 1263.36,387.5 1263.61,387.4 1263.86,387.3 1264.11,387.4 1264.36,387.5 1264.61,387.5 1264.86,387.6 1265.11,387.8 1265.36,387.8 1265.61,387.8 1265.86,387.5 1266.11,387.6 1266.36,387.4 1266.61,387.4 1266.86,387.2 1267.11,387.2 1267.36,387.3 1267.61,387.5 1267.86,387.5 1268.11,387.5 1268.36,387.5 1268.61,387.6 1268.86,387.5 1269.11,387.6 1269.36,387.7 1269.61,387.6 1269.86,387.7 1270.11,387.6 1270.36,387.5 1270.61,387.5 1270.86,387.4 1271.11,387.2 1271.36,387.1 1271.61,387.0 1271.86,387.2 1272.11,387.5 1272.36,387.5 1272.61,387.6 1272.86,387.7 1273.11,387.8 1273.36,387.9 1273.61,387.9 1273.86,387.8 1274.11,387.8 1274.36,387.6 1274.61,387.6 1274.86,387.5 1275.11,387.5 1275.36,387.5 1275.61,387.4 1275.86,387.4 1276.11,387.4 1276.36,387.5 1276.61,387.5 1276.86,387.5 1277.11,387.5 1277.36,387.5 1277.61,387.5 1277.86,387.6 1278.11,387.5 1278.36,387.6 1278.61,387.5 1278.86,387.5 1279.11,387.5 1279.36,387.4 1279.61,387.3 1279.86,387.2 1280.11,387.2 1280.36,387.3 1280.61,387.3 1280.86,387.2 1281.11,387.2 1281.36,387.3 1281.61,387.3 1281.86,387.4 1282.11,387.5 1282.36,387.6 1282.61,387.7 1282.86,387.9 1283.11,387.7 1283.36,387.8 1283.61,387.6 1283.86,387.5 1284.11,387.4 1284.36,387.3 1284.61,387.2 1284.86,387.3 1285.11,387.4 1285.36,387.5 1285.61,387.6 1285.86,387.8 1286.11,387.9 1286.36,387.8 1286.61,387.8 1286.86,387.7 1287.11,387.7 1287.36,387.6 1287.61,387.5 1287.86,387.4 1288.11,387.4 1288.36,387.6 1288.61,387.4 1288.86,387.4 1289.11,387.4 1289.36,387.5 1289.61,387.6 1289.86,387.5 1290.11,387.4 1290.36,387.6 1290.61,387.7 1290.86,387.6 1291.11,387.5 1291.36,387.5 1291.61,387.6 1291.86,387.7 1292.11,387.6 1292.36,387.5 1292.61,387.5 1292.86,387.7 1293.11,387.7 1293.36,387.7 1293.61,387.7 1293.86,387.9 1294.11,388.0 1294.36,387.9 1294.61,387.7 1294.86,387.6 1295.11,387.6 1295.36,387.5 1295.61,387.4 1295.86,387.2 1296.11,387.2 1296.36,387.2 1296.61,387.2 1296.86,387.2 1297.11,387.2 1297.36,387.2 1297.61,387.4 1297.86,387.6 1298.11,387.6 1298.36,387.5 1298.61,387.6 1298.86,387.7 1299.11,387.5 1299.36,387.5 1299.61,387.5 1299.86,387.5 1300.11,387.3 1300.36,387.2 1300.61,387.2 1300.86,387.3 1301.11,387.3 1301.36,387.1 1301.61,387.1 1301.86,387.3 1302.11,387.5 1302.36,387.5 1302.61,387.5 1302.86,387.5 1303.11,387.6 1303.36,387.9 1303.61,387.8 1303.86,387.6 1304.11,387.6 1304.36,387.4 1304.61,387.5 1304.86,387.4 1305.11,387.3 1305.36,387.5 1305.61,387.5 1305.86,387.4 1306.11,387.5 1306.36,387.4 1306.61,387.4 1306.86,387.4 1307.11,387.2 1307.36,387.3 1307.61,387.2 1307.86,387.3 1308.11,387.4 1308.36,387.3 1308.61,387.4 1308.86,387.4 1309.11,387.4 1309.36,387.4 1309.61,387.4 1309.86,387.3 1310.11,387.4 1310.36,387.5 1310.61,387.5 1310.86,387.5 1311.11,387.5 1311.36,387.5 1311.61,387.6 1311.86,387.7 1312.11,387.9 1312.36,388.1 1312.61,388.0 1312.86,388.0 1313.11,387.9 1313.36,387.7 1313.61,387.5 1313.86,387.3 1314.11,387.1 1314.36,387.1 1314.61,387.1 1314.86,387.3 1315.11,387.3 1315.36,387.4 1315.61,387.3 1315.86,387.2 1316.11,387.4 1316.36,387.5 1316.61,387.4 1316.86,387.6 1317.11,387.5 1317.36,387.6 1317.61,387.5 1317.86,387.5 1318.11,387.4 1318.36,387.4 1318.61,387.4 1318.86,387.5 1319.11,387.5 1319.36,387.7 1319.61,387.8 1319.86,387.6 1320.11,387.7 1320.36,387.6 1320.61,387.7 1320.86,387.6 1321.11,387.6 1321.36,387.6 1321.61,387.7 1321.86,387.6 1322.11,387.5 1322.36,387.4 1322.61,387.4 1322.86,387.6 1323.11,387.6 1323.36,387.5 1323.61,387.6 1323.86,387.9 1324.11,387.9 1324.36,387.9 1324.61,387.6 1324.86,387.6 1325.11,387.8 1325.36,387.7 1325.61,387.5 1325.86,387.4 1326.11,387.3 1326.36,387.6 1326.61,387.5 1326.86,387.4 1327.11,387.4 1327.36,387.5 1327.61,387.5 1327.86,387.6 1328.11,387.5 1328.36,387.6 1328.61,387.7 1328.86,387.6 1329.11,387.6 1329.36,387.7 1329.61,387.5 1329.86,387.7 1330.11,387.6 1330.36,387.8 1330.61,387.8 1330.86,387.7 1331.11,387.6 1331.36,387.6 1331.61,387.5 1331.86,387.6 1332.11,387.5 1332.36,387.6 1332.61,387.7 1332.86,387.6 1333.11,387.7 1333.36,387.5 1333.61,387.5 1333.86,387.5 1334.11,387.6 1334.36,387.6 1334.61,387.7 1334.86,387.7 1335.11,387.8 1335.36,387.7 1335.61,387.8 1335.86,387.7 1336.11,387.7 1336.36,387.7 1336.61,387.8 1336.86,387.9 1337.11,388.0 1337.36,387.9 1337.61,387.8 1337.86,387.8 1338.11,387.7 1338.36,387.6 1338.61,387.5 1338.86,387.4 1339.11,387.4 1339.36,387.6 1339.61,387.5 1339.86,387.5 1340.11,387.6 1340.36,387.6 1340.61,387.6 1340.86,387.6 1341.11,387.5 1341.36,387.6 1341.61,387.5 1341.86,387.5 1342.11,387.5 1342.36,387.5 1342.61,387.7 1342.86,387.8 1343.11,387.7 1343.36,387.6 1343.61,387.6 1343.86,387.7 1344.11,387.7 1344.36,387.5 1344.61,387.6 1344.86,387.7 1345.11,387.8 1345.36,387.9 1345.61,388.0 1345.86,388.0 1346.11,388.0 1346.36,388.0 1346.61,387.9 1346.86,388.0 1347.11,388.0 1347.36,388.1 1347.61,388.0 1347.86,388.2 1348.11,388.0 1348.36,387.9 1348.61,387.7 1348.86,387.8 1349.11,387.6 1349.36,387.6 1349.61,387.6 1349.86,387.5 1350.11,387.6 1350.36,387.7 1350.61,387.5 1350.86,387.5 1351.11,387.5 1351.36,387.4 1351.61,387.4 1351.86,387.4 1352.11,387.2 1352.36,387.3 1352.61,387.3 1352.86,387.3 1353.11,387.3 1353.36,387.4 1353.61,387.4 1353.86,387.5 1354.11,387.7 1354.36,387.7 1354.61,387.7 1354.86,387.8 1355.11,387.8 1355.36,387.7 1355.61,387.6 1355.86,387.6 1356.11,387.7 1356.36,387.8 1356.61,387.8 1356.86,387.8 1357.11,387.8 1357.36,387.8 1357.61,387.8 1357.86,387.7 1358.11,387.7 1358.36,387.6 1358.61,387.6 1358.86,387.6 1359.11,387.6 1359.36,387.5 1359.61,387.5 1359.86,387.4 1360.11,387.5 1360.36,387.5 1360.61,387.4 1360.86,387.4 1361.11,387.5 1361.36,387.6 1361.61,387.6 1361.86,387.6 1362.11,387.8 1362.36,387.8 1362.61,387.9 1362.86,387.9 1363.11,388.0 1363.36,387.9 1363.61,387.9 1363.86,388.0 1364.11,387.9 1364.36,387.8 1364.61,387.8 1364.86,387.8 1365.11,387.8 1365.36,387.8 1365.61,387.6 1365.86,387.6 1366.11,387.7 1366.36,387.5 1366.61,387.3 1366.86,387.5 1367.11,387.4 1367.36,387.4 1367.61,387.5 1367.86,387.7 1368.11,387.8 1368.36,387.9 1368.61,387.9 1368.86,388.0 1369.11,387.9 1369.36,387.9 1369.61,387.9 1369.86,387.8 1370.11,387.8 1370.36,387.7 1370.61,387.7 1370.86,387.6 1371.11,387.7 1371.36,387.6 1371.61,387.7 1371.86,387.8 1372.11,387.8 1372.36,387.6 1372.61,387.5 1372.86,387.6 1373.11,387.5 1373.36,387.5 1373.61,387.5 1373.86,387.4 1374.11,387.7 1374.36,387.7 1374.61,387.5 1374.86,387.6 1375.11,387.6 1375.36,387.5 1375.61,387.7 1375.86,387.5 1376.11,387.5 1376.36,387.5 1376.61,387.5 1376.86,387.5 1377.11,387.4 1377.36,387.4 1377.61,387.5 1377.86,387.5 1378.11,387.4 1378.36,387.7 1378.61,387.8 1378.86,388.1 1379.11,388.0 1379.36,387.9 1379.61,387.9 1379.86,388.0 1380.11,387.7 1380.36,387.5 1380.61,387.3 1380.86,387.1 1381.11,387.1 1381.36,387.1 1381.61,387.1 1381.86,387.3 1382.11,387.3 1382.36,387.4 1382.61,387.5 1382.86,387.6 1383.11,387.6 1383.36,387.5 1383.61,387.4 1383.86,387.4 1384.11,387.5 1384.36,387.6 1384.61,387.6 1384.86,387.6 1385.11,387.6 1385.36,387.6 1385.61,387.7 1385.86,387.7 1386.11,387.7 1386.36,387.7 1386.61,387.7 1386.86,387.7 1387.11,387.8 1387.36,387.7 1387.61,387.6 1387.86,387.6 1388.11,387.5 1388.36,387.3 1388.61,387.3 1388.86,387.4 1389.11,387.3 1389.36,387.4 1389.61,387.5 1389.86,387.5 1390.11,387.6 1390.36,387.6 1390.61,387.6 1390.86,387.5 1391.11,387.7 1391.36,387.7 1391.61,387.7 1391.86,387.8 1392.11,387.9 1392.36,387.8 1392.61,387.8 1392.86,387.6 1393.11,387.6 1393.36,387.6 1393.61,387.6 1393.86,387.4 1394.11,387.6 1394.36,387.7 1394.61,376.2 1394.86,359.6 1395.06,344.5 1395.11,347.4 1395.36,358.8 1395.61,366.6 1395.86,372.1 1396.11,375.9 1396.36,378.7 1396.61,380.6 1396.86,381.9 1397.11,383.0 1397.36,384.0 1397.61,384.5 1397.86,385.0 1398.11,385.5 1398.36,385.9 1398.61,386.1 1398.86,386.5 1399.11,386.7 1399.36,387.0 1399.61,387.1 1399.86,387.0 1400.11,387.0 1400.36,387.1 1400.61,387.1 1400.86,387.2 1401.11,387.1 1401.36,387.0 1401.61,387.1 1401.86,387.2 1402.11,387.3 1402.36,387.3 1402.61,387.3 1402.86,387.3 1403.11,387.3 1403.36,387.3 1403.61,387.3 1403.86,387.4 1404.11,387.4 1404.36,387.4 1404.61,387.4 1404.86,387.5 1405.11,387.6 1405.36,387.5 1405.61,387.4 1405.86,387.4 1406.11,387.4 1406.36,387.4 1406.61,387.4 1406.86,387.2 1407.11,387.1 1407.36,387.2 1407.61,387.1 1407.86,386.9 1408.11,386.9 1408.36,386.8 1408.61,387.0 1408.86,387.0 1409.11,387.1 1409.36,387.1 1409.61,387.3 1409.86,387.3 1410.11,387.3 1410.36,387.3 1410.61,387.4 1410.86,387.2 1411.11,387.3 1411.36,387.3 1411.61,387.4 1411.86,387.5 1412.11,387.5 1412.36,387.6 1412.61,387.7 1412.86,387.7 1413.11,387.6 1413.36,387.6 1413.61,387.6 1413.86,387.6 1414.11,387.6 1414.36,387.6 1414.61,387.7 1414.86,387.7 1415.11,387.6 1415.36,387.7 1415.61,387.7 1415.86,387.7 1416.11,387.6 1416.36,387.6 1416.61,387.6" stroke-width="1.7"/>
</g>
<g stroke="#0d0d0d" fill="none">
<line x1="90.8" y1="415.6" x2="334.6" y2="415.6" stroke-width="2.7"/>
<line x1="369.8" y1="415.6" x2="600.3" y2="415.6" stroke-width="2.7" stroke-linecap="round"/>
<line x1="92.1" y1="415.6" x2="92.1" y2="423.9" stroke-width="2.7" stroke-linecap="round"/>
<line x1="164.7" y1="415.6" x2="164.7" y2="423.9" stroke-width="2.7" stroke-linecap="round"/>
<line x1="237.3" y1="415.6" x2="237.3" y2="423.9" stroke-width="2.7" stroke-linecap="round"/>
<line x1="310.0" y1="415.6" x2="310.0" y2="423.9" stroke-width="2.7" stroke-linecap="round"/>
<line x1="438.9" y1="415.6" x2="438.9" y2="423.9" stroke-width="2.7" stroke-linecap="round"/>
<line x1="508.3" y1="415.6" x2="508.3" y2="423.9" stroke-width="2.7" stroke-linecap="round"/>
<line x1="577.6" y1="415.6" x2="577.6" y2="423.9" stroke-width="2.7" stroke-linecap="round"/>
<line x1="334.6" y1="411.3" x2="334.6" y2="420.9" stroke-width="2.7" stroke-linecap="round"/>
<line x1="369.8" y1="411.3" x2="369.8" y2="423.9" stroke-width="2.7" stroke-linecap="round"/>
<line x1="901.2" y1="410.3" x2="1148.8" y2="410.3" stroke-width="2.7"/>
<line x1="1183.4" y1="410.3" x2="1416.7" y2="410.3" stroke-width="2.7" stroke-linecap="round"/>
<line x1="902.6" y1="410.3" x2="902.6" y2="418.6" stroke-width="2.7" stroke-linecap="round"/>
<line x1="976.0" y1="410.3" x2="976.0" y2="418.6" stroke-width="2.7" stroke-linecap="round"/>
<line x1="1049.5" y1="410.3" x2="1049.5" y2="418.6" stroke-width="2.7" stroke-linecap="round"/>
<line x1="1123.0" y1="410.3" x2="1123.0" y2="418.6" stroke-width="2.7" stroke-linecap="round"/>
<line x1="1253.6" y1="410.3" x2="1253.6" y2="418.6" stroke-width="2.7" stroke-linecap="round"/>
<line x1="1323.6" y1="410.3" x2="1323.6" y2="418.6" stroke-width="2.7" stroke-linecap="round"/>
<line x1="1393.7" y1="410.3" x2="1393.7" y2="418.6" stroke-width="2.7" stroke-linecap="round"/>
<line x1="1148.8" y1="406.0" x2="1148.8" y2="415.6" stroke-width="2.7" stroke-linecap="round"/>
<line x1="1183.4" y1="406.0" x2="1183.4" y2="418.6" stroke-width="2.7" stroke-linecap="round"/>
<line x1="82.0" y1="333.1" x2="82.0" y2="409.6" stroke-width="2.8"/>
<line x1="890.7" y1="321.7" x2="890.7" y2="406.3" stroke-width="2.8"/>
<line x1="620.7" y1="115.0" x2="651.4" y2="115.0" stroke-width="1.5"/>
<line x1="620.7" y1="167.0" x2="651.4" y2="167.0" stroke-width="1.5"/>
<line x1="620.7" y1="219.7" x2="651.4" y2="219.7" stroke-width="1.5"/>
<line x1="620.7" y1="280.4" x2="651.4" y2="280.4" stroke-width="1.5"/>
<line x1="620.7" y1="339.0" x2="651.4" y2="339.0" stroke-width="1.5"/>
<line x1="620.7" y1="401.0" x2="651.4" y2="401.0" stroke-width="1.5"/>
<line x1="1434.1" y1="113.9" x2="1464.8" y2="113.9" stroke-width="1.5"/>
<line x1="1434.1" y1="168.2" x2="1464.8" y2="168.2" stroke-width="1.5"/>
<line x1="1434.1" y1="222.6" x2="1464.8" y2="222.6" stroke-width="1.5"/>
<line x1="1434.1" y1="276.9" x2="1464.8" y2="276.9" stroke-width="1.5"/>
<line x1="1434.1" y1="330.5" x2="1464.8" y2="330.5" stroke-width="1.5"/>
<line x1="1434.1" y1="384.4" x2="1464.8" y2="384.4" stroke-width="1.5"/>
</g>
<g fill="#0d0d0d" font-family='"Liberation Sans", Arial, Helvetica, sans-serif' style="font-kerning:none">
<text transform="translate(-0.04 45.70) scale(0.9750 1.02)" font-size="63.55" font-weight="bold">A</text>
<text transform="translate(786.96 45.80) scale(0.9750 1.02)" font-size="63.55" font-weight="bold">B</text>
<text transform="translate(2.46 596.50) scale(0.9750 1.02)" font-size="63.55" font-weight="bold">C</text>
<text transform="translate(787.16 597.10) scale(0.9750 1.02)" font-size="63.55" font-weight="bold">D</text>
<text transform="translate(2.16 1174.60) scale(0.9750 1.02)" font-size="63.55" font-weight="bold">E</text>
<text transform="translate(85.78 448.70) scale(0.9750 1)" font-size="23.37" font-weight="bold">0</text>
<text transform="translate(152.23 448.70) scale(0.9750 1)" font-size="23.37" font-weight="bold">30</text>
<text transform="translate(224.68 448.70) scale(0.9750 1)" font-size="23.37" font-weight="bold">60</text>
<text transform="translate(297.40 448.70) scale(0.9750 1)" font-size="23.37" font-weight="bold">90</text>
<text transform="translate(350.77 448.70) scale(0.9750 1)" font-size="23.37" font-weight="bold">700</text>
<text transform="translate(419.87 448.70) scale(0.9750 1)" font-size="23.37" font-weight="bold">730</text>
<text transform="translate(489.27 448.70) scale(0.9750 1)" font-size="23.37" font-weight="bold">760</text>
<text transform="translate(558.57 448.70) scale(0.9750 1)" font-size="23.37" font-weight="bold">790</text>
<text transform="translate(896.28 442.30) scale(0.9750 1)" font-size="23.37" font-weight="bold">0</text>
<text transform="translate(963.53 442.30) scale(0.9750 1)" font-size="23.37" font-weight="bold">30</text>
<text transform="translate(1036.88 442.30) scale(0.9750 1)" font-size="23.37" font-weight="bold">60</text>
<text transform="translate(1110.40 442.30) scale(0.9750 1)" font-size="23.37" font-weight="bold">90</text>
<text transform="translate(1164.37 442.30) scale(0.9750 1)" font-size="23.37" font-weight="bold">700</text>
<text transform="translate(1234.57 442.30) scale(0.9750 1)" font-size="23.37" font-weight="bold">730</text>
<text transform="translate(1304.57 442.30) scale(0.9750 1)" font-size="23.37" font-weight="bold">760</text>
<text transform="translate(1374.67 442.30) scale(0.9750 1)" font-size="23.37" font-weight="bold">790</text>
<text transform="translate(287.46 488.10) scale(0.9357 1)" font-size="32.80" font-weight="bold">Time (s)</text>
<text transform="translate(1100.66 482.90) scale(0.9357 1)" font-size="32.80" font-weight="bold">Time (s)</text>
<text transform="translate(598.41 71.30) scale(0.9820 1)" font-size="27.16" stroke="#0d0d0d" stroke-width="0.3">Epinephrine</text>
<text transform="translate(1415.15 65.40) scale(0.9894 1)" font-size="27.16" stroke="#0d0d0d" stroke-width="0.3">Acetylcholine</text>
<text transform="translate(667.00 124.50) scale(1.0100 1)" font-size="27.16" stroke="#0d0d0d" stroke-width="0.3">0nM</text>
<text transform="translate(667.00 176.50) scale(1.0100 1)" font-size="27.16" stroke="#0d0d0d" stroke-width="0.3">1nM</text>
<text transform="translate(667.00 230.40) scale(1.0100 1)" font-size="27.16" stroke="#0d0d0d" stroke-width="0.3">3nM</text>
<text transform="translate(667.00 289.90) scale(1.0100 1)" font-size="27.16" stroke="#0d0d0d" stroke-width="0.3">10nM</text>
<text transform="translate(667.00 348.50) scale(1.0100 1)" font-size="27.16" stroke="#0d0d0d" stroke-width="0.3">30nM</text>
<text transform="translate(667.00 410.40) scale(1.0100 1)" font-size="27.16" stroke="#0d0d0d" stroke-width="0.3">100nM</text>
<text transform="translate(1481.50 123.80) scale(1.0100 1)" font-size="27.16" stroke="#0d0d0d" stroke-width="0.3">0nM</text>
<text transform="translate(1481.50 177.70) scale(1.0100 1)" font-size="27.16" stroke="#0d0d0d" stroke-width="0.3">1nM</text>
<text transform="translate(1481.50 231.30) scale(1.0100 1)" font-size="27.16" stroke="#0d0d0d" stroke-width="0.3">3nM</text>
<text transform="translate(1481.50 285.90) scale(1.0100 1)" font-size="27.16" stroke="#0d0d0d" stroke-width="0.3">10nM</text>
<text transform="translate(1481.50 339.50) scale(1.0100 1)" font-size="27.16" stroke="#0d0d0d" stroke-width="0.3">30nM</text>
<text transform="translate(1481.50 394.60) scale(1.0100 1)" font-size="27.16" stroke="#0d0d0d" stroke-width="0.3">100nM</text>
<text transform="translate(69.2 422.3) rotate(-90) scale(0.985 1)" font-size="27.67" stroke="#0d0d0d" stroke-width="0.3">ΔF/F<tspan font-size="18.27" dy="5.5">0</tspan><tspan dy="-5.5">=2</tspan></text>
<text transform="translate(879.6 415.1) rotate(-90) scale(0.985 1)" font-size="27.67" stroke="#0d0d0d" stroke-width="0.3">ΔF/F<tspan font-size="18.27" dy="5.5">0</tspan><tspan dy="-5.5">=2</tspan></text>
</g>
<g stroke="#0d0d0d" fill="none">
<line x1="136.2" y1="613.2" x2="136.2" y2="1003.8" stroke-width="3.6"/>
<line x1="124.0" y1="1002.0" x2="136.2" y2="1002.0" stroke-width="3.6" stroke-linecap="round"/>
<line x1="124.0" y1="905.2" x2="136.2" y2="905.2" stroke-width="3.6" stroke-linecap="round"/>
<line x1="124.0" y1="808.5" x2="136.2" y2="808.5" stroke-width="3.6" stroke-linecap="round"/>
<line x1="124.0" y1="711.8" x2="136.2" y2="711.8" stroke-width="3.6" stroke-linecap="round"/>
<line x1="124.0" y1="615.0" x2="136.2" y2="615.0" stroke-width="3.6" stroke-linecap="round"/>
<line x1="136.2" y1="1002.0" x2="218.5" y2="1002.0" stroke-width="3.6"/>
<line x1="218.5" y1="996.5" x2="218.5" y2="1009.5" stroke-width="3.2" stroke-linecap="round"/>
<line x1="247.5" y1="996.5" x2="247.5" y2="1009.5" stroke-width="3.2" stroke-linecap="round"/>
<line x1="247.5" y1="1002.0" x2="716.5" y2="1002.0" stroke-width="3.6" stroke-linecap="round"/>
<line x1="184.8" y1="1002.0" x2="184.8" y2="1013.5" stroke-width="3.2" stroke-linecap="round"/>
<line x1="263.2" y1="1002.0" x2="263.2" y2="1013.5" stroke-width="3.2" stroke-linecap="round"/>
<line x1="344.0" y1="1002.0" x2="344.0" y2="1013.5" stroke-width="3.2" stroke-linecap="round"/>
<line x1="424.8" y1="1002.0" x2="424.8" y2="1013.5" stroke-width="3.2" stroke-linecap="round"/>
<line x1="505.6" y1="1002.0" x2="505.6" y2="1013.5" stroke-width="3.2" stroke-linecap="round"/>
<line x1="586.4" y1="1002.0" x2="586.4" y2="1013.5" stroke-width="3.2" stroke-linecap="round"/>
<line x1="667.2" y1="1002.0" x2="667.2" y2="1013.5" stroke-width="3.2" stroke-linecap="round"/>
<polyline points="247.5,885.3 252.8,882.8 258.1,880.2 263.5,877.4 268.8,874.5 274.1,871.4 279.4,868.2 284.7,864.9 290.0,861.4 295.3,857.8 300.6,854.0 306.0,850.1 311.3,846.1 316.6,842.0 321.9,837.7 327.2,833.4 332.5,828.9 337.8,824.4 343.1,819.8 348.5,815.2 353.8,810.5 359.1,805.7 364.4,801.0 369.7,796.2 375.0,791.5 380.3,786.8 385.6,782.1 391.0,777.5 396.3,772.9 401.6,768.4 406.9,764.0 412.2,759.7 417.5,755.6 422.8,751.5 428.1,747.5 433.5,743.7 438.8,740.0 444.1,736.5 449.4,733.1 454.7,729.8 460.0,726.7 465.3,723.7 470.6,720.9 476.0,718.2 481.3,715.6 486.6,713.2 491.9,710.9 497.2,708.7 502.5,706.6 507.8,704.7 513.1,702.9 518.5,701.2 523.8,699.5 529.1,698.0 534.4,696.6 539.7,695.3 545.0,694.1 550.3,692.9 555.6,691.8 561.0,690.8 566.3,689.9 571.6,689.0 576.9,688.2 582.2,687.4 587.5,686.7 592.8,686.0 598.1,685.4 603.5,684.8 608.8,684.3 614.1,683.8 619.4,683.3 624.7,682.9 630.0,682.5 635.3,682.1 640.6,681.8 646.0,681.5 651.3,681.2 656.6,680.9 661.9,680.7 667.2,680.4" stroke-width="2.1"/>
<polyline points="247.5,910.8 252.8,911.6 258.1,912.4 263.5,913.3 268.8,914.2 274.1,915.1 279.4,916.1 284.7,917.1 290.0,918.2 295.3,919.3 300.6,920.5 306.0,921.7 311.3,922.9 316.6,924.2 321.9,925.6 327.2,927.0 332.5,928.4 337.8,929.9 343.1,931.4 348.5,932.9 353.8,934.5 359.1,936.1 364.4,937.7 369.7,939.3 375.0,941.0 380.3,942.7 385.6,944.3 391.0,946.0 396.3,947.7 401.6,949.4 406.9,951.1 412.2,952.8 417.5,954.5 422.8,956.1 428.1,957.7 433.5,959.3 438.8,960.9 444.1,962.4 449.4,964.0 454.7,965.4 460.0,966.9 465.3,968.2 470.6,969.6 476.0,970.9 481.3,972.2 486.6,973.4 491.9,974.6 497.2,975.7 502.5,976.8 507.8,977.8 513.1,978.8 518.5,979.7 523.8,980.6 529.1,981.5 534.4,982.3 539.7,983.1 545.0,983.8 550.3,984.5 555.6,985.2 561.0,985.8 566.3,986.4 571.6,987.0 576.9,987.5 582.2,988.0 587.5,988.5 592.8,988.9 598.1,989.3 603.5,989.7 608.8,990.1 614.1,990.5 619.4,990.8 624.7,991.1 630.0,991.4 635.3,991.6 640.6,991.9 646.0,992.1 651.3,992.4 656.6,992.6 661.9,992.8 667.2,992.9" stroke-width="2.1"/>
<line x1="190.0" y1="904.5" x2="218.5" y2="897.3" stroke-width="1.9" stroke-linecap="round"/>
<line x1="190.0" y1="906.0" x2="218.5" y2="907.2" stroke-width="1.9" stroke-linecap="round"/>
</g>
<g stroke="#0d0d0d" stroke-width="2.1">
<line x1="344.0" y1="814.5" x2="344.0" y2="810.2"/>
<line x1="335.5" y1="810.2" x2="352.5" y2="810.2"/>
<line x1="421.1" y1="754.8" x2="421.1" y2="753.3"/>
<line x1="412.6" y1="753.3" x2="429.6" y2="753.3"/>
<line x1="506.2" y1="689.3" x2="506.2" y2="663.2"/>
<line x1="497.7" y1="663.2" x2="514.7" y2="663.2"/>
<line x1="582.9" y1="673.6" x2="582.9" y2="663.2"/>
<line x1="574.4" y1="663.2" x2="591.4" y2="663.2"/>
<line x1="667.4" y1="686.3" x2="667.4" y2="668.8"/>
<line x1="658.9" y1="668.8" x2="675.9" y2="668.8"/>
<circle cx="184.8" cy="905.5" r="8.0" fill="#0d0d0d" stroke="none"/>
<circle cx="344.0" cy="821.9" r="8.0" fill="#0d0d0d" stroke="none"/>
<circle cx="421.1" cy="762.2" r="8.0" fill="#0d0d0d" stroke="none"/>
<circle cx="506.2" cy="696.7" r="8.0" fill="#0d0d0d" stroke="none"/>
<circle cx="582.9" cy="681.0" r="8.0" fill="#0d0d0d" stroke="none"/>
<circle cx="667.4" cy="693.7" r="8.0" fill="#0d0d0d" stroke="none"/>
<circle cx="344.0" cy="931.1" r="7.4" fill="none" stroke-width="1.9"/>
<circle cx="421.1" cy="951.4" r="7.4" fill="none" stroke-width="1.9"/>
<circle cx="506.2" cy="988.8" r="7.4" fill="none" stroke-width="1.9"/>
<circle cx="582.9" cy="988.3" r="7.4" fill="none" stroke-width="1.9"/>
<circle cx="667.4" cy="989.3" r="7.4" fill="none" stroke-width="1.9"/>
<line x1="180.4" y1="633.4" x2="221.7" y2="633.4" stroke-width="2.3" stroke-linecap="round"/>
<circle cx="200.8" cy="633.4" r="7.9" fill="#0d0d0d" stroke="none"/>
<circle cx="200.8" cy="678.1" r="7.7" fill="none" stroke-width="2.0"/>
<line x1="180.4" y1="678.1" x2="221.7" y2="678.1" stroke-width="2.3" stroke-linecap="round"/>
</g>
<g fill="#0d0d0d" font-family='"Liberation Sans", Arial, Helvetica, sans-serif' style="font-kerning:none">
<text transform="translate(243.20 643.50) scale(0.9850 1)" font-size="32.39" stroke="#0d0d0d" stroke-width="0.3">Epinephrine</text>
<text transform="translate(243.20 688.00) scale(0.9850 1)" font-size="32.39" stroke="#0d0d0d" stroke-width="0.3">Acetylcholine</text>
<text transform="translate(106.48 1010.90) scale(0.9750 1)" font-size="29.31" font-weight="bold">0</text>
<text transform="translate(74.68 914.15) scale(0.9750 1)" font-size="29.31" font-weight="bold">100</text>
<text transform="translate(74.68 817.40) scale(0.9750 1)" font-size="29.31" font-weight="bold">200</text>
<text transform="translate(74.68 720.65) scale(0.9750 1)" font-size="29.31" font-weight="bold">300</text>
<text transform="translate(74.68 623.90) scale(0.9750 1)" font-size="29.31" font-weight="bold">400</text>
<text transform="translate(157.09 1046.80) scale(0.9415 1)" font-size="32.49" font-weight="bold">Veh</text>
<text transform="translate(235.23 1046.80) scale(1.0034 1)" font-size="32.49" font-weight="bold">-9.5</text>
<text transform="translate(316.02 1046.80) scale(1.0115 1)" font-size="32.49" font-weight="bold">-9.0</text>
<text transform="translate(396.83 1046.80) scale(1.0034 1)" font-size="32.49" font-weight="bold">-8.5</text>
<text transform="translate(477.62 1046.80) scale(1.0115 1)" font-size="32.49" font-weight="bold">-8.0</text>
<text transform="translate(558.43 1046.80) scale(1.0034 1)" font-size="32.49" font-weight="bold">-7.5</text>
<text transform="translate(639.22 1046.80) scale(1.0115 1)" font-size="32.49" font-weight="bold">-7.0</text>
<text transform="translate(298.43 1094.40) scale(0.9850 1)" font-size="37.41" font-weight="bold">Log [Drugs] M</text>
<text transform="translate(54.60 981.13) rotate(-90) scale(0.9725 1)" font-size="32.80" font-weight="bold">Frequency (% Control)</text>
</g>
<g stroke="#0d0d0d" fill="none">
<line x1="922.6" y1="612.4" x2="922.6" y2="1002.2" stroke-width="3.6"/>
<line x1="910.4" y1="1000.4" x2="922.6" y2="1000.4" stroke-width="3.6" stroke-linecap="round"/>
<line x1="910.4" y1="903.9" x2="922.6" y2="903.9" stroke-width="3.6" stroke-linecap="round"/>
<line x1="910.4" y1="807.3" x2="922.6" y2="807.3" stroke-width="3.6" stroke-linecap="round"/>
<line x1="910.4" y1="710.8" x2="922.6" y2="710.8" stroke-width="3.6" stroke-linecap="round"/>
<line x1="910.4" y1="614.2" x2="922.6" y2="614.2" stroke-width="3.6" stroke-linecap="round"/>
<line x1="922.6" y1="1000.4" x2="1005.5" y2="1000.4" stroke-width="3.6"/>
<line x1="1005.5" y1="994.9" x2="1005.5" y2="1007.9" stroke-width="3.2" stroke-linecap="round"/>
<line x1="1034.4" y1="994.9" x2="1034.4" y2="1007.9" stroke-width="3.2" stroke-linecap="round"/>
<line x1="1034.4" y1="1000.4" x2="1501.6" y2="1000.4" stroke-width="3.6" stroke-linecap="round"/>
<line x1="972.0" y1="1000.4" x2="972.0" y2="1011.9" stroke-width="3.2" stroke-linecap="round"/>
<line x1="1049.7" y1="1000.4" x2="1049.7" y2="1011.9" stroke-width="3.2" stroke-linecap="round"/>
<line x1="1130.4" y1="1000.4" x2="1130.4" y2="1011.9" stroke-width="3.2" stroke-linecap="round"/>
<line x1="1211.1" y1="1000.4" x2="1211.1" y2="1011.9" stroke-width="3.2" stroke-linecap="round"/>
<line x1="1291.8" y1="1000.4" x2="1291.8" y2="1011.9" stroke-width="3.2" stroke-linecap="round"/>
<line x1="1372.4" y1="1000.4" x2="1372.4" y2="1011.9" stroke-width="3.2" stroke-linecap="round"/>
<line x1="1453.1" y1="1000.4" x2="1453.1" y2="1011.9" stroke-width="3.2" stroke-linecap="round"/>
<polyline points="1034.6,884.1 1039.9,881.6 1045.2,879.0 1050.5,876.4 1055.8,873.6 1061.0,870.8 1066.3,867.9 1071.6,864.9 1076.9,861.8 1082.2,858.7 1087.5,855.5 1092.8,852.2 1098.1,848.9 1103.4,845.6 1108.7,842.3 1114.0,838.9 1119.3,835.5 1124.6,832.2 1129.9,828.8 1135.2,825.5 1140.5,822.2 1145.8,818.9 1151.1,815.7 1156.4,812.5 1161.7,809.4 1167.0,806.4 1172.3,803.5 1177.6,800.6 1182.9,797.8 1188.2,795.1 1193.5,792.5 1198.8,790.0 1204.1,787.6 1209.4,785.3 1214.7,783.0 1220.0,780.9 1225.3,778.9 1230.6,777.0 1235.9,775.1 1241.2,773.4 1246.5,771.7 1251.8,770.2 1257.1,768.7 1262.4,767.3 1267.7,766.0 1273.0,764.7 1278.3,763.5 1283.6,762.4 1288.9,761.4 1294.2,760.4 1299.5,759.5 1304.8,758.7 1310.1,757.9 1315.4,757.1 1320.7,756.4 1325.9,755.8 1331.2,755.1 1336.5,754.6 1341.8,754.0 1347.1,753.5 1352.4,753.1 1357.7,752.6 1363.0,752.2 1368.3,751.9 1373.6,751.5 1378.9,751.2 1384.2,750.9 1389.5,750.6 1394.8,750.3 1400.1,750.1 1405.4,749.9 1410.7,749.6 1416.0,749.4 1421.3,749.3 1426.6,749.1 1431.9,748.9 1437.2,748.8 1442.5,748.7 1447.8,748.5 1453.1,748.4" stroke-width="2.1"/>
<polyline points="1034.6,903.6 1039.9,903.2 1045.2,902.7 1050.5,902.2 1055.8,901.7 1061.0,901.1 1066.3,900.5 1071.6,899.9 1076.9,899.2 1082.2,898.5 1087.5,897.7 1092.8,896.9 1098.1,896.1 1103.4,895.2 1108.7,894.2 1114.0,893.3 1119.3,892.2 1124.6,891.1 1129.9,890.0 1135.2,888.8 1140.5,887.6 1145.8,886.3 1151.1,885.0 1156.4,883.7 1161.7,882.2 1167.0,880.8 1172.3,879.3 1177.6,877.8 1182.9,876.2 1188.2,874.6 1193.5,873.0 1198.8,871.4 1204.1,869.7 1209.4,868.0 1214.7,866.3 1220.0,864.6 1225.3,863.0 1230.6,861.3 1235.9,859.6 1241.2,857.9 1246.5,856.3 1251.8,854.6 1257.1,853.0 1262.4,851.5 1267.7,849.9 1273.0,848.4 1278.3,847.0 1283.6,845.6 1288.9,844.2 1294.2,842.8 1299.5,841.6 1304.8,840.3 1310.1,839.1 1315.4,838.0 1320.7,836.9 1325.9,835.9 1331.2,834.9 1336.5,833.9 1341.8,833.0 1347.1,832.1 1352.4,831.3 1357.7,830.6 1363.0,829.8 1368.3,829.1 1373.6,828.5 1378.9,827.9 1384.2,827.3 1389.5,826.8 1394.8,826.3 1400.1,825.8 1405.4,825.3 1410.7,824.9 1416.0,824.5 1421.3,824.1 1426.6,823.8 1431.9,823.5 1437.2,823.2 1442.5,822.9 1447.8,822.6 1453.1,822.4" stroke-width="2.1"/>
<line x1="977.0" y1="902.5" x2="1005.4" y2="896.1" stroke-width="1.9" stroke-linecap="round"/>
<line x1="977.0" y1="905.3" x2="1005.4" y2="905.7" stroke-width="1.9" stroke-linecap="round"/>
</g>
<g stroke="#0d0d0d" stroke-width="2.1">
<line x1="971.9" y1="897.1" x2="971.9" y2="894.8"/>
<line x1="963.4" y1="894.8" x2="980.4" y2="894.8"/>
<line x1="1130.4" y1="836.2" x2="1130.4" y2="831.8"/>
<line x1="1121.9" y1="831.8" x2="1138.9" y2="831.8"/>
<line x1="1207.6" y1="769.4" x2="1207.6" y2="760.2"/>
<line x1="1199.1" y1="760.2" x2="1216.1" y2="760.2"/>
<line x1="1291.8" y1="733.5" x2="1291.8" y2="730.5"/>
<line x1="1283.3" y1="730.5" x2="1300.3" y2="730.5"/>
<line x1="1368.8" y1="744.3" x2="1368.8" y2="734.8"/>
<line x1="1360.3" y1="734.8" x2="1377.3" y2="734.8"/>
<line x1="1453.1" y1="760.5" x2="1453.1" y2="745.2"/>
<line x1="1444.6" y1="745.2" x2="1461.6" y2="745.2"/>
<line x1="1130.4" y1="890.3" x2="1130.4" y2="887.4"/>
<line x1="1121.9" y1="887.4" x2="1138.9" y2="887.4"/>
<line x1="1207.6" y1="866.7" x2="1207.6" y2="855.4"/>
<line x1="1199.1" y1="855.4" x2="1216.1" y2="855.4"/>
<line x1="1291.8" y1="816.4" x2="1291.8" y2="809.7"/>
<line x1="1283.3" y1="809.7" x2="1300.3" y2="809.7"/>
<line x1="1368.8" y1="811.6" x2="1368.8" y2="788.1"/>
<line x1="1360.3" y1="788.1" x2="1377.3" y2="788.1"/>
<line x1="1453.1" y1="827.8" x2="1453.1" y2="818.9"/>
<line x1="1444.6" y1="818.9" x2="1461.6" y2="818.9"/>
<circle cx="971.9" cy="904.4" r="7.8" fill="#0d0d0d" stroke="none"/>
<circle cx="1130.4" cy="843.5" r="7.8" fill="#0d0d0d" stroke="none"/>
<circle cx="1207.6" cy="776.7" r="7.8" fill="#0d0d0d" stroke="none"/>
<circle cx="1291.8" cy="740.8" r="7.8" fill="#0d0d0d" stroke="none"/>
<circle cx="1368.8" cy="751.6" r="7.8" fill="#0d0d0d" stroke="none"/>
<circle cx="1453.1" cy="767.8" r="7.8" fill="#0d0d0d" stroke="none"/>
<circle cx="1130.4" cy="897.6" r="7.3" fill="none" stroke-width="1.9"/>
<circle cx="1207.6" cy="874.0" r="7.3" fill="none" stroke-width="1.9"/>
<circle cx="1291.8" cy="823.7" r="7.3" fill="none" stroke-width="1.9"/>
<circle cx="1368.8" cy="818.9" r="7.3" fill="none" stroke-width="1.9"/>
<circle cx="1453.1" cy="835.1" r="7.3" fill="none" stroke-width="1.9"/>
<line x1="966.9" y1="633.4" x2="1008.2" y2="633.4" stroke-width="2.3" stroke-linecap="round"/>
<circle cx="987.3" cy="633.4" r="7.9" fill="#0d0d0d" stroke="none"/>
<circle cx="987.3" cy="677.7" r="7.7" fill="none" stroke-width="2.0"/>
<line x1="966.9" y1="677.7" x2="1008.2" y2="677.7" stroke-width="2.3" stroke-linecap="round"/>
</g>
<g fill="#0d0d0d" font-family='"Liberation Sans", Arial, Helvetica, sans-serif' style="font-kerning:none">
<text transform="translate(1029.50 643.50) scale(0.9850 1)" font-size="32.39" stroke="#0d0d0d" stroke-width="0.3">Epinephrine</text>
<text transform="translate(1029.50 687.60) scale(0.9850 1)" font-size="32.39" stroke="#0d0d0d" stroke-width="0.3">Acetylcholine</text>
<text transform="translate(873.28 1011.10) scale(0.9750 1)" font-size="32.29" font-weight="bold">90</text>
<text transform="translate(855.77 914.55) scale(0.9750 1)" font-size="32.29" font-weight="bold">100</text>
<text transform="translate(855.77 818.00) scale(0.9750 1)" font-size="32.29" font-weight="bold">110</text>
<text transform="translate(855.77 721.45) scale(0.9750 1)" font-size="32.29" font-weight="bold">120</text>
<text transform="translate(855.77 624.90) scale(0.9750 1)" font-size="32.29" font-weight="bold">130</text>
<text transform="translate(944.29 1045.20) scale(0.9415 1)" font-size="32.49" font-weight="bold">Veh</text>
<text transform="translate(1021.75 1045.20) scale(1.0034 1)" font-size="32.49" font-weight="bold">-9.5</text>
<text transform="translate(1102.42 1045.20) scale(1.0115 1)" font-size="32.49" font-weight="bold">-9.0</text>
<text transform="translate(1183.10 1045.20) scale(1.0034 1)" font-size="32.49" font-weight="bold">-8.5</text>
<text transform="translate(1263.77 1045.20) scale(1.0115 1)" font-size="32.49" font-weight="bold">-8.0</text>
<text transform="translate(1344.45 1045.20) scale(1.0034 1)" font-size="32.49" font-weight="bold">-7.5</text>
<text transform="translate(1425.12 1045.20) scale(1.0115 1)" font-size="32.49" font-weight="bold">-7.0</text>
<text transform="translate(1084.73 1092.80) scale(0.9850 1)" font-size="37.41" font-weight="bold">Log [Drugs] M</text>
<text transform="translate(836.50 973.99) rotate(-90) scale(0.9837 1)" font-size="32.18" font-weight="bold">Amplitude (% Control)</text>
</g>
<g stroke="#0d0d0d" fill="none">
<line x1="148.2" y1="1202.6" x2="148.2" y2="1592.6" stroke-width="3.6"/>
<line x1="136.0" y1="1590.8" x2="148.2" y2="1590.8" stroke-width="3.6" stroke-linecap="round"/>
<line x1="136.0" y1="1494.2" x2="148.2" y2="1494.2" stroke-width="3.6" stroke-linecap="round"/>
<line x1="136.0" y1="1397.6" x2="148.2" y2="1397.6" stroke-width="3.6" stroke-linecap="round"/>
<line x1="136.0" y1="1301.0" x2="148.2" y2="1301.0" stroke-width="3.6" stroke-linecap="round"/>
<line x1="136.0" y1="1204.4" x2="148.2" y2="1204.4" stroke-width="3.6" stroke-linecap="round"/>
<line x1="148.2" y1="1590.8" x2="231.0" y2="1590.8" stroke-width="3.6"/>
<line x1="231.0" y1="1585.3" x2="231.0" y2="1598.3" stroke-width="3.2" stroke-linecap="round"/>
<line x1="259.4" y1="1585.3" x2="259.4" y2="1598.3" stroke-width="3.2" stroke-linecap="round"/>
<line x1="259.4" y1="1590.8" x2="727.0" y2="1590.8" stroke-width="3.6" stroke-linecap="round"/>
<line x1="197.2" y1="1590.8" x2="197.2" y2="1602.3" stroke-width="3.2" stroke-linecap="round"/>
<line x1="274.9" y1="1590.8" x2="274.9" y2="1602.3" stroke-width="3.2" stroke-linecap="round"/>
<line x1="355.4" y1="1590.8" x2="355.4" y2="1602.3" stroke-width="3.2" stroke-linecap="round"/>
<line x1="435.9" y1="1590.8" x2="435.9" y2="1602.3" stroke-width="3.2" stroke-linecap="round"/>
<line x1="516.4" y1="1590.8" x2="516.4" y2="1602.3" stroke-width="3.2" stroke-linecap="round"/>
<line x1="596.9" y1="1590.8" x2="596.9" y2="1602.3" stroke-width="3.2" stroke-linecap="round"/>
<line x1="677.4" y1="1590.8" x2="677.4" y2="1602.3" stroke-width="3.2" stroke-linecap="round"/>
<polyline points="258.8,1302.4 264.1,1302.9 269.4,1303.6 274.7,1304.4 280.0,1305.5 285.3,1306.9 290.6,1308.8 295.9,1311.3 301.2,1314.4 306.5,1318.5 311.8,1323.6 317.1,1329.9 322.4,1337.6 327.7,1346.8 333.0,1357.4 338.3,1369.3 343.6,1382.2 348.9,1395.6 354.2,1408.9 359.5,1421.7 364.8,1433.5 370.1,1444.0 375.4,1453.1 380.7,1460.6 386.0,1466.8 391.3,1471.8 396.6,1475.8 401.9,1478.9 407.2,1481.3 412.5,1483.1 417.8,1484.5 423.1,1485.6 428.4,1486.4 433.7,1487.0 439.0,1487.5 444.3,1487.8 449.6,1488.1 454.9,1488.3 460.2,1488.4 465.5,1488.5 470.7,1488.6 476.0,1488.7 481.3,1488.7 486.6,1488.8 491.9,1488.8 497.2,1488.8 502.5,1488.8 507.8,1488.9 513.1,1488.9 518.4,1488.9 523.7,1488.9 529.0,1488.9 534.3,1488.9 539.6,1488.9 544.9,1488.9 550.2,1488.9 555.5,1488.9 560.8,1488.9 566.1,1488.9 571.4,1488.9 576.7,1488.9 582.0,1488.9 587.3,1488.9 592.6,1488.9 597.9,1488.9 603.2,1488.9 608.5,1488.9 613.8,1488.9 619.1,1488.9 624.4,1488.9 629.7,1488.9 635.0,1488.9 640.3,1488.9 645.6,1488.9 650.9,1488.9 656.2,1488.9 661.5,1488.9 666.8,1488.9 672.1,1488.9 677.4,1488.9" stroke-width="2.1"/>
<polyline points="258.8,1295.2 264.1,1295.2 269.4,1295.3 274.7,1295.3 280.0,1295.3 285.3,1295.4 290.6,1295.4 295.9,1295.4 301.2,1295.4 306.5,1295.5 311.8,1295.5 317.1,1295.5 322.4,1295.6 327.7,1295.6 333.0,1295.6 338.3,1295.7 343.6,1295.7 348.9,1295.7 354.2,1295.8 359.5,1295.8 364.8,1295.8 370.1,1295.8 375.4,1295.9 380.7,1295.9 386.0,1295.9 391.3,1296.0 396.6,1296.0 401.9,1296.0 407.2,1296.1 412.5,1296.1 417.8,1296.1 423.1,1296.2 428.4,1296.2 433.7,1296.2 439.0,1296.2 444.3,1296.3 449.6,1296.3 454.9,1296.3 460.2,1296.4 465.5,1296.4 470.7,1296.4 476.0,1296.5 481.3,1296.5 486.6,1296.5 491.9,1296.5 497.2,1296.6 502.5,1296.6 507.8,1296.6 513.1,1296.7 518.4,1296.7 523.7,1296.7 529.0,1296.8 534.3,1296.8 539.6,1296.8 544.9,1296.9 550.2,1296.9 555.5,1296.9 560.8,1296.9 566.1,1297.0 571.4,1297.0 576.7,1297.0 582.0,1297.1 587.3,1297.1 592.6,1297.1 597.9,1297.2 603.2,1297.2 608.5,1297.2 613.8,1297.3 619.1,1297.3 624.4,1297.3 629.7,1297.3 635.0,1297.4 640.3,1297.4 645.6,1297.4 650.9,1297.5 656.2,1297.5 661.5,1297.5 666.8,1297.6 672.1,1297.6 677.4,1297.6" stroke-width="2.1"/>
<line x1="201.0" y1="1295.0" x2="231.0" y2="1295.0" stroke-width="1.9" stroke-linecap="round"/>
<line x1="201.0" y1="1301.2" x2="226.0" y2="1301.3" stroke-width="1.9" stroke-linecap="round"/>
<line x1="226.0" y1="1301.3" x2="231.0" y2="1301.8" stroke-width="1.9" stroke-linecap="round"/>
</g>
<g stroke="#0d0d0d" stroke-width="2.1">
<line x1="432.4" y1="1480.1" x2="432.4" y2="1472.2"/>
<line x1="423.9" y1="1472.2" x2="440.9" y2="1472.2"/>
<line x1="432.4" y1="1277.6" x2="432.4" y2="1274.6"/>
<line x1="423.9" y1="1274.6" x2="440.9" y2="1274.6"/>
<line x1="593.4" y1="1290.9" x2="593.4" y2="1287.6"/>
<line x1="584.9" y1="1287.6" x2="601.9" y2="1287.6"/>
<line x1="677.4" y1="1289.6" x2="677.4" y2="1275.9"/>
<line x1="668.9" y1="1275.9" x2="685.9" y2="1275.9"/>
<circle cx="196.8" cy="1301.6" r="8.2" fill="#0d0d0d" stroke="none"/>
<circle cx="355.4" cy="1410.0" r="8.2" fill="#0d0d0d" stroke="none"/>
<circle cx="432.4" cy="1487.5" r="8.2" fill="#0d0d0d" stroke="none"/>
<circle cx="516.7" cy="1485.4" r="8.2" fill="#0d0d0d" stroke="none"/>
<circle cx="593.4" cy="1492.5" r="8.2" fill="#0d0d0d" stroke="none"/>
<circle cx="677.4" cy="1491.3" r="8.2" fill="#0d0d0d" stroke="none"/>
<circle cx="355.4" cy="1287.6" r="7.4" fill="none" stroke-width="1.9"/>
<circle cx="432.4" cy="1285.0" r="7.4" fill="none" stroke-width="1.9"/>
<circle cx="516.7" cy="1300.8" r="7.4" fill="none" stroke-width="1.9"/>
<circle cx="593.4" cy="1298.3" r="7.4" fill="none" stroke-width="1.9"/>
<circle cx="677.4" cy="1297.0" r="7.4" fill="none" stroke-width="1.9"/>
<line x1="192.1" y1="1195.7" x2="233.4" y2="1195.7" stroke-width="2.3" stroke-linecap="round"/>
<circle cx="212.5" cy="1195.7" r="7.9" fill="#0d0d0d" stroke="none"/>
<circle cx="212.5" cy="1239.9" r="7.7" fill="none" stroke-width="2.0"/>
<line x1="192.1" y1="1239.9" x2="233.4" y2="1239.9" stroke-width="2.3" stroke-linecap="round"/>
</g>
<g fill="#0d0d0d" font-family='"Liberation Sans", Arial, Helvetica, sans-serif' style="font-kerning:none">
<text transform="translate(255.20 1205.80) scale(0.9850 1)" font-size="32.39" stroke="#0d0d0d" stroke-width="0.3">Epinephrine</text>
<text transform="translate(255.20 1249.80) scale(0.9850 1)" font-size="32.39" stroke="#0d0d0d" stroke-width="0.3">Acetylcholine</text>
<text transform="translate(99.18 1601.70) scale(0.9750 1)" font-size="32.29" font-weight="bold">40</text>
<text transform="translate(99.18 1505.10) scale(0.9750 1)" font-size="32.29" font-weight="bold">60</text>
<text transform="translate(99.18 1408.50) scale(0.9750 1)" font-size="32.29" font-weight="bold">80</text>
<text transform="translate(81.67 1311.90) scale(0.9750 1)" font-size="32.29" font-weight="bold">100</text>
<text transform="translate(81.67 1215.30) scale(0.9750 1)" font-size="32.29" font-weight="bold">120</text>
<text transform="translate(169.49 1635.60) scale(0.9415 1)" font-size="32.49" font-weight="bold">Veh</text>
<text transform="translate(246.93 1635.60) scale(1.0034 1)" font-size="32.49" font-weight="bold">-9.5</text>
<text transform="translate(327.42 1635.60) scale(1.0115 1)" font-size="32.49" font-weight="bold">-9.0</text>
<text transform="translate(407.93 1635.60) scale(1.0034 1)" font-size="32.49" font-weight="bold">-8.5</text>
<text transform="translate(488.42 1635.60) scale(1.0115 1)" font-size="32.49" font-weight="bold">-8.0</text>
<text transform="translate(568.93 1635.60) scale(1.0034 1)" font-size="32.49" font-weight="bold">-7.5</text>
<text transform="translate(649.42 1635.60) scale(1.0115 1)" font-size="32.49" font-weight="bold">-7.0</text>
<text transform="translate(310.33 1683.20) scale(0.9850 1)" font-size="37.41" font-weight="bold">Log [Drugs] M</text>
<text transform="translate(62.30 1538.93) rotate(-90) scale(0.9750 1)" font-size="31.06" font-weight="bold" letter-spacing="1.217">FWHM (% Control)</text>
</g>
</svg>
</body>
</html>
